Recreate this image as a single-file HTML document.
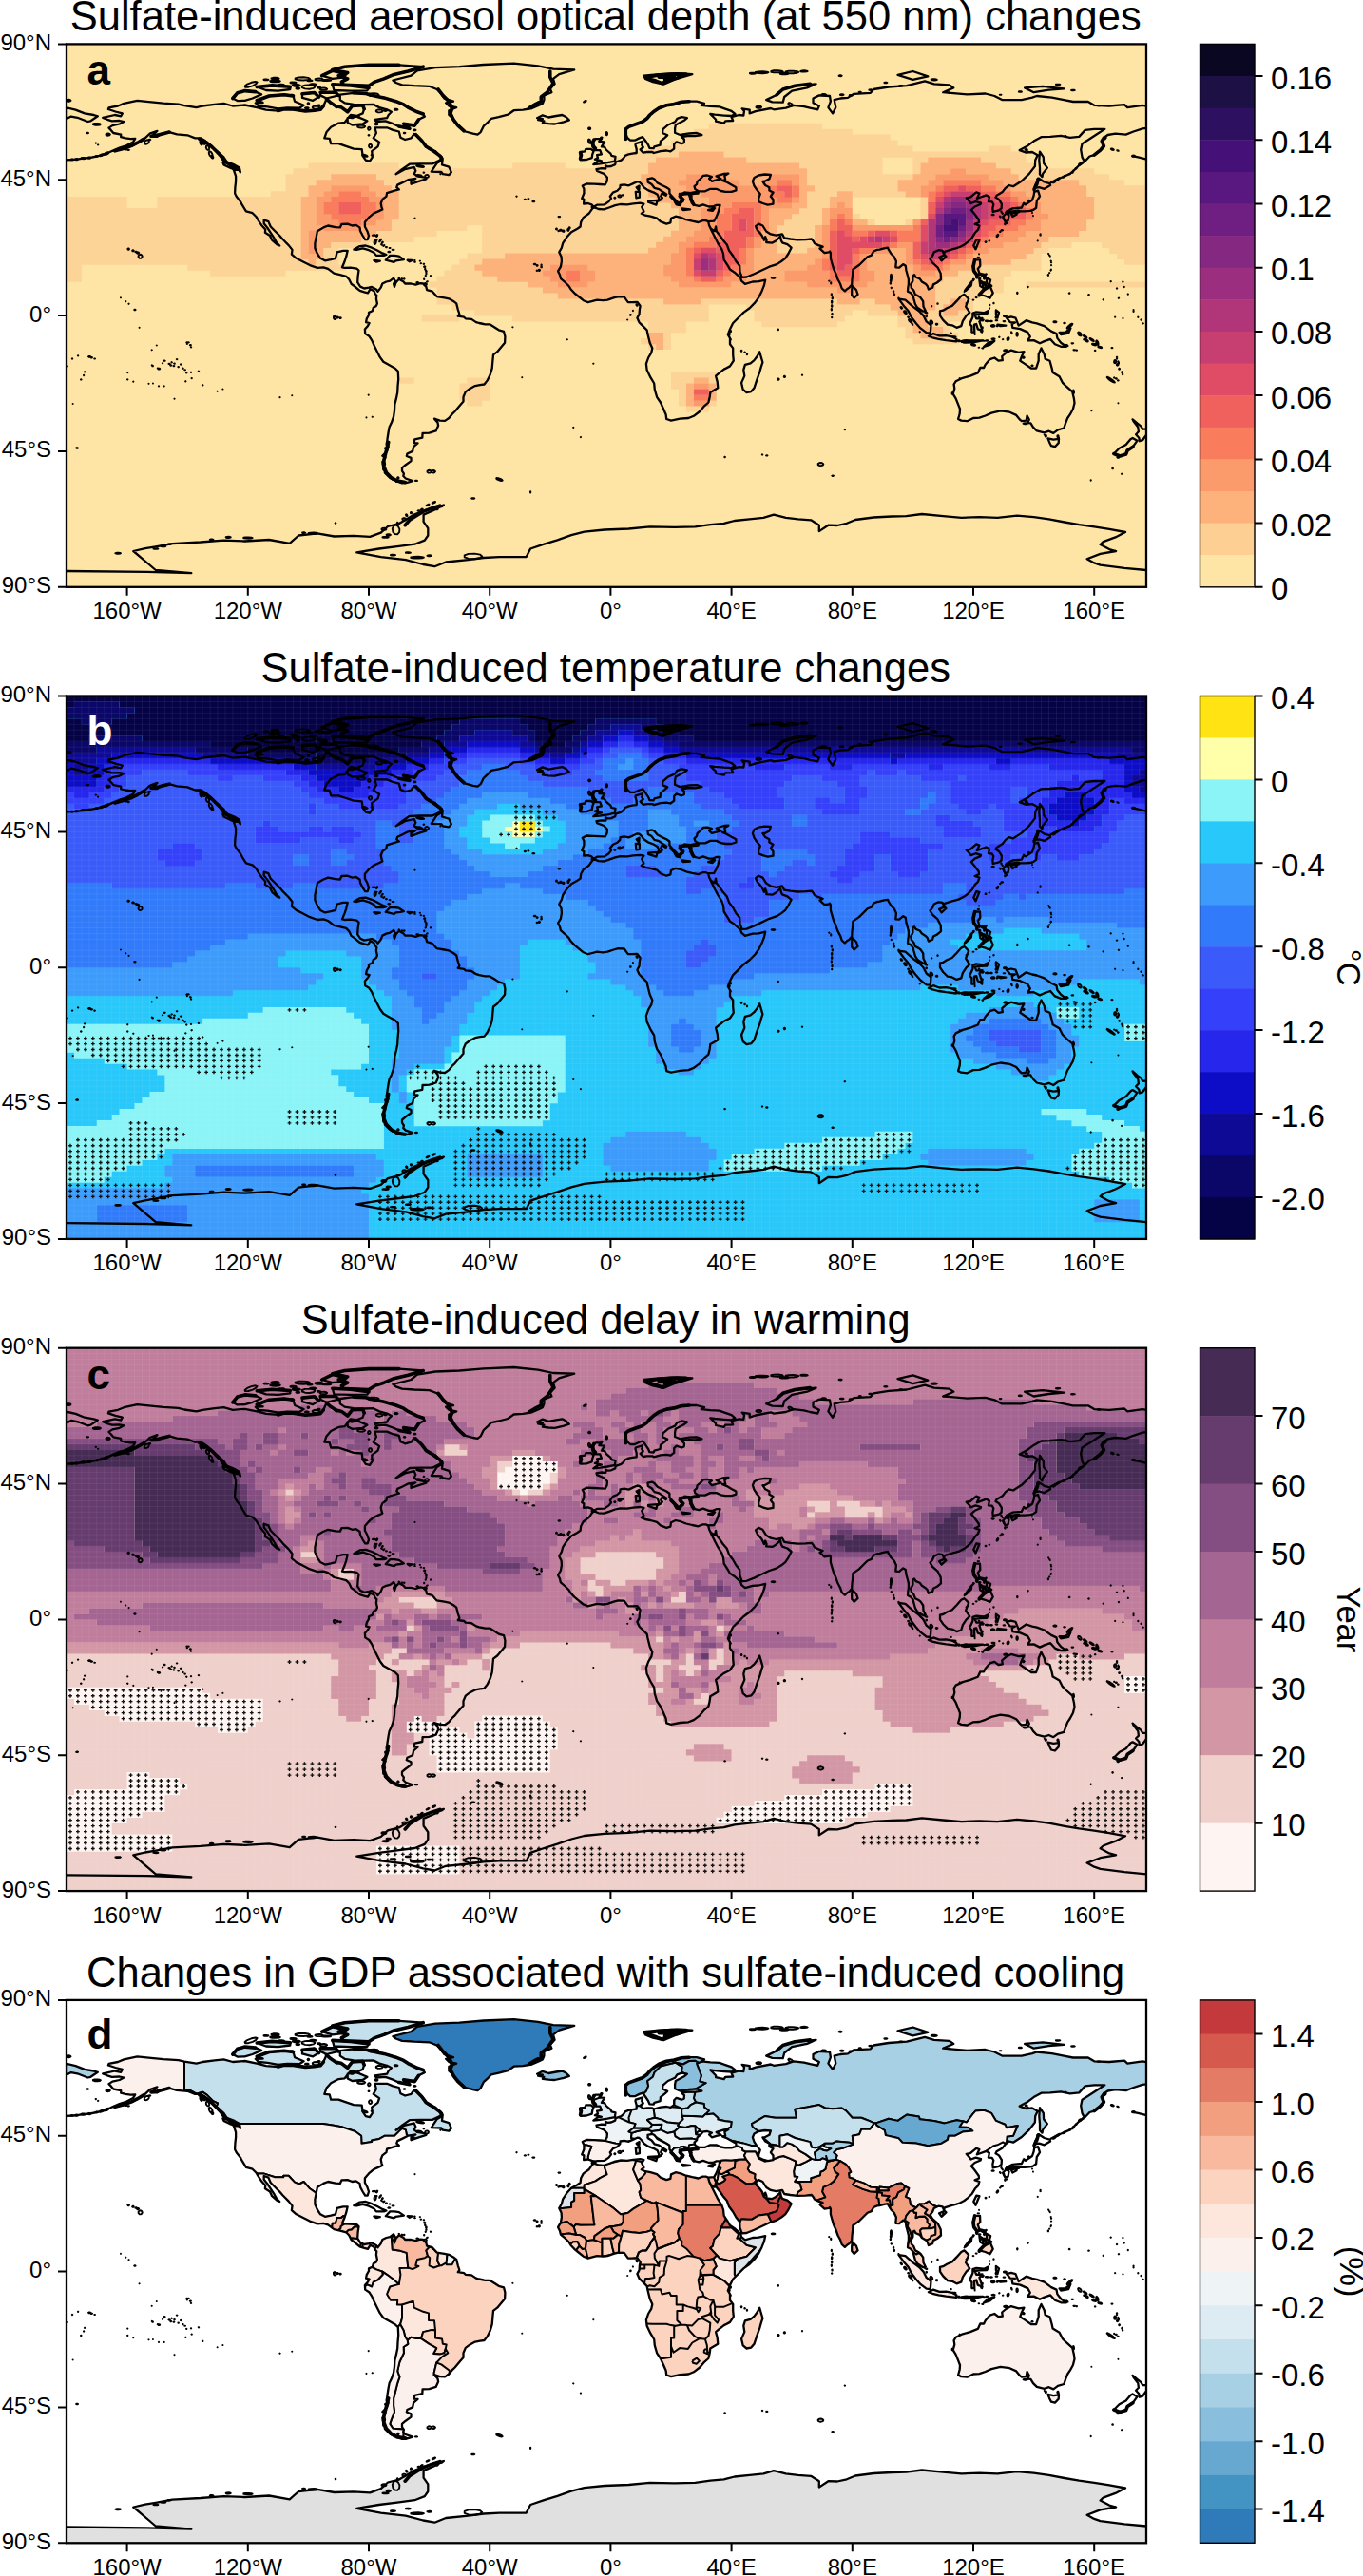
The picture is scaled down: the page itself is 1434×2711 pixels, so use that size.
<!DOCTYPE html><html><head><meta charset="utf-8"><title>Sulfate-induced changes</title>
<style>html,body{margin:0;padding:0;background:#fff}svg{display:block}text{font-family:"Liberation Sans",Arial,Helvetica,sans-serif;fill:#000}.t{font-size:43.5px;text-anchor:middle}.k{font-size:24px}.c{font-size:33px}.l{font-size:44px;font-weight:bold}</style></head><body>
<svg width="1434" height="2711" viewBox="0 0 1434 2711">
<rect width="1434" height="2711" fill="#fff"/>
<g id="panel-a">
<text class="t" x="637.2" y="32.0">Sulfate-induced aerosol optical depth (at 550 nm) changes</text>
<svg x="70.0" y="46.4" width="1136.0" height="571.4" viewBox="0 0 1136.0 571.4" overflow="hidden">
<rect width="1136.0" height="571.4" fill="#FEE5A5"/><path fill="#FDD498" d="M675.8 83.3H795V89.6H675.8ZM659.9 89.3H826.8V95.5H659.9ZM651.9 95.2H866.6V101.5H651.9ZM636 101.2H874.5V107.4H636ZM612.1 107.1H890.4V113.4H612.1ZM969.9 107.1H993.8V113.4H969.9ZM588.3 113.1H644V119.3H588.3ZM691.6 113.1H1009.6V119.3H691.6ZM572.4 119H620.1V125.3H572.4ZM715.5 119H858.6V125.3H715.5ZM890.4 119H906.3V125.3H890.4ZM962 119H1009.6V125.3H962ZM254.4 125H349.8V131.2H254.4ZM469.1 125H524.7V131.2H469.1ZM556.5 125H612.1V131.2H556.5ZM771.1 125H858.6V131.2H771.1ZM890.4 125H898.4V131.2H890.4ZM977.9 125H1017.6V131.2H977.9ZM238.5 130.9H612.1V137.2H238.5ZM779.1 130.9H858.6V137.2H779.1ZM890.4 130.9H898.4V137.2H890.4ZM993.8 130.9H1081.2V137.2H993.8ZM230.6 136.9H278.2V143.1H230.6ZM325.9 136.9H604.2V143.1H325.9ZM779.1 136.9H890.4V143.1H779.1ZM1001.7 136.9H1097.1V143.1H1001.7ZM230.6 142.8H262.4V149.1H230.6ZM333.9 142.8H604.2V149.1H333.9ZM779.1 142.8H874.5V149.1H779.1ZM1065.3 142.8H1113V149.1H1065.3ZM230.6 148.8H254.4V155.1H230.6ZM341.9 148.8H612.1V155.1H341.9ZM787.1 148.8H874.5V155.1H787.1ZM1073.2 148.8H1136.9V155.1H1073.2ZM214.7 154.8H254.4V161H214.7ZM349.8 154.8H612.1V161H349.8ZM779.1 154.8H810.9V161H779.1ZM826.8 154.8H882.5V161H826.8ZM1073.2 154.8H1136.9V161H1073.2ZM0 160.7H63.6V167H0ZM95.4 160.7H246.5V167H95.4ZM349.8 160.7H620.1V167H349.8ZM779.1 160.7H803V167H779.1ZM898.4 160.7H906.3V167H898.4ZM1081.2 160.7H1136.9V167H1081.2ZM0 166.7H63.6V172.9H0ZM95.4 166.7H246.5V172.9H95.4ZM349.8 166.7H636V172.9H349.8ZM779.1 166.7H803V172.9H779.1ZM898.4 166.7H906.3V172.9H898.4ZM1081.2 166.7H1136.9V172.9H1081.2ZM0 172.6H246.5V178.9H0ZM349.8 172.6H644V178.9H349.8ZM771.1 172.6H795V178.9H771.1ZM898.4 172.6H906.3V178.9H898.4ZM1081.2 172.6H1136.9V178.9H1081.2ZM0 178.6H246.5V184.8H0ZM349.8 178.6H644V184.8H349.8ZM763.2 178.6H795V184.8H763.2ZM826.8 178.6H834.8V184.8H826.8ZM898.4 178.6H906.3V184.8H898.4ZM1081.2 178.6H1136.9V184.8H1081.2ZM0 184.5H246.5V190.8H0ZM341.9 184.5H644V190.8H341.9ZM755.2 184.5H795V190.8H755.2ZM842.7 184.5H850.6V190.8H842.7ZM882.5 184.5H890.4V190.8H882.5ZM1073.2 184.5H1136.9V190.8H1073.2ZM0 190.5H246.5V196.7H0ZM341.9 190.5H421.4V196.7H341.9ZM437.2 190.5H644V196.7H437.2ZM747.3 190.5H787.1V196.7H747.3ZM1073.2 190.5H1136.9V196.7H1073.2ZM0 196.4H246.5V202.7H0ZM325.9 196.4H389.6V202.7H325.9ZM437.2 196.4H636V202.7H437.2ZM747.3 196.4H787.1V202.7H747.3ZM1065.3 196.4H1136.9V202.7H1065.3ZM0 202.4H246.5V208.6H0ZM310.1 202.4H365.7V208.6H310.1ZM437.2 202.4H628.1V208.6H437.2ZM747.3 202.4H787.1V208.6H747.3ZM1033.5 202.4H1136.9V208.6H1033.5ZM0 208.3H246.5V214.6H0ZM278.2 208.3H318V214.6H278.2ZM437.2 208.3H620.1V214.6H437.2ZM747.3 208.3H787.1V214.6H747.3ZM1025.5 208.3H1057.4V214.6H1025.5ZM1089.2 208.3H1136.9V214.6H1089.2ZM0 214.3H246.5V220.5H0ZM270.3 214.3H286.2V220.5H270.3ZM437.2 214.3H612.1V220.5H437.2ZM747.3 214.3H779.1V220.5H747.3ZM1017.6 214.3H1033.5V220.5H1017.6ZM1097.1 214.3H1136.9V220.5H1097.1ZM0 220.2H246.5V226.5H0ZM270.3 220.2H286.2V226.5H270.3ZM421.4 220.2H461.1V226.5H421.4ZM1009.6 220.2H1025.5V226.5H1009.6ZM1105 220.2H1136.9V226.5H1105ZM0 226.2H254.4V232.4H0ZM262.4 226.2H286.2V232.4H262.4ZM413.4 226.2H437.2V232.4H413.4ZM993.8 226.2H1025.5V232.4H993.8ZM1113 226.2H1136.9V232.4H1113ZM0 232.1H15.9V238.4H0ZM127.2 232.1H294.2V238.4H127.2ZM405.4 232.1H429.3V238.4H405.4ZM962 232.1H1025.5V238.4H962ZM0 238.1H15.9V244.3H0ZM151.1 238.1H230.6V244.3H151.1ZM397.5 238.1H437.2V244.3H397.5ZM938.1 238.1H993.8V244.3H938.1ZM0 244H15.9V250.3H0ZM389.6 244H453.2V250.3H389.6ZM922.2 244H985.8V250.3H922.2ZM381.6 250H484.9V256.2H381.6ZM914.2 250H985.8V256.2H914.2ZM1009.6 250H1136.9V256.2H1009.6ZM389.6 255.9H500.9V262.2H389.6ZM914.2 255.9H985.8V262.2H914.2ZM389.6 261.9H516.8V268.1H389.6ZM914.2 261.9H962V268.1H914.2ZM389.6 267.8H628.1V274.1H389.6ZM667.8 267.8H810.9V274.1H667.8ZM834.8 267.8H850.6V274.1H834.8ZM914.2 267.8H930.1V274.1H914.2ZM946.1 267.8H954V274.1H946.1ZM405.4 273.8H675.8V280H405.4ZM715.5 273.8H866.6V280H715.5ZM914.2 273.8H922.2V280H914.2ZM946.1 273.8H954V280H946.1ZM429.3 279.7H675.8V286H429.3ZM723.5 279.7H826.8V286H723.5ZM842.7 279.7H874.5V286H842.7ZM906.3 279.7H922.2V286H906.3ZM938.1 279.7H954V286H938.1ZM373.7 285.7H413.4V292H373.7ZM469.1 285.7H675.8V292H469.1ZM723.5 285.7H818.9V292H723.5ZM874.5 285.7H890.4V292H874.5ZM906.3 285.7H946.1V292H906.3ZM612.1 291.7H651.9V297.9H612.1ZM731.4 291.7H810.9V297.9H731.4ZM874.5 291.7H890.4V297.9H874.5ZM906.3 291.7H930.1V297.9H906.3ZM612.1 297.6H651.9V303.9H612.1ZM882.5 297.6H890.4V303.9H882.5ZM922.2 297.6H930.1V303.9H922.2ZM628.1 303.6H636V309.8H628.1ZM882.5 303.6H898.4V309.8H882.5ZM922.2 303.6H938.1V309.8H922.2ZM604.2 309.5H612.1V315.8H604.2ZM628.1 309.5H636V315.8H628.1ZM890.4 309.5H938.1V315.8H890.4ZM612.1 315.5H620.1V321.7H612.1ZM628.1 315.5H636V321.7H628.1ZM636 345.2H683.7V351.5H636ZM349.8 351.2H365.7V357.4H349.8ZM421.4 351.2H445.2V357.4H421.4ZM636 351.2H659.9V357.4H636ZM675.8 351.2H683.7V357.4H675.8ZM413.4 357.1H445.2V363.4H413.4ZM636 357.1H651.9V363.4H636ZM413.4 363.1H445.2V369.3H413.4ZM644 363.1H651.9V369.3H644ZM413.4 369H445.2V375.3H413.4ZM644 369H651.9V375.3H644ZM421.4 375H437.2V381.2H421.4ZM644 375H651.9V381.2H644ZM675.8 375H683.7V381.2H675.8ZM651.9 380.9H675.8V387.2H651.9Z"/><path fill="#FDB17B" d="M644 113.1H691.6V119.3H644ZM620.1 119H715.5V125.3H620.1ZM906.3 119H962V125.3H906.3ZM612.1 125H771.1V131.2H612.1ZM898.4 125H977.9V131.2H898.4ZM612.1 130.9H779.1V137.2H612.1ZM898.4 130.9H930.1V137.2H898.4ZM946.1 130.9H993.8V137.2H946.1ZM278.2 136.9H325.9V143.1H278.2ZM604.2 136.9H651.9V143.1H604.2ZM691.6 136.9H739.4V143.1H691.6ZM771.1 136.9H779.1V143.1H771.1ZM890.4 136.9H914.2V143.1H890.4ZM969.9 136.9H1001.7V143.1H969.9ZM262.4 142.8H333.9V149.1H262.4ZM604.2 142.8H644V149.1H604.2ZM707.6 142.8H731.4V149.1H707.6ZM771.1 142.8H779.1V149.1H771.1ZM874.5 142.8H906.3V149.1H874.5ZM985.8 142.8H1065.3V149.1H985.8ZM254.4 148.8H278.2V155.1H254.4ZM318 148.8H341.9V155.1H318ZM612.1 148.8H651.9V155.1H612.1ZM771.1 148.8H787.1V155.1H771.1ZM874.5 148.8H898.4V155.1H874.5ZM993.8 148.8H1073.2V155.1H993.8ZM254.4 154.8H270.3V161H254.4ZM325.9 154.8H349.8V161H325.9ZM612.1 154.8H667.8V161H612.1ZM771.1 154.8H779.1V161H771.1ZM810.9 154.8H826.8V161H810.9ZM882.5 154.8H898.4V161H882.5ZM1009.6 154.8H1073.2V161H1009.6ZM246.5 160.7H262.4V167H246.5ZM333.9 160.7H349.8V167H333.9ZM620.1 160.7H675.8V167H620.1ZM771.1 160.7H779.1V167H771.1ZM803 160.7H826.8V167H803ZM1017.6 160.7H1081.2V167H1017.6ZM246.5 166.7H262.4V172.9H246.5ZM333.9 166.7H349.8V172.9H333.9ZM636 166.7H675.8V172.9H636ZM763.2 166.7H779.1V172.9H763.2ZM803 166.7H810.9V172.9H803ZM818.9 166.7H826.8V172.9H818.9ZM1025.5 166.7H1081.2V172.9H1025.5ZM246.5 172.6H262.4V178.9H246.5ZM333.9 172.6H349.8V178.9H333.9ZM644 172.6H667.8V178.9H644ZM739.4 172.6H771.1V178.9H739.4ZM795 172.6H803V178.9H795ZM1025.5 172.6H1081.2V178.9H1025.5ZM246.5 178.6H262.4V184.8H246.5ZM333.9 178.6H349.8V184.8H333.9ZM644 178.6H667.8V184.8H644ZM739.4 178.6H763.2V184.8H739.4ZM795 178.6H803V184.8H795ZM1033.5 178.6H1081.2V184.8H1033.5ZM246.5 184.5H262.4V190.8H246.5ZM325.9 184.5H341.9V190.8H325.9ZM644 184.5H667.8V190.8H644ZM739.4 184.5H755.2V190.8H739.4ZM795 184.5H803V190.8H795ZM826.8 184.5H842.7V190.8H826.8ZM1025.5 184.5H1073.2V190.8H1025.5ZM246.5 190.5H270.3V196.7H246.5ZM310.1 190.5H341.9V196.7H310.1ZM644 190.5H667.8V196.7H644ZM739.4 190.5H747.3V196.7H739.4ZM787.1 190.5H795V196.7H787.1ZM1025.5 190.5H1073.2V196.7H1025.5ZM246.5 196.4H254.4V202.7H246.5ZM262.4 196.4H325.9V202.7H262.4ZM636 196.4H659.9V202.7H636ZM731.4 196.4H747.3V202.7H731.4ZM787.1 196.4H795V202.7H787.1ZM1009.6 196.4H1065.3V202.7H1009.6ZM246.5 202.4H254.4V208.6H246.5ZM262.4 202.4H310.1V208.6H262.4ZM628.1 202.4H651.9V208.6H628.1ZM731.4 202.4H747.3V208.6H731.4ZM787.1 202.4H795V208.6H787.1ZM1001.7 202.4H1033.5V208.6H1001.7ZM246.5 208.3H254.4V214.6H246.5ZM262.4 208.3H278.2V214.6H262.4ZM620.1 208.3H644V214.6H620.1ZM731.4 208.3H747.3V214.6H731.4ZM787.1 208.3H795V214.6H787.1ZM985.8 208.3H1025.5V214.6H985.8ZM246.5 214.3H254.4V220.5H246.5ZM262.4 214.3H270.3V220.5H262.4ZM612.1 214.3H644V220.5H612.1ZM723.5 214.3H747.3V220.5H723.5ZM779.1 214.3H795V220.5H779.1ZM866.6 214.3H882.5V220.5H866.6ZM969.9 214.3H1017.6V220.5H969.9ZM246.5 220.2H270.3V226.5H246.5ZM461.1 220.2H636V226.5H461.1ZM723.5 220.2H795V226.5H723.5ZM842.7 220.2H882.5V226.5H842.7ZM954 220.2H1009.6V226.5H954ZM254.4 226.2H262.4V232.4H254.4ZM437.2 226.2H636V232.4H437.2ZM723.5 226.2H787.1V232.4H723.5ZM842.7 226.2H882.5V232.4H842.7ZM946.1 226.2H993.8V232.4H946.1ZM429.3 232.1H508.8V238.4H429.3ZM548.6 232.1H628.1V238.4H548.6ZM723.5 232.1H779.1V238.4H723.5ZM842.7 232.1H890.4V238.4H842.7ZM930.1 232.1H962V238.4H930.1ZM437.2 238.1H500.9V244.3H437.2ZM556.5 238.1H628.1V244.3H556.5ZM723.5 238.1H755.2V244.3H723.5ZM850.6 238.1H890.4V244.3H850.6ZM914.2 238.1H938.1V244.3H914.2ZM453.2 244H508.8V250.3H453.2ZM556.5 244H636V250.3H556.5ZM715.5 244H755.2V250.3H715.5ZM850.6 244H922.2V250.3H850.6ZM484.9 250H516.8V256.2H484.9ZM548.6 250H644V256.2H548.6ZM699.6 250H779.1V256.2H699.6ZM842.7 250H914.2V256.2H842.7ZM500.9 255.9H810.9V262.2H500.9ZM826.8 255.9H914.2V262.2H826.8ZM516.8 261.9H914.2V268.1H516.8ZM628.1 267.8H667.8V274.1H628.1ZM810.9 267.8H834.8V274.1H810.9ZM850.6 267.8H914.2V274.1H850.6ZM930.1 267.8H946.1V274.1H930.1ZM866.6 273.8H914.2V280H866.6ZM922.2 273.8H946.1V280H922.2ZM874.5 279.7H906.3V286H874.5ZM922.2 279.7H938.1V286H922.2ZM890.4 285.7H906.3V292H890.4ZM890.4 291.7H906.3V297.9H890.4ZM890.4 297.6H922.2V303.9H890.4ZM612.1 303.6H628.1V309.8H612.1ZM898.4 303.6H922.2V309.8H898.4ZM612.1 309.5H628.1V315.8H612.1ZM620.1 315.5H628.1V321.7H620.1ZM659.9 351.2H675.8V357.4H659.9ZM651.9 357.1H659.9V363.4H651.9ZM675.8 357.1H683.7V363.4H675.8ZM651.9 363.1H659.9V369.3H651.9ZM675.8 363.1H683.7V369.3H675.8ZM651.9 369H659.9V375.3H651.9ZM675.8 369H683.7V375.3H675.8ZM651.9 375H659.9V381.2H651.9Z"/><path fill="#FB9A6B" d="M930.1 130.9H946.1V137.2H930.1ZM651.9 136.9H691.6V143.1H651.9ZM739.4 136.9H771.1V143.1H739.4ZM914.2 136.9H969.9V143.1H914.2ZM644 142.8H707.6V149.1H644ZM731.4 142.8H747.3V149.1H731.4ZM763.2 142.8H771.1V149.1H763.2ZM906.3 142.8H922.2V149.1H906.3ZM962 142.8H985.8V149.1H962ZM278.2 148.8H318V155.1H278.2ZM651.9 148.8H739.4V155.1H651.9ZM898.4 148.8H914.2V155.1H898.4ZM977.9 148.8H993.8V155.1H977.9ZM270.3 154.8H286.2V161H270.3ZM310.1 154.8H325.9V161H310.1ZM667.8 154.8H739.4V161H667.8ZM898.4 154.8H906.3V161H898.4ZM993.8 154.8H1009.6V161H993.8ZM262.4 160.7H278.2V167H262.4ZM318 160.7H333.9V167H318ZM675.8 160.7H747.3V167H675.8ZM763.2 160.7H771.1V167H763.2ZM1001.7 160.7H1017.6V167H1001.7ZM262.4 166.7H270.3V172.9H262.4ZM325.9 166.7H333.9V172.9H325.9ZM675.8 166.7H699.6V172.9H675.8ZM731.4 166.7H763.2V172.9H731.4ZM810.9 166.7H818.9V172.9H810.9ZM1009.6 166.7H1025.5V172.9H1009.6ZM262.4 172.6H270.3V178.9H262.4ZM325.9 172.6H333.9V178.9H325.9ZM667.8 172.6H691.6V178.9H667.8ZM731.4 172.6H739.4V178.9H731.4ZM803 172.6H826.8V178.9H803ZM1017.6 172.6H1025.5V178.9H1017.6ZM262.4 178.6H278.2V184.8H262.4ZM318 178.6H333.9V184.8H318ZM667.8 178.6H683.7V184.8H667.8ZM731.4 178.6H739.4V184.8H731.4ZM803 178.6H810.9V184.8H803ZM818.9 178.6H826.8V184.8H818.9ZM1017.6 178.6H1033.5V184.8H1017.6ZM262.4 184.5H286.2V190.8H262.4ZM310.1 184.5H325.9V190.8H310.1ZM667.8 184.5H683.7V190.8H667.8ZM731.4 184.5H739.4V190.8H731.4ZM890.4 184.5H898.4V190.8H890.4ZM1009.6 184.5H1025.5V190.8H1009.6ZM270.3 190.5H310.1V196.7H270.3ZM667.8 190.5H683.7V196.7H667.8ZM731.4 190.5H739.4V196.7H731.4ZM795 190.5H803V196.7H795ZM826.8 190.5H890.4V196.7H826.8ZM1001.7 190.5H1025.5V196.7H1001.7ZM254.4 196.4H262.4V202.7H254.4ZM659.9 196.4H683.7V202.7H659.9ZM795 196.4H803V202.7H795ZM985.8 196.4H1009.6V202.7H985.8ZM254.4 202.4H262.4V208.6H254.4ZM651.9 202.4H675.8V208.6H651.9ZM723.5 202.4H731.4V208.6H723.5ZM795 202.4H803V208.6H795ZM969.9 202.4H1001.7V208.6H969.9ZM254.4 208.3H262.4V214.6H254.4ZM644 208.3H659.9V214.6H644ZM723.5 208.3H731.4V214.6H723.5ZM795 208.3H803V214.6H795ZM874.5 208.3H890.4V214.6H874.5ZM962 208.3H985.8V214.6H962ZM254.4 214.3H262.4V220.5H254.4ZM644 214.3H651.9V220.5H644ZM715.5 214.3H723.5V220.5H715.5ZM795 214.3H803V220.5H795ZM850.6 214.3H866.6V220.5H850.6ZM882.5 214.3H890.4V220.5H882.5ZM954 214.3H969.9V220.5H954ZM636 220.2H651.9V226.5H636ZM715.5 220.2H723.5V226.5H715.5ZM795 220.2H803V226.5H795ZM834.8 220.2H842.7V226.5H834.8ZM882.5 220.2H890.4V226.5H882.5ZM946.1 220.2H954V226.5H946.1ZM636 226.2H651.9V232.4H636ZM715.5 226.2H723.5V232.4H715.5ZM787.1 226.2H795V232.4H787.1ZM834.8 226.2H842.7V232.4H834.8ZM882.5 226.2H890.4V232.4H882.5ZM930.1 226.2H946.1V232.4H930.1ZM508.8 232.1H548.6V238.4H508.8ZM628.1 232.1H651.9V238.4H628.1ZM707.6 232.1H723.5V238.4H707.6ZM779.1 232.1H795V238.4H779.1ZM834.8 232.1H842.7V238.4H834.8ZM890.4 232.1H898.4V238.4H890.4ZM922.2 232.1H930.1V238.4H922.2ZM500.9 238.1H524.7V244.3H500.9ZM540.6 238.1H556.5V244.3H540.6ZM628.1 238.1H651.9V244.3H628.1ZM699.6 238.1H723.5V244.3H699.6ZM755.2 238.1H803V244.3H755.2ZM834.8 238.1H850.6V244.3H834.8ZM890.4 238.1H914.2V244.3H890.4ZM508.8 244H524.7V250.3H508.8ZM540.6 244H556.5V250.3H540.6ZM636 244H659.9V250.3H636ZM691.6 244H715.5V250.3H691.6ZM755.2 244H803V250.3H755.2ZM834.8 244H850.6V250.3H834.8ZM516.8 250H548.6V256.2H516.8ZM644 250H699.6V256.2H644ZM779.1 250H842.7V256.2H779.1ZM810.9 255.9H826.8V262.2H810.9ZM659.9 357.1H675.8V363.4H659.9ZM659.9 375H675.8V381.2H659.9Z"/><path fill="#F97C5D" d="M747.3 142.8H763.2V149.1H747.3ZM922.2 142.8H962V149.1H922.2ZM739.4 148.8H747.3V155.1H739.4ZM763.2 148.8H771.1V155.1H763.2ZM914.2 148.8H922.2V155.1H914.2ZM962 148.8H977.9V155.1H962ZM286.2 154.8H310.1V161H286.2ZM739.4 154.8H755.2V161H739.4ZM763.2 154.8H771.1V161H763.2ZM906.3 154.8H914.2V161H906.3ZM977.9 154.8H993.8V161H977.9ZM278.2 160.7H318V167H278.2ZM747.3 160.7H763.2V167H747.3ZM906.3 160.7H914.2V167H906.3ZM993.8 160.7H1001.7V167H993.8ZM270.3 166.7H286.2V172.9H270.3ZM310.1 166.7H325.9V172.9H310.1ZM699.6 166.7H731.4V172.9H699.6ZM1001.7 166.7H1009.6V172.9H1001.7ZM270.3 172.6H286.2V178.9H270.3ZM310.1 172.6H325.9V178.9H310.1ZM691.6 172.6H707.6V178.9H691.6ZM723.5 172.6H731.4V178.9H723.5ZM1009.6 172.6H1017.6V178.9H1009.6ZM278.2 178.6H318V184.8H278.2ZM683.7 178.6H699.6V184.8H683.7ZM723.5 178.6H731.4V184.8H723.5ZM810.9 178.6H818.9V184.8H810.9ZM1009.6 178.6H1017.6V184.8H1009.6ZM286.2 184.5H310.1V190.8H286.2ZM683.7 184.5H699.6V190.8H683.7ZM723.5 184.5H731.4V190.8H723.5ZM803 184.5H810.9V190.8H803ZM818.9 184.5H826.8V190.8H818.9ZM993.8 184.5H1009.6V190.8H993.8ZM683.7 190.5H699.6V196.7H683.7ZM723.5 190.5H731.4V196.7H723.5ZM803 190.5H810.9V196.7H803ZM890.4 190.5H898.4V196.7H890.4ZM977.9 190.5H1001.7V196.7H977.9ZM683.7 196.4H691.6V202.7H683.7ZM723.5 196.4H731.4V202.7H723.5ZM826.8 196.4H842.7V202.7H826.8ZM874.5 196.4H898.4V202.7H874.5ZM969.9 196.4H985.8V202.7H969.9ZM675.8 202.4H691.6V208.6H675.8ZM715.5 202.4H723.5V208.6H715.5ZM874.5 202.4H898.4V208.6H874.5ZM962 202.4H969.9V208.6H962ZM659.9 208.3H683.7V214.6H659.9ZM715.5 208.3H723.5V214.6H715.5ZM866.6 208.3H874.5V214.6H866.6ZM954 208.3H962V214.6H954ZM651.9 214.3H659.9V220.5H651.9ZM707.6 214.3H715.5V220.5H707.6ZM834.8 214.3H850.6V220.5H834.8ZM946.1 214.3H954V220.5H946.1ZM651.9 220.2H659.9V226.5H651.9ZM707.6 220.2H715.5V226.5H707.6ZM826.8 220.2H834.8V226.5H826.8ZM938.1 220.2H946.1V226.5H938.1ZM651.9 226.2H659.9V232.4H651.9ZM707.6 226.2H715.5V232.4H707.6ZM795 226.2H803V232.4H795ZM826.8 226.2H834.8V232.4H826.8ZM890.4 226.2H898.4V232.4H890.4ZM922.2 226.2H930.1V232.4H922.2ZM651.9 232.1H659.9V238.4H651.9ZM699.6 232.1H707.6V238.4H699.6ZM795 232.1H803V238.4H795ZM826.8 232.1H834.8V238.4H826.8ZM898.4 232.1H922.2V238.4H898.4ZM524.7 238.1H540.6V244.3H524.7ZM651.9 238.1H659.9V244.3H651.9ZM691.6 238.1H699.6V244.3H691.6ZM803 238.1H810.9V244.3H803ZM826.8 238.1H834.8V244.3H826.8ZM524.7 244H540.6V250.3H524.7ZM659.9 244H667.8V250.3H659.9ZM683.7 244H691.6V250.3H683.7ZM803 244H834.8V250.3H803ZM659.9 369H675.8V375.3H659.9Z"/><path fill="#F0605D" d="M747.3 148.8H763.2V155.1H747.3ZM922.2 148.8H938.1V155.1H922.2ZM946.1 148.8H962V155.1H946.1ZM755.2 154.8H763.2V161H755.2ZM914.2 154.8H922.2V161H914.2ZM962 154.8H977.9V161H962ZM977.9 160.7H993.8V167H977.9ZM286.2 166.7H310.1V172.9H286.2ZM906.3 166.7H914.2V172.9H906.3ZM993.8 166.7H1001.7V172.9H993.8ZM286.2 172.6H310.1V178.9H286.2ZM707.6 172.6H723.5V178.9H707.6ZM906.3 172.6H914.2V178.9H906.3ZM993.8 172.6H1009.6V178.9H993.8ZM699.6 178.6H723.5V184.8H699.6ZM985.8 178.6H1009.6V184.8H985.8ZM699.6 184.5H707.6V190.8H699.6ZM715.5 184.5H723.5V190.8H715.5ZM810.9 184.5H818.9V190.8H810.9ZM898.4 184.5H906.3V190.8H898.4ZM969.9 184.5H993.8V190.8H969.9ZM699.6 190.5H707.6V196.7H699.6ZM715.5 190.5H723.5V196.7H715.5ZM810.9 190.5H826.8V196.7H810.9ZM962 190.5H977.9V196.7H962ZM691.6 196.4H723.5V202.7H691.6ZM803 196.4H810.9V202.7H803ZM818.9 196.4H826.8V202.7H818.9ZM842.7 196.4H850.6V202.7H842.7ZM866.6 196.4H874.5V202.7H866.6ZM962 196.4H969.9V202.7H962ZM691.6 202.4H715.5V208.6H691.6ZM803 202.4H810.9V208.6H803ZM826.8 202.4H834.8V208.6H826.8ZM954 202.4H962V208.6H954ZM683.7 208.3H715.5V214.6H683.7ZM803 208.3H810.9V214.6H803ZM858.6 208.3H866.6V214.6H858.6ZM890.4 208.3H898.4V214.6H890.4ZM946.1 208.3H954V214.6H946.1ZM659.9 214.3H667.8V220.5H659.9ZM683.7 214.3H707.6V220.5H683.7ZM803 214.3H810.9V220.5H803ZM826.8 214.3H834.8V220.5H826.8ZM890.4 214.3H898.4V220.5H890.4ZM938.1 214.3H946.1V220.5H938.1ZM691.6 220.2H707.6V226.5H691.6ZM803 220.2H810.9V226.5H803ZM890.4 220.2H898.4V226.5H890.4ZM930.1 220.2H938.1V226.5H930.1ZM691.6 226.2H707.6V232.4H691.6ZM803 226.2H810.9V232.4H803ZM898.4 226.2H906.3V232.4H898.4ZM914.2 226.2H922.2V232.4H914.2ZM691.6 232.1H699.6V238.4H691.6ZM803 232.1H810.9V238.4H803ZM818.9 232.1H826.8V238.4H818.9ZM683.7 238.1H691.6V244.3H683.7ZM810.9 238.1H826.8V244.3H810.9ZM667.8 244H683.7V250.3H667.8ZM659.9 363.1H675.8V369.3H659.9Z"/><path fill="#E04B65" d="M938.1 148.8H946.1V155.1H938.1ZM922.2 154.8H930.1V161H922.2ZM954 154.8H962V161H954ZM914.2 160.7H922.2V167H914.2ZM962 160.7H977.9V167H962ZM969.9 166.7H993.8V172.9H969.9ZM969.9 172.6H993.8V178.9H969.9ZM906.3 178.6H914.2V184.8H906.3ZM969.9 178.6H985.8V184.8H969.9ZM707.6 184.5H715.5V190.8H707.6ZM962 184.5H969.9V190.8H962ZM707.6 190.5H715.5V196.7H707.6ZM898.4 190.5H906.3V196.7H898.4ZM810.9 196.4H818.9V202.7H810.9ZM850.6 196.4H866.6V202.7H850.6ZM898.4 196.4H906.3V202.7H898.4ZM954 196.4H962V202.7H954ZM810.9 202.4H826.8V208.6H810.9ZM834.8 202.4H842.7V208.6H834.8ZM866.6 202.4H874.5V208.6H866.6ZM898.4 202.4H906.3V208.6H898.4ZM810.9 208.3H858.6V214.6H810.9ZM667.8 214.3H683.7V220.5H667.8ZM810.9 214.3H826.8V220.5H810.9ZM930.1 214.3H938.1V220.5H930.1ZM659.9 220.2H667.8V226.5H659.9ZM683.7 220.2H691.6V226.5H683.7ZM810.9 220.2H826.8V226.5H810.9ZM898.4 220.2H906.3V226.5H898.4ZM922.2 220.2H930.1V226.5H922.2ZM683.7 226.2H691.6V232.4H683.7ZM810.9 226.2H826.8V232.4H810.9ZM906.3 226.2H914.2V232.4H906.3ZM683.7 232.1H691.6V238.4H683.7ZM810.9 232.1H818.9V238.4H810.9ZM659.9 238.1H667.8V244.3H659.9Z"/><path fill="#C73E70" d="M930.1 154.8H954V161H930.1ZM954 160.7H962V167H954ZM914.2 166.7H922.2V172.9H914.2ZM962 166.7H969.9V172.9H962ZM962 172.6H969.9V178.9H962ZM962 178.6H969.9V184.8H962ZM954 184.5H962V190.8H954ZM954 190.5H962V196.7H954ZM842.7 202.4H850.6V208.6H842.7ZM858.6 202.4H866.6V208.6H858.6ZM946.1 202.4H954V208.6H946.1ZM898.4 208.3H906.3V214.6H898.4ZM938.1 208.3H946.1V214.6H938.1ZM898.4 214.3H906.3V220.5H898.4ZM922.2 214.3H930.1V220.5H922.2ZM675.8 220.2H683.7V226.5H675.8ZM906.3 220.2H922.2V226.5H906.3ZM659.9 226.2H667.8V232.4H659.9ZM659.9 232.1H667.8V238.4H659.9ZM667.8 238.1H683.7V244.3H667.8Z"/><path fill="#B03579" d="M922.2 160.7H930.1V167H922.2ZM946.1 160.7H954V167H946.1ZM954 166.7H962V172.9H954ZM914.2 172.6H922.2V178.9H914.2ZM954 172.6H962V178.9H954ZM954 178.6H962V184.8H954ZM906.3 184.5H914.2V190.8H906.3ZM906.3 190.5H914.2V196.7H906.3ZM906.3 196.4H914.2V202.7H906.3ZM946.1 196.4H954V202.7H946.1ZM850.6 202.4H858.6V208.6H850.6ZM906.3 202.4H914.2V208.6H906.3ZM906.3 208.3H914.2V214.6H906.3ZM930.1 208.3H938.1V214.6H930.1ZM906.3 214.3H922.2V220.5H906.3ZM667.8 220.2H675.8V226.5H667.8ZM675.8 226.2H683.7V232.4H675.8ZM675.8 232.1H683.7V238.4H675.8Z"/><path fill="#9C2E7F" d="M930.1 160.7H946.1V167H930.1ZM922.2 166.7H930.1V172.9H922.2ZM946.1 166.7H954V172.9H946.1ZM946.1 184.5H954V190.8H946.1ZM946.1 190.5H954V196.7H946.1ZM938.1 202.4H946.1V208.6H938.1ZM914.2 208.3H930.1V214.6H914.2ZM667.8 226.2H675.8V232.4H667.8ZM667.8 232.1H675.8V238.4H667.8Z"/><path fill="#852882" d="M930.1 166.7H946.1V172.9H930.1ZM922.2 172.6H930.1V178.9H922.2ZM946.1 172.6H954V178.9H946.1ZM914.2 178.6H922.2V184.8H914.2ZM946.1 178.6H954V184.8H946.1ZM914.2 184.5H922.2V190.8H914.2ZM938.1 196.4H946.1V202.7H938.1ZM914.2 202.4H922.2V208.6H914.2ZM930.1 202.4H938.1V208.6H930.1Z"/><path fill="#6E1F81" d="M930.1 172.6H946.1V178.9H930.1ZM914.2 190.5H922.2V196.7H914.2ZM938.1 190.5H946.1V196.7H938.1ZM914.2 196.4H922.2V202.7H914.2ZM922.2 202.4H930.1V208.6H922.2Z"/><path fill="#591780" d="M922.2 178.6H946.1V184.8H922.2ZM922.2 184.5H930.1V190.8H922.2ZM938.1 184.5H946.1V190.8H938.1ZM922.2 196.4H938.1V202.7H922.2Z"/><path fill="#451077" d="M930.1 184.5H938.1V190.8H930.1ZM922.2 190.5H938.1V196.7H922.2Z"/>
<path id="coast" d="M38.2 77.5L50.9 74.6L57.2 75.9L58.8 73.0L51.5 71.1L43.9 68.6L44.5 67.0L54.1 65.1L60.4 62.5L74.4 59.4L89.0 60.9L101.8 62.2L117.7 63.2L124.0 64.8L136.7 66.7L143.1 65.1L155.8 63.5L165.4 62.5L174.9 65.1L187.6 64.1L200.3 66.7L209.9 69.2L222.6 70.2L229.0 68.3L238.5 68.6L251.2 70.5L260.8 69.8L267.1 68.9L270.3 65.1L273.5 57.8L278.2 61.9L283.0 65.1L289.4 66.7L295.7 71.4L300.5 65.1L311.6 64.4L313.2 68.3L311.6 73.0L305.3 75.6L298.9 74.6L295.7 78.4L292.6 82.5L286.2 83.2L278.2 87.3L273.5 92.7L271.3 99.0L276.7 99.4L278.2 104.8L286.2 104.8L292.6 107.0L302.1 110.2L310.7 110.8L311.6 117.5L314.8 122.2L319.0 123.2L321.8 119.0L321.2 112.7L327.5 107.9L329.1 103.2L322.8 99.0L325.9 93.6L324.4 87.9L337.1 87.9L343.4 90.5L349.8 92.1L351.4 98.4L356.2 100.6L362.5 99.0L365.7 94.6L368.9 96.8L375.2 103.2L378.4 107.9L381.6 110.5L388.0 112.7L391.1 115.9L395.0 119.0L392.7 122.2L384.8 126.0L372.1 126.0L360.9 126.3L353.0 131.7L346.6 136.8L356.2 131.7L365.7 129.5L367.3 133.3L365.7 136.5L368.9 139.0L376.8 140.3L378.4 141.9L370.5 144.4L362.5 147.3L362.5 144.4L367.3 141.6L359.3 142.8L353.0 146.0L348.2 148.2L347.3 150.8L349.8 153.0L345.0 154.3L337.1 156.8L336.4 160.3L332.3 163.5L330.7 167.6L331.4 171.4L332.3 174.0L327.5 176.2L322.8 178.4L318.0 182.5L313.9 187.3L313.9 192.1L316.4 196.8L318.0 201.6L316.7 205.7L314.2 205.7L311.6 201.6L309.1 196.8L308.5 193.0L304.6 190.5L300.5 191.1L295.7 189.2L289.4 189.5L287.8 193.0L283.0 192.7L275.1 191.1L270.3 193.0L263.9 196.8L262.7 203.2L261.4 209.5L261.4 214.9L263.9 220.6L267.1 225.4L271.9 227.9L278.2 226.7L283.0 225.4L284.6 219.0L291.0 217.4L295.7 217.4L294.2 223.8L292.6 228.6L290.0 234.9L292.6 235.5L298.9 235.2L305.3 236.2L307.5 238.1L306.6 244.4L306.2 250.8L309.1 255.2L313.2 257.1L318.0 256.2L321.2 255.5L325.9 258.1L327.5 260.3L330.7 256.2L332.3 252.1L336.4 250.1L340.3 249.2L344.1 246.3L345.7 249.2L344.1 252.4L345.0 255.5L346.6 250.8L349.8 247.3L354.6 250.1L356.2 252.1L362.5 252.1L367.3 253.3L372.1 251.7L375.2 252.1L378.4 255.5L379.1 258.7L384.8 260.3L389.6 265.7L397.5 267.0L402.3 267.9L407.0 270.5L410.2 273.0L411.8 279.4L413.4 284.1L411.8 286.3L418.2 287.3L419.8 288.9L426.1 289.5L430.9 292.7L434.1 293.6L440.4 294.9L445.2 294.9L450.0 297.8L454.7 300.9L460.1 302.5L461.4 307.9L461.1 314.3L456.3 320.0L453.2 323.8L449.0 327.0L448.4 333.3L447.7 341.3L445.8 347.6L442.7 354.0L439.5 358.1L435.0 358.7L429.9 359.7L424.5 362.5L419.8 366.0L417.5 371.4L417.5 376.2L413.4 380.9L408.6 386.6L406.1 388.9L402.3 393.6L398.1 396.5L392.7 396.2L387.0 394.3L390.5 398.4L391.1 401.6L388.6 407.0L381.6 409.2L374.6 409.5L374.3 414.3L366.3 415.9L365.7 419.7L369.5 420.0L365.1 423.8L364.1 428.5L358.4 431.1L357.8 433.6L362.5 435.5L362.5 438.7L356.8 442.8L353.0 446.0L353.0 449.2L354.9 452.0L354.3 454.6L356.8 457.1L364.1 459.7L359.3 461.2L353.0 461.9L346.6 459.7L340.3 456.5L335.5 451.7L333.3 446.0L332.3 439.7L335.5 434.9L332.3 433.3L337.1 428.5L338.7 423.8L337.1 419.0L337.7 414.3L338.7 407.9L339.6 403.2L341.9 398.4L344.1 392.0L345.0 385.7L345.3 379.3L346.9 373.0L348.2 366.6L348.5 360.3L349.2 352.4L348.8 344.4L345.7 341.3L338.7 337.4L333.3 334.3L329.8 329.5L326.9 323.8L323.7 317.4L321.2 311.7L318.3 307.3L314.2 304.7L313.9 300.0L317.0 296.5L318.6 293.6L315.1 292.7L315.8 288.9L318.0 285.1L318.0 282.5L321.8 280.9L322.8 277.4L325.9 275.5L326.9 273.0L325.9 268.2L326.3 264.4L324.7 262.8L323.4 259.7L319.6 257.8L317.0 261.9L313.2 260.9L308.5 259.4L302.7 254.6L299.6 252.4L297.3 247.6L294.2 244.4L287.8 242.8L281.4 241.3L275.1 236.5L270.3 234.9L263.9 235.5L256.0 232.7L248.0 228.6L241.7 225.4L236.9 221.3L237.5 216.5L233.7 211.7L227.4 205.4L224.2 201.6L219.4 196.8L214.7 192.1L212.4 186.7L207.7 185.1L207.7 188.9L211.5 193.6L214.7 198.4L218.8 204.8L221.0 208.9L224.2 212.1L221.6 211.1L216.2 206.3L214.0 201.6L208.9 198.4L209.2 195.2L205.1 190.5L201.9 185.7L199.7 181.9L195.6 177.8L188.9 175.9L185.1 169.8L182.9 165.7L178.7 160.3L177.1 157.1L177.4 150.8L178.1 144.4L178.1 139.0L175.9 132.4L181.3 132.4L182.9 134.9L181.9 130.2L176.5 127.0L168.5 123.8L165.4 119.0L159.0 113.3L154.2 109.5L147.9 103.2L141.5 99.0L135.2 99.0L127.2 95.9L116.1 94.9L108.1 92.7L100.2 94.3L95.4 97.5L89.7 97.5L95.4 91.4L87.5 94.3L82.7 99.0L74.7 104.1L68.4 107.3L60.4 110.2L52.5 111.7L48.3 112.4L55.7 109.2L62.0 107.3L70.0 103.2L72.2 99.4L67.4 99.7L62.0 99.0L57.2 97.8L57.2 95.2L49.3 93.6L46.7 90.5L44.5 88.2L48.3 85.7L55.7 84.1L60.4 81.6L55.7 80.6L47.7 80.9L42.9 79.4L38.2 77.5ZM343.4 38.1L362.5 33.3L368.9 27.9L388.0 24.8L413.4 23.8L438.8 21.6L470.6 20.3L496.1 22.9L512.0 26.3L534.2 27.0L518.3 31.7L512.0 36.5L513.6 41.9L508.8 47.0L510.4 50.8L502.4 54.0L502.4 58.7L500.9 62.5L496.1 64.8L489.7 67.6L480.2 69.2L470.6 69.8L464.3 74.3L454.7 76.8L446.8 78.4L443.6 81.9L438.8 86.3L435.7 92.7L432.5 95.2L427.7 94.3L419.8 92.1L415.0 87.9L410.2 83.2L407.0 78.7L402.3 74.6L402.3 69.8L410.2 66.7L402.3 65.1L399.1 61.9L407.0 60.3L397.5 57.1L394.3 52.4L389.6 47.6L381.6 44.4L365.7 43.8L353.0 42.9L346.6 40.6L343.4 38.1ZM495.1 77.8L500.9 74.9L507.2 77.1L515.2 75.6L521.5 74.6L525.7 76.8L528.8 80.0L523.1 81.9L513.6 84.1L507.2 83.8L500.9 82.9L502.4 80.9L496.1 79.7L500.9 78.7L495.1 77.8ZM302.1 51.4L314.8 52.1L324.4 54.6L333.9 56.5L346.6 60.3L354.6 63.5L359.3 66.7L368.9 71.4L375.2 73.6L376.8 76.2L370.5 79.4L366.3 85.7L354.6 83.8L360.9 88.9L349.8 86.7L343.4 83.8L335.5 80.9L325.9 81.6L324.4 79.4L337.1 77.8L338.7 74.6L341.9 71.4L337.1 68.9L329.1 66.7L322.8 63.5L313.2 63.8L302.1 63.5L292.6 61.9L287.8 58.7L287.8 53.3L302.1 51.4ZM200.3 59.4L213.1 54.6L229.0 53.3L238.5 54.6L240.1 60.3L249.6 64.4L244.9 67.3L232.1 67.0L222.6 67.9L211.5 66.0L201.9 65.1L198.8 61.9L206.7 61.6L200.3 59.4ZM174.9 57.1L179.7 51.4L187.6 49.2L198.8 50.2L205.1 53.0L195.6 57.1L187.6 59.4L179.7 59.7L174.9 57.1ZM292.6 42.9L318.0 43.8L324.4 39.7L333.9 36.5L343.4 32.4L359.3 28.6L375.2 23.8L349.8 21.9L318.0 21.9L292.6 23.8L279.8 27.0L295.7 30.2L286.2 33.3L295.7 36.5L289.4 39.7L292.6 42.9ZM279.8 42.5L298.9 43.5L318.0 46.0L316.4 48.9L298.9 49.2L281.4 48.6L279.8 42.5ZM268.7 33.3L279.8 27.9L294.2 31.1L292.6 34.9L279.8 36.5L268.7 33.3ZM200.3 45.1L216.2 43.5L235.3 44.8L235.3 47.6L222.6 49.2L209.9 48.6L200.3 45.1ZM248.0 52.4L260.8 51.1L265.5 55.6L259.2 59.4L248.0 56.5L248.0 52.4ZM267.1 50.8L283.0 50.8L286.2 54.0L273.5 57.1L267.1 54.0L267.1 50.8ZM295.7 77.8L305.3 76.2L316.4 80.9L311.6 84.1L300.5 85.1L295.7 82.5L295.7 77.8ZM383.8 134.3L389.6 125.4L395.6 121.9L395.0 127.0L402.3 129.2L404.8 134.9L402.3 137.8L395.9 136.8L394.3 134.6L383.8 134.3ZM164.4 124.4L173.3 126.3L179.7 130.8L179.7 132.4L173.3 130.8L165.4 127.0L164.4 124.4ZM302.4 216.2L308.5 212.7L314.8 212.1L321.2 214.3L327.5 217.4L332.3 220.0L336.4 221.6L333.9 222.5L325.9 222.5L323.7 219.7L318.0 216.8L311.6 214.9L305.3 216.5L302.4 216.2ZM335.8 227.3L340.3 222.5L345.0 222.5L349.8 223.2L354.9 226.7L351.4 227.3L346.6 227.9L344.4 229.5L338.7 227.9L335.8 227.3ZM323.4 227.6L329.8 228.2L325.9 229.2L323.4 227.6ZM358.7 227.3L363.5 227.6L360.9 228.9L358.7 227.3ZM675.1 186.7L681.2 186.3L683.4 182.5L685.6 177.1L686.6 173.0L687.5 169.5L683.7 169.5L679.9 171.1L675.8 171.1L669.7 168.9L665.3 170.5L659.9 169.2L658.9 165.7L656.0 163.8L657.6 160.3L655.7 158.7L659.9 157.5L664.6 157.1L664.9 155.2L663.0 155.5L659.9 155.9L655.7 156.8L650.3 155.9L648.1 158.1L644.9 157.5L644.9 160.3L646.5 162.5L648.7 165.1L646.2 165.4L645.9 169.8L641.7 168.9L639.8 165.7L640.1 163.8L637.0 160.3L634.4 157.1L634.4 153.0L631.2 150.8L626.5 148.6L621.7 146.0L618.5 142.2L616.0 140.9L611.5 141.9L611.8 145.4L615.6 147.6L618.5 151.4L623.3 152.7L631.2 158.1L630.6 159.4L626.5 157.1L625.2 160.0L626.8 161.9L624.9 164.1L622.3 165.2L623.3 162.5L621.7 158.4L617.9 156.2L612.1 154.0L607.4 150.8L605.2 147.6L602.6 145.1L600.4 144.8L596.2 146.7L591.5 148.9L586.7 147.9L582.6 148.6L582.3 151.4L579.4 154.3L574.9 156.2L571.8 160.3L573.0 162.5L570.5 165.7L566.0 168.9L558.1 169.2L554.6 171.4L552.4 168.9L548.6 167.6L544.1 168.2L544.4 163.5L542.2 162.5L544.4 157.1L544.4 152.4L542.8 149.2L547.0 147.0L554.9 147.3L561.3 147.6L566.7 147.9L568.6 144.4L568.9 140.3L565.4 136.5L558.1 133.6L557.5 131.7L562.9 130.8L567.3 131.1L567.0 127.9L569.2 128.9L573.0 128.6L577.2 126.7L577.8 124.1L583.5 122.2L586.1 120.0L587.7 117.5L591.5 115.9L595.3 115.2L599.7 114.6L599.7 110.5L598.5 106.3L598.8 104.8L606.1 102.5L605.2 106.3L606.7 108.6L603.6 111.1L606.7 114.3L610.6 113.6L616.3 113.6L617.9 114.6L624.9 112.7L631.2 112.1L635.4 113.0L639.2 110.2L639.2 105.4L641.7 102.9L647.1 104.8L649.7 103.8L650.0 100.3L647.1 97.8L655.1 96.5L661.4 96.8L668.4 95.6L663.0 93.6L655.1 94.0L645.5 95.6L640.1 93.3L640.1 88.9L640.8 85.1L650.3 80.0L652.9 77.8L647.1 76.8L642.4 78.4L640.1 81.9L632.8 85.1L627.4 89.8L627.1 93.6L632.2 95.9L629.6 98.4L624.9 102.2L624.6 106.3L618.5 107.9L617.6 109.8L613.4 109.5L612.1 106.3L609.0 101.6L606.1 97.8L602.6 99.0L597.8 101.3L593.1 101.3L589.9 98.4L588.3 93.6L588.3 89.5L591.5 87.0L599.4 84.1L605.8 81.9L610.6 78.4L613.7 74.6L618.5 70.5L623.3 67.3L631.2 64.4L639.2 63.2L647.1 60.9L655.1 60.3L663.0 60.3L671.0 62.5L667.8 64.4L677.3 65.4L686.9 66.0L699.6 70.5L703.4 73.6L699.6 75.6L691.7 75.2L682.1 74.3L677.3 73.6L683.1 79.4L683.1 81.3L691.7 83.2L693.2 80.9L701.2 80.6L699.6 76.8L707.6 74.6L712.3 75.2L713.0 70.5L710.7 67.9L718.7 69.2L718.7 73.0L725.0 70.8L740.9 67.6L744.1 68.9L756.8 67.3L764.8 64.4L775.9 65.7L782.3 67.3L790.2 68.9L791.8 65.1L785.5 61.9L785.5 57.1L791.8 54.0L803.0 54.6L803.9 60.3L801.4 66.7L806.1 73.0L809.3 66.7L807.7 58.7L814.1 57.1L822.0 56.5L828.4 52.4L845.9 51.4L849.1 47.6L865.0 45.1L884.0 43.8L903.1 39.0L912.7 41.9L928.6 42.9L933.3 46.0L922.2 50.8L930.2 51.4L947.6 53.0L966.7 52.1L976.3 54.6L984.2 58.7L992.2 58.7L1004.9 58.7L1016.0 56.2L1020.8 54.6L1036.7 56.2L1049.4 58.7L1058.9 60.6L1074.8 60.6L1081.2 64.4L1097.1 65.1L1113.0 63.8L1116.2 66.7L1132.1 64.4L1144.8 67.0L1154.3 69.2L1163.9 73.0L1173.4 74.6L1177.6 75.9L1170.2 80.9L1167.1 81.6L1157.5 77.8L1149.6 76.2L1144.8 78.7L1140.0 80.9L1136.9 80.3L1142.6 85.7L1143.2 87.6L1132.1 88.9L1122.5 92.1L1114.6 95.2L1103.5 94.3L1095.5 95.6L1091.7 98.4L1089.2 102.2L1091.4 107.3L1087.6 111.7L1081.2 116.8L1076.4 118.1L1071.0 123.8L1068.5 119.0L1067.2 111.1L1068.5 104.8L1074.8 100.9L1084.4 94.6L1092.3 89.5L1081.2 89.5L1071.7 90.5L1065.3 97.5L1055.8 98.4L1046.2 96.5L1035.1 97.5L1025.5 97.8L1017.6 102.2L1011.2 107.0L1002.7 111.7L1009.7 114.3L1016.0 113.6L1021.7 116.8L1019.2 122.2L1018.9 128.6L1012.8 136.5L1004.9 144.1L996.0 149.8L991.5 148.6L988.0 151.4L984.8 155.5L978.5 159.4L977.5 161.3L981.0 163.5L983.9 168.2L983.6 173.0L981.0 174.9L974.7 176.5L974.4 172.7L975.3 168.6L973.7 166.0L969.9 165.7L970.9 160.9L967.7 159.0L960.4 161.6L957.8 162.5L960.4 157.1L957.2 155.9L950.8 161.3L946.7 161.9L950.2 165.7L951.5 167.6L956.5 165.7L962.0 167.3L961.6 168.6L955.6 171.1L951.8 174.6L955.0 178.4L959.7 184.8L960.0 187.6L955.6 189.5L960.4 191.1L959.1 195.2L955.9 198.4L952.7 203.8L948.6 207.9L944.5 211.1L939.7 213.6L935.6 214.9L931.7 215.9L927.0 217.4L923.8 218.4L923.2 221.3L921.6 217.4L917.4 216.8L912.7 219.0L911.1 222.8L908.5 226.0L911.1 230.1L916.5 234.9L919.7 241.3L920.0 247.6L915.8 251.1L912.0 253.0L911.1 256.2L906.9 258.1L905.7 254.6L904.1 252.7L899.9 250.1L897.7 247.0L893.6 245.4L892.0 242.8L890.4 243.8L890.4 249.2L888.2 253.0L888.8 256.5L891.4 259.4L892.9 263.5L896.1 265.1L898.4 266.7L901.2 270.8L901.5 276.2L903.8 280.9L901.2 281.3L895.2 277.4L892.9 273.6L891.4 268.2L890.7 265.1L888.2 261.9L885.0 260.3L885.3 256.5L885.9 252.4L885.9 247.6L884.7 242.8L883.4 238.1L882.8 233.3L880.2 231.7L876.1 235.2L872.3 234.9L872.9 228.6L870.7 223.8L867.5 220.6L865.0 216.5L864.0 214.3L860.2 214.9L855.4 216.2L852.9 216.5L849.1 218.1L846.8 222.2L842.7 223.8L837.9 228.6L834.1 232.4L830.6 234.9L827.4 237.1L827.1 242.8L826.5 247.6L826.2 253.0L823.6 256.2L821.1 257.8L818.9 260.0L815.7 257.1L814.1 252.4L811.5 247.6L809.3 241.3L807.1 236.5L805.2 230.1L803.9 225.4L803.9 219.7L803.0 218.1L802.0 219.0L797.5 219.7L792.5 215.2L795.6 213.3L791.2 211.7L787.1 209.8L785.5 207.0L783.9 205.1L777.5 205.7L768.9 206.0L761.6 205.1L755.2 204.1L753.0 200.0L746.7 201.3L740.9 200.0L736.2 197.1L732.4 191.1L728.2 189.2L726.6 190.5L725.0 191.7L726.9 195.9L729.8 199.0L731.7 201.6L733.9 206.3L735.2 202.8L736.5 206.3L736.2 208.6L742.5 209.2L746.3 207.0L751.1 202.5L751.8 206.3L753.0 208.9L758.4 210.8L762.6 214.3L759.4 220.6L756.2 225.4L752.1 228.6L747.3 231.7L739.4 234.3L731.4 238.1L723.5 241.9L715.5 245.1L710.7 245.4L708.5 239.7L708.2 233.3L704.4 228.6L701.2 222.8L697.1 217.4L694.8 211.1L690.7 206.3L687.5 201.6L683.7 196.8L683.1 192.1L681.8 196.8L678.0 194.3L676.1 190.8L675.1 186.7ZM-469.7 186.7L-463.6 186.3L-461.4 182.5L-459.2 177.1L-458.2 173.0L-457.3 169.5L-461.1 169.5L-464.9 171.1L-469.1 171.1L-475.1 168.9L-479.5 170.5L-485.0 169.2L-485.9 165.7L-488.8 163.8L-487.2 160.3L-489.1 158.7L-485.0 157.5L-480.2 157.1L-479.9 155.2L-481.8 155.5L-485.0 155.9L-489.1 156.8L-494.5 155.9L-496.7 158.1L-499.9 157.5L-499.9 160.3L-498.3 162.5L-496.1 165.1L-498.6 165.4L-498.9 169.8L-503.1 168.9L-505.0 165.7L-504.7 163.8L-507.8 160.3L-510.4 157.1L-510.4 153.0L-513.6 150.8L-518.3 148.6L-523.1 146.0L-526.3 142.2L-528.8 140.9L-533.3 141.9L-533.0 145.4L-529.2 147.6L-526.3 151.4L-521.5 152.7L-513.6 158.1L-514.2 159.4L-518.3 157.1L-519.6 160.0L-518.0 161.9L-519.9 164.1L-522.5 165.2L-521.5 162.5L-523.1 158.4L-526.9 156.2L-532.6 154.0L-537.4 150.8L-539.6 147.6L-542.2 145.1L-544.4 144.8L-548.6 146.7L-553.3 148.9L-558.1 147.9L-562.2 148.6L-562.5 151.4L-565.4 154.3L-569.9 156.2L-573.0 160.3L-571.8 162.5L-574.3 165.7L-578.8 168.9L-586.7 169.2L-590.2 171.4L-592.4 168.9L-596.2 167.6L-600.7 168.2L-600.4 163.5L-602.6 162.5L-600.4 157.1L-600.4 152.4L-602.0 149.2L-597.8 147.0L-589.9 147.3L-583.5 147.6L-578.1 147.9L-576.2 144.4L-575.9 140.3L-579.4 136.5L-586.7 133.6L-587.3 131.7L-581.9 130.8L-577.5 131.1L-577.8 127.9L-575.6 128.9L-571.8 128.6L-567.6 126.7L-567.0 124.1L-561.3 122.2L-558.7 120.0L-557.1 117.5L-553.3 115.9L-549.5 115.2L-545.1 114.6L-545.1 110.5L-546.3 106.3L-546.0 104.8L-538.7 102.5L-539.6 106.3L-538.1 108.6L-541.2 111.1L-538.1 114.3L-534.2 113.6L-528.5 113.6L-526.9 114.6L-519.9 112.7L-513.6 112.1L-509.4 113.0L-505.6 110.2L-505.6 105.4L-503.1 102.9L-497.7 104.8L-495.1 103.8L-494.8 100.3L-497.7 97.8L-489.7 96.5L-483.4 96.8L-476.4 95.6L-481.8 93.6L-489.7 94.0L-499.3 95.6L-504.7 93.3L-504.7 88.9L-504.0 85.1L-494.5 80.0L-491.9 77.8L-497.7 76.8L-502.4 78.4L-504.7 81.9L-512.0 85.1L-517.4 89.8L-517.7 93.6L-512.6 95.9L-515.2 98.4L-519.9 102.2L-520.2 106.3L-526.3 107.9L-527.2 109.8L-531.4 109.5L-532.6 106.3L-535.8 101.6L-538.7 97.8L-542.2 99.0L-547.0 101.3L-551.7 101.3L-554.9 98.4L-556.5 93.6L-556.5 89.5L-553.3 87.0L-545.4 84.1L-539.0 81.9L-534.2 78.4L-531.1 74.6L-526.3 70.5L-521.5 67.3L-513.6 64.4L-505.6 63.2L-497.7 60.9L-489.7 60.3L-481.8 60.3L-473.8 62.5L-477.0 64.4L-467.5 65.4L-457.9 66.0L-445.2 70.5L-441.4 73.6L-445.2 75.6L-453.2 75.2L-462.7 74.3L-467.5 73.6L-461.7 79.4L-461.7 81.3L-453.2 83.2L-451.6 80.9L-443.6 80.6L-445.2 76.8L-437.2 74.6L-432.5 75.2L-431.8 70.5L-434.1 67.9L-426.1 69.2L-426.1 73.0L-419.8 70.8L-403.9 67.6L-400.7 68.9L-388.0 67.3L-380.0 64.4L-368.9 65.7L-362.5 67.3L-354.6 68.9L-353.0 65.1L-359.3 61.9L-359.3 57.1L-353.0 54.0L-341.9 54.6L-340.9 60.3L-343.4 66.7L-338.7 73.0L-335.5 66.7L-337.1 58.7L-330.7 57.1L-322.8 56.5L-316.4 52.4L-298.9 51.4L-295.7 47.6L-279.8 45.1L-260.8 43.8L-241.7 39.0L-232.1 41.9L-216.2 42.9L-211.5 46.0L-222.6 50.8L-214.7 51.4L-197.2 53.0L-178.1 52.1L-168.5 54.6L-160.6 58.7L-152.6 58.7L-139.9 58.7L-128.8 56.2L-124.0 54.6L-108.1 56.2L-95.4 58.7L-85.9 60.6L-70.0 60.6L-63.6 64.4L-47.7 65.1L-31.8 63.8L-28.6 66.7L-12.7 64.4L0.0 67.0L9.5 69.2L19.1 73.0L28.6 74.6L32.8 75.9L25.4 80.9L22.3 81.6L12.7 77.8L4.8 76.2L0.0 78.7L-4.8 80.9L-8.0 80.3L-2.2 85.7L-1.6 87.6L-12.7 88.9L-22.3 92.1L-30.2 95.2L-41.3 94.3L-49.3 95.6L-53.1 98.4L-55.7 102.2L-53.4 107.3L-57.2 111.7L-63.6 116.8L-68.4 118.1L-73.8 123.8L-76.3 119.0L-77.6 111.1L-76.3 104.8L-70.0 100.9L-60.4 94.6L-52.5 89.5L-63.6 89.5L-73.1 90.5L-79.5 97.5L-89.0 98.4L-98.6 96.5L-109.7 97.5L-119.2 97.8L-127.2 102.2L-133.6 107.0L-142.1 111.7L-135.2 114.3L-128.8 113.6L-123.1 116.8L-125.6 122.2L-125.9 128.6L-132.0 136.5L-139.9 144.1L-148.8 149.8L-153.3 148.6L-156.8 151.4L-160.0 155.5L-166.3 159.4L-167.3 161.3L-163.8 163.5L-160.9 168.2L-161.2 173.0L-163.8 174.9L-170.1 176.5L-170.4 172.7L-169.5 168.6L-171.1 166.0L-174.9 165.7L-173.9 160.9L-177.1 159.0L-184.4 161.6L-187.0 162.5L-184.4 157.1L-187.6 155.9L-194.0 161.3L-198.1 161.9L-194.6 165.7L-193.3 167.6L-188.3 165.7L-182.9 167.3L-183.2 168.6L-189.2 171.1L-193.0 174.6L-189.8 178.4L-185.1 184.8L-184.8 187.6L-189.2 189.5L-184.4 191.1L-185.7 195.2L-188.9 198.4L-192.1 203.8L-196.2 207.9L-200.3 211.1L-205.1 213.6L-209.2 214.9L-213.1 215.9L-217.8 217.4L-221.0 218.4L-221.6 221.3L-223.2 217.4L-227.4 216.8L-232.1 219.0L-233.7 222.8L-236.3 226.0L-233.7 230.1L-228.3 234.9L-225.1 241.3L-224.8 247.6L-229.0 251.1L-232.8 253.0L-233.7 256.2L-237.9 258.1L-239.1 254.6L-240.7 252.7L-244.9 250.1L-247.1 247.0L-251.2 245.4L-252.8 242.8L-254.4 243.8L-254.4 249.2L-256.6 253.0L-256.0 256.5L-253.4 259.4L-251.9 263.5L-248.7 265.1L-246.5 266.7L-243.6 270.8L-243.3 276.2L-241.0 280.9L-243.6 281.3L-249.6 277.4L-251.9 273.6L-253.4 268.2L-254.1 265.1L-256.6 261.9L-259.8 260.3L-259.5 256.5L-258.9 252.4L-258.9 247.6L-260.1 242.8L-261.4 238.1L-262.0 233.3L-264.6 231.7L-268.7 235.2L-272.5 234.9L-271.9 228.6L-274.1 223.8L-277.3 220.6L-279.8 216.5L-280.8 214.3L-284.6 214.9L-289.4 216.2L-291.9 216.5L-295.7 218.1L-298.0 222.2L-302.1 223.8L-306.9 228.6L-310.7 232.4L-314.2 234.9L-317.4 237.1L-317.7 242.8L-318.3 247.6L-318.6 253.0L-321.2 256.2L-323.7 257.8L-325.9 260.0L-329.1 257.1L-330.7 252.4L-333.3 247.6L-335.5 241.3L-337.7 236.5L-339.6 230.1L-340.9 225.4L-340.9 219.7L-341.9 218.1L-342.8 219.0L-347.3 219.7L-352.3 215.2L-349.2 213.3L-353.6 211.7L-357.8 209.8L-359.3 207.0L-360.9 205.1L-367.3 205.7L-375.9 206.0L-383.2 205.1L-389.6 204.1L-391.8 200.0L-398.1 201.3L-403.9 200.0L-408.6 197.1L-412.4 191.1L-416.6 189.2L-418.2 190.5L-419.8 191.7L-417.9 195.9L-415.0 199.0L-413.1 201.6L-410.9 206.3L-409.6 202.8L-408.3 206.3L-408.6 208.6L-402.3 209.2L-398.5 207.0L-393.7 202.5L-393.0 206.3L-391.8 208.9L-386.4 210.8L-382.2 214.3L-385.4 220.6L-388.6 225.4L-392.7 228.6L-397.5 231.7L-405.5 234.3L-413.4 238.1L-421.4 241.9L-429.3 245.1L-434.1 245.4L-436.3 239.7L-436.6 233.3L-440.4 228.6L-443.6 222.8L-447.7 217.4L-450.0 211.1L-454.1 206.3L-457.3 201.6L-461.1 196.8L-461.7 192.1L-463.0 196.8L-466.8 194.3L-468.7 190.8L-469.7 186.7ZM0.0 67.0L9.5 69.2L19.1 73.0L28.6 74.6L32.8 75.9L25.4 80.9L22.3 81.6L12.7 77.8L4.8 76.2L0.0 78.7ZM676.1 190.8L678.9 196.8L682.1 203.2L685.3 209.5L689.4 215.9L691.0 220.6L691.7 227.0L695.8 233.3L698.0 237.1L702.8 240.3L709.1 246.0L710.1 249.2L713.9 252.4L721.9 250.1L728.2 249.8L735.2 248.2L733.9 254.0L731.4 260.3L728.2 266.7L724.4 272.0L718.7 277.8L712.3 282.5L706.0 288.9L701.2 293.6L698.0 300.0L695.8 305.7L698.0 309.5L698.0 315.9L701.2 320.0L701.2 327.0L701.8 333.3L698.0 339.0L691.7 342.2L686.9 346.0L683.1 349.2L684.7 355.5L685.3 361.9L677.3 366.6L676.7 371.4L675.4 377.1L671.0 380.9L666.2 386.6L659.9 391.4L654.4 393.6L645.5 394.3L636.0 396.2L631.2 394.6L630.6 389.8L628.1 384.1L624.9 377.1L621.1 371.4L618.8 363.5L618.2 357.1L614.4 350.8L610.6 342.8L609.9 336.5L612.1 330.1L615.3 324.7L616.3 320.0L613.7 314.3L611.5 305.4L610.6 300.9L607.4 297.8L602.6 293.0L600.4 288.2L602.6 284.1L602.9 279.4L603.6 275.5L600.4 271.4L594.7 271.7L590.8 271.7L586.7 266.0L580.4 265.7L575.6 267.0L569.2 269.2L564.5 269.8L558.1 269.2L553.3 270.5L548.6 271.7L543.8 269.8L538.1 265.1L534.2 261.9L530.4 257.8L528.5 254.6L524.7 250.8L519.9 246.7L519.0 242.8L517.1 239.0L519.9 234.3L520.9 228.6L520.6 223.8L518.3 219.0L520.9 214.3L522.2 209.5L526.3 203.2L531.1 197.8L537.4 194.3L540.6 192.1L541.2 187.3L543.8 182.5L549.5 178.4L553.3 173.0L554.9 171.7L559.7 173.6L565.4 174.0L570.8 172.1L577.2 169.8L582.6 168.6L589.9 168.9L596.2 167.9L603.6 167.3L607.4 168.2L605.2 171.4L607.4 176.2L604.8 178.4L609.0 180.3L614.4 181.3L621.1 183.2L624.9 186.7L631.2 189.2L635.4 187.9L636.0 183.5L640.8 181.3L646.2 182.5L651.9 184.8L658.3 186.3L664.6 187.6L669.4 185.7L672.6 185.7L675.1 186.7L676.1 190.8ZM729.2 323.8L732.4 334.9L730.8 339.7L729.5 344.4L726.6 352.4L723.5 361.9L720.3 365.7L715.5 366.6L711.7 363.5L710.1 356.5L713.3 349.2L712.3 342.8L713.9 337.4L719.6 335.9L723.5 332.7L726.6 328.6L729.2 323.8ZM554.3 126.7L561.3 126.0L569.2 124.8L576.9 123.2L577.5 118.4L573.4 117.5L572.4 115.2L567.6 111.1L566.0 108.2L562.9 107.9L566.0 102.9L560.3 102.5L562.9 99.7L556.5 99.7L554.0 103.2L554.9 107.0L557.1 109.5L556.5 111.7L561.3 111.7L562.9 115.9L558.1 116.8L559.0 119.7L555.9 121.3L561.3 122.5L562.9 122.9L558.7 123.5L554.3 126.7ZM540.6 121.9L547.0 121.6L552.7 119.7L553.3 115.9L554.6 112.7L551.7 110.5L546.3 110.5L545.4 113.0L540.6 113.6L542.2 116.8L540.6 120.0L540.6 121.9ZM612.1 165.1L621.7 164.4L620.4 169.2L612.1 166.3L612.1 165.1ZM598.8 155.5L602.9 155.5L602.9 161.3L599.4 161.9L598.8 155.5ZM599.7 150.8L602.6 149.2L602.3 154.0L599.7 150.8ZM647.4 173.0L656.0 174.0L648.7 174.6L647.4 173.0ZM675.1 174.6L682.1 172.7L679.6 175.5L675.1 174.6ZM664.9 154.9L661.4 152.7L660.5 149.8L663.0 147.6L663.7 144.4L666.8 141.9L670.0 138.4L674.2 138.1L678.9 139.7L676.1 141.6L678.9 144.4L684.7 142.8L688.5 141.9L683.7 139.0L691.7 136.5L696.4 136.2L692.3 138.7L693.2 142.8L690.1 143.5L694.8 145.4L699.6 148.2L704.4 150.8L704.4 154.0L699.6 155.5L693.2 155.5L688.5 154.6L683.7 152.4L677.3 152.4L671.9 154.9L664.9 154.9ZM728.2 138.1L734.6 137.1L740.9 137.5L739.4 141.9L734.6 144.4L732.4 144.4L735.2 148.6L739.4 150.8L739.4 154.0L743.5 156.2L740.9 160.3L743.5 163.5L743.5 168.2L737.8 169.2L732.4 167.6L728.2 165.7L728.2 162.5L729.8 157.8L726.0 153.0L723.5 149.2L721.9 144.4L723.5 140.6L728.2 138.1ZM988.7 177.8L993.8 176.8L1001.7 175.9L1008.1 175.9L1013.8 175.5L1017.0 174.6L1020.1 172.4L1020.8 165.1L1024.0 160.3L1022.1 154.3L1018.2 155.5L1017.6 159.4L1016.0 164.1L1009.0 168.9L1007.1 167.3L1004.9 172.1L995.3 173.0L989.0 176.2L988.7 177.8ZM988.7 178.1L991.5 180.3L990.6 185.7L987.4 186.7L985.2 181.6L988.7 178.1ZM993.8 178.4L1000.1 177.1L999.5 179.4L995.3 181.6L993.8 178.4ZM1017.6 154.0L1019.2 148.2L1023.3 141.6L1028.7 145.1L1034.5 146.7L1035.1 148.6L1028.7 152.4L1023.3 150.8L1018.6 151.4L1017.6 154.0ZM1024.0 113.3L1027.8 119.0L1028.1 125.4L1031.9 130.2L1027.1 136.5L1026.5 139.7L1024.0 137.1L1024.0 130.2L1023.3 122.2L1024.0 113.3ZM957.2 205.7L960.4 206.3L956.5 215.9L954.3 212.1L957.2 205.7ZM918.1 224.4L923.8 221.9L925.4 223.5L920.6 227.9L918.1 224.4ZM826.8 254.6L830.9 258.7L832.5 263.5L828.7 267.0L826.2 264.1L826.2 258.7L826.8 254.6ZM955.6 227.0L961.0 227.0L961.3 233.3L958.8 236.5L960.4 241.3L966.7 242.8L966.7 245.7L962.0 242.8L957.2 242.2L954.6 238.7L953.7 234.0L955.6 227.0ZM960.4 263.5L965.1 258.7L971.5 254.6L974.7 261.9L971.5 267.3L966.7 265.1L960.4 263.5ZM967.7 246.0L972.1 248.2L970.5 254.0L968.3 251.4L967.7 246.0ZM960.4 248.2L964.2 250.8L964.2 256.5L961.3 254.6L960.4 248.2ZM945.1 259.4L952.4 249.8L951.8 254.0L946.1 259.4L945.1 259.4ZM919.0 280.9L922.2 280.3L926.3 277.8L931.7 275.5L936.5 270.5L941.3 265.1L944.5 263.5L949.2 268.2L947.6 272.0L946.1 276.2L950.2 282.5L946.7 285.7L942.9 291.4L941.3 296.8L936.5 298.4L931.7 295.9L927.0 295.2L922.2 290.5L919.0 285.7L919.0 280.9ZM875.5 268.2L882.5 269.2L890.4 276.2L896.8 280.9L901.5 285.7L904.7 292.0L909.5 295.9L908.8 304.1L904.7 303.8L898.4 299.0L893.6 293.6L888.8 287.3L885.6 280.9L880.9 275.5L875.5 268.2ZM906.9 307.3L912.0 304.7L918.4 307.0L925.4 306.7L931.7 307.9L936.5 310.5L935.9 313.0L925.4 311.7L917.4 310.5L911.1 308.9L906.9 307.3ZM953.4 283.2L957.2 281.9L965.1 282.8L969.9 280.6L968.3 284.1L960.4 284.4L955.6 285.1L957.2 288.9L963.5 288.6L960.4 292.0L962.0 296.8L963.5 301.6L958.8 300.0L957.2 294.6L955.0 295.2L955.3 303.2L952.4 303.2L952.4 296.8L950.2 294.3L953.4 287.3L953.4 283.2ZM989.0 288.2L993.8 287.0L998.5 288.2L1001.7 296.2L1009.7 290.8L1016.0 293.0L1020.8 294.0L1028.7 296.8L1036.0 302.2L1041.5 304.7L1042.4 309.5L1046.2 314.3L1051.9 318.4L1046.2 318.4L1039.9 315.9L1035.1 310.5L1028.7 312.7L1024.0 314.9L1017.6 311.7L1011.2 312.0L1013.8 307.9L1011.2 303.2L1003.3 299.7L995.3 298.4L994.7 294.6L997.9 293.0L992.8 292.7L989.0 288.2ZM965.1 318.4L969.9 314.3L976.3 312.4L971.5 316.5L965.1 318.4ZM941.3 312.7L950.8 312.0L963.5 312.0L954.0 314.0L944.5 314.3L941.3 312.7ZM977.9 280.0L981.0 282.5L979.4 288.2L977.9 284.1L977.9 280.0ZM979.4 295.2L988.3 296.2L982.6 296.8L979.4 295.2ZM1044.6 303.5L1051.0 303.2L1056.4 299.0L1054.2 304.1L1046.2 305.7L1044.6 303.5ZM935.6 354.9L942.9 351.4L950.8 349.2L958.8 346.0L961.3 340.6L965.1 340.6L966.7 337.4L971.5 331.7L976.3 330.1L980.4 333.3L984.8 332.7L984.2 328.6L988.3 325.1L993.8 322.2L1001.7 324.4L1007.4 323.8L1004.9 328.6L1003.3 333.3L1008.1 336.5L1015.1 341.3L1020.1 341.3L1022.7 333.3L1022.7 326.3L1025.5 320.0L1028.7 326.3L1029.7 331.4L1034.5 333.3L1036.7 341.3L1037.6 345.7L1044.6 349.8L1047.8 356.2L1051.9 360.3L1058.3 366.0L1059.9 373.0L1060.5 377.8L1058.9 384.1L1055.8 389.8L1053.2 393.6L1051.0 399.3L1049.4 404.1L1043.0 406.0L1038.3 409.5L1033.5 407.3L1028.7 408.9L1020.8 407.0L1017.0 403.2L1014.4 399.0L1011.2 398.7L1012.8 395.2L1010.6 391.1L1009.7 396.2L1004.9 396.8L1003.3 395.5L999.2 390.5L992.2 387.3L982.6 386.0L973.1 388.2L966.7 391.1L960.4 393.3L954.0 393.6L947.6 396.8L941.3 396.2L938.1 394.6L939.7 388.9L940.0 384.1L938.1 379.3L935.6 373.0L932.7 368.2L934.3 362.5L933.6 358.1L935.6 354.9ZM1032.5 414.9L1038.3 416.2L1044.0 415.5L1043.7 419.7L1039.9 423.8L1036.0 422.8L1034.1 419.0L1032.5 414.9ZM1121.6 394.9L1126.7 399.3L1130.5 402.2L1132.1 405.1L1139.7 405.4L1136.9 410.5L1135.3 412.4L1132.1 416.8L1128.9 417.8L1128.3 414.3L1125.1 410.8L1127.9 407.9L1127.3 403.2L1122.5 396.8L1121.6 394.9ZM1121.6 414.6L1126.4 417.4L1121.9 423.8L1116.2 427.6L1114.6 431.7L1108.2 433.6L1101.9 431.1L1107.6 425.4L1114.6 421.6L1119.4 415.9L1121.6 414.6ZM736.2 58.7L747.3 53.3L753.7 47.6L766.4 43.8L788.6 41.9L779.1 46.0L763.2 49.2L755.2 55.6L753.7 61.3L742.5 60.9L736.2 58.7ZM607.4 33.3L623.3 31.7L642.4 30.8L658.3 31.7L645.5 35.6L639.2 37.5L628.1 42.2L616.9 39.7L609.0 36.5L607.4 33.3ZM874.5 32.4L890.4 28.6L906.3 34.0L890.4 37.5L874.5 32.4ZM1008.1 46.0L1027.1 44.4L1049.4 47.0L1033.5 48.3L1017.6 50.8L1008.1 46.0ZM0.0 554.6L84.6 555.5L131.3 556.8L93.8 553.6L86.8 547.6L70.3 533.6L82.7 530.8L93.8 528.9L111.3 525.7L140.9 524.1L165.4 522.2L187.6 523.1L213.1 521.6L234.7 525.4L244.2 517.1L263.9 514.9L281.7 518.1L302.1 517.4L319.3 518.4L330.7 514.3L338.0 507.6L349.8 504.7L356.8 500.6L365.7 495.2L375.6 491.1L388.0 487.3L396.9 485.1L386.4 490.5L375.6 495.2L375.6 502.8L380.3 509.5L380.3 517.1L376.8 522.2L366.3 526.3L349.8 528.5L328.8 531.1L305.3 534.9L330.7 539.7L356.8 542.8L375.2 547.6L387.3 549.8L399.1 545.1L422.6 542.8L438.8 540.6L455.4 539.7L483.7 539.7L488.1 531.1L502.4 526.3L516.4 521.9L531.1 516.8L544.7 513.3L566.0 511.1L591.5 510.1L613.7 507.9L639.8 508.5L661.4 507.9L677.3 505.7L691.7 504.4L702.8 501.6L718.7 500.0L733.3 498.4L744.1 495.2L756.8 498.4L769.6 500.0L783.2 500.9L791.8 506.3L791.8 512.7L801.4 506.3L810.9 506.6L820.8 504.4L830.0 500.6L849.1 498.1L868.1 497.1L883.4 496.8L899.9 494.6L922.2 496.8L941.6 498.4L960.4 497.8L979.4 498.4L1000.1 496.2L1017.6 497.8L1033.5 500.0L1050.0 503.1L1065.3 505.7L1081.2 507.9L1097.1 510.5L1114.0 513.6L1103.5 519.0L1090.7 523.8L1087.6 526.6L1097.1 531.7L1104.1 533.6L1087.6 536.5L1073.6 541.9L1081.2 546.0L1087.6 548.2L1113.0 551.4L1135.9 553.6L1144.8 554.3M0.0 121.9L6.4 121.6L11.1 121.3L17.5 120.3L23.9 119.7L31.8 118.1L37.2 116.8L42.9 114.9L48.3 112.4M1121.0 117.8L1127.3 119.0L1135.3 120.9L1141.6 122.5L1144.8 122.2M1035.1 146.0L1039.9 143.5L1044.6 141.3L1049.4 139.4L1055.8 136.5L1060.5 132.4L1065.3 127.6L1070.1 124.4" fill="none" stroke="#000" stroke-width="2.3" stroke-linejoin="round"/><g id="isl"><path d="M588.3 100.0L588.3 93.6L588.3 89.5L591.5 87.0L599.4 84.1L605.8 81.9L610.6 78.4L613.7 74.6L618.5 70.5L623.3 67.3L631.2 64.4L639.2 63.2L647.1 60.9L655.1 60.3M176.5 131.7L171.7 127.0L165.4 122.2L162.2 117.5L157.4 112.7L152.6 107.9L146.3 103.2L139.9 100.0M338.7 419.0L337.1 425.4L335.5 431.7L333.9 438.1L333.9 444.4L336.4 450.8L341.9 456.5L348.2 459.7L356.2 461.2M508.8 28.6L508.8 34.9L512.0 41.3L508.8 46.0L505.6 50.8L499.3 55.6L499.3 60.3L492.9 63.5L486.5 67.3M391.1 47.6L395.9 54.0L400.7 58.7L403.9 63.5L405.5 68.3L403.9 73.0L407.0 79.4L411.8 85.7L418.2 91.4M554.9 100.6L553.3 104.1L554.0 107.9L555.9 110.5M540.6 114.3L541.2 117.5L540.6 120.6M392.7 485.7L384.8 488.2L375.2 492.0L367.3 496.8L360.9 500.9L356.2 506.3M50.9 112.4L60.4 109.8L68.4 107.0L74.7 103.8L81.1 100.0M89.0 96.8L95.4 95.9L101.8 94.3L108.1 92.7M636.0 160.3L640.8 165.1L644.0 168.2L647.1 165.7L648.7 163.5L645.5 160.3L647.1 157.8L655.1 157.1L656.7 161.9L658.3 166.7L659.9 168.9M367.3 95.2L373.7 101.6L378.4 107.9L384.8 111.7L392.7 117.5L395.0 120.6M610.6 34.9L620.1 33.0L636.0 31.7L651.9 31.7L642.4 35.6L632.8 38.1L626.5 41.3L620.1 38.7L612.1 36.5L610.6 34.9M623.3 34.9L639.2 34.3L629.6 37.5M292.6 42.9L318.0 43.8L324.4 39.7L333.9 36.5L343.4 32.4L359.3 28.6L375.2 23.8M349.8 21.9L318.0 21.9L292.6 23.8L279.8 27.0L295.7 30.2L286.2 33.3L295.7 36.5L289.4 39.7M302.1 51.4L314.8 52.1L324.4 54.6L333.9 56.5L346.6 60.3L354.6 63.5L359.3 66.7L368.9 71.4L375.2 73.6M370.5 79.4L366.3 85.7L354.6 83.8L360.9 88.9L349.8 86.7M200.3 59.4L213.1 54.6L229.0 53.3L238.5 54.6M174.9 57.1L179.7 51.4L187.6 49.2L198.8 50.2M200.3 45.1L216.2 43.5L235.3 44.8M279.8 42.5L298.9 43.5L318.0 46.0M267.1 50.8L283.0 50.8L286.2 54.0M248.0 52.4L260.8 51.1L265.5 55.6M268.7 33.3L279.8 27.9L294.2 31.1M273.5 57.8L278.2 61.9L283.0 65.1L289.4 66.7L295.7 71.4L300.5 65.1L311.6 64.4L313.2 68.3M222.6 70.2L229.0 68.3L238.5 68.6L251.2 70.5L260.8 69.8L267.1 68.9L270.3 65.1M955.6 227.0L954.0 234.0L954.6 238.7L957.2 242.2M960.4 263.5L965.1 258.7L971.5 254.6M988.7 177.8L993.8 176.8L1001.7 175.9M553.3 171.7L555.5 171.4M747.3 53.3L753.7 47.6L766.4 43.8L782.3 41.9M1091.7 98.4L1089.2 102.2L1091.4 107.3L1087.6 111.7L1081.2 116.8M1022.4 141.9L1020.8 147.6L1018.2 152.4M1121.9 423.8L1116.2 427.6L1114.6 431.7L1108.2 433.6L1101.9 431.1" fill="none" stroke="#000" stroke-width="3.6" stroke-linejoin="round" stroke-linecap="round"/><path d="M33.1 118.1L32.4 117.5L31.2 117.5L30.5 118.1L31.2 118.6L32.4 118.6ZM7.0 121.6L6.4 121.0L5.1 121.0L4.5 121.6L5.1 122.1L6.4 122.1ZM1137.5 120.6L1137.0 120.1L1136.1 120.1L1135.6 120.6L1136.1 121.2L1137.0 121.2ZM76.3 219.7L75.7 219.0L74.4 219.0L73.8 219.7L74.4 220.4L75.7 220.4ZM74.1 218.7L73.6 218.3L72.7 218.3L72.2 218.7L72.7 219.1L73.6 219.1ZM70.9 217.4L70.4 216.8L69.5 216.8L69.0 217.4L69.5 218.1L70.4 218.1ZM66.1 215.7L65.7 215.0L64.7 215.0L64.2 215.7L64.7 216.4L65.7 216.4ZM286.0 287.6L285.6 286.9L284.8 286.9L284.5 287.6L284.8 288.3L285.6 288.3ZM288.9 288.2L288.5 287.7L287.7 287.7L287.3 288.2L287.7 288.8L288.5 288.8ZM282.1 287.0L281.7 286.4L281.1 286.4L280.8 287.0L281.1 287.5L281.7 287.5ZM521.0 195.9L520.5 195.2L519.4 195.2L518.8 195.9L519.4 196.6L520.5 196.6ZM523.7 196.8L523.3 196.0L522.3 196.0L521.8 196.8L522.3 197.6L523.3 197.6ZM528.7 195.5L528.3 194.4L527.5 194.4L527.1 195.5L527.5 196.6L528.3 196.6ZM529.9 193.5L529.5 192.8L528.8 192.8L528.4 193.5L528.8 194.2L529.5 194.2ZM516.1 194.6L515.8 193.9L515.2 193.9L514.8 194.6L515.2 195.3L515.8 195.3ZM518.2 196.5L517.9 196.1L517.5 196.1L517.2 196.5L517.5 196.9L517.9 196.9ZM498.1 237.9L497.7 237.1L497.0 237.1L496.6 237.9L497.0 238.7L497.7 238.7ZM495.4 238.4L495.2 238.0L494.7 238.0L494.5 238.4L494.7 238.8L495.2 238.8ZM495.8 233.0L495.4 232.5L494.8 232.5L494.5 233.0L494.8 233.6L495.4 233.6ZM493.5 231.6L493.1 231.2L492.1 231.2L491.6 231.6L492.1 232.0L493.1 232.0ZM500.1 234.6L499.8 234.0L499.3 234.0L499.1 234.6L499.3 235.1L499.8 235.1ZM499.9 232.5L499.7 232.0L499.4 232.0L499.3 232.5L499.4 233.1L499.7 233.1ZM492.4 165.7L491.9 165.4L490.8 165.4L490.2 165.7L490.8 166.0L491.9 166.0ZM483.2 163.5L482.8 163.2L482.0 163.2L481.6 163.5L482.0 163.8L482.8 163.8ZM486.5 162.8L486.2 162.6L485.6 162.6L485.3 162.8L485.6 163.1L486.2 163.1ZM473.8 160.3L473.5 160.0L473.2 160.3L473.5 160.6ZM519.3 181.7L518.8 181.4L517.9 181.4L517.4 181.7L517.9 182.1L518.8 182.1ZM586.2 158.9L585.8 158.6L585.0 158.6L584.6 158.9L585.0 159.2L585.8 159.2ZM577.6 161.9L577.2 161.3L576.5 161.3L576.1 161.9L576.5 162.4L577.2 162.4ZM551.4 88.9L550.8 87.9L549.5 87.9L548.9 88.9L549.5 89.8L550.8 89.8ZM563.8 98.4L563.3 97.9L562.4 97.9L561.9 98.4L562.4 99.0L563.3 99.0ZM554.0 103.8L553.3 103.0L552.0 103.0L551.4 103.8L552.0 104.6L553.3 104.6ZM805.2 263.5L805.0 262.7L804.7 262.7L804.5 263.5L804.7 264.3L805.0 264.3ZM806.2 267.3L806.0 266.5L805.6 266.5L805.4 267.3L805.6 268.1L806.0 268.1ZM805.7 271.4L805.4 270.3L804.9 270.3L804.7 271.4L804.9 272.5L805.4 272.5ZM805.7 275.5L805.4 274.6L804.9 274.6L804.7 275.5L804.9 276.5L805.4 276.5ZM805.2 279.4L805.0 278.5L804.7 278.5L804.5 279.4L804.7 280.2L805.0 280.2ZM805.9 284.1L805.7 283.4L805.3 283.4L805.1 284.1L805.3 284.8L805.7 284.8ZM805.6 287.6L805.2 287.2L804.8 287.6L805.2 288.0ZM804.5 251.4L804.4 250.6L804.1 250.6L803.9 251.4L804.1 252.2L804.4 252.2ZM802.6 249.2L802.3 248.9L802.0 249.2L802.3 249.5ZM867.8 248.9L867.5 247.9L866.9 247.9L866.6 248.9L866.9 249.8L867.5 249.8ZM867.3 251.7L867.1 251.2L866.6 251.2L866.4 251.7L866.6 252.3L867.1 252.3ZM868.2 256.5L867.8 256.1L867.4 256.5L867.8 256.9ZM870.5 260.3L870.3 259.8L869.8 259.8L869.6 260.3L869.8 260.9L870.3 260.9ZM871.3 263.5L871.0 262.7L870.4 262.7L870.0 263.5L870.4 264.3L871.0 264.3ZM710.6 322.8L710.3 322.2L709.9 322.2L709.6 322.8L709.9 323.5L710.3 323.5ZM714.1 324.4L713.8 324.0L713.4 324.0L713.1 324.4L713.4 324.8L713.8 324.8ZM716.3 326.3L716.1 325.8L715.8 325.8L715.7 326.3L715.8 326.9L716.1 326.9ZM756.2 350.0L755.8 349.2L755.0 349.2L754.6 350.0L755.0 350.8L755.8 350.8ZM749.8 352.7L749.4 352.0L748.4 352.0L747.9 352.7L748.4 353.4L749.4 353.4ZM749.2 300.5L749.0 300.0L748.7 300.0L748.6 300.5L748.7 300.9L749.0 300.9ZM774.3 348.2L774.0 347.9L773.7 348.2L774.0 348.6ZM807.1 454.3L806.6 453.9L805.7 453.9L805.2 454.3L805.7 454.7L806.6 454.7ZM737.6 433.0L737.2 432.7L736.4 432.7L736.0 433.0L736.4 433.3L737.2 433.3ZM693.1 434.6L692.8 434.3L692.4 434.3L692.1 434.6L692.4 434.9L692.8 434.9ZM819.2 405.7L818.9 405.4L818.5 405.7L818.9 406.0ZM732.4 432.0L732.0 431.7L731.7 432.0L732.0 432.4ZM985.2 195.9L984.7 195.5L983.7 195.5L983.3 195.9L983.7 196.3L984.7 196.3ZM967.7 208.2L967.4 207.8L966.7 207.8L966.4 208.2L966.7 208.7L967.4 208.7ZM971.3 207.0L971.1 206.7L970.6 206.7L970.4 207.0L970.6 207.2L971.1 207.2ZM987.9 189.2L987.6 188.5L987.2 188.5L986.9 189.2L987.2 189.9L987.6 189.9ZM989.5 188.6L989.2 188.3L988.7 188.3L988.5 188.6L988.7 188.8L989.2 188.8ZM982.7 197.5L982.3 197.1L981.9 197.5L982.3 197.8ZM1055.8 136.8L1055.4 136.5L1054.8 136.5L1054.5 136.8L1054.8 137.1L1055.4 137.1ZM1058.9 135.2L1058.6 135.0L1058.0 135.0L1057.7 135.2L1058.0 135.5L1058.6 135.5ZM1062.8 130.8L1062.4 130.4L1061.8 130.4L1061.5 130.8L1061.8 131.2L1062.4 131.2ZM1069.6 124.4L1069.4 124.0L1068.9 124.0L1068.6 124.4L1068.9 124.9L1069.4 124.9ZM1059.9 133.0L1059.6 132.7L1059.3 133.0L1059.6 133.3ZM1024.9 200.0L1024.6 199.7L1024.3 200.0L1024.6 200.3ZM1024.9 201.3L1024.6 201.0L1024.3 201.3L1024.6 201.5ZM1022.0 207.0L1021.7 206.7L1021.5 207.0L1021.7 207.2ZM1036.1 237.4L1036.0 237.0L1035.8 237.0L1035.6 237.4L1035.8 237.9L1036.0 237.9ZM1035.8 238.1L1035.6 237.8L1035.3 238.1L1035.6 238.4ZM1033.2 243.0L1033.1 242.5L1032.7 242.5L1032.5 243.0L1032.7 243.6L1033.1 243.6ZM1034.4 240.8L1034.1 240.5L1033.9 240.8L1034.1 241.0ZM1036.3 232.7L1036.0 232.4L1035.8 232.7L1036.0 232.9ZM1036.3 229.8L1036.0 229.6L1035.8 229.8L1036.0 230.1ZM1036.0 228.2L1035.7 228.0L1035.5 228.2L1035.7 228.5ZM1035.0 223.2L1034.8 222.9L1034.5 223.2L1034.8 223.4ZM1034.4 222.2L1034.1 222.0L1033.9 222.2L1034.1 222.5ZM1033.4 220.6L1033.2 220.4L1032.9 220.6L1033.2 220.9ZM1000.7 261.9L1000.5 261.1L1000.1 261.1L999.9 261.9L1000.1 262.7L1000.5 262.7ZM1011.9 255.5L1011.6 255.2L1011.2 255.5L1011.6 255.9ZM1055.6 262.2L1055.4 261.8L1054.9 261.8L1054.6 262.2L1054.9 262.6L1055.4 262.6ZM1076.0 263.8L1075.7 263.5L1075.2 263.5L1075.0 263.8L1075.2 264.1L1075.7 264.1ZM1091.1 268.9L1090.7 268.6L1090.4 268.9L1090.7 269.2ZM1117.1 263.2L1116.8 262.8L1116.5 263.2L1116.8 263.5ZM1105.4 257.1L1105.0 256.8L1104.7 257.1L1105.0 257.4ZM1111.7 250.1L1111.4 249.8L1111.1 250.1L1111.4 250.5ZM1099.0 249.8L1098.7 249.5L1098.4 249.8L1098.7 250.1ZM1107.3 267.3L1107.0 267.0L1106.6 267.3L1107.0 267.6ZM1113.0 255.5L1112.7 255.2L1112.4 255.5L1112.7 255.9ZM1122.8 281.3L1122.7 280.8L1122.4 280.8L1122.3 281.3L1122.4 281.7L1122.7 281.7ZM1122.8 279.7L1122.5 279.4L1122.3 279.7L1122.5 279.9ZM1127.6 287.3L1127.4 286.9L1127.2 286.9L1127.1 287.3L1127.2 287.7L1127.4 287.7ZM1130.7 290.1L1130.5 289.8L1130.2 290.1L1130.5 290.5ZM1133.0 294.0L1132.7 293.7L1132.5 294.0L1132.7 294.2ZM1103.4 287.3L1103.1 287.0L1102.9 287.3L1103.1 287.5ZM1111.7 288.6L1111.4 288.3L1111.2 288.6L1111.4 288.8ZM1071.3 310.8L1071.0 310.2L1070.4 310.2L1070.1 310.8L1070.4 311.3L1071.0 311.3ZM1082.6 322.5L1082.4 322.2L1081.9 322.2L1081.7 322.5L1081.9 322.8L1082.4 322.8ZM1100.6 319.7L1100.3 319.4L1099.6 319.4L1099.3 319.7L1099.6 319.9L1100.3 319.9ZM1051.0 293.6L1050.5 293.3L1049.6 293.3L1049.1 293.6L1049.6 294.0L1050.5 294.0ZM1059.3 314.9L1058.8 314.6L1057.8 314.6L1057.4 314.9L1057.8 315.2L1058.8 315.2ZM1053.7 317.8L1053.4 317.0L1052.3 316.3L1051.5 316.5L1051.8 317.3L1052.9 317.9ZM1061.2 321.9L1060.7 321.6L1059.7 321.6L1059.3 321.9L1059.7 322.2L1060.7 322.2ZM1063.2 322.2L1063.0 322.0L1062.5 322.0L1062.3 322.2L1062.5 322.4L1063.0 322.4ZM1106.5 337.9L1106.6 336.8L1105.8 336.4L1104.9 337.0L1104.8 338.0L1105.6 338.5ZM1108.2 341.9L1107.9 341.3L1107.3 341.3L1107.0 341.9L1107.3 342.4L1107.9 342.4ZM1110.9 345.4L1110.7 344.8L1110.2 344.8L1110.0 345.4L1110.2 345.9L1110.7 345.9ZM1111.5 347.6L1111.1 347.2L1110.7 347.6L1111.1 348.0ZM1107.2 335.5L1107.1 334.7L1106.8 334.7L1106.7 335.5L1106.8 336.4L1107.1 336.4ZM1106.6 334.3L1106.5 333.7L1106.2 333.7L1106.0 334.3L1106.2 334.8L1106.5 334.8ZM1105.4 331.1L1105.0 330.7L1104.7 331.1L1105.0 331.5ZM1105.4 329.5L1105.0 329.1L1104.7 329.5L1105.0 329.9ZM1105.0 352.0L1104.7 351.6L1104.1 351.6L1103.8 352.0L1104.1 352.5L1104.7 352.5ZM1106.8 354.0L1106.6 353.6L1106.1 353.6L1105.8 354.0L1106.1 354.3L1106.6 354.3ZM1102.5 351.1L1102.2 350.8L1101.9 351.1L1102.2 351.4ZM1.0 339.0L0.6 338.6L0.0 338.6L-0.3 339.0L0.0 339.4L0.6 339.4ZM1140.2 346.0L1139.8 345.7L1139.0 345.7L1138.6 346.0L1139.0 346.3L1139.8 346.3ZM1136.5 340.3L1136.3 339.9L1136.1 339.9L1136.0 340.3L1136.1 340.7L1136.3 340.7ZM25.4 328.9L24.8 328.4L23.5 328.4L22.9 328.9L23.5 329.4L24.8 329.4ZM27.2 329.8L26.7 329.5L25.8 329.5L25.3 329.8L25.8 330.2L26.7 330.2ZM30.1 331.1L29.8 330.9L29.3 330.9L29.1 331.1L29.3 331.3L29.8 331.3ZM15.7 353.0L15.5 352.7L15.0 352.7L14.8 353.0L15.0 353.3L15.5 353.3ZM19.4 344.9L19.1 344.6L18.8 344.9L19.1 345.2ZM18.4 348.6L18.1 348.2L17.8 348.6L18.1 348.9ZM12.4 327.9L12.1 327.6L11.8 327.9L12.1 328.2ZM6.4 331.1L6.0 330.8L5.7 331.1L6.0 331.4ZM98.3 341.7L97.8 341.1L96.8 341.1L96.4 341.7L96.8 342.3L97.8 342.3ZM96.2 341.3L95.9 340.9L95.6 341.3L95.9 341.6ZM91.1 338.7L90.9 338.3L90.4 338.3L90.2 338.7L90.4 339.1L90.9 339.1ZM90.1 338.1L89.8 337.8L89.6 338.1L89.8 338.3ZM103.8 333.3L103.4 333.0L102.6 333.0L102.2 333.3L102.6 333.6L103.4 333.6ZM108.9 336.5L108.5 336.2L107.7 336.2L107.3 336.5L107.7 336.8L108.5 336.8ZM110.3 338.1L110.0 337.8L109.4 337.8L109.1 338.1L109.4 338.4L110.0 338.4ZM113.5 338.7L113.2 338.4L112.6 338.4L112.3 338.7L112.6 339.0L113.2 339.0ZM118.1 339.7L117.9 339.4L117.4 339.4L117.2 339.7L117.4 339.9L117.9 339.9ZM122.9 341.3L122.7 341.0L122.2 341.0L122.0 341.3L122.2 341.5L122.7 341.5ZM125.1 342.8L124.9 342.6L124.4 342.6L124.2 342.8L124.4 343.1L124.9 343.1ZM114.0 336.2L113.8 335.9L113.3 335.9L113.0 336.2L113.3 336.4L113.8 336.4ZM120.6 337.1L120.2 336.8L119.8 337.1L120.2 337.4ZM126.6 346.0L126.2 345.7L125.9 346.0L126.2 346.3ZM131.3 345.4L131.0 345.1L130.7 345.4L131.0 345.7ZM139.3 344.4L139.0 344.1L138.6 344.4L139.0 344.7ZM132.0 351.7L131.7 351.4L131.3 351.7L131.7 352.0ZM143.5 359.0L143.1 358.7L142.7 359.0L143.1 359.3ZM125.6 354.9L125.3 354.6L125.0 354.9L125.3 355.2ZM116.5 331.7L116.1 331.5L115.7 331.7L116.1 332.0ZM111.0 334.9L110.7 334.6L110.3 334.9L110.7 335.2ZM101.4 335.9L101.1 335.6L100.8 335.9L101.1 336.1ZM127.5 314.0L127.2 313.6L126.6 313.6L126.2 314.0L126.6 314.3L127.2 314.3ZM131.0 316.8L130.7 316.5L130.1 316.5L129.7 316.8L130.1 317.1L130.7 317.1ZM131.3 319.0L131.0 318.7L130.7 319.0L131.0 319.3ZM127.1 315.5L126.9 315.3L126.6 315.5L126.9 315.8ZM128.9 314.0L128.6 313.7L128.4 314.0L128.6 314.2ZM64.6 353.0L64.2 352.7L63.9 353.0L64.2 353.3ZM70.5 355.2L70.3 355.0L70.0 355.2L70.3 355.5ZM64.5 345.7L64.2 345.4L64.0 345.7L64.2 346.0ZM72.7 279.7L72.3 279.3L71.5 279.3L71.1 279.7L71.5 280.1L72.3 280.1ZM65.8 273.3L65.5 273.1L65.3 273.3L65.5 273.6ZM62.5 270.8L62.3 270.6L62.1 270.8L62.3 271.0ZM76.8 298.4L76.6 298.2L76.4 298.4L76.6 298.6ZM89.9 321.9L89.7 321.7L89.5 321.9L89.7 322.1ZM95.0 317.1L94.8 316.9L94.6 317.1L94.8 317.3ZM57.1 267.0L56.9 266.8L56.8 267.0L56.9 267.1ZM224.8 371.7L224.5 371.5L224.2 371.7L224.5 372.0ZM322.1 392.4L321.8 392.1L321.5 392.4L321.8 392.6ZM315.6 393.0L315.5 392.8L315.3 393.0L315.5 393.2ZM317.9 369.2L317.7 369.0L317.5 369.2L317.7 369.4ZM237.4 369.8L237.2 369.7L237.1 369.8L237.2 369.9ZM158.8 365.4L158.7 365.2L158.5 365.4L158.7 365.5ZM164.6 363.2L164.4 363.0L164.2 363.2L164.4 363.3ZM143.6 359.0L143.4 358.8L143.2 359.0L143.4 359.2ZM113.7 373.3L113.5 373.1L113.3 373.3L113.5 373.5ZM102.9 360.0L102.7 359.8L102.5 360.0L102.7 360.2ZM97.2 360.0L97.0 359.8L96.8 360.0L97.0 360.2ZM91.1 357.1L90.9 356.9L90.8 357.1L90.9 357.3ZM86.7 357.4L86.5 357.3L86.3 357.4L86.5 357.6ZM379.9 249.7L379.5 249.6L379.0 250.0L378.8 250.3L379.2 250.3L379.8 250.0ZM376.5 247.3L376.4 246.9L376.0 246.9L375.9 247.3L376.0 247.7L376.4 247.7ZM378.1 243.8L377.9 243.4L377.6 243.4L377.5 243.8L377.6 244.2L377.9 244.2ZM378.7 241.6L378.6 241.0L378.3 241.0L378.1 241.6L378.3 242.1L378.6 242.1ZM383.3 243.8L383.0 243.4L382.7 243.8L383.0 244.2ZM378.9 239.2L378.7 238.5L378.2 238.5L377.9 239.2L378.2 239.9L378.7 239.9ZM377.7 236.8L377.5 236.3L377.1 236.3L376.9 236.8L377.1 237.4L377.5 237.4ZM377.5 234.3L377.1 233.7L376.3 233.7L375.9 234.3L376.3 234.8L377.1 234.8ZM376.3 231.4L375.9 231.1L375.5 231.4L375.9 231.7ZM373.2 230.8L372.9 230.5L372.5 230.8L372.9 231.0ZM372.2 228.2L371.9 228.1L371.6 228.2L371.9 228.4ZM366.8 227.6L366.6 227.4L366.1 227.4L365.9 227.6L366.1 227.8L366.6 227.8ZM367.0 229.4L366.7 229.2L366.3 229.2L366.0 229.4L366.3 229.5L366.7 229.5ZM355.7 247.0L355.4 246.6L355.0 246.6L354.7 247.0L355.0 247.4L355.4 247.4ZM353.5 247.3L353.4 246.9L352.8 246.6L352.4 246.7L352.6 247.1L353.1 247.4ZM350.2 246.0L349.8 245.7L349.4 246.0L349.8 246.3ZM370.2 250.8L369.7 250.5L368.7 250.5L368.2 250.8L368.7 251.1L369.7 251.1ZM327.1 201.9L327.4 200.8L326.9 200.5L326.0 201.3L325.8 202.4L326.3 202.7ZM332.6 209.1L333.0 208.4L332.7 208.1L332.0 208.6L331.6 209.4L331.9 209.6ZM332.1 211.6L332.0 211.2L331.4 210.7L330.9 210.6L331.1 211.0L331.7 211.5ZM334.1 212.3L334.6 211.6L334.4 211.4L333.7 211.8L333.2 212.5L333.4 212.7ZM337.1 213.6L336.8 213.4L336.1 213.4L335.8 213.6L336.1 213.9L336.8 213.9ZM340.7 214.6L340.4 214.4L339.8 214.4L339.5 214.6L339.8 214.8L340.4 214.8ZM340.4 218.7L339.9 218.3L338.7 218.3L338.2 218.7L338.7 219.1L339.9 219.1ZM343.8 216.5L343.4 216.3L342.8 216.3L342.5 216.5L342.8 216.7L343.4 216.7ZM344.6 216.5L344.4 216.3L344.1 216.5L344.4 216.7ZM326.7 206.2L326.5 206.0L326.0 206.0L325.8 206.2L326.0 206.3L326.5 206.3ZM366.7 183.2L366.5 183.0L366.2 183.2L366.5 183.4ZM697.9 305.2L697.6 304.1L697.1 304.1L696.9 305.2L697.1 306.3L697.6 306.3ZM699.2 302.2L699.0 301.4L698.6 301.4L698.4 302.2L698.6 303.0L699.0 303.0ZM699.0 310.8L698.8 310.2L698.5 310.2L698.3 310.8L698.5 311.3L698.8 311.3ZM600.6 274.3L599.9 273.6L599.3 273.9L599.5 274.9L600.3 275.6L600.8 275.3ZM593.9 284.9L593.6 284.4L593.1 284.4L592.9 284.9L593.1 285.5L593.6 285.5ZM596.2 280.6L595.9 280.3L595.7 280.6L595.9 280.9ZM590.4 290.1L590.2 290.0L590.0 290.1L590.2 290.3ZM554.5 336.3L554.3 336.1L554.1 336.3L554.3 336.5ZM527.0 310.9L526.8 310.7L526.6 310.9L526.8 311.1ZM533.5 403.5L533.3 403.2L533.0 403.5L533.3 403.7ZM541.2 413.6L540.9 413.4L540.7 413.6L540.9 413.9ZM479.4 350.8L479.2 350.6L479.1 350.8L479.2 350.9ZM469.6 297.9L469.4 297.8L469.2 297.9L469.4 298.1ZM88.4 100.6L87.9 100.2L87.0 100.2L86.5 100.6L87.0 101.0L87.9 101.0ZM152.0 107.0L151.5 105.9L150.6 105.9L150.1 107.0L150.6 108.1L151.5 108.1ZM63.4 110.8L63.0 110.4L62.2 110.4L61.9 110.8L62.2 111.2L63.0 111.2ZM66.0 111.4L65.6 111.1L64.8 111.1L64.4 111.4L64.8 111.8L65.6 111.8ZM23.2 93.6L22.7 93.3L21.8 93.3L21.3 93.6L21.8 94.0L22.7 94.0ZM31.2 104.1L30.8 103.9L30.5 104.1L30.8 104.4ZM33.4 106.0L33.1 105.8L32.8 106.0L33.1 106.3ZM376.4 135.2L376.1 134.9L375.6 134.9L375.4 135.2L375.6 135.6L376.1 135.6ZM393.6 136.8L393.4 136.5L393.1 136.8L393.4 137.1ZM308.1 76.5L307.5 76.1L306.2 76.1L305.6 76.5L306.2 76.9L307.5 76.9ZM367.6 90.5L367.0 89.9L365.7 89.9L365.1 90.5L365.7 91.0L367.0 91.0ZM356.5 93.6L356.0 93.2L355.0 93.2L354.6 93.6L355.0 94.1L356.0 94.1ZM318.6 95.9L318.3 95.5L317.7 95.5L317.4 95.9L317.7 96.3L318.3 96.3ZM321.8 116.8L321.5 116.5L320.9 116.5L320.5 116.8L320.9 117.1L321.5 117.1ZM266.8 64.4L266.2 63.9L264.9 63.9L264.3 64.4L264.9 65.0L266.2 65.0ZM255.4 62.5L254.9 61.7L253.9 61.7L253.4 62.5L253.9 63.4L254.9 63.4ZM836.0 50.5L835.4 50.2L834.1 50.2L833.5 50.5L834.1 50.7L835.4 50.7ZM929.5 51.1L929.0 50.8L928.1 50.8L927.6 51.1L928.1 51.4L929.0 51.4ZM983.6 53.3L983.1 53.1L982.1 53.1L981.7 53.3L982.1 53.6L983.1 53.6ZM1106.9 112.4L1106.5 112.0L1105.6 111.6L1105.1 111.7L1105.5 112.2L1106.4 112.5ZM1010.9 111.1L1010.3 110.4L1009.0 110.4L1008.4 111.1L1009.0 111.8L1010.3 111.8ZM1012.2 113.3L1011.7 112.9L1010.8 112.9L1010.3 113.3L1010.8 113.7L1011.7 113.7ZM1051.6 96.8L1051.3 96.5L1050.7 96.5L1050.4 96.8L1050.7 97.1L1051.3 97.1ZM1021.8 142.2L1021.4 141.9L1021.0 142.2L1021.4 142.5ZM336.1 425.4L335.8 424.7L335.2 424.7L334.9 425.4L335.2 426.1L335.8 426.1ZM337.2 428.5L336.8 428.0L336.0 428.0L335.6 428.5L336.0 429.1L336.8 429.1ZM336.4 450.8L336.0 450.1L335.0 450.1L334.5 450.8L335.0 451.5L336.0 451.5ZM369.2 459.5L368.6 459.2L367.3 459.2L366.7 459.5L367.3 459.8L368.6 459.8ZM349.8 456.5L349.3 455.7L348.4 455.7L347.9 456.5L348.4 457.3L349.3 457.3ZM488.4 471.4L488.3 470.6L488.0 470.6L487.8 471.4L488.0 472.2L488.3 472.2ZM374.8 489.2L373.9 489.0L372.8 489.7L372.5 490.5L373.4 490.6L374.5 490.0ZM371.4 491.1L370.9 490.8L370.0 490.8L369.5 491.1L370.0 491.4L370.9 491.4ZM395.6 486.6L395.0 486.4L393.7 486.4L393.0 486.6L393.7 486.9L395.0 486.9ZM390.8 489.5L390.2 489.1L388.9 489.1L388.3 489.5L388.9 489.9L390.2 489.9ZM358.4 495.5L357.5 494.7L356.9 495.1L357.1 496.2L358.0 497.0L358.6 496.6ZM363.3 493.3L362.9 492.5L362.1 492.5L361.7 493.3L362.1 494.1L362.9 494.1ZM348.8 504.1L348.5 503.3L347.9 503.3L347.6 504.1L347.9 504.9L348.5 504.9ZM283.5 504.1L283.3 503.8L282.8 503.8L282.5 504.1L282.8 504.4L283.3 504.4ZM975.9 179.7L975.3 179.3L974.0 179.3L973.4 179.7L974.0 180.1L975.3 180.1ZM983.9 176.4L983.5 175.7L983.1 175.8L983.2 176.6L983.7 177.3L984.0 177.2ZM1013.1 164.8L1012.4 164.2L1011.8 164.5L1012.0 165.4L1012.6 165.9L1013.2 165.6ZM1002.3 176.8L1002.0 176.4L1001.4 176.4L1001.1 176.8L1001.4 177.2L1002.0 177.2ZM986.4 182.8L986.1 182.5L985.5 182.5L985.2 182.8L985.5 183.2L986.1 183.2ZM983.0 181.9L982.6 181.5L982.2 181.9L982.6 182.3ZM982.3 181.3L982.0 180.9L981.7 181.3L982.0 181.6ZM986.8 184.4L986.4 184.1L986.1 184.4L986.4 184.8ZM985.2 178.4L984.8 178.1L984.5 178.4L984.8 178.7ZM1015.9 175.4L1015.7 175.1L1015.5 175.4L1015.7 175.6ZM1016.2 177.6L1016.0 177.4L1015.9 177.6L1016.0 177.8ZM1017.1 180.6L1017.0 180.4L1016.8 180.6L1017.0 180.9ZM1107.4 434.9L1106.9 434.2L1105.8 434.2L1105.2 434.9L1105.8 435.6L1106.9 435.6ZM12.2 425.1L11.7 424.6L10.6 424.6L10.0 425.1L10.6 425.5L11.7 425.5ZM1101.1 446.6L1100.8 446.2L1100.4 446.2L1100.1 446.6L1100.4 447.1L1100.8 447.1ZM1110.5 452.4L1110.1 452.1L1109.8 452.4L1110.1 452.6ZM1077.9 459.0L1077.8 458.6L1077.6 458.6L1077.5 459.0L1077.6 459.4L1077.8 459.4ZM1141.2 443.5L1141.0 443.3L1140.8 443.5L1141.0 443.7ZM1106.6 377.9L1106.5 377.8L1106.3 377.9L1106.5 378.1ZM1078.5 385.9L1078.3 385.7L1078.2 385.9L1078.3 386.0ZM6.8 378.6L6.7 378.4L6.5 378.6L6.7 378.7ZM1031.1 412.4L1030.7 411.4L1029.9 411.4L1029.5 412.4L1029.9 413.3L1030.7 413.3ZM1043.8 412.7L1043.4 411.6L1042.6 411.6L1042.2 412.7L1042.6 413.8L1043.4 413.8ZM1044.2 414.3L1043.9 413.9L1043.4 413.9L1043.2 414.3L1043.4 414.6L1043.9 414.6ZM1007.9 329.8L1007.3 329.0L1006.2 329.0L1005.7 329.8L1006.2 330.6L1007.3 330.6ZM1016.8 338.4L1016.4 338.0L1015.6 338.0L1015.2 338.4L1015.6 338.8L1016.4 338.8ZM932.0 367.6L931.9 366.8L931.6 366.8L931.5 367.6L931.6 368.4L931.9 368.4ZM940.0 351.7L939.7 351.5L939.4 351.7L939.7 352.0ZM1028.9 411.1L1028.7 410.9L1028.6 411.1L1028.7 411.2ZM961.6 246.7L961.2 246.2L960.2 246.2L959.7 246.7L960.2 247.1L961.2 247.1ZM965.9 246.2L965.2 245.9L964.8 246.3L965.0 247.1L965.6 247.4L966.1 247.0ZM968.3 254.4L967.8 253.9L966.9 253.9L966.4 254.4L966.9 255.0L967.8 255.0ZM962.6 251.7L962.3 251.4L961.9 251.7L962.3 252.1ZM955.0 247.6L954.6 247.1L954.0 247.1L953.7 247.6L954.0 248.2L954.6 248.2ZM954.2 248.9L953.9 248.7L953.4 248.7L953.2 248.9L953.4 249.1L953.9 249.1ZM961.0 264.9L960.6 264.6L959.8 264.6L959.4 264.9L959.8 265.2L960.6 265.2ZM957.8 266.7L957.5 266.4L956.9 266.4L956.5 266.7L956.9 266.9L957.5 266.9ZM954.5 269.2L954.2 269.0L953.8 269.0L953.5 269.2L953.8 269.4L954.2 269.4ZM973.5 254.4L973.4 254.0L973.1 254.0L973.0 254.4L973.1 254.8L973.4 254.8ZM972.2 253.6L972.1 253.1L971.8 253.1L971.7 253.6L971.8 254.2L972.1 254.2ZM969.4 256.5L969.1 256.2L968.8 256.5L969.1 256.8ZM965.6 256.5L965.3 256.2L965.0 256.5L965.3 256.8ZM960.4 243.2L960.0 242.8L959.7 243.2L960.0 243.5ZM968.0 242.1L967.8 241.7L967.3 241.7L967.0 242.1L967.3 242.4L967.8 242.4ZM960.2 220.9L960.0 220.7L959.9 220.9L960.0 221.2ZM960.1 224.4L959.9 224.2L959.6 224.4L959.9 224.6ZM958.9 224.4L958.8 224.3L958.6 224.4L958.8 224.6ZM979.6 296.8L979.4 296.5L978.9 296.5L978.6 296.8L978.9 297.1L979.4 297.1ZM974.0 291.6L973.4 291.2L972.1 291.2L971.5 291.6L972.1 292.0L973.4 292.0ZM964.5 290.8L964.0 290.2L963.1 290.2L962.6 290.8L963.1 291.3L964.0 291.3ZM979.4 290.8L979.0 290.4L978.0 290.4L977.5 290.8L978.0 291.1L979.0 291.1ZM978.3 287.6L978.1 286.8L977.6 286.8L977.4 287.6L977.6 288.4L978.1 288.4ZM987.4 291.7L986.9 291.5L986.0 291.5L985.5 291.7L986.0 292.0L986.9 292.0ZM994.7 303.7L994.2 302.7L993.8 302.8L994.0 303.9L994.6 304.9L994.9 304.8ZM985.5 310.8L985.2 310.5L984.8 310.8L985.2 311.0ZM981.7 308.4L981.3 308.1L981.0 308.4L981.3 308.7ZM969.6 312.0L968.9 311.6L967.7 311.6L967.0 312.0L967.7 312.5L968.9 312.5ZM966.1 312.4L965.8 312.1L965.1 312.1L964.8 312.4L965.1 312.6L965.8 312.6ZM964.7 312.0L964.4 311.8L963.9 311.8L963.7 312.0L963.9 312.3L964.4 312.3ZM960.3 319.3L959.9 319.1L959.5 319.3L959.9 319.6ZM964.5 320.0L964.2 319.7L963.5 319.7L963.2 320.0L963.5 320.3L964.2 320.3ZM943.2 313.0L942.7 312.2L941.8 312.2L941.3 313.0L941.8 313.8L942.7 313.8ZM940.0 312.4L939.4 311.7L938.1 311.7L937.5 312.4L938.1 313.1L939.4 313.1ZM931.0 304.1L930.8 303.9L930.5 304.1L930.8 304.4ZM916.5 294.7L916.0 294.1L915.0 294.1L914.6 294.7L915.0 295.4L916.0 295.4ZM905.2 286.3L904.9 285.8L904.5 285.8L904.2 286.3L904.5 286.9L904.9 286.9ZM905.5 282.8L905.3 282.4L904.8 282.4L904.6 282.8L904.8 283.3L905.3 283.3ZM903.8 282.5L903.4 282.2L903.1 282.5L903.4 282.8ZM916.9 273.2L916.7 272.7L916.3 272.7L916.1 273.2L916.3 273.6L916.7 273.6ZM910.5 275.9L910.3 275.6L910.0 275.9L910.3 276.1ZM890.0 294.4L889.4 293.6L889.1 293.7L889.5 294.7L890.2 295.6L890.5 295.5ZM886.3 287.3L885.9 286.9L885.3 286.9L885.0 287.3L885.3 287.7L885.9 287.7ZM878.8 277.0L877.9 276.4L877.4 276.8L877.8 277.9L878.8 278.5L879.3 278.1ZM875.7 267.1L875.5 266.9L875.2 267.1L875.5 267.3ZM898.0 302.8L897.7 302.6L897.5 302.8L897.7 303.1ZM964.0 298.4L963.8 297.7L963.6 297.7L963.4 298.4L963.6 299.1L963.8 299.1ZM962.6 302.2L962.4 301.4L962.1 301.4L962.0 302.2L962.1 303.0L962.4 303.0ZM963.5 302.7L963.3 301.9L963.1 301.9L963.0 302.7L963.1 303.5L963.3 303.5ZM955.7 305.1L955.7 304.4L955.5 304.4L955.4 305.1L955.5 305.8L955.7 305.8ZM960.5 287.0L960.3 286.7L959.8 286.7L959.6 287.0L959.8 287.2L960.3 287.2ZM965.0 290.1L964.7 289.9L964.3 289.9L964.0 290.1L964.3 290.4L964.7 290.4ZM971.3 278.1L971.2 277.8L971.0 278.1L971.2 278.4ZM971.6 274.6L971.5 274.3L971.3 274.6L971.5 274.9ZM975.8 272.7L975.6 272.3L975.3 272.3L975.1 272.7L975.3 273.1L975.6 273.1ZM947.0 272.7L946.7 272.4L946.4 272.7L946.7 273.0ZM949.9 254.1L949.5 253.8L949.2 254.1L949.5 254.4ZM944.9 260.5L944.6 260.2L944.4 260.5L944.6 260.7Z" fill="#000" stroke="#000" stroke-width="1.7" stroke-linejoin="round"/><path d="M44.3 114.2L43.5 113.9L42.0 114.2L40.5 115.0L39.7 115.9L39.9 116.5L41.2 116.5L42.8 115.9L44.0 115.0ZM39.0 116.1L38.3 115.8L37.0 116.0L35.6 116.6L34.8 117.3L35.0 117.8L36.1 117.8L37.5 117.4L38.7 116.7ZM25.4 119.7L25.1 119.3L24.1 119.1L23.1 119.1L22.4 119.5L22.4 119.9L23.1 120.2L24.1 120.3L25.1 120.1ZM19.7 120.2L19.2 119.7L17.9 119.5L16.4 119.6L15.4 119.9L15.4 120.4L16.4 120.7L17.9 120.8L19.2 120.6ZM12.1 121.3L11.7 120.9L10.8 120.6L9.7 120.7L9.0 121.0L9.0 121.5L9.7 121.8L10.8 121.9L11.7 121.7ZM1143.2 122.5L1142.8 122.1L1141.9 121.9L1140.8 122.0L1140.1 122.3L1140.1 122.8L1140.8 123.1L1141.9 123.2L1142.8 122.9ZM1124.1 117.8L1123.8 117.4L1122.8 117.1L1121.7 117.2L1121.0 117.6L1121.0 118.0L1121.7 118.3L1122.8 118.4L1123.8 118.2ZM79.7 223.5L79.2 222.2L78.0 221.4L76.6 221.7L75.6 222.8L75.6 224.2L76.6 225.3L78.0 225.5L79.2 224.8ZM283.8 287.9L283.5 286.8L282.6 286.2L281.7 286.4L281.0 287.3L281.0 288.5L281.7 289.4L282.6 289.6L283.5 289.0ZM383.8 449.8L383.3 448.9L382.0 448.4L380.5 448.6L379.5 449.3L379.5 450.3L380.5 451.1L382.0 451.2L383.3 450.7ZM388.0 449.8L387.4 449.0L386.1 448.6L384.6 448.7L383.6 449.4L383.6 450.3L384.6 450.9L386.1 451.1L387.4 450.6ZM458.7 459.3L458.1 458.4L456.3 457.4L454.0 456.7L452.4 456.6L452.2 457.3L453.4 458.3L455.6 459.2L457.7 459.6ZM583.7 160.0L583.3 159.3L582.2 158.9L581.1 159.0L580.3 159.6L580.3 160.4L581.1 161.0L582.2 161.1L583.3 160.7ZM569.1 94.3L568.9 93.2L568.4 92.6L567.9 92.8L567.5 93.7L567.5 94.9L567.9 95.8L568.4 96.0L568.9 95.4ZM551.2 101.9L550.6 100.6L549.8 100.1L549.1 100.5L548.9 101.8L549.3 103.2L550.1 104.2L550.9 104.3L551.3 103.4ZM546.7 59.5L546.3 59.4L545.4 59.8L544.5 60.4L544.0 60.9L544.2 61.2L544.9 61.1L545.8 60.6L546.6 60.0ZM738.4 29.8L736.8 29.2L732.6 28.9L727.9 29.0L724.8 29.5L724.8 30.2L727.9 30.7L732.6 30.8L736.8 30.5ZM753.7 28.9L752.2 28.2L748.4 27.8L744.1 27.9L741.3 28.5L741.3 29.3L744.1 29.8L748.4 30.0L752.2 29.6ZM770.2 29.5L768.6 28.7L764.4 28.3L759.7 28.4L756.6 29.1L756.6 30.0L759.7 30.6L764.4 30.8L768.6 30.3ZM760.0 31.1L758.9 30.6L756.1 30.3L752.9 30.4L750.8 30.8L750.8 31.4L752.9 31.8L756.1 31.9L758.9 31.6ZM779.7 28.6L778.8 28.2L776.6 27.9L774.0 28.0L772.3 28.4L772.3 28.8L774.0 29.1L776.6 29.2L778.8 29.0ZM725.0 30.8L724.3 30.4L722.4 30.2L720.3 30.2L718.9 30.6L718.9 31.0L720.3 31.3L722.4 31.4L724.3 31.2ZM868.1 245.1L868.0 243.2L867.6 242.3L867.2 242.6L866.9 244.1L866.9 246.0L867.2 247.5L867.6 247.9L868.0 246.9ZM745.4 246.0L744.9 245.7L743.8 245.6L742.5 245.6L741.7 245.9L741.7 246.2L742.5 246.4L743.8 246.5L744.9 246.3ZM796.3 442.2L795.6 441.2L793.9 440.6L792.0 440.8L790.7 441.7L790.7 442.7L792.0 443.6L793.9 443.8L795.6 443.2ZM980.0 201.9L980.3 201.0L980.2 200.4L979.8 200.3L979.2 200.9L978.7 201.7L978.5 202.5L978.8 202.9L979.4 202.6ZM1040.8 143.7L1040.2 143.6L1039.1 144.1L1038.1 144.9L1037.6 145.6L1037.9 146.0L1038.8 145.8L1039.9 145.1L1040.7 144.3ZM1044.9 140.9L1044.2 140.9L1043.0 141.5L1041.8 142.4L1041.2 143.2L1041.5 143.6L1042.4 143.3L1043.7 142.5L1044.7 141.6ZM1050.7 138.4L1050.2 138.4L1049.4 138.8L1048.5 139.5L1048.1 140.1L1048.3 140.3L1049.0 140.2L1049.9 139.6L1050.6 138.9ZM1067.5 125.3L1066.9 125.2L1066.0 125.6L1065.2 126.3L1064.9 127.1L1065.3 127.5L1066.1 127.4L1067.0 126.8L1067.5 126.0ZM1067.5 306.9L1067.7 305.9L1067.2 304.6L1066.0 303.4L1064.8 303.1L1064.2 303.6L1064.3 304.9L1065.2 306.2L1066.5 307.0ZM1073.5 309.2L1073.3 308.6L1072.3 307.6L1071.1 306.8L1070.1 306.5L1069.8 306.9L1070.4 307.7L1071.6 308.7L1072.8 309.2ZM1074.8 312.9L1074.7 312.3L1073.9 311.5L1072.8 311.0L1072.0 311.0L1071.7 311.5L1072.1 312.2L1073.1 312.9L1074.2 313.2ZM1080.9 312.6L1080.6 311.9L1079.4 310.9L1077.9 309.9L1076.7 309.5L1076.5 309.8L1077.2 310.8L1078.7 311.9L1080.1 312.6ZM1083.5 316.8L1083.1 316.2L1081.8 315.5L1080.2 315.2L1079.1 315.3L1079.0 315.9L1079.9 316.5L1081.4 317.0L1082.8 317.1ZM1085.3 313.9L1084.5 312.5L1083.7 311.9L1083.2 312.4L1083.2 313.8L1083.8 315.4L1084.7 316.5L1085.4 316.6L1085.6 315.6ZM1089.2 319.6L1088.9 319.0L1087.8 318.5L1086.4 318.2L1085.4 318.3L1085.3 318.7L1086.1 319.3L1087.4 319.7L1088.7 319.8ZM1056.1 297.5L1057.8 295.8L1058.4 294.5L1057.7 294.3L1055.9 295.3L1053.9 297.0L1052.6 298.6L1052.7 299.3L1054.0 298.9ZM1041.5 292.4L1041.1 292.0L1040.1 291.7L1039.1 291.8L1038.4 292.1L1038.4 292.6L1039.1 292.9L1040.1 293.0L1041.1 292.8ZM1104.3 334.3L1104.0 333.1L1103.3 332.5L1102.6 332.8L1102.1 333.7L1102.1 334.9L1102.6 335.8L1103.3 336.0L1104.0 335.4ZM1102.9 356.2L1102.2 355.1L1099.9 353.1L1097.0 351.2L1094.9 350.3L1094.6 350.8L1096.2 352.5L1098.9 354.5L1101.6 356.0ZM1140.5 342.2L1140.0 341.2L1138.8 340.6L1137.4 340.8L1136.5 341.7L1136.5 342.7L1137.4 343.6L1138.8 343.8L1140.0 343.2ZM1144.7 337.4L1144.1 337.3L1142.7 337.7L1141.3 338.4L1140.5 339.1L1140.6 339.5L1141.7 339.4L1143.2 338.8L1144.4 338.0ZM378.9 252.7L378.6 252.0L377.7 251.6L376.8 251.7L376.1 252.3L376.1 253.1L376.8 253.6L377.7 253.8L378.6 253.4ZM325.8 208.4L325.8 206.9L325.3 206.0L324.5 206.1L323.8 207.3L323.5 208.9L323.8 210.2L324.5 210.6L325.3 209.9ZM325.0 201.3L324.6 201.1L323.7 200.9L322.6 201.0L321.9 201.2L321.9 201.4L322.6 201.5L323.7 201.6L324.6 201.5ZM330.3 206.8L330.9 206.0L331.0 205.4L330.7 205.4L330.2 206.0L329.5 206.9L329.2 207.7L329.2 208.0L329.7 207.6ZM86.6 101.5L85.4 100.9L83.6 101.3L82.2 102.6L81.7 104.2L82.4 105.2L84.0 105.3L85.8 104.4L86.8 102.9ZM153.1 115.2L151.9 113.5L150.6 112.9L149.8 113.7L149.9 115.5L150.8 117.5L152.1 118.7L153.3 118.6L153.7 117.2ZM154.1 118.3L153.5 117.5L152.8 117.2L152.3 117.7L152.2 118.6L152.7 119.6L153.4 120.2L154.1 120.1L154.4 119.3ZM150.0 108.7L149.1 107.3L147.9 106.8L147.0 107.4L146.8 108.9L147.4 110.5L148.5 111.5L149.6 111.5L150.2 110.3ZM146.2 102.6L145.3 101.2L144.1 100.7L143.2 101.4L143.0 102.9L143.6 104.5L144.7 105.5L145.8 105.4L146.4 104.3ZM142.4 103.8L141.7 102.5L140.9 102.0L140.4 102.5L140.4 103.7L140.9 105.1L141.7 106.1L142.4 106.1L142.7 105.2ZM35.9 84.4L35.0 83.8L32.5 83.5L29.7 83.6L27.9 84.1L27.9 84.8L29.7 85.3L32.5 85.4L35.0 85.1ZM45.8 95.2L45.3 94.5L44.0 94.1L42.5 94.3L41.5 94.9L41.5 95.6L42.5 96.2L44.0 96.3L45.3 95.9ZM1148.0 59.7L1146.9 59.1L1144.0 58.7L1140.8 58.9L1138.7 59.4L1138.7 60.0L1140.8 60.5L1144.0 60.6L1146.9 60.3ZM4.5 59.4L3.9 58.7L2.6 58.4L1.1 58.5L0.1 59.0L0.1 59.7L1.1 60.2L2.6 60.3L3.9 60.0ZM373.9 138.9L373.3 138.3L371.7 137.8L369.8 137.6L368.5 137.7L368.4 138.2L369.6 138.8L371.5 139.2L373.2 139.2ZM376.1 129.3L375.3 128.6L372.9 127.9L370.1 127.5L368.3 127.6L368.2 128.2L369.9 128.9L372.6 129.5L375.1 129.6ZM381.0 139.0L380.5 138.0L379.4 137.5L378.1 137.7L377.3 138.5L377.3 139.6L378.1 140.4L379.4 140.6L380.5 140.1ZM200.6 40.1L198.6 39.6L194.5 40.4L190.1 42.2L187.6 44.2L188.0 45.4L191.3 45.3L195.8 43.9L199.4 41.9ZM261.4 45.1L259.8 43.6L255.6 42.9L250.9 43.2L247.8 44.3L247.8 45.8L250.9 47.0L255.6 47.3L259.8 46.5ZM274.1 47.3L273.2 46.5L271.0 46.0L268.4 46.2L266.7 46.9L266.7 47.7L268.4 48.4L271.0 48.5L273.2 48.1ZM266.2 66.7L265.3 65.6L263.0 65.1L260.4 65.3L258.8 66.1L258.8 67.2L260.4 68.0L263.0 68.2L265.3 67.7ZM332.6 70.5L331.8 69.5L329.7 68.9L327.4 69.1L325.8 69.9L325.8 71.0L327.4 71.8L329.7 72.0L331.8 71.5ZM314.2 86.7L313.2 85.7L310.8 85.3L308.0 85.4L306.2 86.2L306.2 87.2L308.0 87.9L310.8 88.1L313.2 87.6ZM319.6 88.9L319.3 87.9L318.5 87.3L317.7 87.5L317.1 88.3L317.1 89.4L317.7 90.3L318.5 90.4L319.3 89.9ZM316.6 118.2L316.1 117.5L314.5 116.8L312.7 116.4L311.3 116.5L311.2 117.0L312.3 117.7L314.1 118.3L315.9 118.5ZM321.2 107.3L320.8 106.1L319.9 105.4L318.8 105.6L318.1 106.6L318.1 107.9L318.8 108.9L319.9 109.2L320.8 108.5ZM328.5 53.3L327.2 52.4L323.8 51.9L319.9 52.1L317.4 52.8L317.4 53.8L319.9 54.6L323.8 54.7L327.2 54.2ZM256.0 36.5L254.1 35.5L249.4 34.9L244.1 35.1L240.6 36.0L240.6 37.0L244.1 37.9L249.4 38.1L254.1 37.5ZM269.7 37.1L268.7 36.4L266.2 36.0L263.5 36.2L261.6 36.8L261.6 37.5L263.5 38.1L266.2 38.2L268.7 37.9ZM224.8 39.0L223.6 38.4L220.4 38.1L216.7 38.2L214.3 38.7L214.3 39.4L216.7 39.9L220.4 40.0L223.6 39.7ZM223.6 36.2L222.6 35.6L220.1 35.3L217.4 35.4L215.5 35.9L215.5 36.5L217.4 37.0L220.1 37.1L222.6 36.8ZM245.8 43.5L244.8 42.9L242.4 42.6L239.6 42.7L237.8 43.2L237.8 43.8L239.6 44.3L242.4 44.4L244.8 44.1ZM262.4 42.5L261.6 42.0L259.7 41.8L257.6 41.9L256.2 42.3L256.2 42.8L257.6 43.2L259.7 43.3L261.6 43.0ZM278.2 38.1L277.1 37.7L274.3 37.5L271.1 37.5L269.0 37.9L269.0 38.3L271.1 38.6L274.3 38.7L277.1 38.5ZM258.5 38.4L257.9 38.1L256.4 37.9L254.7 38.0L253.6 38.2L253.6 38.6L254.7 38.8L256.4 38.9L257.9 38.7ZM241.7 40.6L240.9 40.2L239.1 40.0L236.9 40.1L235.5 40.4L235.5 40.9L236.9 41.2L239.1 41.3L240.9 41.0ZM212.4 37.5L211.8 37.2L210.3 37.0L208.6 37.0L207.5 37.3L207.5 37.6L208.6 37.9L210.3 37.9L211.8 37.8ZM229.0 42.9L228.2 42.5L226.3 42.4L224.2 42.4L222.8 42.7L222.8 43.0L224.2 43.3L226.3 43.3L228.2 43.2ZM245.2 46.7L244.7 46.3L243.6 46.0L242.3 46.1L241.5 46.4L241.5 46.9L242.3 47.2L243.6 47.3L244.7 47.1ZM267.1 45.7L266.7 45.4L265.8 45.2L264.7 45.3L264.0 45.5L264.0 45.9L264.7 46.1L265.8 46.2L266.7 46.0ZM254.7 67.3L254.3 66.9L253.1 66.7L251.9 66.7L251.0 67.1L251.0 67.5L251.9 67.8L253.1 67.9L254.3 67.7ZM302.1 77.1L301.7 76.6L300.8 76.4L299.7 76.5L299.0 76.9L299.0 77.4L299.7 77.8L300.8 77.9L301.7 77.6ZM348.5 68.9L348.1 68.5L347.0 68.3L345.7 68.3L344.8 68.7L344.8 69.1L345.7 69.4L347.0 69.5L348.1 69.3ZM337.1 69.8L336.7 69.3L335.8 69.1L334.7 69.2L334.0 69.6L334.0 70.1L334.7 70.5L335.8 70.6L336.7 70.3ZM327.5 84.1L327.2 83.6L326.2 83.3L325.2 83.4L324.5 83.9L324.5 84.4L325.2 84.8L326.2 84.9L327.2 84.6ZM286.2 66.0L285.8 65.5L284.9 65.2L283.8 65.3L283.1 65.8L283.1 66.3L283.8 66.7L284.9 66.8L285.8 66.5ZM238.8 54.0L238.4 53.6L237.2 53.3L236.0 53.4L235.1 53.7L235.1 54.2L236.0 54.5L237.2 54.6L238.4 54.4ZM731.1 66.3L730.4 65.6L728.7 65.3L726.8 65.4L725.5 66.0L725.5 66.7L726.8 67.3L728.7 67.4L730.4 67.1ZM763.8 64.8L763.7 63.8L762.6 62.6L761.1 61.9L759.8 61.9L759.3 62.7L760.0 63.8L761.4 64.8L762.9 65.2ZM799.1 53.3L798.5 52.8L797.0 52.5L795.3 52.6L794.2 53.1L794.2 53.6L795.3 54.0L797.0 54.1L798.5 53.8ZM817.6 53.3L817.1 53.0L816.0 52.9L814.7 52.9L813.9 53.2L813.9 53.5L814.7 53.7L816.0 53.8L817.1 53.6ZM826.8 54.0L826.4 53.7L825.5 53.6L824.4 53.6L823.7 53.8L823.7 54.1L824.4 54.3L825.5 54.3L826.4 54.2ZM847.5 48.3L847.1 48.0L846.2 47.9L845.1 48.0L844.4 48.1L844.4 48.4L845.1 48.5L846.2 48.6L847.1 48.5ZM815.7 33.3L815.3 33.0L814.4 32.9L813.3 32.9L812.6 33.2L812.6 33.5L813.3 33.7L814.4 33.8L815.3 33.6ZM863.4 40.6L863.0 40.4L862.1 40.3L861.0 40.4L860.3 40.5L860.3 40.7L861.0 40.9L862.1 40.9L863.0 40.8ZM879.3 43.8L878.9 43.6L878.0 43.5L876.9 43.5L876.2 43.7L876.2 43.9L876.9 44.1L878.0 44.1L878.9 44.0ZM915.8 37.5L915.1 37.1L913.2 36.8L911.1 36.9L909.7 37.2L909.7 37.7L911.1 38.0L913.2 38.1L915.1 37.9ZM1004.9 50.2L1004.5 49.9L1003.6 49.8L1002.5 49.8L1001.8 50.0L1001.8 50.3L1002.5 50.5L1003.6 50.5L1004.5 50.4ZM1045.3 42.5L1044.7 42.3L1043.4 42.2L1041.9 42.3L1040.9 42.4L1040.9 42.6L1041.9 42.8L1043.4 42.9L1044.7 42.7ZM1060.8 48.6L1060.4 48.4L1059.3 48.3L1058.0 48.3L1057.1 48.5L1057.1 48.7L1058.0 48.8L1059.3 48.8L1060.4 48.7ZM1087.6 64.8L1087.2 64.6L1086.2 64.5L1085.2 64.5L1084.5 64.7L1084.5 64.8L1085.2 65.0L1086.2 65.0L1087.2 64.9ZM1093.6 98.4L1093.1 98.3L1092.2 98.7L1091.4 99.4L1091.0 100.0L1091.2 100.4L1092.0 100.3L1092.9 99.7L1093.6 99.0ZM1101.8 111.3L1101.6 110.8L1100.8 110.3L1099.7 110.0L1099.0 110.1L1098.8 110.5L1099.3 111.0L1100.3 111.5L1101.3 111.6ZM338.4 420.9L338.1 419.5L337.6 418.7L336.9 419.0L336.5 420.2L336.5 421.7L336.9 422.9L337.6 423.1L338.1 422.4ZM335.2 441.9L334.9 440.9L334.1 440.3L333.3 440.5L332.7 441.3L332.7 442.4L333.3 443.3L334.1 443.4L334.9 442.9ZM334.9 447.0L334.6 445.9L334.1 445.4L333.4 445.6L333.0 446.4L333.0 447.5L333.4 448.3L334.1 448.5L334.6 448.0ZM358.1 461.6L357.6 461.3L356.5 461.1L355.2 461.2L354.4 461.4L354.4 461.7L355.2 462.0L356.5 462.0L357.6 461.9ZM349.8 460.3L349.4 460.0L348.5 459.9L347.4 460.0L346.7 460.2L346.7 460.4L347.4 460.6L348.5 460.7L349.4 460.5ZM344.9 458.6L344.7 458.2L343.9 457.7L342.8 457.4L342.1 457.4L342.0 457.7L342.6 458.2L343.5 458.6L344.5 458.8ZM429.3 478.1L428.9 477.8L428.0 477.7L426.9 477.7L426.2 477.9L426.2 478.2L426.9 478.4L428.0 478.4L428.9 478.3ZM388.1 481.7L387.6 481.6L386.5 482.0L385.3 482.5L384.7 483.1L384.8 483.4L385.7 483.3L386.9 482.8L387.8 482.2ZM381.5 484.4L381.0 484.3L380.1 484.6L379.1 485.1L378.6 485.6L378.7 485.8L379.4 485.7L380.4 485.3L381.2 484.8ZM357.1 500.0L356.7 499.2L355.5 498.7L354.3 498.9L353.4 499.5L353.4 500.4L354.3 501.1L355.5 501.2L356.7 500.8ZM350.4 510.4L348.9 507.4L346.4 506.0L344.0 507.1L342.8 510.0L343.4 513.4L345.5 515.7L348.1 515.9L350.1 513.8ZM336.4 510.5L335.8 509.7L334.3 509.4L332.6 509.5L331.5 510.1L331.5 510.8L332.6 511.4L334.3 511.5L335.8 511.2ZM340.9 516.5L340.4 516.1L339.1 515.9L337.6 515.9L336.6 516.3L336.6 516.7L337.6 517.0L339.1 517.1L340.4 516.9ZM263.9 514.9L262.8 514.4L260.0 514.1L256.8 514.2L254.7 514.6L254.7 515.2L256.8 515.6L260.0 515.7L262.8 515.4ZM195.6 519.7L194.5 519.2L191.6 519.0L188.4 519.1L186.3 519.4L186.3 519.9L188.4 520.2L191.6 520.3L194.5 520.1ZM172.7 519.0L172.1 518.6L170.6 518.4L168.9 518.5L167.7 518.8L167.7 519.2L168.9 519.6L170.6 519.6L172.1 519.4ZM154.5 521.6L154.1 521.3L153.0 521.1L151.7 521.1L150.8 521.4L150.8 521.7L151.7 522.0L153.0 522.0L154.1 521.9ZM104.3 528.5L103.7 528.3L102.2 528.2L100.5 528.2L99.4 528.4L99.4 528.7L100.5 528.9L102.2 528.9L103.7 528.8ZM96.4 531.1L95.8 530.8L94.3 530.7L92.5 530.8L91.4 531.0L91.4 531.2L92.5 531.4L94.3 531.5L95.8 531.3ZM56.9 535.8L56.3 535.5L54.6 535.4L52.6 535.4L51.4 535.7L51.4 536.0L52.6 536.3L54.6 536.3L56.3 536.2ZM109.7 526.3L109.3 526.1L108.4 526.0L107.3 526.0L106.6 526.2L106.6 526.4L107.3 526.6L108.4 526.6L109.3 526.5ZM251.2 514.3L250.8 514.0L249.9 513.9L248.8 513.9L248.1 514.1L248.1 514.4L248.8 514.6L249.9 514.6L250.8 514.5ZM338.7 519.0L337.9 518.7L336.0 518.6L333.9 518.6L332.5 518.9L332.5 519.2L333.9 519.4L336.0 519.5L337.9 519.3ZM437.2 539.0L435.0 537.2L429.4 536.2L422.9 536.5L418.7 538.0L418.7 540.0L422.9 541.5L429.4 541.8L435.0 540.9ZM375.9 540.3L374.2 539.7L370.1 539.4L365.4 539.5L362.3 540.0L362.3 540.6L365.4 541.1L370.1 541.2L374.2 540.9ZM383.8 538.4L383.3 538.1L382.0 537.9L380.5 538.0L379.5 538.2L379.5 538.5L380.5 538.8L382.0 538.9L383.3 538.7ZM361.9 535.2L361.3 535.0L359.8 534.8L358.1 534.9L356.9 535.1L356.9 535.3L358.1 535.5L359.8 535.6L361.3 535.5ZM346.0 537.8L345.4 537.5L343.9 537.4L342.2 537.4L341.0 537.6L341.0 537.9L342.2 538.1L343.9 538.1L345.4 538.0ZM1010.9 399.3L1010.4 399.0L1009.1 398.9L1007.6 398.9L1006.6 399.2L1006.6 399.5L1007.6 399.8L1009.1 399.8L1010.4 399.7ZM989.9 322.5L989.5 322.1L988.4 321.8L987.1 321.9L986.2 322.3L986.2 322.8L987.1 323.1L988.4 323.2L989.5 323.0ZM1060.0 365.6L1059.7 364.5L1059.3 364.0L1059.1 364.2L1059.1 365.2L1059.3 366.3L1059.7 367.2L1059.9 367.4L1060.1 366.8ZM958.8 244.7L958.5 243.7L958.0 243.2L957.3 243.4L956.9 244.2L956.9 245.3L957.3 246.1L958.0 246.3L958.5 245.8ZM967.0 252.5L966.5 251.2L965.9 250.5L965.6 250.9L965.6 252.1L966.0 253.6L966.6 254.6L967.1 254.8L967.2 253.9ZM976.6 296.5L976.1 295.9L975.0 295.6L973.7 295.7L972.9 296.2L972.9 296.8L973.7 297.3L975.0 297.4L976.1 297.1ZM969.9 291.4L969.5 291.2L968.6 291.0L967.5 291.1L966.8 291.3L966.8 291.5L967.5 291.7L968.6 291.8L969.5 291.7ZM989.0 286.2L988.6 285.8L987.7 285.6L986.6 285.6L985.9 286.0L985.9 286.4L986.6 286.7L987.7 286.8L988.6 286.6ZM1000.9 305.4L1000.7 304.2L1000.2 303.5L999.7 303.7L999.4 304.7L999.4 306.0L999.7 307.0L1000.2 307.3L1000.7 306.6ZM991.5 310.5L991.6 309.4L991.3 308.7L990.6 308.7L989.9 309.3L989.5 310.3L989.7 311.3L990.2 311.7L990.9 311.4ZM976.6 310.3L976.2 310.1L975.3 309.9L974.2 310.0L973.5 310.2L973.5 310.4L974.2 310.6L975.3 310.7L976.2 310.5ZM956.2 317.1L955.8 316.4L954.6 315.8L953.1 315.5L952.0 315.7L951.9 316.2L952.7 316.9L954.2 317.3L955.5 317.4ZM948.9 312.4L948.2 311.9L946.5 311.6L944.6 311.7L943.4 312.1L943.4 312.6L944.6 313.1L946.5 313.1L948.2 312.9ZM935.6 308.1L935.1 307.8L934.0 307.7L932.7 307.7L931.9 307.9L931.9 308.2L932.7 308.4L934.0 308.5L935.1 308.3ZM910.9 292.0L910.0 291.1L909.0 290.9L908.4 291.6L908.4 292.7L909.1 293.8L910.1 294.4L910.9 294.2L911.3 293.3ZM888.5 290.4L887.4 289.5L886.4 289.3L886.0 290.0L886.4 291.2L887.4 292.3L888.5 292.9L889.3 292.6L889.3 291.6ZM883.2 281.6L882.2 280.8L881.4 280.7L881.0 281.3L881.3 282.3L882.2 283.3L883.1 283.8L883.8 283.5L883.8 282.7Z" fill="none" stroke="#000" stroke-width="1.9" stroke-linejoin="round"/></g>
</svg>
<rect x="70.0" y="46.4" width="1136.0" height="571.4" fill="none" stroke="#000" stroke-width="2.3"/>
<path d="M61.0 46.4H70.0M61.0 189.2H70.0M61.0 332.1H70.0M61.0 474.9H70.0M61.0 617.8H70.0M133.6 617.8v9M260.8 617.8v9M388.0 617.8v9M515.2 617.8v9M642.4 617.8v9M769.6 617.8v9M896.8 617.8v9M1024.0 617.8v9M1151.2 617.8v9" stroke="#000" stroke-width="2" fill="none"/>
<text class="k" text-anchor="end" x="54" y="52.9">90°N</text>
<text class="k" text-anchor="end" x="54" y="195.8">45°N</text>
<text class="k" text-anchor="end" x="54" y="338.6">0°</text>
<text class="k" text-anchor="end" x="54" y="481.4">45°S</text>
<text class="k" text-anchor="end" x="54" y="624.3">90°S</text>
<text class="k" text-anchor="middle" x="133.6" y="651.3">160°W</text>
<text class="k" text-anchor="middle" x="260.8" y="651.3">120°W</text>
<text class="k" text-anchor="middle" x="388.0" y="651.3">80°W</text>
<text class="k" text-anchor="middle" x="515.2" y="651.3">40°W</text>
<text class="k" text-anchor="middle" x="642.4" y="651.3">0°</text>
<text class="k" text-anchor="middle" x="769.6" y="651.3">40°E</text>
<text class="k" text-anchor="middle" x="896.8" y="651.3">80°E</text>
<text class="k" text-anchor="middle" x="1024.0" y="651.3">120°E</text>
<text class="k" text-anchor="middle" x="1151.2" y="651.3">160°E</text>
<text class="l" x="91.5" y="88.7" fill="#000" style="fill:#000">a</text>
<rect x="1262.5" y="46.40" width="57.5" height="34.11" fill="#0A0722"/>
<rect x="1262.5" y="80.01" width="57.5" height="34.11" fill="#1D1044"/>
<rect x="1262.5" y="113.62" width="57.5" height="34.11" fill="#2D1160"/>
<rect x="1262.5" y="147.24" width="57.5" height="34.11" fill="#451077"/>
<rect x="1262.5" y="180.85" width="57.5" height="34.11" fill="#591780"/>
<rect x="1262.5" y="214.46" width="57.5" height="34.11" fill="#6E1F81"/>
<rect x="1262.5" y="248.07" width="57.5" height="34.11" fill="#852882"/>
<rect x="1262.5" y="281.68" width="57.5" height="34.11" fill="#9C2E7F"/>
<rect x="1262.5" y="315.29" width="57.5" height="34.11" fill="#B03579"/>
<rect x="1262.5" y="348.91" width="57.5" height="34.11" fill="#C73E70"/>
<rect x="1262.5" y="382.52" width="57.5" height="34.11" fill="#E04B65"/>
<rect x="1262.5" y="416.13" width="57.5" height="34.11" fill="#F0605D"/>
<rect x="1262.5" y="449.74" width="57.5" height="34.11" fill="#F97C5D"/>
<rect x="1262.5" y="483.35" width="57.5" height="34.11" fill="#FB9A6B"/>
<rect x="1262.5" y="516.96" width="57.5" height="34.11" fill="#FDB17B"/>
<rect x="1262.5" y="550.58" width="57.5" height="34.11" fill="#FECF92"/>
<rect x="1262.5" y="584.19" width="57.5" height="34.11" fill="#FEE5A5"/>
<rect x="1262.5" y="46.4" width="57.5" height="571.4" fill="none" stroke="#000" stroke-width="1.4"/>
<text class="c" x="1337" y="93.5">0.16</text>
<text class="c" x="1337" y="160.7">0.14</text>
<text class="c" x="1337" y="228.0">0.12</text>
<text class="c" x="1337" y="295.2">0.1</text>
<text class="c" x="1337" y="362.4">0.08</text>
<text class="c" x="1337" y="429.6">0.06</text>
<text class="c" x="1337" y="496.9">0.04</text>
<text class="c" x="1337" y="564.1">0.02</text>
<text class="c" x="1337" y="631.3">0</text>
<path d="M1320.0 80.0h8.5M1320.0 147.2h8.5M1320.0 214.5h8.5M1320.0 281.7h8.5M1320.0 348.9h8.5M1320.0 416.1h8.5M1320.0 483.4h8.5M1320.0 550.6h8.5M1320.0 617.8h8.5" stroke="#000" stroke-width="2" fill="none"/>
</g>
<g id="panel-b">
<text class="t" x="637.2" y="718.1">Sulfate-induced temperature changes</text>
<svg x="70.0" y="732.5" width="1136.0" height="571.4" viewBox="0 0 1136.0 571.4" overflow="hidden">
<rect width="1136.0" height="571.4" fill="#28C8FA"/><path fill="#FFE313" d="M477 130.9H492.9V137.2H477ZM477 136.9H492.9V143.1H477Z"/><path fill="#FFFFAA" d="M469.1 130.9H477V137.2H469.1ZM461.1 136.9H477V143.1H461.1ZM492.9 136.9H500.9V143.1H492.9ZM469.1 142.8H492.9V149.1H469.1Z"/><path fill="#8BF4F7" d="M445.2 125H492.9V131.2H445.2ZM437.2 130.9H469.1V137.2H437.2ZM492.9 130.9H500.9V137.2H492.9ZM437.2 136.9H461.1V143.1H437.2ZM500.9 136.9H508.8V143.1H500.9ZM437.2 142.8H469.1V149.1H437.2ZM492.9 142.8H500.9V149.1H492.9ZM445.2 148.8H492.9V155.1H445.2ZM461.1 154.8H477V161H461.1ZM206.7 327.4H294.2V333.6H206.7ZM1041.5 327.4H1065.3V333.6H1041.5ZM190.8 333.3H302.1V339.6H190.8ZM1041.5 333.3H1065.3V339.6H1041.5ZM143.1 339.3H310.1V345.5H143.1ZM0 345.2H318V351.5H0ZM1113 345.2H1136.9V351.5H1113ZM0 351.2H318V357.4H0ZM1113 351.2H1136.9V357.4H1113ZM0 357.1H318V363.4H0ZM413.4 357.1H524.7V363.4H413.4ZM1113 357.1H1136.9V363.4H1113ZM0 363.1H318V369.3H0ZM413.4 363.1H524.7V369.3H413.4ZM0 369H318V375.3H0ZM413.4 369H524.7V375.3H413.4ZM8 375H318V381.2H8ZM405.4 375H524.7V381.2H405.4ZM39.8 380.9H318V387.2H39.8ZM405.4 380.9H524.7V387.2H405.4ZM63.6 386.9H310.1V393.1H63.6ZM397.5 386.9H524.7V393.1H397.5ZM95.4 392.8H278.2V399.1H95.4ZM365.7 392.8H524.7V399.1H365.7ZM103.4 398.8H286.2V405H103.4ZM357.8 398.8H524.7V405H357.8ZM103.4 404.7H286.2V411H103.4ZM357.8 404.7H524.7V411H357.8ZM103.4 410.7H294.2V416.9H103.4ZM357.8 410.7H524.7V416.9H357.8ZM87.5 416.6H302.1V422.9H87.5ZM365.7 416.6H516.8V422.9H365.7ZM79.5 422.6H318V428.8H79.5ZM365.7 422.6H516.8V428.8H365.7ZM71.5 428.5H333.9V434.8H71.5ZM365.7 428.5H508.8V434.8H365.7ZM55.6 434.5H333.9V440.8H55.6ZM365.7 434.5H508.8V440.8H365.7ZM1025.5 434.5H1073.2V440.8H1025.5ZM47.7 440.5H333.9V446.7H47.7ZM365.7 440.5H508.8V446.7H365.7ZM1041.5 440.5H1089.2V446.7H1041.5ZM31.8 446.4H333.9V452.7H31.8ZM365.7 446.4H500.9V452.7H365.7ZM1057.4 446.4H1113V452.7H1057.4ZM0 452.4H333.9V458.6H0ZM1073.2 452.4H1128.9V458.6H1073.2ZM0 458.3H333.9V464.6H0ZM850.6 458.3H890.4V464.6H850.6ZM1089.2 458.3H1136.9V464.6H1089.2ZM0 464.3H333.9V470.5H0ZM795 464.3H890.4V470.5H795ZM1089.2 464.3H1136.9V470.5H1089.2ZM0 470.2H333.9V476.5H0ZM755.2 470.2H882.5V476.5H755.2ZM1081.2 470.2H1136.9V476.5H1081.2ZM0 476.2H103.4V482.4H0ZM723.5 476.2H874.5V482.4H723.5ZM1065.3 476.2H1136.9V482.4H1065.3ZM0 482.1H95.4V488.4H0ZM699.6 482.1H858.6V488.4H699.6ZM1057.4 482.1H1136.9V488.4H1057.4ZM0 488.1H79.5V494.3H0ZM691.6 488.1H834.8V494.3H691.6ZM1057.4 488.1H1136.9V494.3H1057.4ZM0 494H63.6V500.3H0ZM691.6 494H795V500.3H691.6ZM1057.4 494H1136.9V500.3H1057.4ZM0 500H47.7V506.2H0ZM1065.3 500H1136.9V506.2H1065.3ZM0 505.9H39.8V512.2H0ZM1097.1 505.9H1136.9V512.2H1097.1ZM1121 511.9H1136.9V518.1H1121Z"/><path fill="#3C9BFB" d="M588.3 65.5H596.2V71.7H588.3ZM580.4 71.4H596.2V77.7H580.4ZM437.2 101.2H484.9V107.4H437.2ZM421.4 107.1H508.8V113.4H421.4ZM413.4 113.1H453.2V119.3H413.4ZM477 113.1H524.7V119.3H477ZM405.4 119H429.3V125.3H405.4ZM500.9 119H540.6V125.3H500.9ZM612.1 119H636V125.3H612.1ZM397.5 125H421.4V131.2H397.5ZM516.8 125H564.5V131.2H516.8ZM612.1 125H644V131.2H612.1ZM389.6 130.9H421.4V137.2H389.6ZM524.7 130.9H580.4V137.2H524.7ZM612.1 130.9H644V137.2H612.1ZM659.9 130.9H675.8V137.2H659.9ZM397.5 136.9H413.4V143.1H397.5ZM524.7 136.9H580.4V143.1H524.7ZM612.1 136.9H651.9V143.1H612.1ZM397.5 142.8H413.4V149.1H397.5ZM524.7 142.8H580.4V149.1H524.7ZM596.2 142.8H651.9V149.1H596.2ZM397.5 148.8H421.4V155.1H397.5ZM524.7 148.8H572.4V155.1H524.7ZM588.3 148.8H651.9V155.1H588.3ZM397.5 154.8H421.4V161H397.5ZM516.8 154.8H564.5V161H516.8ZM588.3 154.8H620.1V161H588.3ZM405.4 160.7H437.2V167H405.4ZM500.9 160.7H548.6V167H500.9ZM413.4 166.7H532.6V172.9H413.4ZM421.4 172.6H516.8V178.9H421.4ZM429.3 178.6H500.9V184.8H429.3ZM445.2 184.5H484.9V190.8H445.2ZM461.1 196.4H477V202.7H461.1ZM437.2 202.4H500.9V208.6H437.2ZM421.4 208.3H524.7V214.6H421.4ZM405.4 214.3H548.6V220.5H405.4ZM397.5 220.2H556.5V226.5H397.5ZM389.6 226.2H564.5V232.4H389.6ZM389.6 232.1H572.4V238.4H389.6ZM962 232.1H977.9V238.4H962ZM985.8 232.1H1033.5V238.4H985.8ZM389.6 238.1H588.3V244.3H389.6ZM906.3 238.1H1105V244.3H906.3ZM389.6 244H596.2V250.3H389.6ZM882.5 244H985.8V250.3H882.5ZM1025.5 244H1136.9V250.3H1025.5ZM190.8 250H325.9V256.2H190.8ZM397.5 250H596.2V256.2H397.5ZM874.5 250H946.1V256.2H874.5ZM1065.3 250H1144.8V256.2H1065.3ZM167 255.9H341.9V262.2H167ZM405.4 255.9H484.9V262.2H405.4ZM524.7 255.9H604.2V262.2H524.7ZM866.6 255.9H930.1V262.2H866.6ZM1073.2 255.9H1144.8V262.2H1073.2ZM151.1 261.9H349.8V268.1H151.1ZM405.4 261.9H477V268.1H405.4ZM532.6 261.9H604.2V268.1H532.6ZM858.6 261.9H938.1V268.1H858.6ZM1073.2 261.9H1144.8V268.1H1073.2ZM135.2 267.8H230.6V274.1H135.2ZM294.2 267.8H349.8V274.1H294.2ZM413.4 267.8H477V274.1H413.4ZM548.6 267.8H604.2V274.1H548.6ZM858.6 267.8H1144.8V274.1H858.6ZM127.2 273.8H222.6V280H127.2ZM310.1 273.8H349.8V280H310.1ZM421.4 273.8H477V280H421.4ZM548.6 273.8H604.2V280H548.6ZM858.6 273.8H1144.8V280H858.6ZM111.3 279.7H222.6V286H111.3ZM310.1 279.7H349.8V286H310.1ZM421.4 279.7H477V286H421.4ZM556.5 279.7H604.2V286H556.5ZM842.7 279.7H1144.8V286H842.7ZM0 285.7H246.5V292H0ZM310.1 285.7H341.9V292H310.1ZM429.3 285.7H477V292H429.3ZM556.5 285.7H604.2V292H556.5ZM803 285.7H1144.8V292H803ZM0 291.7H270.3V297.9H0ZM310.1 291.7H341.9V297.9H310.1ZM429.3 291.7H477V297.9H429.3ZM548.6 291.7H604.2V297.9H548.6ZM723.5 291.7H1144.8V297.9H723.5ZM0 297.6H262.4V303.9H0ZM318 297.6H349.8V303.9H318ZM421.4 297.6H461.1V303.9H421.4ZM572.4 297.6H612.1V303.9H572.4ZM699.6 297.6H1065.3V303.9H699.6ZM1128.9 297.6H1144.8V303.9H1128.9ZM0 303.6H254.4V309.8H0ZM325.9 303.6H349.8V309.8H325.9ZM421.4 303.6H453.2V309.8H421.4ZM588.3 303.6H620.1V309.8H588.3ZM675.8 303.6H898.4V309.8H675.8ZM938.1 303.6H1041.5V309.8H938.1ZM0 309.5H174.9V315.8H0ZM333.9 309.5H357.8V315.8H333.9ZM413.4 309.5H445.2V315.8H413.4ZM596.2 309.5H628.1V315.8H596.2ZM659.9 309.5H731.4V315.8H659.9ZM977.9 309.5H1017.6V315.8H977.9ZM341.9 315.5H365.7V321.7H341.9ZM405.4 315.5H437.2V321.7H405.4ZM604.2 315.5H699.6V321.7H604.2ZM341.9 321.4H365.7V327.7H341.9ZM397.5 321.4H429.3V327.7H397.5ZM604.2 321.4H691.6V327.7H604.2ZM1001.7 321.4H1017.6V327.7H1001.7ZM341.9 327.4H373.7V333.6H341.9ZM397.5 327.4H429.3V333.6H397.5ZM612.1 327.4H683.7V333.6H612.1ZM969.9 327.4H1033.5V333.6H969.9ZM341.9 333.3H373.7V339.6H341.9ZM389.6 333.3H421.4V339.6H389.6ZM612.1 333.3H683.7V339.6H612.1ZM946.1 333.3H1041.5V339.6H946.1ZM341.9 339.3H373.7V345.5H341.9ZM381.6 339.3H421.4V345.5H381.6ZM612.1 339.3H644V345.5H612.1ZM651.9 339.3H683.7V345.5H651.9ZM938.1 339.3H969.9V345.5H938.1ZM1025.5 339.3H1049.4V345.5H1025.5ZM341.9 345.2H413.4V351.5H341.9ZM612.1 345.2H636V351.5H612.1ZM659.9 345.2H683.7V351.5H659.9ZM930.1 345.2H954V351.5H930.1ZM1033.5 345.2H1057.4V351.5H1033.5ZM349.8 351.2H413.4V357.4H349.8ZM612.1 351.2H636V357.4H612.1ZM667.8 351.2H683.7V357.4H667.8ZM930.1 351.2H954V357.4H930.1ZM1041.5 351.2H1057.4V357.4H1041.5ZM349.8 357.1H405.4V363.4H349.8ZM612.1 357.1H636V363.4H612.1ZM667.8 357.1H683.7V363.4H667.8ZM930.1 357.1H946.1V363.4H930.1ZM1041.5 357.1H1065.3V363.4H1041.5ZM349.8 363.1H405.4V369.3H349.8ZM612.1 363.1H636V369.3H612.1ZM667.8 363.1H683.7V369.3H667.8ZM930.1 363.1H954V369.3H930.1ZM1041.5 363.1H1065.3V369.3H1041.5ZM349.8 369H397.5V375.3H349.8ZM620.1 369H644V375.3H620.1ZM659.9 369H683.7V375.3H659.9ZM930.1 369H962V375.3H930.1ZM1041.5 369H1057.4V375.3H1041.5ZM349.8 375H397.5V381.2H349.8ZM620.1 375H683.7V381.2H620.1ZM938.1 375H977.9V381.2H938.1ZM1041.5 375H1057.4V381.2H1041.5ZM341.9 380.9H397.5V387.2H341.9ZM620.1 380.9H675.8V387.2H620.1ZM954 380.9H1009.6V387.2H954ZM1033.5 380.9H1057.4V387.2H1033.5ZM341.9 386.9H365.7V393.1H341.9ZM628.1 386.9H667.8V393.1H628.1ZM977.9 386.9H1049.4V393.1H977.9ZM341.9 392.8H357.8V399.1H341.9ZM644 392.8H659.9V399.1H644ZM993.8 392.8H1041.5V399.1H993.8ZM341.9 398.8H349.8V405H341.9ZM1017.6 398.8H1033.5V405H1017.6ZM341.9 404.7H349.8V411H341.9ZM341.9 410.7H349.8V416.9H341.9ZM349.8 416.6H357.8V422.9H349.8ZM349.8 422.6H357.8V428.8H349.8ZM588.3 458.3H651.9V464.6H588.3ZM572.4 464.3H667.8V470.5H572.4ZM564.5 470.2H675.8V476.5H564.5ZM564.5 476.2H683.7V482.4H564.5ZM906.3 476.2H1009.6V482.4H906.3ZM111.3 482.1H325.9V488.4H111.3ZM421.4 482.1H500.9V488.4H421.4ZM564.5 482.1H683.7V488.4H564.5ZM898.4 482.1H1017.6V488.4H898.4ZM111.3 488.1H333.9V494.3H111.3ZM421.4 488.1H500.9V494.3H421.4ZM564.5 488.1H675.8V494.3H564.5ZM906.3 488.1H1009.6V494.3H906.3ZM103.4 494H135.2V500.3H103.4ZM302.1 494H333.9V500.3H302.1ZM421.4 494H500.9V500.3H421.4ZM572.4 494H675.8V500.3H572.4ZM103.4 500H135.2V506.2H103.4ZM302.1 500H333.9V506.2H302.1ZM421.4 500H500.9V506.2H421.4ZM111.3 505.9H325.9V512.2H111.3ZM103.4 511.9H318V518.1H103.4ZM0 517.8H310.1V524.1H0ZM0 523.8H318V530H0ZM0 529.7H318V536H0ZM1081.2 529.7H1128.9V536H1081.2ZM0 535.7H31.8V541.9H0ZM127.2 535.7H318V541.9H127.2ZM1081.2 535.7H1128.9V541.9H1081.2ZM0 541.6H31.8V547.9H0ZM127.2 541.6H318V547.9H127.2ZM1081.2 541.6H1128.9V547.9H1081.2ZM0 547.6H31.8V553.8H0ZM127.2 547.6H318V553.8H127.2ZM1081.2 547.6H1128.9V553.8H1081.2ZM0 553.5H318V559.8H0ZM0 559.5H318V565.7H0ZM0 565.4H318V571.7H0Z"/><path fill="#317BFB" d="M580.4 59.5H604.2V65.8H580.4ZM564.5 65.5H588.3V71.7H564.5ZM596.2 65.5H612.1V71.7H596.2ZM437.2 71.4H461.1V77.7H437.2ZM564.5 71.4H580.4V77.7H564.5ZM596.2 71.4H612.1V77.7H596.2ZM421.4 77.4H477V83.6H421.4ZM556.5 77.4H612.1V83.6H556.5ZM413.4 83.3H484.9V89.6H413.4ZM564.5 83.3H612.1V89.6H564.5ZM413.4 89.3H500.9V95.5H413.4ZM405.4 95.2H548.6V101.5H405.4ZM612.1 95.2H628.1V101.5H612.1ZM397.5 101.2H437.2V107.4H397.5ZM484.9 101.2H564.5V107.4H484.9ZM604.2 101.2H659.9V107.4H604.2ZM906.3 101.2H914.2V107.4H906.3ZM389.6 107.1H421.4V113.4H389.6ZM508.8 107.1H572.4V113.4H508.8ZM596.2 107.1H659.9V113.4H596.2ZM898.4 107.1H914.2V113.4H898.4ZM373.7 113.1H413.4V119.3H373.7ZM524.7 113.1H667.8V119.3H524.7ZM898.4 113.1H906.3V119.3H898.4ZM365.7 119H405.4V125.3H365.7ZM540.6 119H612.1V125.3H540.6ZM636 119H691.6V125.3H636ZM882.5 119H898.4V125.3H882.5ZM357.8 125H397.5V131.2H357.8ZM564.5 125H612.1V131.2H564.5ZM644 125H699.6V131.2H644ZM763.2 125H779.1V131.2H763.2ZM325.9 130.9H341.9V137.2H325.9ZM365.7 130.9H389.6V137.2H365.7ZM580.4 130.9H612.1V137.2H580.4ZM644 130.9H659.9V137.2H644ZM675.8 130.9H707.6V137.2H675.8ZM763.2 130.9H779.1V137.2H763.2ZM325.9 136.9H349.8V143.1H325.9ZM373.7 136.9H397.5V143.1H373.7ZM580.4 136.9H612.1V143.1H580.4ZM651.9 136.9H699.6V143.1H651.9ZM325.9 142.8H349.8V149.1H325.9ZM365.7 142.8H397.5V149.1H365.7ZM580.4 142.8H596.2V149.1H580.4ZM651.9 142.8H683.7V149.1H651.9ZM325.9 148.8H349.8V155.1H325.9ZM365.7 148.8H397.5V155.1H365.7ZM572.4 148.8H588.3V155.1H572.4ZM651.9 148.8H683.7V155.1H651.9ZM325.9 154.8H397.5V161H325.9ZM564.5 154.8H588.3V161H564.5ZM620.1 154.8H691.6V161H620.1ZM278.2 160.7H294.2V167H278.2ZM333.9 160.7H405.4V167H333.9ZM548.6 160.7H699.6V167H548.6ZM739.4 160.7H779.1V167H739.4ZM238.5 166.7H254.4V172.9H238.5ZM278.2 166.7H302.1V172.9H278.2ZM333.9 166.7H413.4V172.9H333.9ZM532.6 166.7H691.6V172.9H532.6ZM731.4 166.7H787.1V172.9H731.4ZM238.5 172.6H254.4V178.9H238.5ZM278.2 172.6H294.2V178.9H278.2ZM333.9 172.6H421.4V178.9H333.9ZM516.8 172.6H683.7V178.9H516.8ZM731.4 172.6H763.2V178.9H731.4ZM779.1 172.6H787.1V178.9H779.1ZM341.9 178.6H429.3V184.8H341.9ZM500.9 178.6H588.3V184.8H500.9ZM620.1 178.6H667.8V184.8H620.1ZM731.4 178.6H755.2V184.8H731.4ZM349.8 184.5H445.2V190.8H349.8ZM484.9 184.5H588.3V190.8H484.9ZM628.1 184.5H659.9V190.8H628.1ZM739.4 184.5H747.3V190.8H739.4ZM349.8 190.5H651.9V196.7H349.8ZM0 196.4H47.7V202.7H0ZM167 196.4H198.8V202.7H167ZM238.5 196.4H262.4V202.7H238.5ZM333.9 196.4H461.1V202.7H333.9ZM477 196.4H651.9V202.7H477ZM922.2 196.4H946.1V202.7H922.2ZM0 202.4H437.2V208.6H0ZM500.9 202.4H651.9V208.6H500.9ZM667.8 202.4H683.7V208.6H667.8ZM922.2 202.4H946.1V208.6H922.2ZM1113 202.4H1144.8V208.6H1113ZM0 208.3H421.4V214.6H0ZM524.7 208.3H691.6V214.6H524.7ZM771.1 208.3H787.1V214.6H771.1ZM795 208.3H938.1V214.6H795ZM985.8 208.3H1001.7V214.6H985.8ZM1009.6 208.3H1144.8V214.6H1009.6ZM0 214.3H405.4V220.5H0ZM548.6 214.3H691.6V220.5H548.6ZM739.4 214.3H946.1V220.5H739.4ZM977.9 214.3H1144.8V220.5H977.9ZM0 220.2H397.5V226.5H0ZM556.5 220.2H691.6V226.5H556.5ZM739.4 220.2H1144.8V226.5H739.4ZM0 226.2H389.6V232.4H0ZM564.5 226.2H691.6V232.4H564.5ZM739.4 226.2H1144.8V232.4H739.4ZM0 232.1H389.6V238.4H0ZM572.4 232.1H691.6V238.4H572.4ZM723.5 232.1H962V238.4H723.5ZM977.9 232.1H985.8V238.4H977.9ZM1033.5 232.1H1144.8V238.4H1033.5ZM0 238.1H389.6V244.3H0ZM588.3 238.1H906.3V244.3H588.3ZM1105 238.1H1144.8V244.3H1105ZM0 244H389.6V250.3H0ZM596.2 244H882.5V250.3H596.2ZM1136.9 244H1144.8V250.3H1136.9ZM0 250H190.8V256.2H0ZM325.9 250H397.5V256.2H325.9ZM596.2 250H874.5V256.2H596.2ZM0 255.9H167V262.2H0ZM341.9 255.9H405.4V262.2H341.9ZM604.2 255.9H667.8V262.2H604.2ZM675.8 255.9H866.6V262.2H675.8ZM0 261.9H151.1V268.1H0ZM349.8 261.9H405.4V268.1H349.8ZM604.2 261.9H659.9V268.1H604.2ZM683.7 261.9H858.6V268.1H683.7ZM0 267.8H135.2V274.1H0ZM349.8 267.8H413.4V274.1H349.8ZM604.2 267.8H651.9V274.1H604.2ZM683.7 267.8H858.6V274.1H683.7ZM0 273.8H127.2V280H0ZM349.8 273.8H421.4V280H349.8ZM604.2 273.8H651.9V280H604.2ZM675.8 273.8H858.6V280H675.8ZM0 279.7H111.3V286H0ZM349.8 279.7H421.4V286H349.8ZM604.2 279.7H651.9V286H604.2ZM667.8 279.7H842.7V286H667.8ZM341.9 285.7H429.3V292H341.9ZM604.2 285.7H803V292H604.2ZM341.9 291.7H373.7V297.9H341.9ZM389.6 291.7H429.3V297.9H389.6ZM604.2 291.7H723.5V297.9H604.2ZM349.8 297.6H421.4V303.9H349.8ZM612.1 297.6H699.6V303.9H612.1ZM349.8 303.6H421.4V309.8H349.8ZM620.1 303.6H675.8V309.8H620.1ZM357.8 309.5H413.4V315.8H357.8ZM628.1 309.5H659.9V315.8H628.1ZM365.7 315.5H405.4V321.7H365.7ZM365.7 321.4H397.5V327.7H365.7ZM373.7 327.4H397.5V333.6H373.7ZM373.7 333.3H389.6V339.6H373.7ZM373.7 339.3H381.6V345.5H373.7ZM644 339.3H651.9V345.5H644ZM969.9 339.3H1025.5V345.5H969.9ZM636 345.2H659.9V351.5H636ZM954 345.2H1033.5V351.5H954ZM636 351.2H667.8V357.4H636ZM954 351.2H969.9V357.4H954ZM1025.5 351.2H1041.5V357.4H1025.5ZM636 357.1H667.8V363.4H636ZM946.1 357.1H969.9V363.4H946.1ZM1025.5 357.1H1041.5V363.4H1025.5ZM636 363.1H667.8V369.3H636ZM954 363.1H977.9V369.3H954ZM1025.5 363.1H1041.5V369.3H1025.5ZM644 369H659.9V375.3H644ZM962 369H1001.7V375.3H962ZM1025.5 369H1041.5V375.3H1025.5ZM977.9 375H1041.5V381.2H977.9ZM1009.6 380.9H1033.5V387.2H1009.6ZM135.2 494H302.1V500.3H135.2ZM135.2 500H302.1V506.2H135.2ZM31.8 535.7H127.2V541.9H31.8ZM31.8 541.6H127.2V547.9H31.8ZM31.8 547.6H127.2V553.8H31.8Z"/><path fill="#3A5BFA" d="M572.4 53.6H604.2V59.8H572.4ZM564.5 59.5H580.4V65.8H564.5ZM604.2 59.5H612.1V65.8H604.2ZM421.4 65.5H477V71.7H421.4ZM556.5 65.5H564.5V71.7H556.5ZM612.1 65.5H628.1V71.7H612.1ZM405.4 71.4H437.2V77.7H405.4ZM461.1 71.4H492.9V77.7H461.1ZM540.6 71.4H564.5V77.7H540.6ZM612.1 71.4H644V77.7H612.1ZM79.5 77.4H127.2V83.6H79.5ZM397.5 77.4H421.4V83.6H397.5ZM477 77.4H508.8V83.6H477ZM532.6 77.4H556.5V83.6H532.6ZM612.1 77.4H651.9V83.6H612.1ZM842.7 77.4H850.6V83.6H842.7ZM874.5 77.4H882.5V83.6H874.5ZM63.6 83.3H159V89.6H63.6ZM174.9 83.3H206.7V89.6H174.9ZM389.6 83.3H413.4V89.6H389.6ZM484.9 83.3H564.5V89.6H484.9ZM612.1 83.3H651.9V89.6H612.1ZM763.2 83.3H795V89.6H763.2ZM834.8 83.3H898.4V89.6H834.8ZM938.1 83.3H946.1V89.6H938.1ZM63.6 89.3H238.5V95.5H63.6ZM357.8 89.3H413.4V95.5H357.8ZM500.9 89.3H667.8V95.5H500.9ZM755.2 89.3H810.9V95.5H755.2ZM834.8 89.3H930.1V95.5H834.8ZM55.6 95.2H246.5V101.5H55.6ZM357.8 95.2H405.4V101.5H357.8ZM548.6 95.2H612.1V101.5H548.6ZM628.1 95.2H675.8V101.5H628.1ZM747.3 95.2H818.9V101.5H747.3ZM842.7 95.2H930.1V101.5H842.7ZM993.8 95.2H1009.6V101.5H993.8ZM47.7 101.2H254.4V107.4H47.7ZM357.8 101.2H397.5V107.4H357.8ZM564.5 101.2H604.2V107.4H564.5ZM659.9 101.2H691.6V107.4H659.9ZM747.3 101.2H818.9V107.4H747.3ZM842.7 101.2H906.3V107.4H842.7ZM914.2 101.2H930.1V107.4H914.2ZM993.8 101.2H1009.6V107.4H993.8ZM39.8 107.1H270.3V113.4H39.8ZM357.8 107.1H389.6V113.4H357.8ZM572.4 107.1H596.2V113.4H572.4ZM659.9 107.1H699.6V113.4H659.9ZM755.2 107.1H787.1V113.4H755.2ZM803 107.1H818.9V113.4H803ZM834.8 107.1H898.4V113.4H834.8ZM914.2 107.1H930.1V113.4H914.2ZM993.8 107.1H1001.7V113.4H993.8ZM0 113.1H8V119.3H0ZM23.9 113.1H254.4V119.3H23.9ZM262.4 113.1H286.2V119.3H262.4ZM349.8 113.1H373.7V119.3H349.8ZM667.8 113.1H707.6V119.3H667.8ZM755.2 113.1H787.1V119.3H755.2ZM834.8 113.1H898.4V119.3H834.8ZM906.3 113.1H938.1V119.3H906.3ZM969.9 113.1H977.9V119.3H969.9ZM0 119H254.4V125.3H0ZM262.4 119H365.7V125.3H262.4ZM691.6 119H795V125.3H691.6ZM834.8 119H882.5V125.3H834.8ZM898.4 119H946.1V125.3H898.4ZM962 119H985.8V125.3H962ZM0 125H357.8V131.2H0ZM699.6 125H763.2V131.2H699.6ZM779.1 125H914.2V131.2H779.1ZM930.1 125H985.8V131.2H930.1ZM1113 125H1144.8V131.2H1113ZM0 130.9H206.7V137.2H0ZM214.7 130.9H325.9V137.2H214.7ZM341.9 130.9H365.7V137.2H341.9ZM707.6 130.9H763.2V137.2H707.6ZM779.1 130.9H914.2V137.2H779.1ZM954 130.9H985.8V137.2H954ZM1105 130.9H1144.8V137.2H1105ZM0 136.9H198.8V143.1H0ZM222.6 136.9H254.4V143.1H222.6ZM270.3 136.9H278.2V143.1H270.3ZM302.1 136.9H325.9V143.1H302.1ZM349.8 136.9H373.7V143.1H349.8ZM699.6 136.9H922.2V143.1H699.6ZM962 136.9H985.8V143.1H962ZM1105 136.9H1144.8V143.1H1105ZM0 142.8H198.8V149.1H0ZM310.1 142.8H325.9V149.1H310.1ZM349.8 142.8H365.7V149.1H349.8ZM683.7 142.8H834.8V149.1H683.7ZM866.6 142.8H922.2V149.1H866.6ZM962 142.8H1009.6V149.1H962ZM1097.1 142.8H1144.8V149.1H1097.1ZM0 148.8H198.8V155.1H0ZM246.5 148.8H286.2V155.1H246.5ZM302.1 148.8H325.9V155.1H302.1ZM349.8 148.8H365.7V155.1H349.8ZM683.7 148.8H834.8V155.1H683.7ZM898.4 148.8H993.8V155.1H898.4ZM1097.1 148.8H1144.8V155.1H1097.1ZM0 154.8H111.3V161H0ZM135.2 154.8H325.9V161H135.2ZM691.6 154.8H826.8V161H691.6ZM922.2 154.8H969.9V161H922.2ZM1089.2 154.8H1144.8V161H1089.2ZM0 160.7H95.4V167H0ZM143.1 160.7H278.2V167H143.1ZM294.2 160.7H333.9V167H294.2ZM699.6 160.7H739.4V167H699.6ZM779.1 160.7H818.9V167H779.1ZM906.3 160.7H969.9V167H906.3ZM1081.2 160.7H1144.8V167H1081.2ZM0 166.7H95.4V172.9H0ZM143.1 166.7H238.5V172.9H143.1ZM254.4 166.7H278.2V172.9H254.4ZM302.1 166.7H333.9V172.9H302.1ZM691.6 166.7H731.4V172.9H691.6ZM787.1 166.7H818.9V172.9H787.1ZM850.6 166.7H866.6V172.9H850.6ZM906.3 166.7H969.9V172.9H906.3ZM993.8 166.7H1017.6V172.9H993.8ZM1025.5 166.7H1041.5V172.9H1025.5ZM1065.3 166.7H1144.8V172.9H1065.3ZM0 172.6H103.4V178.9H0ZM135.2 172.6H238.5V178.9H135.2ZM254.4 172.6H278.2V178.9H254.4ZM294.2 172.6H333.9V178.9H294.2ZM683.7 172.6H731.4V178.9H683.7ZM763.2 172.6H779.1V178.9H763.2ZM787.1 172.6H818.9V178.9H787.1ZM850.6 172.6H866.6V178.9H850.6ZM906.3 172.6H1144.8V178.9H906.3ZM0 178.6H341.9V184.8H0ZM588.3 178.6H620.1V184.8H588.3ZM667.8 178.6H731.4V184.8H667.8ZM755.2 178.6H810.9V184.8H755.2ZM850.6 178.6H866.6V184.8H850.6ZM906.3 178.6H1144.8V184.8H906.3ZM0 184.5H349.8V190.8H0ZM588.3 184.5H628.1V190.8H588.3ZM659.9 184.5H739.4V190.8H659.9ZM747.3 184.5H803V190.8H747.3ZM834.8 184.5H874.5V190.8H834.8ZM898.4 184.5H1144.8V190.8H898.4ZM0 190.5H349.8V196.7H0ZM651.9 190.5H715.5V196.7H651.9ZM723.5 190.5H810.9V196.7H723.5ZM826.8 190.5H1144.8V196.7H826.8ZM47.7 196.4H167V202.7H47.7ZM198.8 196.4H238.5V202.7H198.8ZM262.4 196.4H333.9V202.7H262.4ZM651.9 196.4H707.6V202.7H651.9ZM723.5 196.4H922.2V202.7H723.5ZM946.1 196.4H1144.8V202.7H946.1ZM651.9 202.4H667.8V208.6H651.9ZM683.7 202.4H922.2V208.6H683.7ZM946.1 202.4H1113V208.6H946.1ZM691.6 208.3H771.1V214.6H691.6ZM787.1 208.3H795V214.6H787.1ZM938.1 208.3H985.8V214.6H938.1ZM1001.7 208.3H1009.6V214.6H1001.7ZM691.6 214.3H739.4V220.5H691.6ZM946.1 214.3H977.9V220.5H946.1ZM691.6 220.2H739.4V226.5H691.6ZM691.6 226.2H739.4V232.4H691.6ZM691.6 232.1H723.5V238.4H691.6ZM667.8 255.9H675.8V262.2H667.8ZM659.9 261.9H683.7V268.1H659.9ZM651.9 267.8H683.7V274.1H651.9ZM651.9 273.8H675.8V280H651.9ZM651.9 279.7H667.8V286H651.9ZM373.7 291.7H389.6V297.9H373.7ZM969.9 351.2H1025.5V357.4H969.9ZM969.9 357.1H1025.5V363.4H969.9ZM977.9 363.1H1025.5V369.3H977.9ZM1001.7 369H1025.5V375.3H1001.7Z"/><path fill="#3540FA" d="M580.4 47.6H596.2V53.9H580.4ZM564.5 53.6H572.4V59.8H564.5ZM604.2 53.6H612.1V59.8H604.2ZM421.4 59.5H477V65.8H421.4ZM548.6 59.5H564.5V65.8H548.6ZM612.1 59.5H628.1V65.8H612.1ZM397.5 65.5H421.4V71.7H397.5ZM477 65.5H492.9V71.7H477ZM540.6 65.5H556.5V71.7H540.6ZM628.1 65.5H651.9V71.7H628.1ZM55.6 71.4H159V77.7H55.6ZM381.6 71.4H405.4V77.7H381.6ZM492.9 71.4H540.6V77.7H492.9ZM644 71.4H723.5V77.7H644ZM755.2 71.4H803V77.7H755.2ZM826.8 71.4H906.3V77.7H826.8ZM922.2 71.4H969.9V77.7H922.2ZM993.8 71.4H1033.5V77.7H993.8ZM47.7 77.4H79.5V83.6H47.7ZM127.2 77.4H230.6V83.6H127.2ZM365.7 77.4H397.5V83.6H365.7ZM508.8 77.4H532.6V83.6H508.8ZM651.9 77.4H842.7V83.6H651.9ZM850.6 77.4H874.5V83.6H850.6ZM882.5 77.4H1089.2V83.6H882.5ZM47.7 83.3H63.6V89.6H47.7ZM159 83.3H174.9V89.6H159ZM206.7 83.3H246.5V89.6H206.7ZM341.9 83.3H389.6V89.6H341.9ZM651.9 83.3H763.2V89.6H651.9ZM795 83.3H834.8V89.6H795ZM898.4 83.3H938.1V89.6H898.4ZM946.1 83.3H1057.4V89.6H946.1ZM1065.3 83.3H1089.2V89.6H1065.3ZM47.7 89.3H63.6V95.5H47.7ZM238.5 89.3H254.4V95.5H238.5ZM333.9 89.3H357.8V95.5H333.9ZM667.8 89.3H755.2V95.5H667.8ZM810.9 89.3H834.8V95.5H810.9ZM930.1 89.3H1041.5V95.5H930.1ZM39.8 95.2H55.6V101.5H39.8ZM246.5 95.2H262.4V101.5H246.5ZM325.9 95.2H357.8V101.5H325.9ZM675.8 95.2H747.3V101.5H675.8ZM818.9 95.2H842.7V101.5H818.9ZM930.1 95.2H993.8V101.5H930.1ZM1009.6 95.2H1033.5V101.5H1009.6ZM0 101.2H8V107.4H0ZM23.9 101.2H47.7V107.4H23.9ZM254.4 101.2H278.2V107.4H254.4ZM318 101.2H357.8V107.4H318ZM691.6 101.2H747.3V107.4H691.6ZM818.9 101.2H842.7V107.4H818.9ZM930.1 101.2H993.8V107.4H930.1ZM1009.6 101.2H1033.5V107.4H1009.6ZM0 107.1H39.8V113.4H0ZM270.3 107.1H357.8V113.4H270.3ZM699.6 107.1H755.2V113.4H699.6ZM787.1 107.1H803V113.4H787.1ZM818.9 107.1H834.8V113.4H818.9ZM930.1 107.1H993.8V113.4H930.1ZM1001.7 107.1H1025.5V113.4H1001.7ZM1097.1 107.1H1113V113.4H1097.1ZM8 113.1H23.9V119.3H8ZM254.4 113.1H262.4V119.3H254.4ZM286.2 113.1H349.8V119.3H286.2ZM707.6 113.1H755.2V119.3H707.6ZM787.1 113.1H834.8V119.3H787.1ZM938.1 113.1H969.9V119.3H938.1ZM977.9 113.1H1025.5V119.3H977.9ZM1097.1 113.1H1144.8V119.3H1097.1ZM254.4 119H262.4V125.3H254.4ZM795 119H834.8V125.3H795ZM946.1 119H962V125.3H946.1ZM985.8 119H1025.5V125.3H985.8ZM1097.1 119H1144.8V125.3H1097.1ZM914.2 125H930.1V131.2H914.2ZM985.8 125H1025.5V131.2H985.8ZM1089.2 125H1113V131.2H1089.2ZM206.7 130.9H214.7V137.2H206.7ZM914.2 130.9H954V137.2H914.2ZM985.8 130.9H1025.5V137.2H985.8ZM1089.2 130.9H1105V137.2H1089.2ZM198.8 136.9H222.6V143.1H198.8ZM254.4 136.9H270.3V143.1H254.4ZM278.2 136.9H302.1V143.1H278.2ZM922.2 136.9H962V143.1H922.2ZM985.8 136.9H1041.5V143.1H985.8ZM1081.2 136.9H1105V143.1H1081.2ZM198.8 142.8H310.1V149.1H198.8ZM834.8 142.8H866.6V149.1H834.8ZM922.2 142.8H962V149.1H922.2ZM1009.6 142.8H1097.1V149.1H1009.6ZM198.8 148.8H246.5V155.1H198.8ZM286.2 148.8H302.1V155.1H286.2ZM834.8 148.8H898.4V155.1H834.8ZM993.8 148.8H1097.1V155.1H993.8ZM111.3 154.8H135.2V161H111.3ZM826.8 154.8H922.2V161H826.8ZM969.9 154.8H1089.2V161H969.9ZM95.4 160.7H143.1V167H95.4ZM818.9 160.7H906.3V167H818.9ZM969.9 160.7H1081.2V167H969.9ZM95.4 166.7H143.1V172.9H95.4ZM818.9 166.7H850.6V172.9H818.9ZM866.6 166.7H906.3V172.9H866.6ZM969.9 166.7H993.8V172.9H969.9ZM1017.6 166.7H1025.5V172.9H1017.6ZM1041.5 166.7H1065.3V172.9H1041.5ZM103.4 172.6H135.2V178.9H103.4ZM818.9 172.6H850.6V178.9H818.9ZM866.6 172.6H906.3V178.9H866.6ZM810.9 178.6H850.6V184.8H810.9ZM866.6 178.6H906.3V184.8H866.6ZM803 184.5H834.8V190.8H803ZM874.5 184.5H898.4V190.8H874.5ZM715.5 190.5H723.5V196.7H715.5ZM810.9 190.5H826.8V196.7H810.9ZM707.6 196.4H723.5V202.7H707.6Z"/><path fill="#2626EC" d="M580.4 41.7H596.2V47.9H580.4ZM564.5 47.6H580.4V53.9H564.5ZM596.2 47.6H612.1V53.9H596.2ZM421.4 53.6H477V59.8H421.4ZM548.6 53.6H564.5V59.8H548.6ZM612.1 53.6H628.1V59.8H612.1ZM397.5 59.5H421.4V65.8H397.5ZM477 59.5H492.9V65.8H477ZM540.6 59.5H548.6V65.8H540.6ZM628.1 59.5H651.9V65.8H628.1ZM47.7 65.5H151.1V71.7H47.7ZM381.6 65.5H397.5V71.7H381.6ZM492.9 65.5H508.8V71.7H492.9ZM524.7 65.5H540.6V71.7H524.7ZM651.9 65.5H866.6V71.7H651.9ZM874.5 65.5H977.9V71.7H874.5ZM993.8 65.5H1097.1V71.7H993.8ZM39.8 71.4H55.6V77.7H39.8ZM159 71.4H238.5V77.7H159ZM357.8 71.4H381.6V77.7H357.8ZM723.5 71.4H755.2V77.7H723.5ZM803 71.4H826.8V77.7H803ZM906.3 71.4H922.2V77.7H906.3ZM969.9 71.4H993.8V77.7H969.9ZM1033.5 71.4H1113V77.7H1033.5ZM39.8 77.4H47.7V83.6H39.8ZM230.6 77.4H254.4V83.6H230.6ZM341.9 77.4H365.7V83.6H341.9ZM1089.2 77.4H1113V83.6H1089.2ZM31.8 83.3H47.7V89.6H31.8ZM246.5 83.3H262.4V89.6H246.5ZM318 83.3H341.9V89.6H318ZM1057.4 83.3H1065.3V89.6H1057.4ZM1089.2 83.3H1113V89.6H1089.2ZM31.8 89.3H47.7V95.5H31.8ZM254.4 89.3H270.3V95.5H254.4ZM310.1 89.3H333.9V95.5H310.1ZM1041.5 89.3H1113V95.5H1041.5ZM0 95.2H39.8V101.5H0ZM262.4 95.2H286.2V101.5H262.4ZM302.1 95.2H325.9V101.5H302.1ZM1033.5 95.2H1113V101.5H1033.5ZM8 101.2H23.9V107.4H8ZM278.2 101.2H318V107.4H278.2ZM1033.5 101.2H1049.4V107.4H1033.5ZM1073.2 101.2H1121V107.4H1073.2ZM1025.5 107.1H1041.5V113.4H1025.5ZM1081.2 107.1H1097.1V113.4H1081.2ZM1113 107.1H1144.8V113.4H1113ZM1025.5 113.1H1033.5V119.3H1025.5ZM1081.2 113.1H1097.1V119.3H1081.2ZM1025.5 119H1033.5V125.3H1025.5ZM1081.2 119H1097.1V125.3H1081.2ZM1025.5 125H1041.5V131.2H1025.5ZM1073.2 125H1089.2V131.2H1073.2ZM1025.5 130.9H1057.4V137.2H1025.5ZM1065.3 130.9H1089.2V137.2H1065.3ZM1041.5 136.9H1081.2V143.1H1041.5Z"/><path fill="#0D0DC8" d="M580.4 35.7H596.2V42H580.4ZM564.5 41.7H580.4V47.9H564.5ZM596.2 41.7H612.1V47.9H596.2ZM421.4 47.6H477V53.9H421.4ZM548.6 47.6H564.5V53.9H548.6ZM612.1 47.6H628.1V53.9H612.1ZM397.5 53.6H421.4V59.8H397.5ZM477 53.6H492.9V59.8H477ZM540.6 53.6H548.6V59.8H540.6ZM628.1 53.6H644V59.8H628.1ZM47.7 59.5H143.1V65.8H47.7ZM381.6 59.5H397.5V65.8H381.6ZM492.9 59.5H508.8V65.8H492.9ZM524.7 59.5H540.6V65.8H524.7ZM651.9 59.5H866.6V65.8H651.9ZM882.5 59.5H1105V65.8H882.5ZM31.8 65.5H47.7V71.7H31.8ZM151.1 65.5H222.6V71.7H151.1ZM357.8 65.5H381.6V71.7H357.8ZM508.8 65.5H524.7V71.7H508.8ZM866.6 65.5H874.5V71.7H866.6ZM977.9 65.5H993.8V71.7H977.9ZM1097.1 65.5H1144.8V71.7H1097.1ZM0 71.4H8V77.7H0ZM23.9 71.4H39.8V77.7H23.9ZM238.5 71.4H262.4V77.7H238.5ZM325.9 71.4H357.8V77.7H325.9ZM1113 71.4H1144.8V77.7H1113ZM0 77.4H8V83.6H0ZM23.9 77.4H39.8V83.6H23.9ZM254.4 77.4H341.9V83.6H254.4ZM1113 77.4H1128.9V83.6H1113ZM0 83.3H31.8V89.6H0ZM262.4 83.3H318V89.6H262.4ZM1113 83.3H1121V89.6H1113ZM0 89.3H31.8V95.5H0ZM270.3 89.3H310.1V95.5H270.3ZM1113 89.3H1121V95.5H1113ZM286.2 95.2H302.1V101.5H286.2ZM1113 95.2H1128.9V101.5H1113ZM1049.4 101.2H1073.2V107.4H1049.4ZM1121 101.2H1144.8V107.4H1121ZM1041.5 107.1H1081.2V113.4H1041.5ZM1033.5 113.1H1081.2V119.3H1033.5ZM1033.5 119H1081.2V125.3H1033.5ZM1041.5 125H1073.2V131.2H1041.5ZM1057.4 130.9H1065.3V137.2H1057.4Z"/><path fill="#0F0A96" d="M572.4 29.8H604.2V36H572.4ZM429.3 35.7H469.1V42H429.3ZM556.5 35.7H580.4V42H556.5ZM596.2 35.7H620.1V42H596.2ZM413.4 41.7H484.9V47.9H413.4ZM548.6 41.7H564.5V47.9H548.6ZM612.1 41.7H628.1V47.9H612.1ZM397.5 47.6H421.4V53.9H397.5ZM477 47.6H492.9V53.9H477ZM540.6 47.6H548.6V53.9H540.6ZM628.1 47.6H644V53.9H628.1ZM31.8 53.6H135.2V59.8H31.8ZM381.6 53.6H397.5V59.8H381.6ZM492.9 53.6H500.9V59.8H492.9ZM532.6 53.6H540.6V59.8H532.6ZM644 53.6H1121V59.8H644ZM0 59.5H47.7V65.8H0ZM143.1 59.5H190.8V65.8H143.1ZM357.8 59.5H381.6V65.8H357.8ZM508.8 59.5H524.7V65.8H508.8ZM866.6 59.5H882.5V65.8H866.6ZM1105 59.5H1144.8V65.8H1105ZM0 65.5H31.8V71.7H0ZM222.6 65.5H262.4V71.7H222.6ZM318 65.5H357.8V71.7H318ZM8 71.4H23.9V77.7H8ZM262.4 71.4H325.9V77.7H262.4ZM8 77.4H23.9V83.6H8ZM1128.9 77.4H1144.8V83.6H1128.9ZM1121 83.3H1144.8V89.6H1121ZM1121 89.3H1144.8V95.5H1121ZM1128.9 95.2H1144.8V101.5H1128.9Z"/><path fill="#0B0768" d="M8 6H55.6V12.2H8ZM0 11.9H71.5V18.2H0ZM0 17.9H63.6V24.1H0ZM15.9 23.8H47.7V30.1H15.9ZM413.4 23.8H477V30.1H413.4ZM556.5 23.8H620.1V30.1H556.5ZM405.4 29.8H484.9V36H405.4ZM548.6 29.8H572.4V36H548.6ZM604.2 29.8H628.1V36H604.2ZM397.5 35.7H429.3V42H397.5ZM469.1 35.7H492.9V42H469.1ZM540.6 35.7H556.5V42H540.6ZM620.1 35.7H644V42H620.1ZM23.9 41.7H79.5V47.9H23.9ZM389.6 41.7H413.4V47.9H389.6ZM484.9 41.7H492.9V47.9H484.9ZM532.6 41.7H548.6V47.9H532.6ZM628.1 41.7H659.9V47.9H628.1ZM0 47.6H151.1V53.9H0ZM373.7 47.6H397.5V53.9H373.7ZM492.9 47.6H500.9V53.9H492.9ZM524.7 47.6H540.6V53.9H524.7ZM644 47.6H1144.8V53.9H644ZM0 53.6H31.8V59.8H0ZM135.2 53.6H190.8V59.8H135.2ZM349.8 53.6H381.6V59.8H349.8ZM500.9 53.6H532.6V59.8H500.9ZM1121 53.6H1144.8V59.8H1121ZM190.8 59.5H262.4V65.8H190.8ZM318 59.5H357.8V65.8H318ZM262.4 65.5H318V71.7H262.4Z"/><path fill="#050346" d="M0 0H1144.8V6.3H0ZM0 6H8V12.2H0ZM55.6 6H1144.8V12.2H55.6ZM71.5 11.9H1144.8V18.2H71.5ZM63.6 17.9H1144.8V24.1H63.6ZM0 23.8H15.9V30.1H0ZM47.7 23.8H413.4V30.1H47.7ZM477 23.8H556.5V30.1H477ZM620.1 23.8H1144.8V30.1H620.1ZM0 29.8H405.4V36H0ZM484.9 29.8H548.6V36H484.9ZM628.1 29.8H1144.8V36H628.1ZM0 35.7H397.5V42H0ZM492.9 35.7H540.6V42H492.9ZM644 35.7H1144.8V42H644ZM0 41.7H23.9V47.9H0ZM79.5 41.7H389.6V47.9H79.5ZM492.9 41.7H532.6V47.9H492.9ZM659.9 41.7H1144.8V47.9H659.9ZM151.1 47.6H373.7V53.9H151.1ZM500.9 47.6H524.7V53.9H500.9ZM190.8 53.6H349.8V59.8H190.8ZM262.4 59.5H318V65.8H262.4Z"/><path d="M8.0 0V571.4M15.9 0V571.4M23.9 0V571.4M31.8 0V571.4M39.8 0V571.4M47.7 0V571.4M55.6 0V571.4M63.6 0V571.4M71.5 0V571.4M79.5 0V571.4M87.5 0V571.4M95.4 0V571.4M103.4 0V571.4M111.3 0V571.4M119.2 0V571.4M127.2 0V571.4M135.2 0V571.4M143.1 0V571.4M151.1 0V571.4M159.0 0V571.4M167.0 0V571.4M174.9 0V571.4M182.8 0V571.4M190.8 0V571.4M198.8 0V571.4M206.7 0V571.4M214.7 0V571.4M222.6 0V571.4M230.6 0V571.4M238.5 0V571.4M246.5 0V571.4M254.4 0V571.4M262.4 0V571.4M270.3 0V571.4M278.2 0V571.4M286.2 0V571.4M294.2 0V571.4M302.1 0V571.4M310.1 0V571.4M318.0 0V571.4M325.9 0V571.4M333.9 0V571.4M341.9 0V571.4M349.8 0V571.4M357.8 0V571.4M365.7 0V571.4M373.7 0V571.4M381.6 0V571.4M389.6 0V571.4M397.5 0V571.4M405.4 0V571.4M413.4 0V571.4M421.4 0V571.4M429.3 0V571.4M437.2 0V571.4M445.2 0V571.4M453.2 0V571.4M461.1 0V571.4M469.1 0V571.4M477.0 0V571.4M484.9 0V571.4M492.9 0V571.4M500.9 0V571.4M508.8 0V571.4M516.8 0V571.4M524.7 0V571.4M532.6 0V571.4M540.6 0V571.4M548.6 0V571.4M556.5 0V571.4M564.5 0V571.4M572.4 0V571.4M580.4 0V571.4M588.3 0V571.4M596.2 0V571.4M604.2 0V571.4M612.1 0V571.4M620.1 0V571.4M628.1 0V571.4M636.0 0V571.4M644.0 0V571.4M651.9 0V571.4M659.9 0V571.4M667.8 0V571.4M675.8 0V571.4M683.7 0V571.4M691.6 0V571.4M699.6 0V571.4M707.6 0V571.4M715.5 0V571.4M723.5 0V571.4M731.4 0V571.4M739.4 0V571.4M747.3 0V571.4M755.2 0V571.4M763.2 0V571.4M771.1 0V571.4M779.1 0V571.4M787.1 0V571.4M795.0 0V571.4M803.0 0V571.4M810.9 0V571.4M818.9 0V571.4M826.8 0V571.4M834.8 0V571.4M842.7 0V571.4M850.6 0V571.4M858.6 0V571.4M866.6 0V571.4M874.5 0V571.4M882.5 0V571.4M890.4 0V571.4M898.4 0V571.4M906.3 0V571.4M914.2 0V571.4M922.2 0V571.4M930.1 0V571.4M938.1 0V571.4M946.1 0V571.4M954.0 0V571.4M962.0 0V571.4M969.9 0V571.4M977.9 0V571.4M985.8 0V571.4M993.8 0V571.4M1001.7 0V571.4M1009.6 0V571.4M1017.6 0V571.4M1025.5 0V571.4M1033.5 0V571.4M1041.5 0V571.4M1049.4 0V571.4M1057.4 0V571.4M1065.3 0V571.4M1073.2 0V571.4M1081.2 0V571.4M1089.2 0V571.4M1097.1 0V571.4M1105.0 0V571.4M1113.0 0V571.4M1121.0 0V571.4M1128.9 0V571.4M1136.9 0V571.4M0 6.0H1136.0M0 11.9H1136.0M0 17.9H1136.0M0 23.8H1136.0M0 29.8H1136.0M0 35.7H1136.0M0 41.7H1136.0M0 47.6H1136.0M0 53.6H1136.0M0 59.5H1136.0M0 65.5H1136.0M0 71.4H1136.0M0 77.4H1136.0M0 83.3H1136.0M0 89.3H1136.0M0 95.2H1136.0M0 101.2H1136.0M0 107.1H1136.0M0 113.1H1136.0M0 119.0H1136.0M0 125.0H1136.0M0 130.9H1136.0M0 136.9H1136.0M0 142.8H1136.0M0 148.8H1136.0M0 154.8H1136.0M0 160.7H1136.0M0 166.7H1136.0M0 172.6H1136.0M0 178.6H1136.0M0 184.5H1136.0M0 190.5H1136.0M0 196.4H1136.0M0 202.4H1136.0M0 208.3H1136.0M0 214.3H1136.0M0 220.2H1136.0M0 226.2H1136.0M0 232.1H1136.0M0 238.1H1136.0M0 244.0H1136.0M0 250.0H1136.0M0 255.9H1136.0M0 261.9H1136.0M0 267.8H1136.0M0 273.8H1136.0M0 279.7H1136.0M0 285.7H1136.0M0 291.7H1136.0M0 297.6H1136.0M0 303.6H1136.0M0 309.5H1136.0M0 315.5H1136.0M0 321.4H1136.0M0 327.4H1136.0M0 333.3H1136.0M0 339.3H1136.0M0 345.2H1136.0M0 351.2H1136.0M0 357.1H1136.0M0 363.1H1136.0M0 369.0H1136.0M0 375.0H1136.0M0 380.9H1136.0M0 386.9H1136.0M0 392.8H1136.0M0 398.8H1136.0M0 404.7H1136.0M0 410.7H1136.0M0 416.6H1136.0M0 422.6H1136.0M0 428.5H1136.0M0 434.5H1136.0M0 440.5H1136.0M0 446.4H1136.0M0 452.4H1136.0M0 458.3H1136.0M0 464.3H1136.0M0 470.2H1136.0M0 476.2H1136.0M0 482.1H1136.0M0 488.1H1136.0M0 494.0H1136.0M0 500.0H1136.0M0 505.9H1136.0M0 511.9H1136.0M0 517.8H1136.0M0 523.8H1136.0M0 529.7H1136.0M0 535.7H1136.0M0 541.6H1136.0M0 547.6H1136.0M0 553.5H1136.0M0 559.5H1136.0M0 565.4H1136.0" stroke="rgba(255,255,255,0.13)" stroke-width="0.5" fill="none"/><path d="M2.1 526.8h3.8M4.0 524.9v3.8M2.1 520.8h3.8M4.0 518.9v3.8M2.1 514.9h3.8M4.0 513.0v3.8M2.1 508.9h3.8M4.0 507.0v3.8M2.1 503.0h3.8M4.0 501.1v3.8M2.1 497.0h3.8M4.0 495.1v3.8M2.1 491.0h3.8M4.0 489.1v3.8M2.1 485.1h3.8M4.0 483.2v3.8M2.1 479.1h3.8M4.0 477.2v3.8M2.1 473.2h3.8M4.0 471.3v3.8M2.1 366.1h3.8M4.0 364.2v3.8M2.1 360.1h3.8M4.0 358.2v3.8M10.0 526.8h3.8M11.9 524.9v3.8M10.0 520.8h3.8M11.9 518.9v3.8M10.0 514.9h3.8M11.9 513.0v3.8M10.0 508.9h3.8M11.9 507.0v3.8M10.0 503.0h3.8M11.9 501.1v3.8M10.0 497.0h3.8M11.9 495.1v3.8M10.0 491.0h3.8M11.9 489.1v3.8M10.0 485.1h3.8M11.9 483.2v3.8M10.0 479.1h3.8M11.9 477.2v3.8M10.0 473.2h3.8M11.9 471.3v3.8M10.0 467.2h3.8M11.9 465.3v3.8M10.0 372.0h3.8M11.9 370.1v3.8M10.0 366.1h3.8M11.9 364.2v3.8M10.0 360.1h3.8M11.9 358.2v3.8M18.0 526.8h3.8M19.9 524.9v3.8M18.0 520.8h3.8M19.9 518.9v3.8M18.0 514.9h3.8M19.9 513.0v3.8M18.0 508.9h3.8M19.9 507.0v3.8M18.0 503.0h3.8M19.9 501.1v3.8M18.0 497.0h3.8M19.9 495.1v3.8M18.0 491.0h3.8M19.9 489.1v3.8M18.0 485.1h3.8M19.9 483.2v3.8M18.0 479.1h3.8M19.9 477.2v3.8M18.0 473.2h3.8M19.9 471.3v3.8M18.0 467.2h3.8M19.9 465.3v3.8M18.0 372.0h3.8M19.9 370.1v3.8M18.0 366.1h3.8M19.9 364.2v3.8M18.0 360.1h3.8M19.9 358.2v3.8M25.9 526.8h3.8M27.8 524.9v3.8M25.9 520.8h3.8M27.8 518.9v3.8M25.9 514.9h3.8M27.8 513.0v3.8M25.9 508.9h3.8M27.8 507.0v3.8M25.9 503.0h3.8M27.8 501.1v3.8M25.9 497.0h3.8M27.8 495.1v3.8M25.9 491.0h3.8M27.8 489.1v3.8M25.9 485.1h3.8M27.8 483.2v3.8M25.9 479.1h3.8M27.8 477.2v3.8M25.9 473.2h3.8M27.8 471.3v3.8M25.9 467.2h3.8M27.8 465.3v3.8M25.9 378.0h3.8M27.8 376.1v3.8M25.9 372.0h3.8M27.8 370.1v3.8M25.9 366.1h3.8M27.8 364.2v3.8M25.9 360.1h3.8M27.8 358.2v3.8M33.9 526.8h3.8M35.8 524.9v3.8M33.9 520.8h3.8M35.8 518.9v3.8M33.9 514.9h3.8M35.8 513.0v3.8M33.9 508.9h3.8M35.8 507.0v3.8M33.9 503.0h3.8M35.8 501.1v3.8M33.9 497.0h3.8M35.8 495.1v3.8M33.9 491.0h3.8M35.8 489.1v3.8M33.9 485.1h3.8M35.8 483.2v3.8M33.9 479.1h3.8M35.8 477.2v3.8M33.9 473.2h3.8M35.8 471.3v3.8M33.9 467.2h3.8M35.8 465.3v3.8M33.9 378.0h3.8M35.8 376.1v3.8M33.9 372.0h3.8M35.8 370.1v3.8M33.9 366.1h3.8M35.8 364.2v3.8M33.9 360.1h3.8M35.8 358.2v3.8M41.8 526.8h3.8M43.7 524.9v3.8M41.8 520.8h3.8M43.7 518.9v3.8M41.8 514.9h3.8M43.7 513.0v3.8M41.8 508.9h3.8M43.7 507.0v3.8M41.8 503.0h3.8M43.7 501.1v3.8M41.8 497.0h3.8M43.7 495.1v3.8M41.8 491.0h3.8M43.7 489.1v3.8M41.8 485.1h3.8M43.7 483.2v3.8M41.8 479.1h3.8M43.7 477.2v3.8M41.8 473.2h3.8M43.7 471.3v3.8M41.8 467.2h3.8M43.7 465.3v3.8M41.8 383.9h3.8M43.7 382.0v3.8M41.8 378.0h3.8M43.7 376.1v3.8M41.8 372.0h3.8M43.7 370.1v3.8M41.8 366.1h3.8M43.7 364.2v3.8M41.8 360.1h3.8M43.7 358.2v3.8M49.8 526.8h3.8M51.7 524.9v3.8M49.8 520.8h3.8M51.7 518.9v3.8M49.8 514.9h3.8M51.7 513.0v3.8M49.8 497.0h3.8M51.7 495.1v3.8M49.8 491.0h3.8M51.7 489.1v3.8M49.8 485.1h3.8M51.7 483.2v3.8M49.8 479.1h3.8M51.7 477.2v3.8M49.8 473.2h3.8M51.7 471.3v3.8M49.8 467.2h3.8M51.7 465.3v3.8M49.8 383.9h3.8M51.7 382.0v3.8M49.8 378.0h3.8M51.7 376.1v3.8M49.8 372.0h3.8M51.7 370.1v3.8M49.8 366.1h3.8M51.7 364.2v3.8M49.8 360.1h3.8M51.7 358.2v3.8M57.7 526.8h3.8M59.6 524.9v3.8M57.7 520.8h3.8M59.6 518.9v3.8M57.7 514.9h3.8M59.6 513.0v3.8M57.7 497.0h3.8M59.6 495.1v3.8M57.7 491.0h3.8M59.6 489.1v3.8M57.7 485.1h3.8M59.6 483.2v3.8M57.7 479.1h3.8M59.6 477.2v3.8M57.7 473.2h3.8M59.6 471.3v3.8M57.7 467.2h3.8M59.6 465.3v3.8M57.7 389.9h3.8M59.6 388.0v3.8M57.7 383.9h3.8M59.6 382.0v3.8M57.7 378.0h3.8M59.6 376.1v3.8M57.7 372.0h3.8M59.6 370.1v3.8M57.7 366.1h3.8M59.6 364.2v3.8M57.7 360.1h3.8M59.6 358.2v3.8M65.7 526.8h3.8M67.6 524.9v3.8M65.7 520.8h3.8M67.6 518.9v3.8M65.7 514.9h3.8M67.6 513.0v3.8M65.7 491.0h3.8M67.6 489.1v3.8M65.7 485.1h3.8M67.6 483.2v3.8M65.7 479.1h3.8M67.6 477.2v3.8M65.7 473.2h3.8M67.6 471.3v3.8M65.7 467.2h3.8M67.6 465.3v3.8M65.7 461.3h3.8M67.6 459.4v3.8M65.7 455.3h3.8M67.6 453.4v3.8M65.7 449.4h3.8M67.6 447.5v3.8M65.7 389.9h3.8M67.6 388.0v3.8M65.7 383.9h3.8M67.6 382.0v3.8M65.7 378.0h3.8M67.6 376.1v3.8M65.7 372.0h3.8M67.6 370.1v3.8M65.7 366.1h3.8M67.6 364.2v3.8M65.7 360.1h3.8M67.6 358.2v3.8M73.6 526.8h3.8M75.5 524.9v3.8M73.6 520.8h3.8M75.5 518.9v3.8M73.6 514.9h3.8M75.5 513.0v3.8M73.6 491.0h3.8M75.5 489.1v3.8M73.6 485.1h3.8M75.5 483.2v3.8M73.6 479.1h3.8M75.5 477.2v3.8M73.6 473.2h3.8M75.5 471.3v3.8M73.6 467.2h3.8M75.5 465.3v3.8M73.6 461.3h3.8M75.5 459.4v3.8M73.6 455.3h3.8M75.5 453.4v3.8M73.6 449.4h3.8M75.5 447.5v3.8M73.6 389.9h3.8M75.5 388.0v3.8M73.6 383.9h3.8M75.5 382.0v3.8M73.6 378.0h3.8M75.5 376.1v3.8M73.6 372.0h3.8M75.5 370.1v3.8M73.6 366.1h3.8M75.5 364.2v3.8M73.6 360.1h3.8M75.5 358.2v3.8M81.6 526.8h3.8M83.5 524.9v3.8M81.6 520.8h3.8M83.5 518.9v3.8M81.6 514.9h3.8M83.5 513.0v3.8M81.6 485.1h3.8M83.5 483.2v3.8M81.6 479.1h3.8M83.5 477.2v3.8M81.6 473.2h3.8M83.5 471.3v3.8M81.6 467.2h3.8M83.5 465.3v3.8M81.6 461.3h3.8M83.5 459.4v3.8M81.6 455.3h3.8M83.5 453.4v3.8M81.6 449.4h3.8M83.5 447.5v3.8M81.6 389.9h3.8M83.5 388.0v3.8M81.6 383.9h3.8M83.5 382.0v3.8M81.6 378.0h3.8M83.5 376.1v3.8M81.6 372.0h3.8M83.5 370.1v3.8M81.6 366.1h3.8M83.5 364.2v3.8M81.6 360.1h3.8M83.5 358.2v3.8M89.5 526.8h3.8M91.4 524.9v3.8M89.5 520.8h3.8M91.4 518.9v3.8M89.5 514.9h3.8M91.4 513.0v3.8M89.5 485.1h3.8M91.4 483.2v3.8M89.5 479.1h3.8M91.4 477.2v3.8M89.5 473.2h3.8M91.4 471.3v3.8M89.5 467.2h3.8M91.4 465.3v3.8M89.5 461.3h3.8M91.4 459.4v3.8M89.5 455.3h3.8M91.4 453.4v3.8M89.5 389.9h3.8M91.4 388.0v3.8M89.5 383.9h3.8M91.4 382.0v3.8M89.5 378.0h3.8M91.4 376.1v3.8M89.5 372.0h3.8M91.4 370.1v3.8M89.5 366.1h3.8M91.4 364.2v3.8M89.5 360.1h3.8M91.4 358.2v3.8M97.5 526.8h3.8M99.4 524.9v3.8M97.5 520.8h3.8M99.4 518.9v3.8M97.5 514.9h3.8M99.4 513.0v3.8M97.5 485.1h3.8M99.4 483.2v3.8M97.5 479.1h3.8M99.4 477.2v3.8M97.5 473.2h3.8M99.4 471.3v3.8M97.5 467.2h3.8M99.4 465.3v3.8M97.5 461.3h3.8M99.4 459.4v3.8M97.5 455.3h3.8M99.4 453.4v3.8M97.5 389.9h3.8M99.4 388.0v3.8M97.5 383.9h3.8M99.4 382.0v3.8M97.5 378.0h3.8M99.4 376.1v3.8M97.5 372.0h3.8M99.4 370.1v3.8M97.5 366.1h3.8M99.4 364.2v3.8M97.5 360.1h3.8M99.4 358.2v3.8M105.4 526.8h3.8M107.3 524.9v3.8M105.4 520.8h3.8M107.3 518.9v3.8M105.4 514.9h3.8M107.3 513.0v3.8M105.4 467.2h3.8M107.3 465.3v3.8M105.4 461.3h3.8M107.3 459.4v3.8M105.4 455.3h3.8M107.3 453.4v3.8M105.4 389.9h3.8M107.3 388.0v3.8M105.4 383.9h3.8M107.3 382.0v3.8M105.4 378.0h3.8M107.3 376.1v3.8M105.4 372.0h3.8M107.3 370.1v3.8M105.4 366.1h3.8M107.3 364.2v3.8M105.4 360.1h3.8M107.3 358.2v3.8M113.4 467.2h3.8M115.3 465.3v3.8M113.4 461.3h3.8M115.3 459.4v3.8M113.4 455.3h3.8M115.3 453.4v3.8M113.4 389.9h3.8M115.3 388.0v3.8M113.4 383.9h3.8M115.3 382.0v3.8M113.4 378.0h3.8M115.3 376.1v3.8M113.4 372.0h3.8M115.3 370.1v3.8M113.4 366.1h3.8M115.3 364.2v3.8M113.4 360.1h3.8M115.3 358.2v3.8M121.3 461.3h3.8M123.2 459.4v3.8M121.3 389.9h3.8M123.2 388.0v3.8M121.3 383.9h3.8M123.2 382.0v3.8M121.3 378.0h3.8M123.2 376.1v3.8M121.3 372.0h3.8M123.2 370.1v3.8M121.3 366.1h3.8M123.2 364.2v3.8M121.3 360.1h3.8M123.2 358.2v3.8M129.3 389.9h3.8M131.2 388.0v3.8M129.3 383.9h3.8M131.2 382.0v3.8M129.3 378.0h3.8M131.2 376.1v3.8M129.3 372.0h3.8M131.2 370.1v3.8M129.3 366.1h3.8M131.2 364.2v3.8M129.3 360.1h3.8M131.2 358.2v3.8M137.2 395.8h3.8M139.1 393.9v3.8M137.2 389.9h3.8M139.1 388.0v3.8M137.2 383.9h3.8M139.1 382.0v3.8M137.2 378.0h3.8M139.1 376.1v3.8M137.2 372.0h3.8M139.1 370.1v3.8M137.2 366.1h3.8M139.1 364.2v3.8M137.2 360.1h3.8M139.1 358.2v3.8M145.2 395.8h3.8M147.1 393.9v3.8M145.2 389.9h3.8M147.1 388.0v3.8M145.2 383.9h3.8M147.1 382.0v3.8M145.2 378.0h3.8M147.1 376.1v3.8M145.2 372.0h3.8M147.1 370.1v3.8M145.2 366.1h3.8M147.1 364.2v3.8M153.1 395.8h3.8M155.0 393.9v3.8M153.1 389.9h3.8M155.0 388.0v3.8M153.1 383.9h3.8M155.0 382.0v3.8M153.1 378.0h3.8M155.0 376.1v3.8M153.1 372.0h3.8M155.0 370.1v3.8M161.1 401.8h3.8M163.0 399.9v3.8M161.1 395.8h3.8M163.0 393.9v3.8M161.1 389.9h3.8M163.0 388.0v3.8M161.1 383.9h3.8M163.0 382.0v3.8M161.1 378.0h3.8M163.0 376.1v3.8M161.1 372.0h3.8M163.0 370.1v3.8M169.0 401.8h3.8M170.9 399.9v3.8M169.0 395.8h3.8M170.9 393.9v3.8M169.0 389.9h3.8M170.9 388.0v3.8M169.0 383.9h3.8M170.9 382.0v3.8M169.0 378.0h3.8M170.9 376.1v3.8M169.0 372.0h3.8M170.9 370.1v3.8M177.0 401.8h3.8M178.9 399.9v3.8M177.0 395.8h3.8M178.9 393.9v3.8M177.0 389.9h3.8M178.9 388.0v3.8M177.0 383.9h3.8M178.9 382.0v3.8M177.0 378.0h3.8M178.9 376.1v3.8M177.0 372.0h3.8M178.9 370.1v3.8M184.9 401.8h3.8M186.8 399.9v3.8M184.9 395.8h3.8M186.8 393.9v3.8M184.9 389.9h3.8M186.8 388.0v3.8M184.9 383.9h3.8M186.8 382.0v3.8M184.9 378.0h3.8M186.8 376.1v3.8M184.9 372.0h3.8M186.8 370.1v3.8M192.9 395.8h3.8M194.8 393.9v3.8M192.9 389.9h3.8M194.8 388.0v3.8M192.9 383.9h3.8M194.8 382.0v3.8M192.9 378.0h3.8M194.8 376.1v3.8M192.9 372.0h3.8M194.8 370.1v3.8M200.8 389.9h3.8M202.7 388.0v3.8M200.8 383.9h3.8M202.7 382.0v3.8M200.8 378.0h3.8M202.7 376.1v3.8M200.8 372.0h3.8M202.7 370.1v3.8M232.6 449.4h3.8M234.5 447.5v3.8M232.6 443.4h3.8M234.5 441.5v3.8M232.6 437.5h3.8M234.5 435.6v3.8M232.6 330.3h3.8M234.5 328.4v3.8M240.6 449.4h3.8M242.5 447.5v3.8M240.6 443.4h3.8M242.5 441.5v3.8M240.6 437.5h3.8M242.5 435.6v3.8M240.6 330.3h3.8M242.5 328.4v3.8M248.5 449.4h3.8M250.4 447.5v3.8M248.5 443.4h3.8M250.4 441.5v3.8M248.5 437.5h3.8M250.4 435.6v3.8M248.5 330.3h3.8M250.4 328.4v3.8M256.5 449.4h3.8M258.4 447.5v3.8M256.5 443.4h3.8M258.4 441.5v3.8M256.5 437.5h3.8M258.4 435.6v3.8M264.4 449.4h3.8M266.3 447.5v3.8M264.4 443.4h3.8M266.3 441.5v3.8M264.4 437.5h3.8M266.3 435.6v3.8M272.4 449.4h3.8M274.3 447.5v3.8M272.4 443.4h3.8M274.3 441.5v3.8M272.4 437.5h3.8M274.3 435.6v3.8M280.3 449.4h3.8M282.2 447.5v3.8M280.3 443.4h3.8M282.2 441.5v3.8M280.3 437.5h3.8M282.2 435.6v3.8M328.0 550.6h3.8M329.9 548.7v3.8M328.0 544.6h3.8M329.9 542.7v3.8M328.0 538.7h3.8M329.9 536.8v3.8M328.0 532.7h3.8M329.9 530.8v3.8M328.0 526.8h3.8M329.9 524.9v3.8M336.0 550.6h3.8M337.9 548.7v3.8M336.0 544.6h3.8M337.9 542.7v3.8M336.0 538.7h3.8M337.9 536.8v3.8M336.0 532.7h3.8M337.9 530.8v3.8M336.0 526.8h3.8M337.9 524.9v3.8M343.9 550.6h3.8M345.8 548.7v3.8M343.9 544.6h3.8M345.8 542.7v3.8M343.9 538.7h3.8M345.8 536.8v3.8M343.9 532.7h3.8M345.8 530.8v3.8M343.9 526.8h3.8M345.8 524.9v3.8M351.9 550.6h3.8M353.8 548.7v3.8M351.9 544.6h3.8M353.8 542.7v3.8M351.9 538.7h3.8M353.8 536.8v3.8M351.9 532.7h3.8M353.8 530.8v3.8M351.9 526.8h3.8M353.8 524.9v3.8M359.8 550.6h3.8M361.7 548.7v3.8M359.8 544.6h3.8M361.7 542.7v3.8M359.8 538.7h3.8M361.7 536.8v3.8M359.8 532.7h3.8M361.7 530.8v3.8M359.8 526.8h3.8M361.7 524.9v3.8M359.8 401.8h3.8M361.7 399.9v3.8M359.8 395.8h3.8M361.7 393.9v3.8M367.8 550.6h3.8M369.7 548.7v3.8M367.8 544.6h3.8M369.7 542.7v3.8M367.8 538.7h3.8M369.7 536.8v3.8M367.8 532.7h3.8M369.7 530.8v3.8M367.8 526.8h3.8M369.7 524.9v3.8M367.8 401.8h3.8M369.7 399.9v3.8M367.8 395.8h3.8M369.7 393.9v3.8M367.8 389.9h3.8M369.7 388.0v3.8M375.7 550.6h3.8M377.6 548.7v3.8M375.7 544.6h3.8M377.6 542.7v3.8M375.7 538.7h3.8M377.6 536.8v3.8M375.7 532.7h3.8M377.6 530.8v3.8M375.7 526.8h3.8M377.6 524.9v3.8M375.7 401.8h3.8M377.6 399.9v3.8M375.7 395.8h3.8M377.6 393.9v3.8M383.7 550.6h3.8M385.6 548.7v3.8M383.7 544.6h3.8M385.6 542.7v3.8M383.7 538.7h3.8M385.6 536.8v3.8M383.7 532.7h3.8M385.6 530.8v3.8M383.7 526.8h3.8M385.6 524.9v3.8M383.7 425.6h3.8M385.6 423.7v3.8M383.7 419.6h3.8M385.6 417.7v3.8M383.7 413.7h3.8M385.6 411.8v3.8M383.7 407.7h3.8M385.6 405.8v3.8M383.7 401.8h3.8M385.6 399.9v3.8M383.7 395.8h3.8M385.6 393.9v3.8M391.6 550.6h3.8M393.5 548.7v3.8M391.6 544.6h3.8M393.5 542.7v3.8M391.6 538.7h3.8M393.5 536.8v3.8M391.6 532.7h3.8M393.5 530.8v3.8M391.6 526.8h3.8M393.5 524.9v3.8M391.6 443.4h3.8M393.5 441.5v3.8M391.6 437.5h3.8M393.5 435.6v3.8M391.6 431.5h3.8M393.5 429.6v3.8M391.6 425.6h3.8M393.5 423.7v3.8M391.6 419.6h3.8M393.5 417.7v3.8M391.6 413.7h3.8M393.5 411.8v3.8M391.6 407.7h3.8M393.5 405.8v3.8M391.6 401.8h3.8M393.5 399.9v3.8M391.6 395.8h3.8M393.5 393.9v3.8M399.6 550.6h3.8M401.5 548.7v3.8M399.6 544.6h3.8M401.5 542.7v3.8M399.6 538.7h3.8M401.5 536.8v3.8M399.6 532.7h3.8M401.5 530.8v3.8M399.6 526.8h3.8M401.5 524.9v3.8M399.6 443.4h3.8M401.5 441.5v3.8M399.6 437.5h3.8M401.5 435.6v3.8M399.6 431.5h3.8M401.5 429.6v3.8M399.6 425.6h3.8M401.5 423.7v3.8M399.6 419.6h3.8M401.5 417.7v3.8M399.6 413.7h3.8M401.5 411.8v3.8M399.6 407.7h3.8M401.5 405.8v3.8M399.6 401.8h3.8M401.5 399.9v3.8M407.5 550.6h3.8M409.4 548.7v3.8M407.5 544.6h3.8M409.4 542.7v3.8M407.5 538.7h3.8M409.4 536.8v3.8M407.5 532.7h3.8M409.4 530.8v3.8M407.5 526.8h3.8M409.4 524.9v3.8M407.5 514.9h3.8M409.4 513.0v3.8M407.5 508.9h3.8M409.4 507.0v3.8M407.5 503.0h3.8M409.4 501.1v3.8M407.5 497.0h3.8M409.4 495.1v3.8M407.5 491.0h3.8M409.4 489.1v3.8M407.5 485.1h3.8M409.4 483.2v3.8M407.5 479.1h3.8M409.4 477.2v3.8M407.5 443.4h3.8M409.4 441.5v3.8M407.5 437.5h3.8M409.4 435.6v3.8M407.5 431.5h3.8M409.4 429.6v3.8M407.5 425.6h3.8M409.4 423.7v3.8M407.5 419.6h3.8M409.4 417.7v3.8M407.5 413.7h3.8M409.4 411.8v3.8M407.5 407.7h3.8M409.4 405.8v3.8M407.5 401.8h3.8M409.4 399.9v3.8M415.5 550.6h3.8M417.4 548.7v3.8M415.5 544.6h3.8M417.4 542.7v3.8M415.5 538.7h3.8M417.4 536.8v3.8M415.5 532.7h3.8M417.4 530.8v3.8M415.5 526.8h3.8M417.4 524.9v3.8M415.5 514.9h3.8M417.4 513.0v3.8M415.5 508.9h3.8M417.4 507.0v3.8M415.5 503.0h3.8M417.4 501.1v3.8M415.5 497.0h3.8M417.4 495.1v3.8M415.5 491.0h3.8M417.4 489.1v3.8M415.5 485.1h3.8M417.4 483.2v3.8M415.5 479.1h3.8M417.4 477.2v3.8M415.5 473.2h3.8M417.4 471.3v3.8M415.5 443.4h3.8M417.4 441.5v3.8M415.5 437.5h3.8M417.4 435.6v3.8M415.5 431.5h3.8M417.4 429.6v3.8M415.5 425.6h3.8M417.4 423.7v3.8M415.5 419.6h3.8M417.4 417.7v3.8M415.5 413.7h3.8M417.4 411.8v3.8M415.5 407.7h3.8M417.4 405.8v3.8M423.4 550.6h3.8M425.3 548.7v3.8M423.4 544.6h3.8M425.3 542.7v3.8M423.4 538.7h3.8M425.3 536.8v3.8M423.4 532.7h3.8M425.3 530.8v3.8M423.4 526.8h3.8M425.3 524.9v3.8M423.4 514.9h3.8M425.3 513.0v3.8M423.4 508.9h3.8M425.3 507.0v3.8M423.4 503.0h3.8M425.3 501.1v3.8M423.4 497.0h3.8M425.3 495.1v3.8M423.4 491.0h3.8M425.3 489.1v3.8M423.4 485.1h3.8M425.3 483.2v3.8M423.4 479.1h3.8M425.3 477.2v3.8M423.4 473.2h3.8M425.3 471.3v3.8M423.4 467.2h3.8M425.3 465.3v3.8M423.4 443.4h3.8M425.3 441.5v3.8M423.4 437.5h3.8M425.3 435.6v3.8M423.4 431.5h3.8M425.3 429.6v3.8M423.4 425.6h3.8M425.3 423.7v3.8M423.4 419.6h3.8M425.3 417.7v3.8M423.4 413.7h3.8M425.3 411.8v3.8M431.4 550.6h3.8M433.3 548.7v3.8M431.4 544.6h3.8M433.3 542.7v3.8M431.4 538.7h3.8M433.3 536.8v3.8M431.4 532.7h3.8M433.3 530.8v3.8M431.4 526.8h3.8M433.3 524.9v3.8M431.4 514.9h3.8M433.3 513.0v3.8M431.4 508.9h3.8M433.3 507.0v3.8M431.4 503.0h3.8M433.3 501.1v3.8M431.4 497.0h3.8M433.3 495.1v3.8M431.4 491.0h3.8M433.3 489.1v3.8M431.4 485.1h3.8M433.3 483.2v3.8M431.4 479.1h3.8M433.3 477.2v3.8M431.4 473.2h3.8M433.3 471.3v3.8M431.4 467.2h3.8M433.3 465.3v3.8M431.4 461.3h3.8M433.3 459.4v3.8M431.4 455.3h3.8M433.3 453.4v3.8M431.4 443.4h3.8M433.3 441.5v3.8M431.4 437.5h3.8M433.3 435.6v3.8M431.4 431.5h3.8M433.3 429.6v3.8M431.4 425.6h3.8M433.3 423.7v3.8M431.4 419.6h3.8M433.3 417.7v3.8M431.4 413.7h3.8M433.3 411.8v3.8M431.4 407.7h3.8M433.3 405.8v3.8M431.4 401.8h3.8M433.3 399.9v3.8M431.4 395.8h3.8M433.3 393.9v3.8M439.3 550.6h3.8M441.2 548.7v3.8M439.3 544.6h3.8M441.2 542.7v3.8M439.3 538.7h3.8M441.2 536.8v3.8M439.3 532.7h3.8M441.2 530.8v3.8M439.3 526.8h3.8M441.2 524.9v3.8M439.3 514.9h3.8M441.2 513.0v3.8M439.3 508.9h3.8M441.2 507.0v3.8M439.3 503.0h3.8M441.2 501.1v3.8M439.3 497.0h3.8M441.2 495.1v3.8M439.3 491.0h3.8M441.2 489.1v3.8M439.3 485.1h3.8M441.2 483.2v3.8M439.3 479.1h3.8M441.2 477.2v3.8M439.3 473.2h3.8M441.2 471.3v3.8M439.3 467.2h3.8M441.2 465.3v3.8M439.3 461.3h3.8M441.2 459.4v3.8M439.3 443.4h3.8M441.2 441.5v3.8M439.3 437.5h3.8M441.2 435.6v3.8M439.3 431.5h3.8M441.2 429.6v3.8M439.3 425.6h3.8M441.2 423.7v3.8M439.3 419.6h3.8M441.2 417.7v3.8M439.3 413.7h3.8M441.2 411.8v3.8M439.3 407.7h3.8M441.2 405.8v3.8M439.3 401.8h3.8M441.2 399.9v3.8M439.3 395.8h3.8M441.2 393.9v3.8M439.3 389.9h3.8M441.2 388.0v3.8M447.3 550.6h3.8M449.2 548.7v3.8M447.3 544.6h3.8M449.2 542.7v3.8M447.3 538.7h3.8M449.2 536.8v3.8M447.3 532.7h3.8M449.2 530.8v3.8M447.3 526.8h3.8M449.2 524.9v3.8M447.3 514.9h3.8M449.2 513.0v3.8M447.3 508.9h3.8M449.2 507.0v3.8M447.3 503.0h3.8M449.2 501.1v3.8M447.3 497.0h3.8M449.2 495.1v3.8M447.3 491.0h3.8M449.2 489.1v3.8M447.3 485.1h3.8M449.2 483.2v3.8M447.3 479.1h3.8M449.2 477.2v3.8M447.3 473.2h3.8M449.2 471.3v3.8M447.3 467.2h3.8M449.2 465.3v3.8M447.3 461.3h3.8M449.2 459.4v3.8M447.3 443.4h3.8M449.2 441.5v3.8M447.3 437.5h3.8M449.2 435.6v3.8M447.3 431.5h3.8M449.2 429.6v3.8M447.3 425.6h3.8M449.2 423.7v3.8M447.3 419.6h3.8M449.2 417.7v3.8M447.3 413.7h3.8M449.2 411.8v3.8M447.3 407.7h3.8M449.2 405.8v3.8M447.3 401.8h3.8M449.2 399.9v3.8M447.3 395.8h3.8M449.2 393.9v3.8M447.3 389.9h3.8M449.2 388.0v3.8M455.2 550.6h3.8M457.1 548.7v3.8M455.2 544.6h3.8M457.1 542.7v3.8M455.2 538.7h3.8M457.1 536.8v3.8M455.2 532.7h3.8M457.1 530.8v3.8M455.2 526.8h3.8M457.1 524.9v3.8M455.2 514.9h3.8M457.1 513.0v3.8M455.2 508.9h3.8M457.1 507.0v3.8M455.2 503.0h3.8M457.1 501.1v3.8M455.2 497.0h3.8M457.1 495.1v3.8M455.2 491.0h3.8M457.1 489.1v3.8M455.2 485.1h3.8M457.1 483.2v3.8M455.2 479.1h3.8M457.1 477.2v3.8M455.2 473.2h3.8M457.1 471.3v3.8M455.2 467.2h3.8M457.1 465.3v3.8M455.2 461.3h3.8M457.1 459.4v3.8M455.2 443.4h3.8M457.1 441.5v3.8M455.2 437.5h3.8M457.1 435.6v3.8M455.2 431.5h3.8M457.1 429.6v3.8M455.2 425.6h3.8M457.1 423.7v3.8M455.2 419.6h3.8M457.1 417.7v3.8M455.2 413.7h3.8M457.1 411.8v3.8M455.2 407.7h3.8M457.1 405.8v3.8M455.2 401.8h3.8M457.1 399.9v3.8M455.2 395.8h3.8M457.1 393.9v3.8M455.2 389.9h3.8M457.1 388.0v3.8M455.2 145.8h3.8M457.1 143.9v3.8M463.2 550.6h3.8M465.1 548.7v3.8M463.2 544.6h3.8M465.1 542.7v3.8M463.2 538.7h3.8M465.1 536.8v3.8M463.2 532.7h3.8M465.1 530.8v3.8M463.2 526.8h3.8M465.1 524.9v3.8M463.2 514.9h3.8M465.1 513.0v3.8M463.2 508.9h3.8M465.1 507.0v3.8M463.2 503.0h3.8M465.1 501.1v3.8M463.2 497.0h3.8M465.1 495.1v3.8M463.2 491.0h3.8M465.1 489.1v3.8M463.2 485.1h3.8M465.1 483.2v3.8M463.2 479.1h3.8M465.1 477.2v3.8M463.2 473.2h3.8M465.1 471.3v3.8M463.2 467.2h3.8M465.1 465.3v3.8M463.2 461.3h3.8M465.1 459.4v3.8M463.2 443.4h3.8M465.1 441.5v3.8M463.2 437.5h3.8M465.1 435.6v3.8M463.2 431.5h3.8M465.1 429.6v3.8M463.2 425.6h3.8M465.1 423.7v3.8M463.2 419.6h3.8M465.1 417.7v3.8M463.2 413.7h3.8M465.1 411.8v3.8M463.2 407.7h3.8M465.1 405.8v3.8M463.2 401.8h3.8M465.1 399.9v3.8M463.2 395.8h3.8M465.1 393.9v3.8M463.2 389.9h3.8M465.1 388.0v3.8M463.2 145.8h3.8M465.1 143.9v3.8M471.1 550.6h3.8M473.0 548.7v3.8M471.1 544.6h3.8M473.0 542.7v3.8M471.1 538.7h3.8M473.0 536.8v3.8M471.1 532.7h3.8M473.0 530.8v3.8M471.1 526.8h3.8M473.0 524.9v3.8M471.1 514.9h3.8M473.0 513.0v3.8M471.1 508.9h3.8M473.0 507.0v3.8M471.1 503.0h3.8M473.0 501.1v3.8M471.1 497.0h3.8M473.0 495.1v3.8M471.1 491.0h3.8M473.0 489.1v3.8M471.1 485.1h3.8M473.0 483.2v3.8M471.1 479.1h3.8M473.0 477.2v3.8M471.1 473.2h3.8M473.0 471.3v3.8M471.1 467.2h3.8M473.0 465.3v3.8M471.1 461.3h3.8M473.0 459.4v3.8M471.1 443.4h3.8M473.0 441.5v3.8M471.1 437.5h3.8M473.0 435.6v3.8M471.1 431.5h3.8M473.0 429.6v3.8M471.1 425.6h3.8M473.0 423.7v3.8M471.1 419.6h3.8M473.0 417.7v3.8M471.1 413.7h3.8M473.0 411.8v3.8M471.1 407.7h3.8M473.0 405.8v3.8M471.1 401.8h3.8M473.0 399.9v3.8M471.1 395.8h3.8M473.0 393.9v3.8M471.1 389.9h3.8M473.0 388.0v3.8M471.1 145.8h3.8M473.0 143.9v3.8M471.1 139.9h3.8M473.0 138.0v3.8M471.1 133.9h3.8M473.0 132.0v3.8M471.1 128.0h3.8M473.0 126.1v3.8M471.1 122.0h3.8M473.0 120.1v3.8M471.1 116.1h3.8M473.0 114.2v3.8M479.1 550.6h3.8M481.0 548.7v3.8M479.1 544.6h3.8M481.0 542.7v3.8M479.1 538.7h3.8M481.0 536.8v3.8M479.1 532.7h3.8M481.0 530.8v3.8M479.1 526.8h3.8M481.0 524.9v3.8M479.1 514.9h3.8M481.0 513.0v3.8M479.1 508.9h3.8M481.0 507.0v3.8M479.1 503.0h3.8M481.0 501.1v3.8M479.1 497.0h3.8M481.0 495.1v3.8M479.1 491.0h3.8M481.0 489.1v3.8M479.1 485.1h3.8M481.0 483.2v3.8M479.1 479.1h3.8M481.0 477.2v3.8M479.1 473.2h3.8M481.0 471.3v3.8M479.1 467.2h3.8M481.0 465.3v3.8M479.1 461.3h3.8M481.0 459.4v3.8M479.1 443.4h3.8M481.0 441.5v3.8M479.1 437.5h3.8M481.0 435.6v3.8M479.1 431.5h3.8M481.0 429.6v3.8M479.1 425.6h3.8M481.0 423.7v3.8M479.1 419.6h3.8M481.0 417.7v3.8M479.1 413.7h3.8M481.0 411.8v3.8M479.1 407.7h3.8M481.0 405.8v3.8M479.1 401.8h3.8M481.0 399.9v3.8M479.1 395.8h3.8M481.0 393.9v3.8M479.1 389.9h3.8M481.0 388.0v3.8M479.1 145.8h3.8M481.0 143.9v3.8M479.1 139.9h3.8M481.0 138.0v3.8M479.1 133.9h3.8M481.0 132.0v3.8M479.1 128.0h3.8M481.0 126.1v3.8M479.1 122.0h3.8M481.0 120.1v3.8M479.1 116.1h3.8M481.0 114.2v3.8M487.0 550.6h3.8M488.9 548.7v3.8M487.0 544.6h3.8M488.9 542.7v3.8M487.0 538.7h3.8M488.9 536.8v3.8M487.0 532.7h3.8M488.9 530.8v3.8M487.0 526.8h3.8M488.9 524.9v3.8M487.0 514.9h3.8M488.9 513.0v3.8M487.0 508.9h3.8M488.9 507.0v3.8M487.0 503.0h3.8M488.9 501.1v3.8M487.0 497.0h3.8M488.9 495.1v3.8M487.0 491.0h3.8M488.9 489.1v3.8M487.0 485.1h3.8M488.9 483.2v3.8M487.0 479.1h3.8M488.9 477.2v3.8M487.0 473.2h3.8M488.9 471.3v3.8M487.0 467.2h3.8M488.9 465.3v3.8M487.0 461.3h3.8M488.9 459.4v3.8M487.0 443.4h3.8M488.9 441.5v3.8M487.0 437.5h3.8M488.9 435.6v3.8M487.0 431.5h3.8M488.9 429.6v3.8M487.0 425.6h3.8M488.9 423.7v3.8M487.0 419.6h3.8M488.9 417.7v3.8M487.0 413.7h3.8M488.9 411.8v3.8M487.0 407.7h3.8M488.9 405.8v3.8M487.0 401.8h3.8M488.9 399.9v3.8M487.0 395.8h3.8M488.9 393.9v3.8M487.0 389.9h3.8M488.9 388.0v3.8M487.0 145.8h3.8M488.9 143.9v3.8M487.0 139.9h3.8M488.9 138.0v3.8M487.0 133.9h3.8M488.9 132.0v3.8M487.0 128.0h3.8M488.9 126.1v3.8M487.0 122.0h3.8M488.9 120.1v3.8M487.0 116.1h3.8M488.9 114.2v3.8M495.0 550.6h3.8M496.9 548.7v3.8M495.0 544.6h3.8M496.9 542.7v3.8M495.0 538.7h3.8M496.9 536.8v3.8M495.0 532.7h3.8M496.9 530.8v3.8M495.0 526.8h3.8M496.9 524.9v3.8M495.0 514.9h3.8M496.9 513.0v3.8M495.0 508.9h3.8M496.9 507.0v3.8M495.0 503.0h3.8M496.9 501.1v3.8M495.0 497.0h3.8M496.9 495.1v3.8M495.0 491.0h3.8M496.9 489.1v3.8M495.0 485.1h3.8M496.9 483.2v3.8M495.0 479.1h3.8M496.9 477.2v3.8M495.0 473.2h3.8M496.9 471.3v3.8M495.0 467.2h3.8M496.9 465.3v3.8M495.0 461.3h3.8M496.9 459.4v3.8M495.0 443.4h3.8M496.9 441.5v3.8M495.0 437.5h3.8M496.9 435.6v3.8M495.0 431.5h3.8M496.9 429.6v3.8M495.0 425.6h3.8M496.9 423.7v3.8M495.0 419.6h3.8M496.9 417.7v3.8M495.0 413.7h3.8M496.9 411.8v3.8M495.0 407.7h3.8M496.9 405.8v3.8M495.0 401.8h3.8M496.9 399.9v3.8M495.0 395.8h3.8M496.9 393.9v3.8M495.0 389.9h3.8M496.9 388.0v3.8M495.0 145.8h3.8M496.9 143.9v3.8M495.0 139.9h3.8M496.9 138.0v3.8M495.0 133.9h3.8M496.9 132.0v3.8M495.0 128.0h3.8M496.9 126.1v3.8M495.0 122.0h3.8M496.9 120.1v3.8M495.0 116.1h3.8M496.9 114.2v3.8M502.9 550.6h3.8M504.8 548.7v3.8M502.9 544.6h3.8M504.8 542.7v3.8M502.9 538.7h3.8M504.8 536.8v3.8M502.9 532.7h3.8M504.8 530.8v3.8M502.9 526.8h3.8M504.8 524.9v3.8M502.9 508.9h3.8M504.8 507.0v3.8M502.9 503.0h3.8M504.8 501.1v3.8M502.9 497.0h3.8M504.8 495.1v3.8M502.9 491.0h3.8M504.8 489.1v3.8M502.9 485.1h3.8M504.8 483.2v3.8M502.9 479.1h3.8M504.8 477.2v3.8M502.9 473.2h3.8M504.8 471.3v3.8M502.9 467.2h3.8M504.8 465.3v3.8M502.9 461.3h3.8M504.8 459.4v3.8M502.9 443.4h3.8M504.8 441.5v3.8M502.9 437.5h3.8M504.8 435.6v3.8M502.9 431.5h3.8M504.8 429.6v3.8M502.9 425.6h3.8M504.8 423.7v3.8M502.9 419.6h3.8M504.8 417.7v3.8M502.9 413.7h3.8M504.8 411.8v3.8M502.9 407.7h3.8M504.8 405.8v3.8M502.9 401.8h3.8M504.8 399.9v3.8M502.9 395.8h3.8M504.8 393.9v3.8M502.9 128.0h3.8M504.8 126.1v3.8M502.9 122.0h3.8M504.8 120.1v3.8M510.9 550.6h3.8M512.8 548.7v3.8M510.9 544.6h3.8M512.8 542.7v3.8M510.9 538.7h3.8M512.8 536.8v3.8M510.9 532.7h3.8M512.8 530.8v3.8M510.9 526.8h3.8M512.8 524.9v3.8M510.9 503.0h3.8M512.8 501.1v3.8M510.9 497.0h3.8M512.8 495.1v3.8M510.9 491.0h3.8M512.8 489.1v3.8M510.9 485.1h3.8M512.8 483.2v3.8M510.9 479.1h3.8M512.8 477.2v3.8M510.9 473.2h3.8M512.8 471.3v3.8M510.9 467.2h3.8M512.8 465.3v3.8M510.9 461.3h3.8M512.8 459.4v3.8M510.9 419.6h3.8M512.8 417.7v3.8M510.9 413.7h3.8M512.8 411.8v3.8M510.9 407.7h3.8M512.8 405.8v3.8M510.9 401.8h3.8M512.8 399.9v3.8M510.9 128.0h3.8M512.8 126.1v3.8M510.9 122.0h3.8M512.8 120.1v3.8M518.8 550.6h3.8M520.7 548.7v3.8M518.8 544.6h3.8M520.7 542.7v3.8M518.8 538.7h3.8M520.7 536.8v3.8M518.8 532.7h3.8M520.7 530.8v3.8M518.8 526.8h3.8M520.7 524.9v3.8M518.8 497.0h3.8M520.7 495.1v3.8M518.8 491.0h3.8M520.7 489.1v3.8M518.8 485.1h3.8M520.7 483.2v3.8M518.8 479.1h3.8M520.7 477.2v3.8M518.8 473.2h3.8M520.7 471.3v3.8M518.8 467.2h3.8M520.7 465.3v3.8M526.8 550.6h3.8M528.7 548.7v3.8M526.8 544.6h3.8M528.7 542.7v3.8M526.8 538.7h3.8M528.7 536.8v3.8M526.8 532.7h3.8M528.7 530.8v3.8M526.8 526.8h3.8M528.7 524.9v3.8M526.8 497.0h3.8M528.7 495.1v3.8M526.8 491.0h3.8M528.7 489.1v3.8M526.8 485.1h3.8M528.7 483.2v3.8M526.8 479.1h3.8M528.7 477.2v3.8M526.8 473.2h3.8M528.7 471.3v3.8M526.8 467.2h3.8M528.7 465.3v3.8M534.7 550.6h3.8M536.6 548.7v3.8M534.7 544.6h3.8M536.6 542.7v3.8M534.7 538.7h3.8M536.6 536.8v3.8M534.7 532.7h3.8M536.6 530.8v3.8M534.7 526.8h3.8M536.6 524.9v3.8M534.7 491.0h3.8M536.6 489.1v3.8M534.7 485.1h3.8M536.6 483.2v3.8M534.7 479.1h3.8M536.6 477.2v3.8M534.7 473.2h3.8M536.6 471.3v3.8M534.7 467.2h3.8M536.6 465.3v3.8M542.7 550.6h3.8M544.6 548.7v3.8M542.7 544.6h3.8M544.6 542.7v3.8M542.7 538.7h3.8M544.6 536.8v3.8M542.7 532.7h3.8M544.6 530.8v3.8M542.7 526.8h3.8M544.6 524.9v3.8M542.7 485.1h3.8M544.6 483.2v3.8M542.7 479.1h3.8M544.6 477.2v3.8M542.7 473.2h3.8M544.6 471.3v3.8M542.7 467.2h3.8M544.6 465.3v3.8M550.6 550.6h3.8M552.5 548.7v3.8M550.6 544.6h3.8M552.5 542.7v3.8M550.6 538.7h3.8M552.5 536.8v3.8M550.6 532.7h3.8M552.5 530.8v3.8M550.6 526.8h3.8M552.5 524.9v3.8M558.6 550.6h3.8M560.5 548.7v3.8M558.6 544.6h3.8M560.5 542.7v3.8M558.6 538.7h3.8M560.5 536.8v3.8M558.6 532.7h3.8M560.5 530.8v3.8M558.6 526.8h3.8M560.5 524.9v3.8M566.5 550.6h3.8M568.4 548.7v3.8M566.5 544.6h3.8M568.4 542.7v3.8M566.5 538.7h3.8M568.4 536.8v3.8M566.5 532.7h3.8M568.4 530.8v3.8M566.5 508.9h3.8M568.4 507.0v3.8M566.5 503.0h3.8M568.4 501.1v3.8M574.5 550.6h3.8M576.4 548.7v3.8M574.5 544.6h3.8M576.4 542.7v3.8M574.5 538.7h3.8M576.4 536.8v3.8M574.5 532.7h3.8M576.4 530.8v3.8M574.5 508.9h3.8M576.4 507.0v3.8M574.5 503.0h3.8M576.4 501.1v3.8M582.4 550.6h3.8M584.3 548.7v3.8M582.4 544.6h3.8M584.3 542.7v3.8M582.4 538.7h3.8M584.3 536.8v3.8M582.4 532.7h3.8M584.3 530.8v3.8M582.4 508.9h3.8M584.3 507.0v3.8M582.4 503.0h3.8M584.3 501.1v3.8M590.4 550.6h3.8M592.3 548.7v3.8M590.4 544.6h3.8M592.3 542.7v3.8M590.4 538.7h3.8M592.3 536.8v3.8M590.4 532.7h3.8M592.3 530.8v3.8M590.4 508.9h3.8M592.3 507.0v3.8M590.4 503.0h3.8M592.3 501.1v3.8M598.3 550.6h3.8M600.2 548.7v3.8M598.3 544.6h3.8M600.2 542.7v3.8M598.3 538.7h3.8M600.2 536.8v3.8M598.3 532.7h3.8M600.2 530.8v3.8M598.3 508.9h3.8M600.2 507.0v3.8M598.3 503.0h3.8M600.2 501.1v3.8M606.3 550.6h3.8M608.2 548.7v3.8M606.3 544.6h3.8M608.2 542.7v3.8M606.3 538.7h3.8M608.2 536.8v3.8M606.3 532.7h3.8M608.2 530.8v3.8M606.3 508.9h3.8M608.2 507.0v3.8M606.3 503.0h3.8M608.2 501.1v3.8M614.2 550.6h3.8M616.1 548.7v3.8M614.2 544.6h3.8M616.1 542.7v3.8M614.2 538.7h3.8M616.1 536.8v3.8M614.2 532.7h3.8M616.1 530.8v3.8M614.2 508.9h3.8M616.1 507.0v3.8M614.2 503.0h3.8M616.1 501.1v3.8M622.2 550.6h3.8M624.1 548.7v3.8M622.2 544.6h3.8M624.1 542.7v3.8M622.2 538.7h3.8M624.1 536.8v3.8M622.2 532.7h3.8M624.1 530.8v3.8M622.2 508.9h3.8M624.1 507.0v3.8M622.2 503.0h3.8M624.1 501.1v3.8M630.1 550.6h3.8M632.0 548.7v3.8M630.1 544.6h3.8M632.0 542.7v3.8M630.1 538.7h3.8M632.0 536.8v3.8M630.1 532.7h3.8M632.0 530.8v3.8M630.1 508.9h3.8M632.0 507.0v3.8M630.1 503.0h3.8M632.0 501.1v3.8M638.1 550.6h3.8M640.0 548.7v3.8M638.1 544.6h3.8M640.0 542.7v3.8M638.1 538.7h3.8M640.0 536.8v3.8M638.1 532.7h3.8M640.0 530.8v3.8M638.1 508.9h3.8M640.0 507.0v3.8M638.1 503.0h3.8M640.0 501.1v3.8M646.0 550.6h3.8M647.9 548.7v3.8M646.0 544.6h3.8M647.9 542.7v3.8M646.0 538.7h3.8M647.9 536.8v3.8M646.0 532.7h3.8M647.9 530.8v3.8M646.0 508.9h3.8M647.9 507.0v3.8M646.0 503.0h3.8M647.9 501.1v3.8M654.0 550.6h3.8M655.9 548.7v3.8M654.0 544.6h3.8M655.9 542.7v3.8M654.0 538.7h3.8M655.9 536.8v3.8M654.0 532.7h3.8M655.9 530.8v3.8M654.0 508.9h3.8M655.9 507.0v3.8M654.0 503.0h3.8M655.9 501.1v3.8M661.9 550.6h3.8M663.8 548.7v3.8M661.9 544.6h3.8M663.8 542.7v3.8M661.9 538.7h3.8M663.8 536.8v3.8M661.9 532.7h3.8M663.8 530.8v3.8M661.9 508.9h3.8M663.8 507.0v3.8M661.9 503.0h3.8M663.8 501.1v3.8M669.9 550.6h3.8M671.8 548.7v3.8M669.9 544.6h3.8M671.8 542.7v3.8M669.9 538.7h3.8M671.8 536.8v3.8M669.9 532.7h3.8M671.8 530.8v3.8M669.9 508.9h3.8M671.8 507.0v3.8M669.9 503.0h3.8M671.8 501.1v3.8M677.8 550.6h3.8M679.7 548.7v3.8M677.8 544.6h3.8M679.7 542.7v3.8M677.8 538.7h3.8M679.7 536.8v3.8M677.8 532.7h3.8M679.7 530.8v3.8M677.8 508.9h3.8M679.7 507.0v3.8M677.8 503.0h3.8M679.7 501.1v3.8M685.8 550.6h3.8M687.7 548.7v3.8M685.8 544.6h3.8M687.7 542.7v3.8M685.8 538.7h3.8M687.7 536.8v3.8M685.8 532.7h3.8M687.7 530.8v3.8M685.8 497.0h3.8M687.7 495.1v3.8M693.7 550.6h3.8M695.6 548.7v3.8M693.7 544.6h3.8M695.6 542.7v3.8M693.7 538.7h3.8M695.6 536.8v3.8M693.7 532.7h3.8M695.6 530.8v3.8M693.7 497.0h3.8M695.6 495.1v3.8M693.7 491.0h3.8M695.6 489.1v3.8M701.7 550.6h3.8M703.6 548.7v3.8M701.7 544.6h3.8M703.6 542.7v3.8M701.7 538.7h3.8M703.6 536.8v3.8M701.7 532.7h3.8M703.6 530.8v3.8M701.7 497.0h3.8M703.6 495.1v3.8M701.7 491.0h3.8M703.6 489.1v3.8M701.7 485.1h3.8M703.6 483.2v3.8M709.6 550.6h3.8M711.5 548.7v3.8M709.6 544.6h3.8M711.5 542.7v3.8M709.6 538.7h3.8M711.5 536.8v3.8M709.6 532.7h3.8M711.5 530.8v3.8M709.6 497.0h3.8M711.5 495.1v3.8M709.6 491.0h3.8M711.5 489.1v3.8M709.6 485.1h3.8M711.5 483.2v3.8M717.6 497.0h3.8M719.5 495.1v3.8M717.6 491.0h3.8M719.5 489.1v3.8M717.6 485.1h3.8M719.5 483.2v3.8M725.5 497.0h3.8M727.4 495.1v3.8M725.5 491.0h3.8M727.4 489.1v3.8M725.5 485.1h3.8M727.4 483.2v3.8M725.5 479.1h3.8M727.4 477.2v3.8M733.5 497.0h3.8M735.4 495.1v3.8M733.5 491.0h3.8M735.4 489.1v3.8M733.5 485.1h3.8M735.4 483.2v3.8M733.5 479.1h3.8M735.4 477.2v3.8M741.4 497.0h3.8M743.3 495.1v3.8M741.4 491.0h3.8M743.3 489.1v3.8M741.4 485.1h3.8M743.3 483.2v3.8M741.4 479.1h3.8M743.3 477.2v3.8M749.4 497.0h3.8M751.3 495.1v3.8M749.4 491.0h3.8M751.3 489.1v3.8M749.4 485.1h3.8M751.3 483.2v3.8M749.4 479.1h3.8M751.3 477.2v3.8M757.3 497.0h3.8M759.2 495.1v3.8M757.3 491.0h3.8M759.2 489.1v3.8M757.3 485.1h3.8M759.2 483.2v3.8M757.3 479.1h3.8M759.2 477.2v3.8M757.3 473.2h3.8M759.2 471.3v3.8M765.3 497.0h3.8M767.2 495.1v3.8M765.3 491.0h3.8M767.2 489.1v3.8M765.3 485.1h3.8M767.2 483.2v3.8M765.3 479.1h3.8M767.2 477.2v3.8M765.3 473.2h3.8M767.2 471.3v3.8M773.2 497.0h3.8M775.1 495.1v3.8M773.2 491.0h3.8M775.1 489.1v3.8M773.2 485.1h3.8M775.1 483.2v3.8M773.2 479.1h3.8M775.1 477.2v3.8M773.2 473.2h3.8M775.1 471.3v3.8M781.2 497.0h3.8M783.1 495.1v3.8M781.2 491.0h3.8M783.1 489.1v3.8M781.2 485.1h3.8M783.1 483.2v3.8M781.2 479.1h3.8M783.1 477.2v3.8M781.2 473.2h3.8M783.1 471.3v3.8M789.1 497.0h3.8M791.0 495.1v3.8M789.1 491.0h3.8M791.0 489.1v3.8M789.1 485.1h3.8M791.0 483.2v3.8M789.1 479.1h3.8M791.0 477.2v3.8M789.1 473.2h3.8M791.0 471.3v3.8M797.1 497.0h3.8M799.0 495.1v3.8M797.1 491.0h3.8M799.0 489.1v3.8M797.1 485.1h3.8M799.0 483.2v3.8M797.1 479.1h3.8M799.0 477.2v3.8M797.1 473.2h3.8M799.0 471.3v3.8M797.1 467.2h3.8M799.0 465.3v3.8M805.0 497.0h3.8M806.9 495.1v3.8M805.0 491.0h3.8M806.9 489.1v3.8M805.0 485.1h3.8M806.9 483.2v3.8M805.0 479.1h3.8M806.9 477.2v3.8M805.0 473.2h3.8M806.9 471.3v3.8M805.0 467.2h3.8M806.9 465.3v3.8M813.0 497.0h3.8M814.9 495.1v3.8M813.0 491.0h3.8M814.9 489.1v3.8M813.0 485.1h3.8M814.9 483.2v3.8M813.0 479.1h3.8M814.9 477.2v3.8M813.0 473.2h3.8M814.9 471.3v3.8M813.0 467.2h3.8M814.9 465.3v3.8M820.9 491.0h3.8M822.8 489.1v3.8M820.9 485.1h3.8M822.8 483.2v3.8M820.9 479.1h3.8M822.8 477.2v3.8M820.9 473.2h3.8M822.8 471.3v3.8M820.9 467.2h3.8M822.8 465.3v3.8M828.9 491.0h3.8M830.8 489.1v3.8M828.9 485.1h3.8M830.8 483.2v3.8M828.9 479.1h3.8M830.8 477.2v3.8M828.9 473.2h3.8M830.8 471.3v3.8M828.9 467.2h3.8M830.8 465.3v3.8M836.8 520.8h3.8M838.7 518.9v3.8M836.8 514.9h3.8M838.7 513.0v3.8M836.8 491.0h3.8M838.7 489.1v3.8M836.8 485.1h3.8M838.7 483.2v3.8M836.8 479.1h3.8M838.7 477.2v3.8M836.8 473.2h3.8M838.7 471.3v3.8M836.8 467.2h3.8M838.7 465.3v3.8M844.8 520.8h3.8M846.7 518.9v3.8M844.8 514.9h3.8M846.7 513.0v3.8M844.8 485.1h3.8M846.7 483.2v3.8M844.8 479.1h3.8M846.7 477.2v3.8M844.8 473.2h3.8M846.7 471.3v3.8M844.8 467.2h3.8M846.7 465.3v3.8M852.7 520.8h3.8M854.6 518.9v3.8M852.7 514.9h3.8M854.6 513.0v3.8M852.7 485.1h3.8M854.6 483.2v3.8M852.7 479.1h3.8M854.6 477.2v3.8M852.7 473.2h3.8M854.6 471.3v3.8M852.7 467.2h3.8M854.6 465.3v3.8M852.7 461.3h3.8M854.6 459.4v3.8M860.7 520.8h3.8M862.6 518.9v3.8M860.7 514.9h3.8M862.6 513.0v3.8M860.7 485.1h3.8M862.6 483.2v3.8M860.7 479.1h3.8M862.6 477.2v3.8M860.7 473.2h3.8M862.6 471.3v3.8M860.7 467.2h3.8M862.6 465.3v3.8M860.7 461.3h3.8M862.6 459.4v3.8M868.6 520.8h3.8M870.5 518.9v3.8M868.6 514.9h3.8M870.5 513.0v3.8M868.6 479.1h3.8M870.5 477.2v3.8M868.6 473.2h3.8M870.5 471.3v3.8M868.6 467.2h3.8M870.5 465.3v3.8M868.6 461.3h3.8M870.5 459.4v3.8M876.6 520.8h3.8M878.5 518.9v3.8M876.6 514.9h3.8M878.5 513.0v3.8M876.6 479.1h3.8M878.5 477.2v3.8M876.6 473.2h3.8M878.5 471.3v3.8M876.6 467.2h3.8M878.5 465.3v3.8M876.6 461.3h3.8M878.5 459.4v3.8M884.5 520.8h3.8M886.4 518.9v3.8M884.5 514.9h3.8M886.4 513.0v3.8M884.5 479.1h3.8M886.4 477.2v3.8M884.5 473.2h3.8M886.4 471.3v3.8M884.5 467.2h3.8M886.4 465.3v3.8M884.5 461.3h3.8M886.4 459.4v3.8M892.5 520.8h3.8M894.4 518.9v3.8M892.5 514.9h3.8M894.4 513.0v3.8M900.4 520.8h3.8M902.3 518.9v3.8M900.4 514.9h3.8M902.3 513.0v3.8M908.4 520.8h3.8M910.3 518.9v3.8M908.4 514.9h3.8M910.3 513.0v3.8M916.3 520.8h3.8M918.2 518.9v3.8M916.3 514.9h3.8M918.2 513.0v3.8M924.3 520.8h3.8M926.2 518.9v3.8M924.3 514.9h3.8M926.2 513.0v3.8M932.2 520.8h3.8M934.1 518.9v3.8M932.2 514.9h3.8M934.1 513.0v3.8M940.2 520.8h3.8M942.1 518.9v3.8M940.2 514.9h3.8M942.1 513.0v3.8M948.1 520.8h3.8M950.0 518.9v3.8M948.1 514.9h3.8M950.0 513.0v3.8M956.1 520.8h3.8M958.0 518.9v3.8M956.1 514.9h3.8M958.0 513.0v3.8M1043.5 336.3h3.8M1045.4 334.4v3.8M1043.5 330.3h3.8M1045.4 328.4v3.8M1043.5 324.4h3.8M1045.4 322.5v3.8M1051.5 497.0h3.8M1053.4 495.1v3.8M1051.5 342.2h3.8M1053.4 340.3v3.8M1051.5 336.3h3.8M1053.4 334.4v3.8M1051.5 330.3h3.8M1053.4 328.4v3.8M1051.5 324.4h3.8M1053.4 322.5v3.8M1059.4 503.0h3.8M1061.3 501.1v3.8M1059.4 497.0h3.8M1061.3 495.1v3.8M1059.4 491.0h3.8M1061.3 489.1v3.8M1059.4 485.1h3.8M1061.3 483.2v3.8M1059.4 348.2h3.8M1061.3 346.3v3.8M1059.4 342.2h3.8M1061.3 340.3v3.8M1059.4 336.3h3.8M1061.3 334.4v3.8M1059.4 330.3h3.8M1061.3 328.4v3.8M1059.4 324.4h3.8M1061.3 322.5v3.8M1067.4 503.0h3.8M1069.3 501.1v3.8M1067.4 497.0h3.8M1069.3 495.1v3.8M1067.4 491.0h3.8M1069.3 489.1v3.8M1067.4 485.1h3.8M1069.3 483.2v3.8M1067.4 479.1h3.8M1069.3 477.2v3.8M1067.4 348.2h3.8M1069.3 346.3v3.8M1067.4 342.2h3.8M1069.3 340.3v3.8M1067.4 336.3h3.8M1069.3 334.4v3.8M1067.4 330.3h3.8M1069.3 328.4v3.8M1067.4 324.4h3.8M1069.3 322.5v3.8M1075.3 503.0h3.8M1077.2 501.1v3.8M1075.3 497.0h3.8M1077.2 495.1v3.8M1075.3 491.0h3.8M1077.2 489.1v3.8M1075.3 485.1h3.8M1077.2 483.2v3.8M1075.3 479.1h3.8M1077.2 477.2v3.8M1075.3 348.2h3.8M1077.2 346.3v3.8M1075.3 342.2h3.8M1077.2 340.3v3.8M1075.3 336.3h3.8M1077.2 334.4v3.8M1075.3 330.3h3.8M1077.2 328.4v3.8M1075.3 324.4h3.8M1077.2 322.5v3.8M1083.3 503.0h3.8M1085.2 501.1v3.8M1083.3 497.0h3.8M1085.2 495.1v3.8M1083.3 491.0h3.8M1085.2 489.1v3.8M1083.3 485.1h3.8M1085.2 483.2v3.8M1083.3 479.1h3.8M1085.2 477.2v3.8M1083.3 473.2h3.8M1085.2 471.3v3.8M1091.2 508.9h3.8M1093.1 507.0v3.8M1091.2 503.0h3.8M1093.1 501.1v3.8M1091.2 497.0h3.8M1093.1 495.1v3.8M1091.2 491.0h3.8M1093.1 489.1v3.8M1091.2 485.1h3.8M1093.1 483.2v3.8M1091.2 479.1h3.8M1093.1 477.2v3.8M1091.2 473.2h3.8M1093.1 471.3v3.8M1091.2 467.2h3.8M1093.1 465.3v3.8M1099.2 508.9h3.8M1101.1 507.0v3.8M1099.2 503.0h3.8M1101.1 501.1v3.8M1099.2 497.0h3.8M1101.1 495.1v3.8M1099.2 491.0h3.8M1101.1 489.1v3.8M1099.2 485.1h3.8M1101.1 483.2v3.8M1099.2 479.1h3.8M1101.1 477.2v3.8M1099.2 473.2h3.8M1101.1 471.3v3.8M1099.2 467.2h3.8M1101.1 465.3v3.8M1107.1 508.9h3.8M1109.0 507.0v3.8M1107.1 503.0h3.8M1109.0 501.1v3.8M1107.1 497.0h3.8M1109.0 495.1v3.8M1107.1 491.0h3.8M1109.0 489.1v3.8M1107.1 485.1h3.8M1109.0 483.2v3.8M1107.1 479.1h3.8M1109.0 477.2v3.8M1107.1 473.2h3.8M1109.0 471.3v3.8M1107.1 467.2h3.8M1109.0 465.3v3.8M1115.1 508.9h3.8M1117.0 507.0v3.8M1115.1 503.0h3.8M1117.0 501.1v3.8M1115.1 497.0h3.8M1117.0 495.1v3.8M1115.1 491.0h3.8M1117.0 489.1v3.8M1115.1 485.1h3.8M1117.0 483.2v3.8M1115.1 479.1h3.8M1117.0 477.2v3.8M1115.1 473.2h3.8M1117.0 471.3v3.8M1115.1 467.2h3.8M1117.0 465.3v3.8M1115.1 360.1h3.8M1117.0 358.2v3.8M1115.1 354.1h3.8M1117.0 352.2v3.8M1115.1 348.2h3.8M1117.0 346.3v3.8M1123.0 514.9h3.8M1124.9 513.0v3.8M1123.0 508.9h3.8M1124.9 507.0v3.8M1123.0 503.0h3.8M1124.9 501.1v3.8M1123.0 497.0h3.8M1124.9 495.1v3.8M1123.0 491.0h3.8M1124.9 489.1v3.8M1123.0 485.1h3.8M1124.9 483.2v3.8M1123.0 479.1h3.8M1124.9 477.2v3.8M1123.0 473.2h3.8M1124.9 471.3v3.8M1123.0 467.2h3.8M1124.9 465.3v3.8M1123.0 360.1h3.8M1124.9 358.2v3.8M1123.0 354.1h3.8M1124.9 352.2v3.8M1123.0 348.2h3.8M1124.9 346.3v3.8M1131.0 514.9h3.8M1132.9 513.0v3.8M1131.0 508.9h3.8M1132.9 507.0v3.8M1131.0 503.0h3.8M1132.9 501.1v3.8M1131.0 497.0h3.8M1132.9 495.1v3.8M1131.0 491.0h3.8M1132.9 489.1v3.8M1131.0 485.1h3.8M1132.9 483.2v3.8M1131.0 479.1h3.8M1132.9 477.2v3.8M1131.0 473.2h3.8M1132.9 471.3v3.8M1131.0 467.2h3.8M1132.9 465.3v3.8M1131.0 360.1h3.8M1132.9 358.2v3.8M1131.0 354.1h3.8M1132.9 352.2v3.8M1131.0 348.2h3.8M1132.9 346.3v3.8" stroke="#111" stroke-width="1.35" fill="none"/>
<use href="#coast"/><use href="#isl"/>
</svg>
<rect x="70.0" y="732.5" width="1136.0" height="571.4" fill="none" stroke="#000" stroke-width="2.3"/>
<path d="M61.0 732.5H70.0M61.0 875.4H70.0M61.0 1018.2H70.0M61.0 1161.0H70.0M61.0 1303.9H70.0M133.6 1303.9v9M260.8 1303.9v9M388.0 1303.9v9M515.2 1303.9v9M642.4 1303.9v9M769.6 1303.9v9M896.8 1303.9v9M1024.0 1303.9v9M1151.2 1303.9v9" stroke="#000" stroke-width="2" fill="none"/>
<text class="k" text-anchor="end" x="54" y="739.0">90°N</text>
<text class="k" text-anchor="end" x="54" y="881.9">45°N</text>
<text class="k" text-anchor="end" x="54" y="1024.7">0°</text>
<text class="k" text-anchor="end" x="54" y="1167.5">45°S</text>
<text class="k" text-anchor="end" x="54" y="1310.4">90°S</text>
<text class="k" text-anchor="middle" x="133.6" y="1337.4">160°W</text>
<text class="k" text-anchor="middle" x="260.8" y="1337.4">120°W</text>
<text class="k" text-anchor="middle" x="388.0" y="1337.4">80°W</text>
<text class="k" text-anchor="middle" x="515.2" y="1337.4">40°W</text>
<text class="k" text-anchor="middle" x="642.4" y="1337.4">0°</text>
<text class="k" text-anchor="middle" x="769.6" y="1337.4">40°E</text>
<text class="k" text-anchor="middle" x="896.8" y="1337.4">80°E</text>
<text class="k" text-anchor="middle" x="1024.0" y="1337.4">120°E</text>
<text class="k" text-anchor="middle" x="1151.2" y="1337.4">160°E</text>
<text class="l" x="91.5" y="783.5" fill="#fff" style="fill:#fff">b</text>
<rect x="1262.5" y="732.50" width="57.5" height="44.45" fill="#FFE313"/>
<rect x="1262.5" y="776.45" width="57.5" height="44.45" fill="#FFFFAA"/>
<rect x="1262.5" y="820.41" width="57.5" height="44.45" fill="#8BF4F7"/>
<rect x="1262.5" y="864.36" width="57.5" height="44.45" fill="#28C8FA"/>
<rect x="1262.5" y="908.32" width="57.5" height="44.45" fill="#3C9BFB"/>
<rect x="1262.5" y="952.27" width="57.5" height="44.45" fill="#317BFB"/>
<rect x="1262.5" y="996.22" width="57.5" height="44.45" fill="#3A5BFA"/>
<rect x="1262.5" y="1040.18" width="57.5" height="44.45" fill="#3540FA"/>
<rect x="1262.5" y="1084.13" width="57.5" height="44.45" fill="#2626EC"/>
<rect x="1262.5" y="1128.08" width="57.5" height="44.45" fill="#0D0DC8"/>
<rect x="1262.5" y="1172.04" width="57.5" height="44.45" fill="#0F0A96"/>
<rect x="1262.5" y="1215.99" width="57.5" height="44.45" fill="#0B0768"/>
<rect x="1262.5" y="1259.95" width="57.5" height="44.45" fill="#050346"/>
<rect x="1262.5" y="732.5" width="57.5" height="571.4" fill="none" stroke="#000" stroke-width="1.4"/>
<text class="c" x="1337" y="746.0">0.4</text>
<text class="c" x="1337" y="833.9">0</text>
<text class="c" x="1337" y="921.8">-0.4</text>
<text class="c" x="1337" y="1009.7">-0.8</text>
<text class="c" x="1337" y="1097.6">-1.2</text>
<text class="c" x="1337" y="1185.5">-1.6</text>
<text class="c" x="1337" y="1273.4">-2.0</text>
<path d="M1320.0 732.5h8.5M1320.0 820.4h8.5M1320.0 908.3h8.5M1320.0 996.2h8.5M1320.0 1084.1h8.5M1320.0 1172.0h8.5M1320.0 1259.9h8.5" stroke="#000" stroke-width="2" fill="none"/>
<text class="c" style="font-size:34.5px" text-anchor="middle" transform="translate(1406.5 1018.2) rotate(90)">°C</text>
</g>
<g id="panel-c">
<text class="t" x="637.2" y="1404.3">Sulfate-induced delay in warming</text>
<svg x="70.0" y="1418.7" width="1136.0" height="571.4" viewBox="0 0 1136.0 571.4" overflow="hidden">
<rect width="1136.0" height="571.4" fill="#EFD0CB"/><path fill="#FEF4F1" d="M469.1 113.1H500.9V119.3H469.1ZM469.1 119H516.8V125.3H469.1ZM461.1 125H516.8V131.2H461.1ZM453.2 130.9H508.8V137.2H453.2ZM453.2 136.9H508.8V143.1H453.2ZM453.2 142.8H500.9V149.1H453.2ZM477 148.8H484.9V155.1H477ZM1113 345.2H1136.9V351.5H1113ZM1113 351.2H1136.9V357.4H1113ZM0 357.1H143.1V363.4H0ZM1113 357.1H1136.9V363.4H1113ZM0 363.1H151.1V369.3H0ZM8 369H206.7V375.3H8ZM23.9 375H206.7V381.2H23.9ZM39.8 380.9H206.7V387.2H39.8ZM55.6 386.9H206.7V393.1H55.6ZM365.7 386.9H373.7V393.1H365.7ZM437.2 386.9H500.9V393.1H437.2ZM135.2 392.8H198.8V399.1H135.2ZM357.8 392.8H397.5V399.1H357.8ZM429.3 392.8H508.8V399.1H429.3ZM159 398.8H190.8V405H159ZM357.8 398.8H413.4V405H357.8ZM429.3 398.8H516.8V405H429.3ZM381.6 404.7H421.4V411H381.6ZM429.3 404.7H516.8V411H429.3ZM381.6 410.7H516.8V416.9H381.6ZM381.6 416.6H516.8V422.9H381.6ZM381.6 422.6H508.8V428.8H381.6ZM389.6 428.5H508.8V434.8H389.6ZM389.6 434.5H508.8V440.8H389.6ZM389.6 440.5H508.8V446.7H389.6ZM63.6 446.4H87.5V452.7H63.6ZM63.6 452.4H119.2V458.6H63.6ZM63.6 458.3H127.2V464.6H63.6ZM850.6 458.3H890.4V464.6H850.6ZM8 464.3H119.2V470.5H8ZM795 464.3H890.4V470.5H795ZM0 470.2H103.4V476.5H0ZM755.2 470.2H890.4V476.5H755.2ZM0 476.2H103.4V482.4H0ZM723.5 476.2H890.4V482.4H723.5ZM0 482.1H103.4V488.4H0ZM699.6 482.1H866.6V488.4H699.6ZM0 488.1H79.5V494.3H0ZM691.6 488.1H842.7V494.3H691.6ZM0 494H63.6V500.3H0ZM683.7 494H818.9V500.3H683.7ZM0 500H47.7V506.2H0ZM0 505.9H47.7V512.2H0ZM0 511.9H111.3V518.1H0ZM0 517.8H111.3V524.1H0ZM0 523.8H111.3V530H0ZM325.9 523.8H413.4V530H325.9ZM325.9 529.7H413.4V536H325.9ZM325.9 535.7H413.4V541.9H325.9ZM325.9 541.6H413.4V547.9H325.9ZM325.9 547.6H413.4V553.8H325.9Z"/><path fill="#D396A5" d="M413.4 101.2H421.4V107.4H413.4ZM389.6 107.1H397.5V113.4H389.6ZM469.1 107.1H492.9V113.4H469.1ZM445.2 113.1H469.1V119.3H445.2ZM500.9 113.1H508.8V119.3H500.9ZM445.2 119H453.2V125.3H445.2ZM437.2 125H453.2V131.2H437.2ZM516.8 125H524.7V131.2H516.8ZM437.2 130.9H453.2V137.2H437.2ZM516.8 130.9H524.7V137.2H516.8ZM445.2 136.9H453.2V143.1H445.2ZM230.6 142.8H238.5V149.1H230.6ZM445.2 142.8H453.2V149.1H445.2ZM508.8 142.8H516.8V149.1H508.8ZM596.2 142.8H612.1V149.1H596.2ZM731.4 142.8H739.4V149.1H731.4ZM771.1 142.8H803V149.1H771.1ZM222.6 148.8H230.6V155.1H222.6ZM238.5 148.8H246.5V155.1H238.5ZM461.1 148.8H469.1V155.1H461.1ZM500.9 148.8H508.8V155.1H500.9ZM588.3 148.8H604.2V155.1H588.3ZM715.5 148.8H723.5V155.1H715.5ZM755.2 148.8H810.9V155.1H755.2ZM230.6 154.8H238.5V161H230.6ZM477 154.8H484.9V161H477ZM588.3 154.8H596.2V161H588.3ZM620.1 154.8H628.1V161H620.1ZM715.5 154.8H826.8V161H715.5ZM588.3 160.7H596.2V167H588.3ZM604.2 160.7H612.1V167H604.2ZM620.1 160.7H628.1V167H620.1ZM723.5 160.7H779.1V167H723.5ZM803 160.7H810.9V167H803ZM834.8 160.7H850.6V167H834.8ZM858.6 160.7H866.6V167H858.6ZM230.6 166.7H238.5V172.9H230.6ZM723.5 166.7H771.1V172.9H723.5ZM779.1 166.7H787.1V172.9H779.1ZM803 166.7H818.9V172.9H803ZM858.6 166.7H882.5V172.9H858.6ZM230.6 172.6H246.5V178.9H230.6ZM723.5 172.6H771.1V178.9H723.5ZM787.1 172.6H818.9V178.9H787.1ZM842.7 172.6H850.6V178.9H842.7ZM858.6 172.6H866.6V178.9H858.6ZM882.5 172.6H890.4V178.9H882.5ZM230.6 178.6H238.5V184.8H230.6ZM739.4 178.6H787.1V184.8H739.4ZM850.6 178.6H858.6V184.8H850.6ZM739.4 184.5H747.3V190.8H739.4ZM763.2 184.5H779.1V190.8H763.2ZM596.2 190.5H604.2V196.7H596.2ZM572.4 196.4H580.4V202.7H572.4ZM588.3 196.4H604.2V202.7H588.3ZM254.4 202.4H262.4V208.6H254.4ZM556.5 202.4H636V208.6H556.5ZM246.5 208.3H262.4V214.6H246.5ZM540.6 208.3H644V214.6H540.6ZM532.6 214.3H556.5V220.5H532.6ZM620.1 214.3H644V220.5H620.1ZM246.5 220.2H262.4V226.5H246.5ZM524.7 220.2H540.6V226.5H524.7ZM628.1 220.2H644V226.5H628.1ZM524.7 226.2H540.6V232.4H524.7ZM628.1 226.2H644V232.4H628.1ZM278.2 232.1H286.2V238.4H278.2ZM524.7 232.1H540.6V238.4H524.7ZM620.1 232.1H644V238.4H620.1ZM278.2 238.1H286.2V244.3H278.2ZM524.7 238.1H556.5V244.3H524.7ZM620.1 238.1H636V244.3H620.1ZM532.6 244H540.6V250.3H532.6ZM556.5 244H572.4V250.3H556.5ZM588.3 244H612.1V250.3H588.3ZM620.1 244H628.1V250.3H620.1ZM532.6 250H548.6V256.2H532.6ZM564.5 250H596.2V256.2H564.5ZM628.1 250H636V256.2H628.1ZM341.9 255.9H397.5V262.2H341.9ZM532.6 255.9H540.6V262.2H532.6ZM548.6 255.9H556.5V262.2H548.6ZM564.5 255.9H572.4V262.2H564.5ZM604.2 255.9H612.1V262.2H604.2ZM636 255.9H644V262.2H636ZM333.9 261.9H349.8V268.1H333.9ZM389.6 261.9H405.4V268.1H389.6ZM532.6 261.9H540.6V268.1H532.6ZM580.4 261.9H588.3V268.1H580.4ZM683.7 261.9H699.6V268.1H683.7ZM325.9 267.8H365.7V274.1H325.9ZM389.6 267.8H405.4V274.1H389.6ZM548.6 267.8H556.5V274.1H548.6ZM588.3 267.8H596.2V274.1H588.3ZM612.1 267.8H620.1V274.1H612.1ZM628.1 267.8H659.9V274.1H628.1ZM683.7 267.8H707.6V274.1H683.7ZM341.9 273.8H349.8V280H341.9ZM373.7 273.8H389.6V280H373.7ZM588.3 273.8H604.2V280H588.3ZM1001.7 273.8H1089.2V280H1001.7ZM325.9 279.7H333.9V286H325.9ZM985.8 279.7H1113V286H985.8ZM357.8 285.7H365.7V292H357.8ZM667.8 285.7H683.7V292H667.8ZM969.9 285.7H1121V292H969.9ZM365.7 291.7H373.7V297.9H365.7ZM421.4 291.7H429.3V297.9H421.4ZM691.6 291.7H699.6V297.9H691.6ZM962 291.7H1121V297.9H962ZM349.8 297.6H357.8V303.9H349.8ZM477 297.6H580.4V303.9H477ZM620.1 297.6H628.1V303.9H620.1ZM659.9 297.6H667.8V303.9H659.9ZM683.7 297.6H691.6V303.9H683.7ZM954 297.6H1136.9V303.9H954ZM453.2 303.6H620.1V309.8H453.2ZM636 303.6H644V309.8H636ZM659.9 303.6H667.8V309.8H659.9ZM930.1 303.6H1144.8V309.8H930.1ZM0 309.5H286.2V315.8H0ZM318 309.5H341.9V315.8H318ZM445.2 309.5H477V315.8H445.2ZM572.4 309.5H628.1V315.8H572.4ZM691.6 309.5H699.6V315.8H691.6ZM914.2 309.5H1144.8V315.8H914.2ZM0 315.5H341.9V321.7H0ZM437.2 315.5H445.2V321.7H437.2ZM596.2 315.5H628.1V321.7H596.2ZM651.9 315.5H659.9V321.7H651.9ZM675.8 315.5H683.7V321.7H675.8ZM691.6 315.5H699.6V321.7H691.6ZM906.3 315.5H962V321.7H906.3ZM1001.7 315.5H1144.8V321.7H1001.7ZM278.2 321.4H333.9V327.7H278.2ZM365.7 321.4H373.7V327.7H365.7ZM405.4 321.4H437.2V327.7H405.4ZM612.1 321.4H628.1V327.7H612.1ZM644 321.4H651.9V327.7H644ZM675.8 321.4H683.7V327.7H675.8ZM691.6 321.4H699.6V327.7H691.6ZM866.6 321.4H946.1V327.7H866.6ZM1025.5 321.4H1041.5V327.7H1025.5ZM1065.3 321.4H1113V327.7H1065.3ZM286.2 327.4H325.9V333.6H286.2ZM341.9 327.4H349.8V333.6H341.9ZM389.6 327.4H405.4V333.6H389.6ZM413.4 327.4H421.4V333.6H413.4ZM437.2 327.4H445.2V333.6H437.2ZM636 327.4H651.9V333.6H636ZM691.6 327.4H699.6V333.6H691.6ZM707.6 327.4H715.5V333.6H707.6ZM739.4 327.4H954V333.6H739.4ZM1017.6 327.4H1033.5V333.6H1017.6ZM286.2 333.3H318V339.6H286.2ZM373.7 333.3H381.6V339.6H373.7ZM437.2 333.3H445.2V339.6H437.2ZM604.2 333.3H620.1V339.6H604.2ZM628.1 333.3H644V339.6H628.1ZM699.6 333.3H1009.6V339.6H699.6ZM286.2 339.3H325.9V345.5H286.2ZM341.9 339.3H357.8V345.5H341.9ZM365.7 339.3H373.7V345.5H365.7ZM381.6 339.3H389.6V345.5H381.6ZM612.1 339.3H620.1V345.5H612.1ZM628.1 339.3H636V345.5H628.1ZM644 339.3H651.9V345.5H644ZM659.9 339.3H667.8V345.5H659.9ZM691.6 339.3H755.2V345.5H691.6ZM826.8 339.3H962V345.5H826.8ZM278.2 345.2H325.9V351.5H278.2ZM341.9 345.2H357.8V351.5H341.9ZM381.6 345.2H397.5V351.5H381.6ZM612.1 345.2H620.1V351.5H612.1ZM628.1 345.2H636V351.5H628.1ZM699.6 345.2H747.3V351.5H699.6ZM858.6 345.2H969.9V351.5H858.6ZM278.2 351.2H325.9V357.4H278.2ZM349.8 351.2H357.8V357.4H349.8ZM389.6 351.2H397.5V357.4H389.6ZM405.4 351.2H413.4V357.4H405.4ZM612.1 351.2H636V357.4H612.1ZM675.8 351.2H715.5V357.4H675.8ZM723.5 351.2H747.3V357.4H723.5ZM858.6 351.2H977.9V357.4H858.6ZM278.2 357.1H325.9V363.4H278.2ZM349.8 357.1H365.7V363.4H349.8ZM381.6 357.1H405.4V363.4H381.6ZM628.1 357.1H644V363.4H628.1ZM651.9 357.1H667.8V363.4H651.9ZM675.8 357.1H707.6V363.4H675.8ZM723.5 357.1H747.3V363.4H723.5ZM850.6 357.1H985.8V363.4H850.6ZM278.2 363.1H325.9V369.3H278.2ZM349.8 363.1H373.7V369.3H349.8ZM381.6 363.1H397.5V369.3H381.6ZM612.1 363.1H644V369.3H612.1ZM659.9 363.1H667.8V369.3H659.9ZM675.8 363.1H707.6V369.3H675.8ZM731.4 363.1H747.3V369.3H731.4ZM850.6 363.1H1001.7V369.3H850.6ZM286.2 369H318V375.3H286.2ZM349.8 369H397.5V375.3H349.8ZM612.1 369H636V375.3H612.1ZM651.9 369H659.9V375.3H651.9ZM675.8 369H707.6V375.3H675.8ZM723.5 369H747.3V375.3H723.5ZM850.6 369H1009.6V375.3H850.6ZM286.2 375H318V381.2H286.2ZM341.9 375H397.5V381.2H341.9ZM620.1 375H747.3V381.2H620.1ZM850.6 375H1025.5V381.2H850.6ZM286.2 380.9H318V387.2H286.2ZM341.9 380.9H397.5V387.2H341.9ZM620.1 380.9H747.3V387.2H620.1ZM858.6 380.9H1033.5V387.2H858.6ZM294.2 386.9H310.1V393.1H294.2ZM341.9 386.9H365.7V393.1H341.9ZM373.7 386.9H389.6V393.1H373.7ZM628.1 386.9H747.3V393.1H628.1ZM858.6 386.9H1017.6V393.1H858.6ZM341.9 392.8H357.8V399.1H341.9ZM636 392.8H739.4V399.1H636ZM866.6 392.8H985.8V399.1H866.6ZM341.9 398.8H357.8V405H341.9ZM890.4 398.8H930.1V405H890.4ZM341.9 404.7H365.7V411H341.9ZM341.9 410.7H365.7V416.9H341.9ZM341.9 416.6H357.8V422.9H341.9ZM659.9 416.6H691.6V422.9H659.9ZM341.9 422.6H357.8V428.8H341.9ZM651.9 422.6H699.6V428.8H651.9ZM659.9 428.5H699.6V434.8H659.9ZM779.1 428.5H818.9V434.8H779.1ZM771.1 434.5H826.8V440.8H771.1ZM763.2 440.5H834.8V446.7H763.2ZM763.2 446.4H826.8V452.7H763.2ZM771.1 452.4H826.8V458.6H771.1Z"/><path fill="#C07D9C" d="M0 0H1144.8V6.3H0ZM0 6H1144.8V12.2H0ZM0 11.9H1144.8V18.2H0ZM0 17.9H1144.8V24.1H0ZM0 23.8H1144.8V30.1H0ZM0 29.8H1144.8V36H0ZM0 35.7H612.1V42H0ZM723.5 35.7H1144.8V42H723.5ZM0 41.7H588.3V47.9H0ZM747.3 41.7H1144.8V47.9H747.3ZM0 47.6H572.4V53.9H0ZM771.1 47.6H1144.8V53.9H771.1ZM0 53.6H556.5V59.8H0ZM787.1 53.6H890.4V59.8H787.1ZM1017.6 53.6H1144.8V59.8H1017.6ZM0 59.5H246.5V65.8H0ZM254.4 59.5H262.4V65.8H254.4ZM278.2 59.5H540.6V65.8H278.2ZM548.6 59.5H556.5V65.8H548.6ZM1073.2 59.5H1144.8V65.8H1073.2ZM0 65.5H159V71.7H0ZM325.9 65.5H341.9V71.7H325.9ZM357.8 65.5H556.5V71.7H357.8ZM572.4 65.5H580.4V71.7H572.4ZM604.2 65.5H612.1V71.7H604.2ZM636 65.5H644V71.7H636ZM739.4 65.5H763.2V71.7H739.4ZM0 71.4H111.3V77.7H0ZM325.9 71.4H333.9V77.7H325.9ZM389.6 71.4H588.3V77.7H389.6ZM628.1 71.4H644V77.7H628.1ZM715.5 71.4H723.5V77.7H715.5ZM739.4 71.4H771.1V77.7H739.4ZM0 77.4H31.8V83.6H0ZM325.9 77.4H333.9V83.6H325.9ZM421.4 77.4H532.6V83.6H421.4ZM556.5 77.4H572.4V83.6H556.5ZM588.3 77.4H596.2V83.6H588.3ZM604.2 77.4H620.1V83.6H604.2ZM636 77.4H644V83.6H636ZM667.8 77.4H691.6V83.6H667.8ZM707.6 77.4H723.5V83.6H707.6ZM747.3 77.4H779.1V83.6H747.3ZM222.6 83.3H230.6V89.6H222.6ZM429.3 83.3H540.6V89.6H429.3ZM564.5 83.3H580.4V89.6H564.5ZM604.2 83.3H620.1V89.6H604.2ZM628.1 83.3H659.9V89.6H628.1ZM675.8 83.3H683.7V89.6H675.8ZM707.6 83.3H715.5V89.6H707.6ZM731.4 83.3H763.2V89.6H731.4ZM429.3 89.3H532.6V95.5H429.3ZM564.5 89.3H596.2V95.5H564.5ZM612.1 89.3H620.1V95.5H612.1ZM628.1 89.3H644V95.5H628.1ZM731.4 89.3H755.2V95.5H731.4ZM397.5 95.2H524.7V101.5H397.5ZM540.6 95.2H556.5V101.5H540.6ZM588.3 95.2H596.2V101.5H588.3ZM612.1 95.2H620.1V101.5H612.1ZM628.1 95.2H659.9V101.5H628.1ZM222.6 101.2H230.6V107.4H222.6ZM389.6 101.2H397.5V107.4H389.6ZM421.4 101.2H548.6V107.4H421.4ZM556.5 101.2H564.5V107.4H556.5ZM604.2 101.2H636V107.4H604.2ZM644 101.2H667.8V107.4H644ZM214.7 107.1H222.6V113.4H214.7ZM278.2 107.1H286.2V113.4H278.2ZM294.2 107.1H302.1V113.4H294.2ZM421.4 107.1H469.1V113.4H421.4ZM492.9 107.1H540.6V113.4H492.9ZM556.5 107.1H572.4V113.4H556.5ZM596.2 107.1H628.1V113.4H596.2ZM644 107.1H667.8V113.4H644ZM747.3 107.1H755.2V113.4H747.3ZM389.6 113.1H445.2V119.3H389.6ZM508.8 113.1H572.4V119.3H508.8ZM580.4 113.1H620.1V119.3H580.4ZM659.9 113.1H667.8V119.3H659.9ZM675.8 113.1H691.6V119.3H675.8ZM707.6 113.1H723.5V119.3H707.6ZM310.1 119H318V125.3H310.1ZM405.4 119H445.2V125.3H405.4ZM516.8 119H532.6V125.3H516.8ZM540.6 119H564.5V125.3H540.6ZM580.4 119H612.1V125.3H580.4ZM620.1 119H636V125.3H620.1ZM659.9 119H667.8V125.3H659.9ZM683.7 119H691.6V125.3H683.7ZM771.1 119H842.7V125.3H771.1ZM262.4 125H278.2V131.2H262.4ZM405.4 125H437.2V131.2H405.4ZM524.7 125H556.5V131.2H524.7ZM564.5 125H596.2V131.2H564.5ZM620.1 125H636V131.2H620.1ZM651.9 125H667.8V131.2H651.9ZM675.8 125H691.6V131.2H675.8ZM707.6 125H715.5V131.2H707.6ZM723.5 125H874.5V131.2H723.5ZM254.4 130.9H270.3V137.2H254.4ZM413.4 130.9H437.2V137.2H413.4ZM524.7 130.9H556.5V137.2H524.7ZM564.5 130.9H588.3V137.2H564.5ZM596.2 130.9H604.2V137.2H596.2ZM628.1 130.9H644V137.2H628.1ZM659.9 130.9H667.8V137.2H659.9ZM675.8 130.9H691.6V137.2H675.8ZM707.6 130.9H874.5V137.2H707.6ZM222.6 136.9H270.3V143.1H222.6ZM421.4 136.9H445.2V143.1H421.4ZM516.8 136.9H556.5V143.1H516.8ZM564.5 136.9H588.3V143.1H564.5ZM596.2 136.9H604.2V143.1H596.2ZM620.1 136.9H628.1V143.1H620.1ZM644 136.9H667.8V143.1H644ZM675.8 136.9H739.4V143.1H675.8ZM747.3 136.9H882.5V143.1H747.3ZM222.6 142.8H230.6V149.1H222.6ZM238.5 142.8H254.4V149.1H238.5ZM262.4 142.8H270.3V149.1H262.4ZM429.3 142.8H445.2V149.1H429.3ZM516.8 142.8H548.6V149.1H516.8ZM564.5 142.8H572.4V149.1H564.5ZM580.4 142.8H596.2V149.1H580.4ZM620.1 142.8H636V149.1H620.1ZM683.7 142.8H731.4V149.1H683.7ZM739.4 142.8H771.1V149.1H739.4ZM803 142.8H874.5V149.1H803ZM214.7 148.8H222.6V155.1H214.7ZM246.5 148.8H254.4V155.1H246.5ZM437.2 148.8H461.1V155.1H437.2ZM508.8 148.8H532.6V155.1H508.8ZM540.6 148.8H548.6V155.1H540.6ZM556.5 148.8H572.4V155.1H556.5ZM580.4 148.8H588.3V155.1H580.4ZM604.2 148.8H659.9V155.1H604.2ZM683.7 148.8H715.5V155.1H683.7ZM723.5 148.8H755.2V155.1H723.5ZM810.9 148.8H874.5V155.1H810.9ZM222.6 154.8H230.6V161H222.6ZM238.5 154.8H246.5V161H238.5ZM453.2 154.8H477V161H453.2ZM484.9 154.8H516.8V161H484.9ZM532.6 154.8H540.6V161H532.6ZM580.4 154.8H588.3V161H580.4ZM596.2 154.8H612.1V161H596.2ZM628.1 154.8H699.6V161H628.1ZM707.6 154.8H715.5V161H707.6ZM826.8 154.8H874.5V161H826.8ZM222.6 160.7H238.5V167H222.6ZM484.9 160.7H492.9V167H484.9ZM540.6 160.7H564.5V167H540.6ZM580.4 160.7H588.3V167H580.4ZM612.1 160.7H620.1V167H612.1ZM628.1 160.7H699.6V167H628.1ZM850.6 160.7H858.6V167H850.6ZM866.6 160.7H890.4V167H866.6ZM222.6 166.7H230.6V172.9H222.6ZM238.5 166.7H246.5V172.9H238.5ZM548.6 166.7H612.1V172.9H548.6ZM620.1 166.7H644V172.9H620.1ZM659.9 166.7H707.6V172.9H659.9ZM715.5 166.7H723.5V172.9H715.5ZM771.1 166.7H779.1V172.9H771.1ZM882.5 166.7H890.4V172.9H882.5ZM222.6 172.6H230.6V178.9H222.6ZM548.6 172.6H596.2V178.9H548.6ZM620.1 172.6H636V178.9H620.1ZM659.9 172.6H683.7V178.9H659.9ZM691.6 172.6H723.5V178.9H691.6ZM771.1 172.6H779.1V178.9H771.1ZM866.6 172.6H882.5V178.9H866.6ZM222.6 178.6H230.6V184.8H222.6ZM238.5 178.6H246.5V184.8H238.5ZM548.6 178.6H564.5V184.8H548.6ZM580.4 178.6H628.1V184.8H580.4ZM636 178.6H675.8V184.8H636ZM691.6 178.6H739.4V184.8H691.6ZM787.1 178.6H803V184.8H787.1ZM818.9 178.6H842.7V184.8H818.9ZM858.6 178.6H866.6V184.8H858.6ZM874.5 178.6H890.4V184.8H874.5ZM230.6 184.5H238.5V190.8H230.6ZM532.6 184.5H675.8V190.8H532.6ZM683.7 184.5H739.4V190.8H683.7ZM747.3 184.5H763.2V190.8H747.3ZM779.1 184.5H787.1V190.8H779.1ZM524.7 190.5H596.2V196.7H524.7ZM604.2 190.5H771.1V196.7H604.2ZM795 190.5H803V196.7H795ZM246.5 196.4H262.4V202.7H246.5ZM516.8 196.4H572.4V202.7H516.8ZM580.4 196.4H588.3V202.7H580.4ZM604.2 196.4H771.1V202.7H604.2ZM779.1 196.4H787.1V202.7H779.1ZM246.5 202.4H254.4V208.6H246.5ZM262.4 202.4H270.3V208.6H262.4ZM516.8 202.4H556.5V208.6H516.8ZM636 202.4H723.5V208.6H636ZM763.2 202.4H771.1V208.6H763.2ZM238.5 208.3H246.5V214.6H238.5ZM262.4 208.3H270.3V214.6H262.4ZM508.8 208.3H540.6V214.6H508.8ZM644 208.3H715.5V214.6H644ZM763.2 208.3H771.1V214.6H763.2ZM238.5 214.3H246.5V220.5H238.5ZM262.4 214.3H270.3V220.5H262.4ZM508.8 214.3H532.6V220.5H508.8ZM644 214.3H699.6V220.5H644ZM238.5 220.2H246.5V226.5H238.5ZM262.4 220.2H270.3V226.5H262.4ZM508.8 220.2H524.7V226.5H508.8ZM644 220.2H691.6V226.5H644ZM246.5 226.2H270.3V232.4H246.5ZM278.2 226.2H310.1V232.4H278.2ZM508.8 226.2H524.7V232.4H508.8ZM644 226.2H675.8V232.4H644ZM246.5 232.1H262.4V238.4H246.5ZM270.3 232.1H278.2V238.4H270.3ZM302.1 232.1H310.1V238.4H302.1ZM500.9 232.1H524.7V238.4H500.9ZM644 232.1H667.8V238.4H644ZM270.3 238.1H278.2V244.3H270.3ZM302.1 238.1H310.1V244.3H302.1ZM500.9 238.1H524.7V244.3H500.9ZM636 238.1H651.9V244.3H636ZM675.8 238.1H683.7V244.3H675.8ZM278.2 244H310.1V250.3H278.2ZM500.9 244H532.6V250.3H500.9ZM540.6 244H548.6V250.3H540.6ZM612.1 244H620.1V250.3H612.1ZM628.1 244H644V250.3H628.1ZM651.9 244H659.9V250.3H651.9ZM675.8 244H683.7V250.3H675.8ZM278.2 250H302.1V256.2H278.2ZM325.9 250H397.5V256.2H325.9ZM500.9 250H532.6V256.2H500.9ZM604.2 250H612.1V256.2H604.2ZM620.1 250H628.1V256.2H620.1ZM636 250H651.9V256.2H636ZM723.5 250H731.4V256.2H723.5ZM962 250H1128.9V256.2H962ZM0 255.9H341.9V262.2H0ZM397.5 255.9H532.6V262.2H397.5ZM540.6 255.9H548.6V262.2H540.6ZM572.4 255.9H596.2V262.2H572.4ZM620.1 255.9H636V262.2H620.1ZM659.9 255.9H667.8V262.2H659.9ZM723.5 255.9H731.4V262.2H723.5ZM739.4 255.9H1144.8V262.2H739.4ZM0 261.9H333.9V268.1H0ZM405.4 261.9H524.7V268.1H405.4ZM540.6 261.9H556.5V268.1H540.6ZM572.4 261.9H580.4V268.1H572.4ZM588.3 261.9H596.2V268.1H588.3ZM612.1 261.9H620.1V268.1H612.1ZM628.1 261.9H636V268.1H628.1ZM667.8 261.9H675.8V268.1H667.8ZM723.5 261.9H1144.8V268.1H723.5ZM0 267.8H79.5V274.1H0ZM270.3 267.8H325.9V274.1H270.3ZM405.4 267.8H532.6V274.1H405.4ZM556.5 267.8H564.5V274.1H556.5ZM572.4 267.8H588.3V274.1H572.4ZM604.2 267.8H612.1V274.1H604.2ZM620.1 267.8H628.1V274.1H620.1ZM659.9 267.8H683.7V274.1H659.9ZM707.6 267.8H715.5V274.1H707.6ZM731.4 267.8H1144.8V274.1H731.4ZM0 273.8H23.9V280H0ZM325.9 273.8H341.9V280H325.9ZM349.8 273.8H373.7V280H349.8ZM389.6 273.8H556.5V280H389.6ZM580.4 273.8H588.3V280H580.4ZM675.8 273.8H715.5V280H675.8ZM731.4 273.8H1001.7V280H731.4ZM1089.2 273.8H1144.8V280H1089.2ZM0 279.7H8V286H0ZM341.9 279.7H365.7V286H341.9ZM381.6 279.7H389.6V286H381.6ZM405.4 279.7H413.4V286H405.4ZM437.2 279.7H556.5V286H437.2ZM564.5 279.7H596.2V286H564.5ZM651.9 279.7H659.9V286H651.9ZM675.8 279.7H683.7V286H675.8ZM699.6 279.7H985.8V286H699.6ZM1113 279.7H1144.8V286H1113ZM0 285.7H31.8V292H0ZM318 285.7H333.9V292H318ZM421.4 285.7H596.2V292H421.4ZM604.2 285.7H612.1V292H604.2ZM651.9 285.7H667.8V292H651.9ZM683.7 285.7H691.6V292H683.7ZM715.5 285.7H969.9V292H715.5ZM1121 285.7H1144.8V292H1121ZM0 291.7H87.5V297.9H0ZM270.3 291.7H286.2V297.9H270.3ZM302.1 291.7H325.9V297.9H302.1ZM429.3 291.7H612.1V297.9H429.3ZM620.1 291.7H628.1V297.9H620.1ZM636 291.7H644V297.9H636ZM675.8 291.7H683.7V297.9H675.8ZM699.6 291.7H715.5V297.9H699.6ZM723.5 291.7H962V297.9H723.5ZM1121 291.7H1144.8V297.9H1121ZM0 297.6H349.8V303.9H0ZM357.8 297.6H373.7V303.9H357.8ZM421.4 297.6H477V303.9H421.4ZM580.4 297.6H620.1V303.9H580.4ZM675.8 297.6H683.7V303.9H675.8ZM755.2 297.6H954V303.9H755.2ZM1136.9 297.6H1144.8V303.9H1136.9ZM0 303.6H333.9V309.8H0ZM349.8 303.6H357.8V309.8H349.8ZM365.7 303.6H373.7V309.8H365.7ZM405.4 303.6H413.4V309.8H405.4ZM445.2 303.6H453.2V309.8H445.2ZM628.1 303.6H636V309.8H628.1ZM644 303.6H659.9V309.8H644ZM683.7 303.6H699.6V309.8H683.7ZM787.1 303.6H930.1V309.8H787.1ZM286.2 309.5H318V315.8H286.2ZM349.8 309.5H357.8V315.8H349.8ZM365.7 309.5H373.7V315.8H365.7ZM437.2 309.5H445.2V315.8H437.2ZM628.1 309.5H636V315.8H628.1ZM644 309.5H659.9V315.8H644ZM699.6 309.5H715.5V315.8H699.6ZM810.9 309.5H914.2V315.8H810.9ZM397.5 315.5H429.3V321.7H397.5ZM644 315.5H651.9V321.7H644ZM659.9 315.5H667.8V321.7H659.9ZM707.6 315.5H906.3V321.7H707.6ZM962 315.5H1001.7V321.7H962ZM349.8 321.4H365.7V327.7H349.8ZM373.7 321.4H381.6V327.7H373.7ZM389.6 321.4H397.5V327.7H389.6ZM628.1 321.4H636V327.7H628.1ZM699.6 321.4H866.6V327.7H699.6ZM946.1 321.4H962V327.7H946.1ZM1009.6 321.4H1025.5V327.7H1009.6ZM381.6 327.4H389.6V333.6H381.6ZM405.4 327.4H413.4V333.6H405.4ZM659.9 327.4H675.8V333.6H659.9ZM699.6 327.4H707.6V333.6H699.6ZM715.5 327.4H739.4V333.6H715.5ZM954 327.4H969.9V333.6H954ZM1001.7 327.4H1017.6V333.6H1001.7ZM389.6 333.3H397.5V339.6H389.6ZM667.8 333.3H675.8V339.6H667.8ZM683.7 333.3H699.6V339.6H683.7ZM373.7 339.3H381.6V345.5H373.7ZM389.6 339.3H397.5V345.5H389.6ZM636 339.3H644V345.5H636ZM675.8 339.3H691.6V345.5H675.8ZM357.8 345.2H381.6V351.5H357.8ZM636 345.2H699.6V351.5H636ZM357.8 351.2H389.6V357.4H357.8ZM644 351.2H667.8V357.4H644ZM715.5 351.2H723.5V357.4H715.5ZM365.7 357.1H381.6V363.4H365.7ZM667.8 357.1H675.8V363.4H667.8ZM707.6 357.1H723.5V363.4H707.6ZM373.7 363.1H381.6V369.3H373.7ZM707.6 363.1H731.4V369.3H707.6ZM636 369H651.9V375.3H636ZM707.6 369H723.5V375.3H707.6Z"/><path fill="#A56592" d="M612.1 35.7H723.5V42H612.1ZM588.3 41.7H747.3V47.9H588.3ZM572.4 47.6H771.1V53.9H572.4ZM556.5 53.6H787.1V59.8H556.5ZM890.4 53.6H1017.6V59.8H890.4ZM246.5 59.5H254.4V65.8H246.5ZM262.4 59.5H278.2V65.8H262.4ZM540.6 59.5H548.6V65.8H540.6ZM556.5 59.5H1073.2V65.8H556.5ZM159 65.5H325.9V71.7H159ZM341.9 65.5H357.8V71.7H341.9ZM556.5 65.5H572.4V71.7H556.5ZM580.4 65.5H604.2V71.7H580.4ZM612.1 65.5H620.1V71.7H612.1ZM628.1 65.5H636V71.7H628.1ZM644 65.5H739.4V71.7H644ZM763.2 65.5H1144.8V71.7H763.2ZM111.3 71.4H325.9V77.7H111.3ZM333.9 71.4H389.6V77.7H333.9ZM588.3 71.4H628.1V77.7H588.3ZM644 71.4H715.5V77.7H644ZM723.5 71.4H739.4V77.7H723.5ZM771.1 71.4H1144.8V77.7H771.1ZM31.8 77.4H325.9V83.6H31.8ZM333.9 77.4H421.4V83.6H333.9ZM532.6 77.4H556.5V83.6H532.6ZM572.4 77.4H588.3V83.6H572.4ZM596.2 77.4H604.2V83.6H596.2ZM620.1 77.4H636V83.6H620.1ZM644 77.4H667.8V83.6H644ZM691.6 77.4H707.6V83.6H691.6ZM723.5 77.4H747.3V83.6H723.5ZM779.1 77.4H1017.6V83.6H779.1ZM0 83.3H222.6V89.6H0ZM230.6 83.3H286.2V89.6H230.6ZM302.1 83.3H429.3V89.6H302.1ZM540.6 83.3H564.5V89.6H540.6ZM580.4 83.3H604.2V89.6H580.4ZM620.1 83.3H628.1V89.6H620.1ZM659.9 83.3H675.8V89.6H659.9ZM683.7 83.3H691.6V89.6H683.7ZM699.6 83.3H707.6V89.6H699.6ZM715.5 83.3H731.4V89.6H715.5ZM763.2 83.3H1009.6V89.6H763.2ZM0 89.3H182.8V95.5H0ZM190.8 89.3H206.7V95.5H190.8ZM222.6 89.3H246.5V95.5H222.6ZM254.4 89.3H286.2V95.5H254.4ZM318 89.3H333.9V95.5H318ZM349.8 89.3H429.3V95.5H349.8ZM532.6 89.3H564.5V95.5H532.6ZM596.2 89.3H612.1V95.5H596.2ZM620.1 89.3H628.1V95.5H620.1ZM644 89.3H731.4V95.5H644ZM755.2 89.3H1009.6V95.5H755.2ZM159 95.2H174.9V101.5H159ZM190.8 95.2H206.7V101.5H190.8ZM222.6 95.2H278.2V101.5H222.6ZM286.2 95.2H302.1V101.5H286.2ZM318 95.2H333.9V101.5H318ZM341.9 95.2H397.5V101.5H341.9ZM524.7 95.2H540.6V101.5H524.7ZM556.5 95.2H588.3V101.5H556.5ZM596.2 95.2H612.1V101.5H596.2ZM620.1 95.2H628.1V101.5H620.1ZM659.9 95.2H707.6V101.5H659.9ZM723.5 95.2H1001.7V101.5H723.5ZM167 101.2H174.9V107.4H167ZM190.8 101.2H198.8V107.4H190.8ZM206.7 101.2H222.6V107.4H206.7ZM230.6 101.2H294.2V107.4H230.6ZM318 101.2H333.9V107.4H318ZM341.9 101.2H389.6V107.4H341.9ZM548.6 101.2H556.5V107.4H548.6ZM564.5 101.2H604.2V107.4H564.5ZM636 101.2H644V107.4H636ZM667.8 101.2H683.7V107.4H667.8ZM691.6 101.2H707.6V107.4H691.6ZM723.5 101.2H834.8V107.4H723.5ZM898.4 101.2H1001.7V107.4H898.4ZM182.8 107.1H214.7V113.4H182.8ZM222.6 107.1H238.5V113.4H222.6ZM254.4 107.1H278.2V113.4H254.4ZM286.2 107.1H294.2V113.4H286.2ZM302.1 107.1H310.1V113.4H302.1ZM318 107.1H389.6V113.4H318ZM540.6 107.1H556.5V113.4H540.6ZM572.4 107.1H596.2V113.4H572.4ZM628.1 107.1H644V113.4H628.1ZM667.8 107.1H723.5V113.4H667.8ZM739.4 107.1H747.3V113.4H739.4ZM755.2 107.1H1001.7V113.4H755.2ZM182.8 113.1H389.6V119.3H182.8ZM572.4 113.1H580.4V119.3H572.4ZM620.1 113.1H659.9V119.3H620.1ZM667.8 113.1H675.8V119.3H667.8ZM691.6 113.1H707.6V119.3H691.6ZM723.5 113.1H731.4V119.3H723.5ZM739.4 113.1H1001.7V119.3H739.4ZM182.8 119H190.8V125.3H182.8ZM198.8 119H310.1V125.3H198.8ZM318 119H405.4V125.3H318ZM532.6 119H540.6V125.3H532.6ZM564.5 119H580.4V125.3H564.5ZM612.1 119H620.1V125.3H612.1ZM636 119H659.9V125.3H636ZM667.8 119H683.7V125.3H667.8ZM691.6 119H771.1V125.3H691.6ZM842.7 119H1001.7V125.3H842.7ZM190.8 125H198.8V131.2H190.8ZM206.7 125H238.5V131.2H206.7ZM246.5 125H262.4V131.2H246.5ZM278.2 125H405.4V131.2H278.2ZM556.5 125H564.5V131.2H556.5ZM596.2 125H620.1V131.2H596.2ZM636 125H651.9V131.2H636ZM667.8 125H675.8V131.2H667.8ZM691.6 125H707.6V131.2H691.6ZM715.5 125H723.5V131.2H715.5ZM874.5 125H1001.7V131.2H874.5ZM198.8 130.9H254.4V137.2H198.8ZM270.3 130.9H286.2V137.2H270.3ZM294.2 130.9H413.4V137.2H294.2ZM556.5 130.9H564.5V137.2H556.5ZM588.3 130.9H596.2V137.2H588.3ZM604.2 130.9H628.1V137.2H604.2ZM644 130.9H659.9V137.2H644ZM667.8 130.9H675.8V137.2H667.8ZM691.6 130.9H707.6V137.2H691.6ZM874.5 130.9H1001.7V137.2H874.5ZM198.8 136.9H222.6V143.1H198.8ZM270.3 136.9H278.2V143.1H270.3ZM294.2 136.9H310.1V143.1H294.2ZM325.9 136.9H421.4V143.1H325.9ZM556.5 136.9H564.5V143.1H556.5ZM588.3 136.9H596.2V143.1H588.3ZM604.2 136.9H620.1V143.1H604.2ZM628.1 136.9H644V143.1H628.1ZM667.8 136.9H675.8V143.1H667.8ZM739.4 136.9H747.3V143.1H739.4ZM882.5 136.9H1001.7V143.1H882.5ZM198.8 142.8H222.6V149.1H198.8ZM254.4 142.8H262.4V149.1H254.4ZM270.3 142.8H286.2V149.1H270.3ZM294.2 142.8H310.1V149.1H294.2ZM341.9 142.8H429.3V149.1H341.9ZM548.6 142.8H564.5V149.1H548.6ZM572.4 142.8H580.4V149.1H572.4ZM612.1 142.8H620.1V149.1H612.1ZM636 142.8H667.8V149.1H636ZM874.5 142.8H1001.7V149.1H874.5ZM206.7 148.8H214.7V155.1H206.7ZM254.4 148.8H318V155.1H254.4ZM341.9 148.8H437.2V155.1H341.9ZM532.6 148.8H540.6V155.1H532.6ZM548.6 148.8H556.5V155.1H548.6ZM572.4 148.8H580.4V155.1H572.4ZM659.9 148.8H683.7V155.1H659.9ZM874.5 148.8H1001.7V155.1H874.5ZM206.7 154.8H222.6V161H206.7ZM246.5 154.8H270.3V161H246.5ZM278.2 154.8H286.2V161H278.2ZM294.2 154.8H333.9V161H294.2ZM357.8 154.8H453.2V161H357.8ZM516.8 154.8H532.6V161H516.8ZM540.6 154.8H580.4V161H540.6ZM612.1 154.8H620.1V161H612.1ZM699.6 154.8H707.6V161H699.6ZM874.5 154.8H1001.7V161H874.5ZM206.7 160.7H222.6V167H206.7ZM238.5 160.7H262.4V167H238.5ZM286.2 160.7H302.1V167H286.2ZM310.1 160.7H333.9V167H310.1ZM397.5 160.7H484.9V167H397.5ZM492.9 160.7H540.6V167H492.9ZM564.5 160.7H580.4V167H564.5ZM596.2 160.7H604.2V167H596.2ZM699.6 160.7H723.5V167H699.6ZM890.4 160.7H1009.6V167H890.4ZM206.7 166.7H222.6V172.9H206.7ZM246.5 166.7H310.1V172.9H246.5ZM318 166.7H349.8V172.9H318ZM421.4 166.7H548.6V172.9H421.4ZM612.1 166.7H620.1V172.9H612.1ZM644 166.7H659.9V172.9H644ZM707.6 166.7H715.5V172.9H707.6ZM890.4 166.7H914.2V172.9H890.4ZM954 166.7H1009.6V172.9H954ZM214.7 172.6H222.6V178.9H214.7ZM246.5 172.6H254.4V178.9H246.5ZM262.4 172.6H270.3V178.9H262.4ZM278.2 172.6H341.9V178.9H278.2ZM445.2 172.6H548.6V178.9H445.2ZM596.2 172.6H620.1V178.9H596.2ZM636 172.6H659.9V178.9H636ZM683.7 172.6H691.6V178.9H683.7ZM890.4 172.6H898.4V178.9H890.4ZM954 172.6H1017.6V178.9H954ZM214.7 178.6H222.6V184.8H214.7ZM246.5 178.6H318V184.8H246.5ZM325.9 178.6H341.9V184.8H325.9ZM453.2 178.6H548.6V184.8H453.2ZM564.5 178.6H580.4V184.8H564.5ZM628.1 178.6H636V184.8H628.1ZM675.8 178.6H691.6V184.8H675.8ZM803 178.6H818.9V184.8H803ZM842.7 178.6H850.6V184.8H842.7ZM866.6 178.6H874.5V184.8H866.6ZM890.4 178.6H898.4V184.8H890.4ZM962 178.6H1025.5V184.8H962ZM222.6 184.5H230.6V190.8H222.6ZM238.5 184.5H341.9V190.8H238.5ZM461.1 184.5H532.6V190.8H461.1ZM675.8 184.5H683.7V190.8H675.8ZM787.1 184.5H803V190.8H787.1ZM826.8 184.5H842.7V190.8H826.8ZM850.6 184.5H890.4V190.8H850.6ZM962 184.5H1025.5V190.8H962ZM222.6 190.5H270.3V196.7H222.6ZM278.2 190.5H333.9V196.7H278.2ZM461.1 190.5H524.7V196.7H461.1ZM771.1 190.5H795V196.7H771.1ZM858.6 190.5H874.5V196.7H858.6ZM890.4 190.5H898.4V196.7H890.4ZM962 190.5H1033.5V196.7H962ZM222.6 196.4H246.5V202.7H222.6ZM262.4 196.4H341.9V202.7H262.4ZM461.1 196.4H516.8V202.7H461.1ZM771.1 196.4H779.1V202.7H771.1ZM787.1 196.4H803V202.7H787.1ZM962 196.4H1041.5V202.7H962ZM222.6 202.4H246.5V208.6H222.6ZM270.3 202.4H341.9V208.6H270.3ZM461.1 202.4H516.8V208.6H461.1ZM723.5 202.4H763.2V208.6H723.5ZM771.1 202.4H795V208.6H771.1ZM890.4 202.4H898.4V208.6H890.4ZM962 202.4H1049.4V208.6H962ZM230.6 208.3H238.5V214.6H230.6ZM270.3 208.3H341.9V214.6H270.3ZM453.2 208.3H508.8V214.6H453.2ZM715.5 208.3H763.2V214.6H715.5ZM771.1 208.3H779.1V214.6H771.1ZM787.1 208.3H795V214.6H787.1ZM890.4 208.3H898.4V214.6H890.4ZM962 208.3H1089.2V214.6H962ZM222.6 214.3H238.5V220.5H222.6ZM270.3 214.3H349.8V220.5H270.3ZM461.1 214.3H508.8V220.5H461.1ZM699.6 214.3H795V220.5H699.6ZM890.4 214.3H898.4V220.5H890.4ZM954 214.3H1144.8V220.5H954ZM222.6 220.2H238.5V226.5H222.6ZM270.3 220.2H365.7V226.5H270.3ZM484.9 220.2H508.8V226.5H484.9ZM691.6 220.2H914.2V226.5H691.6ZM946.1 220.2H1144.8V226.5H946.1ZM206.7 226.2H246.5V232.4H206.7ZM270.3 226.2H278.2V232.4H270.3ZM310.1 226.2H389.6V232.4H310.1ZM492.9 226.2H508.8V232.4H492.9ZM675.8 226.2H1144.8V232.4H675.8ZM0 232.1H246.5V238.4H0ZM262.4 232.1H270.3V238.4H262.4ZM310.1 232.1H437.2V238.4H310.1ZM477 232.1H500.9V238.4H477ZM667.8 232.1H1144.8V238.4H667.8ZM0 238.1H270.3V244.3H0ZM310.1 238.1H500.9V244.3H310.1ZM651.9 238.1H675.8V244.3H651.9ZM683.7 238.1H1144.8V244.3H683.7ZM0 244H278.2V250.3H0ZM310.1 244H500.9V250.3H310.1ZM644 244H651.9V250.3H644ZM667.8 244H675.8V250.3H667.8ZM691.6 244H1144.8V250.3H691.6ZM0 250H278.2V256.2H0ZM302.1 250H325.9V256.2H302.1ZM397.5 250H500.9V256.2H397.5ZM596.2 250H604.2V256.2H596.2ZM612.1 250H620.1V256.2H612.1ZM651.9 250H659.9V256.2H651.9ZM699.6 250H723.5V256.2H699.6ZM731.4 250H962V256.2H731.4ZM1128.9 250H1144.8V256.2H1128.9ZM596.2 255.9H604.2V262.2H596.2ZM612.1 255.9H620.1V262.2H612.1ZM651.9 255.9H659.9V262.2H651.9ZM667.8 255.9H675.8V262.2H667.8ZM699.6 255.9H707.6V262.2H699.6ZM715.5 255.9H723.5V262.2H715.5ZM731.4 255.9H739.4V262.2H731.4ZM524.7 261.9H532.6V268.1H524.7ZM596.2 261.9H612.1V268.1H596.2ZM651.9 261.9H667.8V268.1H651.9ZM699.6 261.9H723.5V268.1H699.6ZM79.5 267.8H270.3V274.1H79.5ZM532.6 267.8H548.6V274.1H532.6ZM564.5 267.8H572.4V274.1H564.5ZM596.2 267.8H604.2V274.1H596.2ZM715.5 267.8H731.4V274.1H715.5ZM23.9 273.8H325.9V280H23.9ZM556.5 273.8H580.4V280H556.5ZM604.2 273.8H644V280H604.2ZM651.9 273.8H675.8V280H651.9ZM715.5 273.8H731.4V280H715.5ZM8 279.7H325.9V286H8ZM333.9 279.7H341.9V286H333.9ZM365.7 279.7H381.6V286H365.7ZM389.6 279.7H405.4V286H389.6ZM413.4 279.7H437.2V286H413.4ZM556.5 279.7H564.5V286H556.5ZM596.2 279.7H612.1V286H596.2ZM628.1 279.7H644V286H628.1ZM659.9 279.7H675.8V286H659.9ZM691.6 279.7H699.6V286H691.6ZM31.8 285.7H318V292H31.8ZM333.9 285.7H341.9V292H333.9ZM349.8 285.7H357.8V292H349.8ZM365.7 285.7H373.7V292H365.7ZM405.4 285.7H421.4V292H405.4ZM596.2 285.7H604.2V292H596.2ZM612.1 285.7H651.9V292H612.1ZM691.6 285.7H715.5V292H691.6ZM87.5 291.7H270.3V297.9H87.5ZM286.2 291.7H302.1V297.9H286.2ZM325.9 291.7H357.8V297.9H325.9ZM373.7 291.7H381.6V297.9H373.7ZM413.4 291.7H421.4V297.9H413.4ZM612.1 291.7H620.1V297.9H612.1ZM651.9 291.7H675.8V297.9H651.9ZM715.5 291.7H723.5V297.9H715.5ZM373.7 297.6H413.4V303.9H373.7ZM628.1 297.6H644V303.9H628.1ZM651.9 297.6H659.9V303.9H651.9ZM691.6 297.6H755.2V303.9H691.6ZM333.9 303.6H341.9V309.8H333.9ZM373.7 303.6H389.6V309.8H373.7ZM397.5 303.6H405.4V309.8H397.5ZM421.4 303.6H445.2V309.8H421.4ZM667.8 303.6H683.7V309.8H667.8ZM699.6 303.6H787.1V309.8H699.6ZM341.9 309.5H349.8V315.8H341.9ZM357.8 309.5H365.7V315.8H357.8ZM373.7 309.5H381.6V315.8H373.7ZM389.6 309.5H413.4V315.8H389.6ZM421.4 309.5H437.2V315.8H421.4ZM636 309.5H644V315.8H636ZM659.9 309.5H667.8V315.8H659.9ZM683.7 309.5H691.6V315.8H683.7ZM715.5 309.5H810.9V315.8H715.5ZM357.8 315.5H397.5V321.7H357.8ZM429.3 315.5H437.2V321.7H429.3ZM628.1 315.5H644V321.7H628.1ZM667.8 315.5H675.8V321.7H667.8ZM699.6 315.5H707.6V321.7H699.6ZM381.6 321.4H389.6V327.7H381.6ZM397.5 321.4H405.4V327.7H397.5ZM636 321.4H644V327.7H636ZM659.9 321.4H667.8V327.7H659.9ZM962 321.4H1009.6V327.7H962ZM969.9 327.4H1001.7V333.6H969.9ZM381.6 333.3H389.6V339.6H381.6ZM667.8 339.3H675.8V345.5H667.8ZM636 351.2H644V357.4H636ZM667.8 351.2H675.8V357.4H667.8ZM644 357.1H651.9V363.4H644ZM644 363.1H659.9V369.3H644Z"/><path fill="#854E82" d="M620.1 65.5H628.1V71.7H620.1ZM1017.6 77.4H1144.8V83.6H1017.6ZM286.2 83.3H302.1V89.6H286.2ZM691.6 83.3H699.6V89.6H691.6ZM1009.6 83.3H1049.4V89.6H1009.6ZM182.8 89.3H190.8V95.5H182.8ZM206.7 89.3H222.6V95.5H206.7ZM246.5 89.3H254.4V95.5H246.5ZM286.2 89.3H318V95.5H286.2ZM333.9 89.3H349.8V95.5H333.9ZM1009.6 89.3H1041.5V95.5H1009.6ZM0 95.2H159V101.5H0ZM174.9 95.2H190.8V101.5H174.9ZM206.7 95.2H222.6V101.5H206.7ZM278.2 95.2H286.2V101.5H278.2ZM302.1 95.2H318V101.5H302.1ZM333.9 95.2H341.9V101.5H333.9ZM707.6 95.2H723.5V101.5H707.6ZM1001.7 95.2H1033.5V101.5H1001.7ZM135.2 101.2H167V107.4H135.2ZM174.9 101.2H190.8V107.4H174.9ZM198.8 101.2H206.7V107.4H198.8ZM294.2 101.2H318V107.4H294.2ZM333.9 101.2H341.9V107.4H333.9ZM683.7 101.2H691.6V107.4H683.7ZM707.6 101.2H723.5V107.4H707.6ZM834.8 101.2H898.4V107.4H834.8ZM1001.7 101.2H1025.5V107.4H1001.7ZM151.1 107.1H182.8V113.4H151.1ZM238.5 107.1H254.4V113.4H238.5ZM310.1 107.1H318V113.4H310.1ZM723.5 107.1H739.4V113.4H723.5ZM1001.7 107.1H1017.6V113.4H1001.7ZM159 113.1H182.8V119.3H159ZM731.4 113.1H739.4V119.3H731.4ZM1001.7 113.1H1009.6V119.3H1001.7ZM167 119H182.8V125.3H167ZM190.8 119H198.8V125.3H190.8ZM1001.7 119H1017.6V125.3H1001.7ZM174.9 125H190.8V131.2H174.9ZM198.8 125H206.7V131.2H198.8ZM238.5 125H246.5V131.2H238.5ZM1001.7 125H1017.6V131.2H1001.7ZM182.8 130.9H198.8V137.2H182.8ZM286.2 130.9H294.2V137.2H286.2ZM1001.7 130.9H1017.6V137.2H1001.7ZM182.8 136.9H198.8V143.1H182.8ZM278.2 136.9H294.2V143.1H278.2ZM310.1 136.9H325.9V143.1H310.1ZM1001.7 136.9H1017.6V143.1H1001.7ZM190.8 142.8H198.8V149.1H190.8ZM286.2 142.8H294.2V149.1H286.2ZM310.1 142.8H341.9V149.1H310.1ZM667.8 142.8H683.7V149.1H667.8ZM1001.7 142.8H1017.6V149.1H1001.7ZM190.8 148.8H206.7V155.1H190.8ZM318 148.8H341.9V155.1H318ZM1001.7 148.8H1025.5V155.1H1001.7ZM190.8 154.8H206.7V161H190.8ZM270.3 154.8H278.2V161H270.3ZM286.2 154.8H294.2V161H286.2ZM333.9 154.8H357.8V161H333.9ZM1001.7 154.8H1033.5V161H1001.7ZM198.8 160.7H206.7V167H198.8ZM262.4 160.7H286.2V167H262.4ZM302.1 160.7H310.1V167H302.1ZM333.9 160.7H397.5V167H333.9ZM1009.6 160.7H1041.5V167H1009.6ZM198.8 166.7H206.7V172.9H198.8ZM310.1 166.7H318V172.9H310.1ZM349.8 166.7H421.4V172.9H349.8ZM914.2 166.7H930.1V172.9H914.2ZM946.1 166.7H954V172.9H946.1ZM1009.6 166.7H1041.5V172.9H1009.6ZM198.8 172.6H214.7V178.9H198.8ZM254.4 172.6H262.4V178.9H254.4ZM270.3 172.6H278.2V178.9H270.3ZM341.9 172.6H445.2V178.9H341.9ZM898.4 172.6H906.3V178.9H898.4ZM946.1 172.6H954V178.9H946.1ZM1017.6 172.6H1049.4V178.9H1017.6ZM206.7 178.6H214.7V184.8H206.7ZM318 178.6H325.9V184.8H318ZM341.9 178.6H453.2V184.8H341.9ZM898.4 178.6H906.3V184.8H898.4ZM946.1 178.6H962V184.8H946.1ZM1025.5 178.6H1065.3V184.8H1025.5ZM214.7 184.5H222.6V190.8H214.7ZM341.9 184.5H461.1V190.8H341.9ZM803 184.5H826.8V190.8H803ZM842.7 184.5H850.6V190.8H842.7ZM890.4 184.5H906.3V190.8H890.4ZM954 184.5H962V190.8H954ZM1025.5 184.5H1073.2V190.8H1025.5ZM206.7 190.5H222.6V196.7H206.7ZM270.3 190.5H278.2V196.7H270.3ZM333.9 190.5H461.1V196.7H333.9ZM803 190.5H810.9V196.7H803ZM826.8 190.5H858.6V196.7H826.8ZM874.5 190.5H890.4V196.7H874.5ZM898.4 190.5H906.3V196.7H898.4ZM946.1 190.5H962V196.7H946.1ZM1033.5 190.5H1081.2V196.7H1033.5ZM206.7 196.4H222.6V202.7H206.7ZM341.9 196.4H461.1V202.7H341.9ZM874.5 196.4H898.4V202.7H874.5ZM954 196.4H962V202.7H954ZM1041.5 196.4H1097.1V202.7H1041.5ZM0 202.4H8V208.6H0ZM214.7 202.4H222.6V208.6H214.7ZM341.9 202.4H461.1V208.6H341.9ZM795 202.4H803V208.6H795ZM874.5 202.4H890.4V208.6H874.5ZM898.4 202.4H906.3V208.6H898.4ZM954 202.4H962V208.6H954ZM1049.4 202.4H1144.8V208.6H1049.4ZM0 208.3H39.8V214.6H0ZM206.7 208.3H230.6V214.6H206.7ZM341.9 208.3H453.2V214.6H341.9ZM779.1 208.3H787.1V214.6H779.1ZM795 208.3H803V214.6H795ZM874.5 208.3H890.4V214.6H874.5ZM898.4 208.3H914.2V214.6H898.4ZM946.1 208.3H962V214.6H946.1ZM1089.2 208.3H1144.8V214.6H1089.2ZM0 214.3H79.5V220.5H0ZM198.8 214.3H222.6V220.5H198.8ZM349.8 214.3H461.1V220.5H349.8ZM795 214.3H890.4V220.5H795ZM898.4 214.3H954V220.5H898.4ZM0 220.2H87.5V226.5H0ZM182.8 220.2H222.6V226.5H182.8ZM365.7 220.2H484.9V226.5H365.7ZM914.2 220.2H946.1V226.5H914.2ZM0 226.2H206.7V232.4H0ZM389.6 226.2H445.2V232.4H389.6ZM477 226.2H492.9V232.4H477ZM437.2 232.1H477V238.4H437.2ZM659.9 244H667.8V250.3H659.9ZM683.7 244H691.6V250.3H683.7ZM659.9 250H683.7V256.2H659.9ZM691.6 250H699.6V256.2H691.6ZM675.8 255.9H699.6V262.2H675.8ZM707.6 255.9H715.5V262.2H707.6ZM556.5 261.9H572.4V268.1H556.5ZM620.1 261.9H628.1V268.1H620.1ZM675.8 261.9H683.7V268.1H675.8ZM644 273.8H651.9V280H644ZM612.1 279.7H628.1V286H612.1ZM644 279.7H651.9V286H644ZM683.7 279.7H691.6V286H683.7ZM341.9 285.7H349.8V292H341.9ZM373.7 285.7H405.4V292H373.7ZM381.6 291.7H413.4V297.9H381.6ZM628.1 291.7H636V297.9H628.1ZM644 291.7H651.9V297.9H644ZM413.4 297.6H421.4V303.9H413.4ZM644 297.6H651.9V303.9H644ZM667.8 297.6H675.8V303.9H667.8ZM341.9 303.6H349.8V309.8H341.9ZM357.8 303.6H365.7V309.8H357.8ZM389.6 303.6H397.5V309.8H389.6ZM413.4 303.6H421.4V309.8H413.4ZM381.6 309.5H389.6V315.8H381.6ZM413.4 309.5H421.4V315.8H413.4ZM667.8 309.5H683.7V315.8H667.8Z"/><path fill="#663C6E" d="M1049.4 83.3H1144.8V89.6H1049.4ZM1041.5 89.3H1049.4V95.5H1041.5ZM1105 89.3H1144.8V95.5H1105ZM1033.5 95.2H1041.5V101.5H1033.5ZM1128.9 95.2H1144.8V101.5H1128.9ZM0 101.2H135.2V107.4H0ZM1025.5 101.2H1041.5V107.4H1025.5ZM1136.9 101.2H1144.8V107.4H1136.9ZM71.5 107.1H151.1V113.4H71.5ZM1017.6 107.1H1041.5V113.4H1017.6ZM1136.9 107.1H1144.8V113.4H1136.9ZM151.1 113.1H159V119.3H151.1ZM1009.6 113.1H1041.5V119.3H1009.6ZM1136.9 113.1H1144.8V119.3H1136.9ZM159 119H167V125.3H159ZM1017.6 119H1041.5V125.3H1017.6ZM1136.9 119H1144.8V125.3H1136.9ZM0 125H71.5V131.2H0ZM167 125H174.9V131.2H167ZM1017.6 125H1041.5V131.2H1017.6ZM1136.9 125H1144.8V131.2H1136.9ZM0 130.9H71.5V137.2H0ZM174.9 130.9H182.8V137.2H174.9ZM1017.6 130.9H1049.4V137.2H1017.6ZM1136.9 130.9H1144.8V137.2H1136.9ZM0 136.9H71.5V143.1H0ZM174.9 136.9H182.8V143.1H174.9ZM1017.6 136.9H1057.4V143.1H1017.6ZM1136.9 136.9H1144.8V143.1H1136.9ZM0 142.8H71.5V149.1H0ZM182.8 142.8H190.8V149.1H182.8ZM1017.6 142.8H1065.3V149.1H1017.6ZM1136.9 142.8H1144.8V149.1H1136.9ZM0 148.8H71.5V155.1H0ZM182.8 148.8H190.8V155.1H182.8ZM1025.5 148.8H1144.8V155.1H1025.5ZM0 154.8H71.5V161H0ZM182.8 154.8H190.8V161H182.8ZM1033.5 154.8H1144.8V161H1033.5ZM0 160.7H71.5V167H0ZM190.8 160.7H198.8V167H190.8ZM1041.5 160.7H1144.8V167H1041.5ZM0 166.7H71.5V172.9H0ZM190.8 166.7H198.8V172.9H190.8ZM930.1 166.7H946.1V172.9H930.1ZM1041.5 166.7H1144.8V172.9H1041.5ZM0 172.6H71.5V178.9H0ZM190.8 172.6H198.8V178.9H190.8ZM906.3 172.6H930.1V178.9H906.3ZM1049.4 172.6H1144.8V178.9H1049.4ZM0 178.6H71.5V184.8H0ZM198.8 178.6H206.7V184.8H198.8ZM906.3 178.6H922.2V184.8H906.3ZM938.1 178.6H946.1V184.8H938.1ZM1065.3 178.6H1144.8V184.8H1065.3ZM0 184.5H71.5V190.8H0ZM198.8 184.5H214.7V190.8H198.8ZM906.3 184.5H914.2V190.8H906.3ZM938.1 184.5H954V190.8H938.1ZM1073.2 184.5H1144.8V190.8H1073.2ZM0 190.5H71.5V196.7H0ZM198.8 190.5H206.7V196.7H198.8ZM810.9 190.5H826.8V196.7H810.9ZM906.3 190.5H914.2V196.7H906.3ZM938.1 190.5H946.1V196.7H938.1ZM1081.2 190.5H1144.8V196.7H1081.2ZM0 196.4H71.5V202.7H0ZM198.8 196.4H206.7V202.7H198.8ZM818.9 196.4H826.8V202.7H818.9ZM858.6 196.4H874.5V202.7H858.6ZM898.4 196.4H906.3V202.7H898.4ZM946.1 196.4H954V202.7H946.1ZM1097.1 196.4H1144.8V202.7H1097.1ZM8 202.4H79.5V208.6H8ZM198.8 202.4H214.7V208.6H198.8ZM803 202.4H810.9V208.6H803ZM906.3 202.4H914.2V208.6H906.3ZM946.1 202.4H954V208.6H946.1ZM39.8 208.3H87.5V214.6H39.8ZM198.8 208.3H206.7V214.6H198.8ZM803 208.3H818.9V214.6H803ZM850.6 208.3H874.5V214.6H850.6ZM914.2 208.3H922.2V214.6H914.2ZM930.1 208.3H946.1V214.6H930.1ZM79.5 214.3H95.4V220.5H79.5ZM182.8 214.3H198.8V220.5H182.8ZM87.5 220.2H182.8V226.5H87.5ZM445.2 226.2H477V232.4H445.2ZM683.7 250H691.6V256.2H683.7ZM667.8 321.4H675.8V327.7H667.8Z"/><path fill="#462B54" d="M1049.4 89.3H1105V95.5H1049.4ZM1041.5 95.2H1128.9V101.5H1041.5ZM1041.5 101.2H1136.9V107.4H1041.5ZM0 107.1H71.5V113.4H0ZM1041.5 107.1H1136.9V113.4H1041.5ZM0 113.1H151.1V119.3H0ZM1041.5 113.1H1136.9V119.3H1041.5ZM0 119H159V125.3H0ZM1041.5 119H1136.9V125.3H1041.5ZM71.5 125H167V131.2H71.5ZM1041.5 125H1136.9V131.2H1041.5ZM71.5 130.9H174.9V137.2H71.5ZM1049.4 130.9H1136.9V137.2H1049.4ZM71.5 136.9H174.9V143.1H71.5ZM1057.4 136.9H1136.9V143.1H1057.4ZM71.5 142.8H182.8V149.1H71.5ZM1065.3 142.8H1136.9V149.1H1065.3ZM71.5 148.8H182.8V155.1H71.5ZM71.5 154.8H182.8V161H71.5ZM71.5 160.7H190.8V167H71.5ZM71.5 166.7H190.8V172.9H71.5ZM71.5 172.6H190.8V178.9H71.5ZM930.1 172.6H946.1V178.9H930.1ZM71.5 178.6H198.8V184.8H71.5ZM922.2 178.6H938.1V184.8H922.2ZM71.5 184.5H198.8V190.8H71.5ZM914.2 184.5H938.1V190.8H914.2ZM71.5 190.5H198.8V196.7H71.5ZM914.2 190.5H938.1V196.7H914.2ZM71.5 196.4H198.8V202.7H71.5ZM803 196.4H818.9V202.7H803ZM826.8 196.4H858.6V202.7H826.8ZM906.3 196.4H946.1V202.7H906.3ZM79.5 202.4H198.8V208.6H79.5ZM810.9 202.4H874.5V208.6H810.9ZM914.2 202.4H946.1V208.6H914.2ZM87.5 208.3H198.8V214.6H87.5ZM818.9 208.3H850.6V214.6H818.9ZM922.2 208.3H930.1V214.6H922.2ZM95.4 214.3H182.8V220.5H95.4Z"/><path d="M8.0 0V571.4M15.9 0V571.4M23.9 0V571.4M31.8 0V571.4M39.8 0V571.4M47.7 0V571.4M55.6 0V571.4M63.6 0V571.4M71.5 0V571.4M79.5 0V571.4M87.5 0V571.4M95.4 0V571.4M103.4 0V571.4M111.3 0V571.4M119.2 0V571.4M127.2 0V571.4M135.2 0V571.4M143.1 0V571.4M151.1 0V571.4M159.0 0V571.4M167.0 0V571.4M174.9 0V571.4M182.8 0V571.4M190.8 0V571.4M198.8 0V571.4M206.7 0V571.4M214.7 0V571.4M222.6 0V571.4M230.6 0V571.4M238.5 0V571.4M246.5 0V571.4M254.4 0V571.4M262.4 0V571.4M270.3 0V571.4M278.2 0V571.4M286.2 0V571.4M294.2 0V571.4M302.1 0V571.4M310.1 0V571.4M318.0 0V571.4M325.9 0V571.4M333.9 0V571.4M341.9 0V571.4M349.8 0V571.4M357.8 0V571.4M365.7 0V571.4M373.7 0V571.4M381.6 0V571.4M389.6 0V571.4M397.5 0V571.4M405.4 0V571.4M413.4 0V571.4M421.4 0V571.4M429.3 0V571.4M437.2 0V571.4M445.2 0V571.4M453.2 0V571.4M461.1 0V571.4M469.1 0V571.4M477.0 0V571.4M484.9 0V571.4M492.9 0V571.4M500.9 0V571.4M508.8 0V571.4M516.8 0V571.4M524.7 0V571.4M532.6 0V571.4M540.6 0V571.4M548.6 0V571.4M556.5 0V571.4M564.5 0V571.4M572.4 0V571.4M580.4 0V571.4M588.3 0V571.4M596.2 0V571.4M604.2 0V571.4M612.1 0V571.4M620.1 0V571.4M628.1 0V571.4M636.0 0V571.4M644.0 0V571.4M651.9 0V571.4M659.9 0V571.4M667.8 0V571.4M675.8 0V571.4M683.7 0V571.4M691.6 0V571.4M699.6 0V571.4M707.6 0V571.4M715.5 0V571.4M723.5 0V571.4M731.4 0V571.4M739.4 0V571.4M747.3 0V571.4M755.2 0V571.4M763.2 0V571.4M771.1 0V571.4M779.1 0V571.4M787.1 0V571.4M795.0 0V571.4M803.0 0V571.4M810.9 0V571.4M818.9 0V571.4M826.8 0V571.4M834.8 0V571.4M842.7 0V571.4M850.6 0V571.4M858.6 0V571.4M866.6 0V571.4M874.5 0V571.4M882.5 0V571.4M890.4 0V571.4M898.4 0V571.4M906.3 0V571.4M914.2 0V571.4M922.2 0V571.4M930.1 0V571.4M938.1 0V571.4M946.1 0V571.4M954.0 0V571.4M962.0 0V571.4M969.9 0V571.4M977.9 0V571.4M985.8 0V571.4M993.8 0V571.4M1001.7 0V571.4M1009.6 0V571.4M1017.6 0V571.4M1025.5 0V571.4M1033.5 0V571.4M1041.5 0V571.4M1049.4 0V571.4M1057.4 0V571.4M1065.3 0V571.4M1073.2 0V571.4M1081.2 0V571.4M1089.2 0V571.4M1097.1 0V571.4M1105.0 0V571.4M1113.0 0V571.4M1121.0 0V571.4M1128.9 0V571.4M1136.9 0V571.4M0 6.0H1136.0M0 11.9H1136.0M0 17.9H1136.0M0 23.8H1136.0M0 29.8H1136.0M0 35.7H1136.0M0 41.7H1136.0M0 47.6H1136.0M0 53.6H1136.0M0 59.5H1136.0M0 65.5H1136.0M0 71.4H1136.0M0 77.4H1136.0M0 83.3H1136.0M0 89.3H1136.0M0 95.2H1136.0M0 101.2H1136.0M0 107.1H1136.0M0 113.1H1136.0M0 119.0H1136.0M0 125.0H1136.0M0 130.9H1136.0M0 136.9H1136.0M0 142.8H1136.0M0 148.8H1136.0M0 154.8H1136.0M0 160.7H1136.0M0 166.7H1136.0M0 172.6H1136.0M0 178.6H1136.0M0 184.5H1136.0M0 190.5H1136.0M0 196.4H1136.0M0 202.4H1136.0M0 208.3H1136.0M0 214.3H1136.0M0 220.2H1136.0M0 226.2H1136.0M0 232.1H1136.0M0 238.1H1136.0M0 244.0H1136.0M0 250.0H1136.0M0 255.9H1136.0M0 261.9H1136.0M0 267.8H1136.0M0 273.8H1136.0M0 279.7H1136.0M0 285.7H1136.0M0 291.7H1136.0M0 297.6H1136.0M0 303.6H1136.0M0 309.5H1136.0M0 315.5H1136.0M0 321.4H1136.0M0 327.4H1136.0M0 333.3H1136.0M0 339.3H1136.0M0 345.2H1136.0M0 351.2H1136.0M0 357.1H1136.0M0 363.1H1136.0M0 369.0H1136.0M0 375.0H1136.0M0 380.9H1136.0M0 386.9H1136.0M0 392.8H1136.0M0 398.8H1136.0M0 404.7H1136.0M0 410.7H1136.0M0 416.6H1136.0M0 422.6H1136.0M0 428.5H1136.0M0 434.5H1136.0M0 440.5H1136.0M0 446.4H1136.0M0 452.4H1136.0M0 458.3H1136.0M0 464.3H1136.0M0 470.2H1136.0M0 476.2H1136.0M0 482.1H1136.0M0 488.1H1136.0M0 494.0H1136.0M0 500.0H1136.0M0 505.9H1136.0M0 511.9H1136.0M0 517.8H1136.0M0 523.8H1136.0M0 529.7H1136.0M0 535.7H1136.0M0 541.6H1136.0M0 547.6H1136.0M0 553.5H1136.0M0 559.5H1136.0M0 565.4H1136.0" stroke="rgba(255,255,255,0.13)" stroke-width="0.5" fill="none"/><path d="M2.1 526.8h3.8M4.0 524.9v3.8M2.1 520.8h3.8M4.0 518.9v3.8M2.1 514.9h3.8M4.0 513.0v3.8M2.1 508.9h3.8M4.0 507.0v3.8M2.1 503.0h3.8M4.0 501.1v3.8M2.1 497.0h3.8M4.0 495.1v3.8M2.1 491.0h3.8M4.0 489.1v3.8M2.1 485.1h3.8M4.0 483.2v3.8M2.1 479.1h3.8M4.0 477.2v3.8M2.1 473.2h3.8M4.0 471.3v3.8M2.1 366.1h3.8M4.0 364.2v3.8M2.1 360.1h3.8M4.0 358.2v3.8M10.0 526.8h3.8M11.9 524.9v3.8M10.0 520.8h3.8M11.9 518.9v3.8M10.0 514.9h3.8M11.9 513.0v3.8M10.0 508.9h3.8M11.9 507.0v3.8M10.0 503.0h3.8M11.9 501.1v3.8M10.0 497.0h3.8M11.9 495.1v3.8M10.0 491.0h3.8M11.9 489.1v3.8M10.0 485.1h3.8M11.9 483.2v3.8M10.0 479.1h3.8M11.9 477.2v3.8M10.0 473.2h3.8M11.9 471.3v3.8M10.0 467.2h3.8M11.9 465.3v3.8M10.0 372.0h3.8M11.9 370.1v3.8M10.0 366.1h3.8M11.9 364.2v3.8M10.0 360.1h3.8M11.9 358.2v3.8M18.0 526.8h3.8M19.9 524.9v3.8M18.0 520.8h3.8M19.9 518.9v3.8M18.0 514.9h3.8M19.9 513.0v3.8M18.0 508.9h3.8M19.9 507.0v3.8M18.0 503.0h3.8M19.9 501.1v3.8M18.0 497.0h3.8M19.9 495.1v3.8M18.0 491.0h3.8M19.9 489.1v3.8M18.0 485.1h3.8M19.9 483.2v3.8M18.0 479.1h3.8M19.9 477.2v3.8M18.0 473.2h3.8M19.9 471.3v3.8M18.0 467.2h3.8M19.9 465.3v3.8M18.0 372.0h3.8M19.9 370.1v3.8M18.0 366.1h3.8M19.9 364.2v3.8M18.0 360.1h3.8M19.9 358.2v3.8M25.9 526.8h3.8M27.8 524.9v3.8M25.9 520.8h3.8M27.8 518.9v3.8M25.9 514.9h3.8M27.8 513.0v3.8M25.9 508.9h3.8M27.8 507.0v3.8M25.9 503.0h3.8M27.8 501.1v3.8M25.9 497.0h3.8M27.8 495.1v3.8M25.9 491.0h3.8M27.8 489.1v3.8M25.9 485.1h3.8M27.8 483.2v3.8M25.9 479.1h3.8M27.8 477.2v3.8M25.9 473.2h3.8M27.8 471.3v3.8M25.9 467.2h3.8M27.8 465.3v3.8M25.9 378.0h3.8M27.8 376.1v3.8M25.9 372.0h3.8M27.8 370.1v3.8M25.9 366.1h3.8M27.8 364.2v3.8M25.9 360.1h3.8M27.8 358.2v3.8M33.9 526.8h3.8M35.8 524.9v3.8M33.9 520.8h3.8M35.8 518.9v3.8M33.9 514.9h3.8M35.8 513.0v3.8M33.9 508.9h3.8M35.8 507.0v3.8M33.9 503.0h3.8M35.8 501.1v3.8M33.9 497.0h3.8M35.8 495.1v3.8M33.9 491.0h3.8M35.8 489.1v3.8M33.9 485.1h3.8M35.8 483.2v3.8M33.9 479.1h3.8M35.8 477.2v3.8M33.9 473.2h3.8M35.8 471.3v3.8M33.9 467.2h3.8M35.8 465.3v3.8M33.9 378.0h3.8M35.8 376.1v3.8M33.9 372.0h3.8M35.8 370.1v3.8M33.9 366.1h3.8M35.8 364.2v3.8M33.9 360.1h3.8M35.8 358.2v3.8M41.8 526.8h3.8M43.7 524.9v3.8M41.8 520.8h3.8M43.7 518.9v3.8M41.8 514.9h3.8M43.7 513.0v3.8M41.8 508.9h3.8M43.7 507.0v3.8M41.8 503.0h3.8M43.7 501.1v3.8M41.8 497.0h3.8M43.7 495.1v3.8M41.8 491.0h3.8M43.7 489.1v3.8M41.8 485.1h3.8M43.7 483.2v3.8M41.8 479.1h3.8M43.7 477.2v3.8M41.8 473.2h3.8M43.7 471.3v3.8M41.8 467.2h3.8M43.7 465.3v3.8M41.8 383.9h3.8M43.7 382.0v3.8M41.8 378.0h3.8M43.7 376.1v3.8M41.8 372.0h3.8M43.7 370.1v3.8M41.8 366.1h3.8M43.7 364.2v3.8M41.8 360.1h3.8M43.7 358.2v3.8M49.8 526.8h3.8M51.7 524.9v3.8M49.8 520.8h3.8M51.7 518.9v3.8M49.8 514.9h3.8M51.7 513.0v3.8M49.8 497.0h3.8M51.7 495.1v3.8M49.8 491.0h3.8M51.7 489.1v3.8M49.8 485.1h3.8M51.7 483.2v3.8M49.8 479.1h3.8M51.7 477.2v3.8M49.8 473.2h3.8M51.7 471.3v3.8M49.8 467.2h3.8M51.7 465.3v3.8M49.8 383.9h3.8M51.7 382.0v3.8M49.8 378.0h3.8M51.7 376.1v3.8M49.8 372.0h3.8M51.7 370.1v3.8M49.8 366.1h3.8M51.7 364.2v3.8M49.8 360.1h3.8M51.7 358.2v3.8M57.7 526.8h3.8M59.6 524.9v3.8M57.7 520.8h3.8M59.6 518.9v3.8M57.7 514.9h3.8M59.6 513.0v3.8M57.7 497.0h3.8M59.6 495.1v3.8M57.7 491.0h3.8M59.6 489.1v3.8M57.7 485.1h3.8M59.6 483.2v3.8M57.7 479.1h3.8M59.6 477.2v3.8M57.7 473.2h3.8M59.6 471.3v3.8M57.7 467.2h3.8M59.6 465.3v3.8M57.7 389.9h3.8M59.6 388.0v3.8M57.7 383.9h3.8M59.6 382.0v3.8M57.7 378.0h3.8M59.6 376.1v3.8M57.7 372.0h3.8M59.6 370.1v3.8M57.7 366.1h3.8M59.6 364.2v3.8M57.7 360.1h3.8M59.6 358.2v3.8M65.7 526.8h3.8M67.6 524.9v3.8M65.7 520.8h3.8M67.6 518.9v3.8M65.7 514.9h3.8M67.6 513.0v3.8M65.7 491.0h3.8M67.6 489.1v3.8M65.7 485.1h3.8M67.6 483.2v3.8M65.7 479.1h3.8M67.6 477.2v3.8M65.7 473.2h3.8M67.6 471.3v3.8M65.7 467.2h3.8M67.6 465.3v3.8M65.7 461.3h3.8M67.6 459.4v3.8M65.7 455.3h3.8M67.6 453.4v3.8M65.7 449.4h3.8M67.6 447.5v3.8M65.7 389.9h3.8M67.6 388.0v3.8M65.7 383.9h3.8M67.6 382.0v3.8M65.7 378.0h3.8M67.6 376.1v3.8M65.7 372.0h3.8M67.6 370.1v3.8M65.7 366.1h3.8M67.6 364.2v3.8M65.7 360.1h3.8M67.6 358.2v3.8M73.6 526.8h3.8M75.5 524.9v3.8M73.6 520.8h3.8M75.5 518.9v3.8M73.6 514.9h3.8M75.5 513.0v3.8M73.6 491.0h3.8M75.5 489.1v3.8M73.6 485.1h3.8M75.5 483.2v3.8M73.6 479.1h3.8M75.5 477.2v3.8M73.6 473.2h3.8M75.5 471.3v3.8M73.6 467.2h3.8M75.5 465.3v3.8M73.6 461.3h3.8M75.5 459.4v3.8M73.6 455.3h3.8M75.5 453.4v3.8M73.6 449.4h3.8M75.5 447.5v3.8M73.6 389.9h3.8M75.5 388.0v3.8M73.6 383.9h3.8M75.5 382.0v3.8M73.6 378.0h3.8M75.5 376.1v3.8M73.6 372.0h3.8M75.5 370.1v3.8M73.6 366.1h3.8M75.5 364.2v3.8M73.6 360.1h3.8M75.5 358.2v3.8M81.6 526.8h3.8M83.5 524.9v3.8M81.6 520.8h3.8M83.5 518.9v3.8M81.6 514.9h3.8M83.5 513.0v3.8M81.6 485.1h3.8M83.5 483.2v3.8M81.6 479.1h3.8M83.5 477.2v3.8M81.6 473.2h3.8M83.5 471.3v3.8M81.6 467.2h3.8M83.5 465.3v3.8M81.6 461.3h3.8M83.5 459.4v3.8M81.6 455.3h3.8M83.5 453.4v3.8M81.6 449.4h3.8M83.5 447.5v3.8M81.6 389.9h3.8M83.5 388.0v3.8M81.6 383.9h3.8M83.5 382.0v3.8M81.6 378.0h3.8M83.5 376.1v3.8M81.6 372.0h3.8M83.5 370.1v3.8M81.6 366.1h3.8M83.5 364.2v3.8M81.6 360.1h3.8M83.5 358.2v3.8M89.5 526.8h3.8M91.4 524.9v3.8M89.5 520.8h3.8M91.4 518.9v3.8M89.5 514.9h3.8M91.4 513.0v3.8M89.5 485.1h3.8M91.4 483.2v3.8M89.5 479.1h3.8M91.4 477.2v3.8M89.5 473.2h3.8M91.4 471.3v3.8M89.5 467.2h3.8M91.4 465.3v3.8M89.5 461.3h3.8M91.4 459.4v3.8M89.5 455.3h3.8M91.4 453.4v3.8M89.5 389.9h3.8M91.4 388.0v3.8M89.5 383.9h3.8M91.4 382.0v3.8M89.5 378.0h3.8M91.4 376.1v3.8M89.5 372.0h3.8M91.4 370.1v3.8M89.5 366.1h3.8M91.4 364.2v3.8M89.5 360.1h3.8M91.4 358.2v3.8M97.5 526.8h3.8M99.4 524.9v3.8M97.5 520.8h3.8M99.4 518.9v3.8M97.5 514.9h3.8M99.4 513.0v3.8M97.5 485.1h3.8M99.4 483.2v3.8M97.5 479.1h3.8M99.4 477.2v3.8M97.5 473.2h3.8M99.4 471.3v3.8M97.5 467.2h3.8M99.4 465.3v3.8M97.5 461.3h3.8M99.4 459.4v3.8M97.5 455.3h3.8M99.4 453.4v3.8M97.5 389.9h3.8M99.4 388.0v3.8M97.5 383.9h3.8M99.4 382.0v3.8M97.5 378.0h3.8M99.4 376.1v3.8M97.5 372.0h3.8M99.4 370.1v3.8M97.5 366.1h3.8M99.4 364.2v3.8M97.5 360.1h3.8M99.4 358.2v3.8M105.4 526.8h3.8M107.3 524.9v3.8M105.4 520.8h3.8M107.3 518.9v3.8M105.4 514.9h3.8M107.3 513.0v3.8M105.4 467.2h3.8M107.3 465.3v3.8M105.4 461.3h3.8M107.3 459.4v3.8M105.4 455.3h3.8M107.3 453.4v3.8M105.4 389.9h3.8M107.3 388.0v3.8M105.4 383.9h3.8M107.3 382.0v3.8M105.4 378.0h3.8M107.3 376.1v3.8M105.4 372.0h3.8M107.3 370.1v3.8M105.4 366.1h3.8M107.3 364.2v3.8M105.4 360.1h3.8M107.3 358.2v3.8M113.4 467.2h3.8M115.3 465.3v3.8M113.4 461.3h3.8M115.3 459.4v3.8M113.4 455.3h3.8M115.3 453.4v3.8M113.4 389.9h3.8M115.3 388.0v3.8M113.4 383.9h3.8M115.3 382.0v3.8M113.4 378.0h3.8M115.3 376.1v3.8M113.4 372.0h3.8M115.3 370.1v3.8M113.4 366.1h3.8M115.3 364.2v3.8M113.4 360.1h3.8M115.3 358.2v3.8M121.3 461.3h3.8M123.2 459.4v3.8M121.3 389.9h3.8M123.2 388.0v3.8M121.3 383.9h3.8M123.2 382.0v3.8M121.3 378.0h3.8M123.2 376.1v3.8M121.3 372.0h3.8M123.2 370.1v3.8M121.3 366.1h3.8M123.2 364.2v3.8M121.3 360.1h3.8M123.2 358.2v3.8M129.3 389.9h3.8M131.2 388.0v3.8M129.3 383.9h3.8M131.2 382.0v3.8M129.3 378.0h3.8M131.2 376.1v3.8M129.3 372.0h3.8M131.2 370.1v3.8M129.3 366.1h3.8M131.2 364.2v3.8M129.3 360.1h3.8M131.2 358.2v3.8M137.2 395.8h3.8M139.1 393.9v3.8M137.2 389.9h3.8M139.1 388.0v3.8M137.2 383.9h3.8M139.1 382.0v3.8M137.2 378.0h3.8M139.1 376.1v3.8M137.2 372.0h3.8M139.1 370.1v3.8M137.2 366.1h3.8M139.1 364.2v3.8M137.2 360.1h3.8M139.1 358.2v3.8M145.2 395.8h3.8M147.1 393.9v3.8M145.2 389.9h3.8M147.1 388.0v3.8M145.2 383.9h3.8M147.1 382.0v3.8M145.2 378.0h3.8M147.1 376.1v3.8M145.2 372.0h3.8M147.1 370.1v3.8M145.2 366.1h3.8M147.1 364.2v3.8M153.1 395.8h3.8M155.0 393.9v3.8M153.1 389.9h3.8M155.0 388.0v3.8M153.1 383.9h3.8M155.0 382.0v3.8M153.1 378.0h3.8M155.0 376.1v3.8M153.1 372.0h3.8M155.0 370.1v3.8M161.1 401.8h3.8M163.0 399.9v3.8M161.1 395.8h3.8M163.0 393.9v3.8M161.1 389.9h3.8M163.0 388.0v3.8M161.1 383.9h3.8M163.0 382.0v3.8M161.1 378.0h3.8M163.0 376.1v3.8M161.1 372.0h3.8M163.0 370.1v3.8M169.0 401.8h3.8M170.9 399.9v3.8M169.0 395.8h3.8M170.9 393.9v3.8M169.0 389.9h3.8M170.9 388.0v3.8M169.0 383.9h3.8M170.9 382.0v3.8M169.0 378.0h3.8M170.9 376.1v3.8M169.0 372.0h3.8M170.9 370.1v3.8M177.0 401.8h3.8M178.9 399.9v3.8M177.0 395.8h3.8M178.9 393.9v3.8M177.0 389.9h3.8M178.9 388.0v3.8M177.0 383.9h3.8M178.9 382.0v3.8M177.0 378.0h3.8M178.9 376.1v3.8M177.0 372.0h3.8M178.9 370.1v3.8M184.9 401.8h3.8M186.8 399.9v3.8M184.9 395.8h3.8M186.8 393.9v3.8M184.9 389.9h3.8M186.8 388.0v3.8M184.9 383.9h3.8M186.8 382.0v3.8M184.9 378.0h3.8M186.8 376.1v3.8M184.9 372.0h3.8M186.8 370.1v3.8M192.9 395.8h3.8M194.8 393.9v3.8M192.9 389.9h3.8M194.8 388.0v3.8M192.9 383.9h3.8M194.8 382.0v3.8M192.9 378.0h3.8M194.8 376.1v3.8M192.9 372.0h3.8M194.8 370.1v3.8M200.8 389.9h3.8M202.7 388.0v3.8M200.8 383.9h3.8M202.7 382.0v3.8M200.8 378.0h3.8M202.7 376.1v3.8M200.8 372.0h3.8M202.7 370.1v3.8M232.6 449.4h3.8M234.5 447.5v3.8M232.6 443.4h3.8M234.5 441.5v3.8M232.6 437.5h3.8M234.5 435.6v3.8M232.6 330.3h3.8M234.5 328.4v3.8M240.6 449.4h3.8M242.5 447.5v3.8M240.6 443.4h3.8M242.5 441.5v3.8M240.6 437.5h3.8M242.5 435.6v3.8M240.6 330.3h3.8M242.5 328.4v3.8M248.5 449.4h3.8M250.4 447.5v3.8M248.5 443.4h3.8M250.4 441.5v3.8M248.5 437.5h3.8M250.4 435.6v3.8M248.5 330.3h3.8M250.4 328.4v3.8M256.5 449.4h3.8M258.4 447.5v3.8M256.5 443.4h3.8M258.4 441.5v3.8M256.5 437.5h3.8M258.4 435.6v3.8M264.4 449.4h3.8M266.3 447.5v3.8M264.4 443.4h3.8M266.3 441.5v3.8M264.4 437.5h3.8M266.3 435.6v3.8M272.4 449.4h3.8M274.3 447.5v3.8M272.4 443.4h3.8M274.3 441.5v3.8M272.4 437.5h3.8M274.3 435.6v3.8M280.3 449.4h3.8M282.2 447.5v3.8M280.3 443.4h3.8M282.2 441.5v3.8M280.3 437.5h3.8M282.2 435.6v3.8M328.0 550.6h3.8M329.9 548.7v3.8M328.0 544.6h3.8M329.9 542.7v3.8M328.0 538.7h3.8M329.9 536.8v3.8M328.0 532.7h3.8M329.9 530.8v3.8M328.0 526.8h3.8M329.9 524.9v3.8M336.0 550.6h3.8M337.9 548.7v3.8M336.0 544.6h3.8M337.9 542.7v3.8M336.0 538.7h3.8M337.9 536.8v3.8M336.0 532.7h3.8M337.9 530.8v3.8M336.0 526.8h3.8M337.9 524.9v3.8M343.9 550.6h3.8M345.8 548.7v3.8M343.9 544.6h3.8M345.8 542.7v3.8M343.9 538.7h3.8M345.8 536.8v3.8M343.9 532.7h3.8M345.8 530.8v3.8M343.9 526.8h3.8M345.8 524.9v3.8M351.9 550.6h3.8M353.8 548.7v3.8M351.9 544.6h3.8M353.8 542.7v3.8M351.9 538.7h3.8M353.8 536.8v3.8M351.9 532.7h3.8M353.8 530.8v3.8M351.9 526.8h3.8M353.8 524.9v3.8M359.8 550.6h3.8M361.7 548.7v3.8M359.8 544.6h3.8M361.7 542.7v3.8M359.8 538.7h3.8M361.7 536.8v3.8M359.8 532.7h3.8M361.7 530.8v3.8M359.8 526.8h3.8M361.7 524.9v3.8M359.8 401.8h3.8M361.7 399.9v3.8M359.8 395.8h3.8M361.7 393.9v3.8M367.8 550.6h3.8M369.7 548.7v3.8M367.8 544.6h3.8M369.7 542.7v3.8M367.8 538.7h3.8M369.7 536.8v3.8M367.8 532.7h3.8M369.7 530.8v3.8M367.8 526.8h3.8M369.7 524.9v3.8M367.8 401.8h3.8M369.7 399.9v3.8M367.8 395.8h3.8M369.7 393.9v3.8M367.8 389.9h3.8M369.7 388.0v3.8M375.7 550.6h3.8M377.6 548.7v3.8M375.7 544.6h3.8M377.6 542.7v3.8M375.7 538.7h3.8M377.6 536.8v3.8M375.7 532.7h3.8M377.6 530.8v3.8M375.7 526.8h3.8M377.6 524.9v3.8M375.7 401.8h3.8M377.6 399.9v3.8M375.7 395.8h3.8M377.6 393.9v3.8M383.7 550.6h3.8M385.6 548.7v3.8M383.7 544.6h3.8M385.6 542.7v3.8M383.7 538.7h3.8M385.6 536.8v3.8M383.7 532.7h3.8M385.6 530.8v3.8M383.7 526.8h3.8M385.6 524.9v3.8M383.7 425.6h3.8M385.6 423.7v3.8M383.7 419.6h3.8M385.6 417.7v3.8M383.7 413.7h3.8M385.6 411.8v3.8M383.7 407.7h3.8M385.6 405.8v3.8M383.7 401.8h3.8M385.6 399.9v3.8M383.7 395.8h3.8M385.6 393.9v3.8M391.6 550.6h3.8M393.5 548.7v3.8M391.6 544.6h3.8M393.5 542.7v3.8M391.6 538.7h3.8M393.5 536.8v3.8M391.6 532.7h3.8M393.5 530.8v3.8M391.6 526.8h3.8M393.5 524.9v3.8M391.6 443.4h3.8M393.5 441.5v3.8M391.6 437.5h3.8M393.5 435.6v3.8M391.6 431.5h3.8M393.5 429.6v3.8M391.6 425.6h3.8M393.5 423.7v3.8M391.6 419.6h3.8M393.5 417.7v3.8M391.6 413.7h3.8M393.5 411.8v3.8M391.6 407.7h3.8M393.5 405.8v3.8M391.6 401.8h3.8M393.5 399.9v3.8M391.6 395.8h3.8M393.5 393.9v3.8M399.6 550.6h3.8M401.5 548.7v3.8M399.6 544.6h3.8M401.5 542.7v3.8M399.6 538.7h3.8M401.5 536.8v3.8M399.6 532.7h3.8M401.5 530.8v3.8M399.6 526.8h3.8M401.5 524.9v3.8M399.6 443.4h3.8M401.5 441.5v3.8M399.6 437.5h3.8M401.5 435.6v3.8M399.6 431.5h3.8M401.5 429.6v3.8M399.6 425.6h3.8M401.5 423.7v3.8M399.6 419.6h3.8M401.5 417.7v3.8M399.6 413.7h3.8M401.5 411.8v3.8M399.6 407.7h3.8M401.5 405.8v3.8M399.6 401.8h3.8M401.5 399.9v3.8M407.5 550.6h3.8M409.4 548.7v3.8M407.5 544.6h3.8M409.4 542.7v3.8M407.5 538.7h3.8M409.4 536.8v3.8M407.5 532.7h3.8M409.4 530.8v3.8M407.5 526.8h3.8M409.4 524.9v3.8M407.5 514.9h3.8M409.4 513.0v3.8M407.5 508.9h3.8M409.4 507.0v3.8M407.5 503.0h3.8M409.4 501.1v3.8M407.5 497.0h3.8M409.4 495.1v3.8M407.5 491.0h3.8M409.4 489.1v3.8M407.5 485.1h3.8M409.4 483.2v3.8M407.5 479.1h3.8M409.4 477.2v3.8M407.5 443.4h3.8M409.4 441.5v3.8M407.5 437.5h3.8M409.4 435.6v3.8M407.5 431.5h3.8M409.4 429.6v3.8M407.5 425.6h3.8M409.4 423.7v3.8M407.5 419.6h3.8M409.4 417.7v3.8M407.5 413.7h3.8M409.4 411.8v3.8M407.5 407.7h3.8M409.4 405.8v3.8M407.5 401.8h3.8M409.4 399.9v3.8M415.5 550.6h3.8M417.4 548.7v3.8M415.5 544.6h3.8M417.4 542.7v3.8M415.5 538.7h3.8M417.4 536.8v3.8M415.5 532.7h3.8M417.4 530.8v3.8M415.5 526.8h3.8M417.4 524.9v3.8M415.5 514.9h3.8M417.4 513.0v3.8M415.5 508.9h3.8M417.4 507.0v3.8M415.5 503.0h3.8M417.4 501.1v3.8M415.5 497.0h3.8M417.4 495.1v3.8M415.5 491.0h3.8M417.4 489.1v3.8M415.5 485.1h3.8M417.4 483.2v3.8M415.5 479.1h3.8M417.4 477.2v3.8M415.5 473.2h3.8M417.4 471.3v3.8M415.5 443.4h3.8M417.4 441.5v3.8M415.5 437.5h3.8M417.4 435.6v3.8M415.5 431.5h3.8M417.4 429.6v3.8M415.5 425.6h3.8M417.4 423.7v3.8M415.5 419.6h3.8M417.4 417.7v3.8M415.5 413.7h3.8M417.4 411.8v3.8M415.5 407.7h3.8M417.4 405.8v3.8M423.4 550.6h3.8M425.3 548.7v3.8M423.4 544.6h3.8M425.3 542.7v3.8M423.4 538.7h3.8M425.3 536.8v3.8M423.4 532.7h3.8M425.3 530.8v3.8M423.4 526.8h3.8M425.3 524.9v3.8M423.4 514.9h3.8M425.3 513.0v3.8M423.4 508.9h3.8M425.3 507.0v3.8M423.4 503.0h3.8M425.3 501.1v3.8M423.4 497.0h3.8M425.3 495.1v3.8M423.4 491.0h3.8M425.3 489.1v3.8M423.4 485.1h3.8M425.3 483.2v3.8M423.4 479.1h3.8M425.3 477.2v3.8M423.4 473.2h3.8M425.3 471.3v3.8M423.4 467.2h3.8M425.3 465.3v3.8M423.4 443.4h3.8M425.3 441.5v3.8M423.4 437.5h3.8M425.3 435.6v3.8M423.4 431.5h3.8M425.3 429.6v3.8M423.4 425.6h3.8M425.3 423.7v3.8M423.4 419.6h3.8M425.3 417.7v3.8M423.4 413.7h3.8M425.3 411.8v3.8M431.4 550.6h3.8M433.3 548.7v3.8M431.4 544.6h3.8M433.3 542.7v3.8M431.4 538.7h3.8M433.3 536.8v3.8M431.4 532.7h3.8M433.3 530.8v3.8M431.4 526.8h3.8M433.3 524.9v3.8M431.4 514.9h3.8M433.3 513.0v3.8M431.4 508.9h3.8M433.3 507.0v3.8M431.4 503.0h3.8M433.3 501.1v3.8M431.4 497.0h3.8M433.3 495.1v3.8M431.4 491.0h3.8M433.3 489.1v3.8M431.4 485.1h3.8M433.3 483.2v3.8M431.4 479.1h3.8M433.3 477.2v3.8M431.4 473.2h3.8M433.3 471.3v3.8M431.4 467.2h3.8M433.3 465.3v3.8M431.4 461.3h3.8M433.3 459.4v3.8M431.4 455.3h3.8M433.3 453.4v3.8M431.4 443.4h3.8M433.3 441.5v3.8M431.4 437.5h3.8M433.3 435.6v3.8M431.4 431.5h3.8M433.3 429.6v3.8M431.4 425.6h3.8M433.3 423.7v3.8M431.4 419.6h3.8M433.3 417.7v3.8M431.4 413.7h3.8M433.3 411.8v3.8M431.4 407.7h3.8M433.3 405.8v3.8M431.4 401.8h3.8M433.3 399.9v3.8M431.4 395.8h3.8M433.3 393.9v3.8M439.3 550.6h3.8M441.2 548.7v3.8M439.3 544.6h3.8M441.2 542.7v3.8M439.3 538.7h3.8M441.2 536.8v3.8M439.3 532.7h3.8M441.2 530.8v3.8M439.3 526.8h3.8M441.2 524.9v3.8M439.3 514.9h3.8M441.2 513.0v3.8M439.3 508.9h3.8M441.2 507.0v3.8M439.3 503.0h3.8M441.2 501.1v3.8M439.3 497.0h3.8M441.2 495.1v3.8M439.3 491.0h3.8M441.2 489.1v3.8M439.3 485.1h3.8M441.2 483.2v3.8M439.3 479.1h3.8M441.2 477.2v3.8M439.3 473.2h3.8M441.2 471.3v3.8M439.3 467.2h3.8M441.2 465.3v3.8M439.3 461.3h3.8M441.2 459.4v3.8M439.3 443.4h3.8M441.2 441.5v3.8M439.3 437.5h3.8M441.2 435.6v3.8M439.3 431.5h3.8M441.2 429.6v3.8M439.3 425.6h3.8M441.2 423.7v3.8M439.3 419.6h3.8M441.2 417.7v3.8M439.3 413.7h3.8M441.2 411.8v3.8M439.3 407.7h3.8M441.2 405.8v3.8M439.3 401.8h3.8M441.2 399.9v3.8M439.3 395.8h3.8M441.2 393.9v3.8M439.3 389.9h3.8M441.2 388.0v3.8M447.3 550.6h3.8M449.2 548.7v3.8M447.3 544.6h3.8M449.2 542.7v3.8M447.3 538.7h3.8M449.2 536.8v3.8M447.3 532.7h3.8M449.2 530.8v3.8M447.3 526.8h3.8M449.2 524.9v3.8M447.3 514.9h3.8M449.2 513.0v3.8M447.3 508.9h3.8M449.2 507.0v3.8M447.3 503.0h3.8M449.2 501.1v3.8M447.3 497.0h3.8M449.2 495.1v3.8M447.3 491.0h3.8M449.2 489.1v3.8M447.3 485.1h3.8M449.2 483.2v3.8M447.3 479.1h3.8M449.2 477.2v3.8M447.3 473.2h3.8M449.2 471.3v3.8M447.3 467.2h3.8M449.2 465.3v3.8M447.3 461.3h3.8M449.2 459.4v3.8M447.3 443.4h3.8M449.2 441.5v3.8M447.3 437.5h3.8M449.2 435.6v3.8M447.3 431.5h3.8M449.2 429.6v3.8M447.3 425.6h3.8M449.2 423.7v3.8M447.3 419.6h3.8M449.2 417.7v3.8M447.3 413.7h3.8M449.2 411.8v3.8M447.3 407.7h3.8M449.2 405.8v3.8M447.3 401.8h3.8M449.2 399.9v3.8M447.3 395.8h3.8M449.2 393.9v3.8M447.3 389.9h3.8M449.2 388.0v3.8M455.2 550.6h3.8M457.1 548.7v3.8M455.2 544.6h3.8M457.1 542.7v3.8M455.2 538.7h3.8M457.1 536.8v3.8M455.2 532.7h3.8M457.1 530.8v3.8M455.2 526.8h3.8M457.1 524.9v3.8M455.2 514.9h3.8M457.1 513.0v3.8M455.2 508.9h3.8M457.1 507.0v3.8M455.2 503.0h3.8M457.1 501.1v3.8M455.2 497.0h3.8M457.1 495.1v3.8M455.2 491.0h3.8M457.1 489.1v3.8M455.2 485.1h3.8M457.1 483.2v3.8M455.2 479.1h3.8M457.1 477.2v3.8M455.2 473.2h3.8M457.1 471.3v3.8M455.2 467.2h3.8M457.1 465.3v3.8M455.2 461.3h3.8M457.1 459.4v3.8M455.2 443.4h3.8M457.1 441.5v3.8M455.2 437.5h3.8M457.1 435.6v3.8M455.2 431.5h3.8M457.1 429.6v3.8M455.2 425.6h3.8M457.1 423.7v3.8M455.2 419.6h3.8M457.1 417.7v3.8M455.2 413.7h3.8M457.1 411.8v3.8M455.2 407.7h3.8M457.1 405.8v3.8M455.2 401.8h3.8M457.1 399.9v3.8M455.2 395.8h3.8M457.1 393.9v3.8M455.2 389.9h3.8M457.1 388.0v3.8M455.2 145.8h3.8M457.1 143.9v3.8M463.2 550.6h3.8M465.1 548.7v3.8M463.2 544.6h3.8M465.1 542.7v3.8M463.2 538.7h3.8M465.1 536.8v3.8M463.2 532.7h3.8M465.1 530.8v3.8M463.2 526.8h3.8M465.1 524.9v3.8M463.2 514.9h3.8M465.1 513.0v3.8M463.2 508.9h3.8M465.1 507.0v3.8M463.2 503.0h3.8M465.1 501.1v3.8M463.2 497.0h3.8M465.1 495.1v3.8M463.2 491.0h3.8M465.1 489.1v3.8M463.2 485.1h3.8M465.1 483.2v3.8M463.2 479.1h3.8M465.1 477.2v3.8M463.2 473.2h3.8M465.1 471.3v3.8M463.2 467.2h3.8M465.1 465.3v3.8M463.2 461.3h3.8M465.1 459.4v3.8M463.2 443.4h3.8M465.1 441.5v3.8M463.2 437.5h3.8M465.1 435.6v3.8M463.2 431.5h3.8M465.1 429.6v3.8M463.2 425.6h3.8M465.1 423.7v3.8M463.2 419.6h3.8M465.1 417.7v3.8M463.2 413.7h3.8M465.1 411.8v3.8M463.2 407.7h3.8M465.1 405.8v3.8M463.2 401.8h3.8M465.1 399.9v3.8M463.2 395.8h3.8M465.1 393.9v3.8M463.2 389.9h3.8M465.1 388.0v3.8M463.2 145.8h3.8M465.1 143.9v3.8M471.1 550.6h3.8M473.0 548.7v3.8M471.1 544.6h3.8M473.0 542.7v3.8M471.1 538.7h3.8M473.0 536.8v3.8M471.1 532.7h3.8M473.0 530.8v3.8M471.1 526.8h3.8M473.0 524.9v3.8M471.1 514.9h3.8M473.0 513.0v3.8M471.1 508.9h3.8M473.0 507.0v3.8M471.1 503.0h3.8M473.0 501.1v3.8M471.1 497.0h3.8M473.0 495.1v3.8M471.1 491.0h3.8M473.0 489.1v3.8M471.1 485.1h3.8M473.0 483.2v3.8M471.1 479.1h3.8M473.0 477.2v3.8M471.1 473.2h3.8M473.0 471.3v3.8M471.1 467.2h3.8M473.0 465.3v3.8M471.1 461.3h3.8M473.0 459.4v3.8M471.1 443.4h3.8M473.0 441.5v3.8M471.1 437.5h3.8M473.0 435.6v3.8M471.1 431.5h3.8M473.0 429.6v3.8M471.1 425.6h3.8M473.0 423.7v3.8M471.1 419.6h3.8M473.0 417.7v3.8M471.1 413.7h3.8M473.0 411.8v3.8M471.1 407.7h3.8M473.0 405.8v3.8M471.1 401.8h3.8M473.0 399.9v3.8M471.1 395.8h3.8M473.0 393.9v3.8M471.1 389.9h3.8M473.0 388.0v3.8M471.1 145.8h3.8M473.0 143.9v3.8M471.1 139.9h3.8M473.0 138.0v3.8M471.1 133.9h3.8M473.0 132.0v3.8M471.1 128.0h3.8M473.0 126.1v3.8M471.1 122.0h3.8M473.0 120.1v3.8M471.1 116.1h3.8M473.0 114.2v3.8M479.1 550.6h3.8M481.0 548.7v3.8M479.1 544.6h3.8M481.0 542.7v3.8M479.1 538.7h3.8M481.0 536.8v3.8M479.1 532.7h3.8M481.0 530.8v3.8M479.1 526.8h3.8M481.0 524.9v3.8M479.1 514.9h3.8M481.0 513.0v3.8M479.1 508.9h3.8M481.0 507.0v3.8M479.1 503.0h3.8M481.0 501.1v3.8M479.1 497.0h3.8M481.0 495.1v3.8M479.1 491.0h3.8M481.0 489.1v3.8M479.1 485.1h3.8M481.0 483.2v3.8M479.1 479.1h3.8M481.0 477.2v3.8M479.1 473.2h3.8M481.0 471.3v3.8M479.1 467.2h3.8M481.0 465.3v3.8M479.1 461.3h3.8M481.0 459.4v3.8M479.1 443.4h3.8M481.0 441.5v3.8M479.1 437.5h3.8M481.0 435.6v3.8M479.1 431.5h3.8M481.0 429.6v3.8M479.1 425.6h3.8M481.0 423.7v3.8M479.1 419.6h3.8M481.0 417.7v3.8M479.1 413.7h3.8M481.0 411.8v3.8M479.1 407.7h3.8M481.0 405.8v3.8M479.1 401.8h3.8M481.0 399.9v3.8M479.1 395.8h3.8M481.0 393.9v3.8M479.1 389.9h3.8M481.0 388.0v3.8M479.1 145.8h3.8M481.0 143.9v3.8M479.1 139.9h3.8M481.0 138.0v3.8M479.1 133.9h3.8M481.0 132.0v3.8M479.1 128.0h3.8M481.0 126.1v3.8M479.1 122.0h3.8M481.0 120.1v3.8M479.1 116.1h3.8M481.0 114.2v3.8M487.0 550.6h3.8M488.9 548.7v3.8M487.0 544.6h3.8M488.9 542.7v3.8M487.0 538.7h3.8M488.9 536.8v3.8M487.0 532.7h3.8M488.9 530.8v3.8M487.0 526.8h3.8M488.9 524.9v3.8M487.0 514.9h3.8M488.9 513.0v3.8M487.0 508.9h3.8M488.9 507.0v3.8M487.0 503.0h3.8M488.9 501.1v3.8M487.0 497.0h3.8M488.9 495.1v3.8M487.0 491.0h3.8M488.9 489.1v3.8M487.0 485.1h3.8M488.9 483.2v3.8M487.0 479.1h3.8M488.9 477.2v3.8M487.0 473.2h3.8M488.9 471.3v3.8M487.0 467.2h3.8M488.9 465.3v3.8M487.0 461.3h3.8M488.9 459.4v3.8M487.0 443.4h3.8M488.9 441.5v3.8M487.0 437.5h3.8M488.9 435.6v3.8M487.0 431.5h3.8M488.9 429.6v3.8M487.0 425.6h3.8M488.9 423.7v3.8M487.0 419.6h3.8M488.9 417.7v3.8M487.0 413.7h3.8M488.9 411.8v3.8M487.0 407.7h3.8M488.9 405.8v3.8M487.0 401.8h3.8M488.9 399.9v3.8M487.0 395.8h3.8M488.9 393.9v3.8M487.0 389.9h3.8M488.9 388.0v3.8M487.0 145.8h3.8M488.9 143.9v3.8M487.0 139.9h3.8M488.9 138.0v3.8M487.0 133.9h3.8M488.9 132.0v3.8M487.0 128.0h3.8M488.9 126.1v3.8M487.0 122.0h3.8M488.9 120.1v3.8M487.0 116.1h3.8M488.9 114.2v3.8M495.0 550.6h3.8M496.9 548.7v3.8M495.0 544.6h3.8M496.9 542.7v3.8M495.0 538.7h3.8M496.9 536.8v3.8M495.0 532.7h3.8M496.9 530.8v3.8M495.0 526.8h3.8M496.9 524.9v3.8M495.0 514.9h3.8M496.9 513.0v3.8M495.0 508.9h3.8M496.9 507.0v3.8M495.0 503.0h3.8M496.9 501.1v3.8M495.0 497.0h3.8M496.9 495.1v3.8M495.0 491.0h3.8M496.9 489.1v3.8M495.0 485.1h3.8M496.9 483.2v3.8M495.0 479.1h3.8M496.9 477.2v3.8M495.0 473.2h3.8M496.9 471.3v3.8M495.0 467.2h3.8M496.9 465.3v3.8M495.0 461.3h3.8M496.9 459.4v3.8M495.0 443.4h3.8M496.9 441.5v3.8M495.0 437.5h3.8M496.9 435.6v3.8M495.0 431.5h3.8M496.9 429.6v3.8M495.0 425.6h3.8M496.9 423.7v3.8M495.0 419.6h3.8M496.9 417.7v3.8M495.0 413.7h3.8M496.9 411.8v3.8M495.0 407.7h3.8M496.9 405.8v3.8M495.0 401.8h3.8M496.9 399.9v3.8M495.0 395.8h3.8M496.9 393.9v3.8M495.0 389.9h3.8M496.9 388.0v3.8M495.0 145.8h3.8M496.9 143.9v3.8M495.0 139.9h3.8M496.9 138.0v3.8M495.0 133.9h3.8M496.9 132.0v3.8M495.0 128.0h3.8M496.9 126.1v3.8M495.0 122.0h3.8M496.9 120.1v3.8M495.0 116.1h3.8M496.9 114.2v3.8M502.9 550.6h3.8M504.8 548.7v3.8M502.9 544.6h3.8M504.8 542.7v3.8M502.9 538.7h3.8M504.8 536.8v3.8M502.9 532.7h3.8M504.8 530.8v3.8M502.9 526.8h3.8M504.8 524.9v3.8M502.9 508.9h3.8M504.8 507.0v3.8M502.9 503.0h3.8M504.8 501.1v3.8M502.9 497.0h3.8M504.8 495.1v3.8M502.9 491.0h3.8M504.8 489.1v3.8M502.9 485.1h3.8M504.8 483.2v3.8M502.9 479.1h3.8M504.8 477.2v3.8M502.9 473.2h3.8M504.8 471.3v3.8M502.9 467.2h3.8M504.8 465.3v3.8M502.9 461.3h3.8M504.8 459.4v3.8M502.9 443.4h3.8M504.8 441.5v3.8M502.9 437.5h3.8M504.8 435.6v3.8M502.9 431.5h3.8M504.8 429.6v3.8M502.9 425.6h3.8M504.8 423.7v3.8M502.9 419.6h3.8M504.8 417.7v3.8M502.9 413.7h3.8M504.8 411.8v3.8M502.9 407.7h3.8M504.8 405.8v3.8M502.9 401.8h3.8M504.8 399.9v3.8M502.9 395.8h3.8M504.8 393.9v3.8M502.9 128.0h3.8M504.8 126.1v3.8M502.9 122.0h3.8M504.8 120.1v3.8M510.9 550.6h3.8M512.8 548.7v3.8M510.9 544.6h3.8M512.8 542.7v3.8M510.9 538.7h3.8M512.8 536.8v3.8M510.9 532.7h3.8M512.8 530.8v3.8M510.9 526.8h3.8M512.8 524.9v3.8M510.9 503.0h3.8M512.8 501.1v3.8M510.9 497.0h3.8M512.8 495.1v3.8M510.9 491.0h3.8M512.8 489.1v3.8M510.9 485.1h3.8M512.8 483.2v3.8M510.9 479.1h3.8M512.8 477.2v3.8M510.9 473.2h3.8M512.8 471.3v3.8M510.9 467.2h3.8M512.8 465.3v3.8M510.9 461.3h3.8M512.8 459.4v3.8M510.9 419.6h3.8M512.8 417.7v3.8M510.9 413.7h3.8M512.8 411.8v3.8M510.9 407.7h3.8M512.8 405.8v3.8M510.9 401.8h3.8M512.8 399.9v3.8M510.9 128.0h3.8M512.8 126.1v3.8M510.9 122.0h3.8M512.8 120.1v3.8M518.8 550.6h3.8M520.7 548.7v3.8M518.8 544.6h3.8M520.7 542.7v3.8M518.8 538.7h3.8M520.7 536.8v3.8M518.8 532.7h3.8M520.7 530.8v3.8M518.8 526.8h3.8M520.7 524.9v3.8M518.8 497.0h3.8M520.7 495.1v3.8M518.8 491.0h3.8M520.7 489.1v3.8M518.8 485.1h3.8M520.7 483.2v3.8M518.8 479.1h3.8M520.7 477.2v3.8M518.8 473.2h3.8M520.7 471.3v3.8M518.8 467.2h3.8M520.7 465.3v3.8M526.8 550.6h3.8M528.7 548.7v3.8M526.8 544.6h3.8M528.7 542.7v3.8M526.8 538.7h3.8M528.7 536.8v3.8M526.8 532.7h3.8M528.7 530.8v3.8M526.8 526.8h3.8M528.7 524.9v3.8M526.8 497.0h3.8M528.7 495.1v3.8M526.8 491.0h3.8M528.7 489.1v3.8M526.8 485.1h3.8M528.7 483.2v3.8M526.8 479.1h3.8M528.7 477.2v3.8M526.8 473.2h3.8M528.7 471.3v3.8M526.8 467.2h3.8M528.7 465.3v3.8M534.7 550.6h3.8M536.6 548.7v3.8M534.7 544.6h3.8M536.6 542.7v3.8M534.7 538.7h3.8M536.6 536.8v3.8M534.7 532.7h3.8M536.6 530.8v3.8M534.7 526.8h3.8M536.6 524.9v3.8M534.7 491.0h3.8M536.6 489.1v3.8M534.7 485.1h3.8M536.6 483.2v3.8M534.7 479.1h3.8M536.6 477.2v3.8M534.7 473.2h3.8M536.6 471.3v3.8M534.7 467.2h3.8M536.6 465.3v3.8M542.7 550.6h3.8M544.6 548.7v3.8M542.7 544.6h3.8M544.6 542.7v3.8M542.7 538.7h3.8M544.6 536.8v3.8M542.7 532.7h3.8M544.6 530.8v3.8M542.7 526.8h3.8M544.6 524.9v3.8M542.7 485.1h3.8M544.6 483.2v3.8M542.7 479.1h3.8M544.6 477.2v3.8M542.7 473.2h3.8M544.6 471.3v3.8M542.7 467.2h3.8M544.6 465.3v3.8M550.6 550.6h3.8M552.5 548.7v3.8M550.6 544.6h3.8M552.5 542.7v3.8M550.6 538.7h3.8M552.5 536.8v3.8M550.6 532.7h3.8M552.5 530.8v3.8M550.6 526.8h3.8M552.5 524.9v3.8M558.6 550.6h3.8M560.5 548.7v3.8M558.6 544.6h3.8M560.5 542.7v3.8M558.6 538.7h3.8M560.5 536.8v3.8M558.6 532.7h3.8M560.5 530.8v3.8M558.6 526.8h3.8M560.5 524.9v3.8M566.5 550.6h3.8M568.4 548.7v3.8M566.5 544.6h3.8M568.4 542.7v3.8M566.5 538.7h3.8M568.4 536.8v3.8M566.5 532.7h3.8M568.4 530.8v3.8M566.5 508.9h3.8M568.4 507.0v3.8M566.5 503.0h3.8M568.4 501.1v3.8M574.5 550.6h3.8M576.4 548.7v3.8M574.5 544.6h3.8M576.4 542.7v3.8M574.5 538.7h3.8M576.4 536.8v3.8M574.5 532.7h3.8M576.4 530.8v3.8M574.5 508.9h3.8M576.4 507.0v3.8M574.5 503.0h3.8M576.4 501.1v3.8M582.4 550.6h3.8M584.3 548.7v3.8M582.4 544.6h3.8M584.3 542.7v3.8M582.4 538.7h3.8M584.3 536.8v3.8M582.4 532.7h3.8M584.3 530.8v3.8M582.4 508.9h3.8M584.3 507.0v3.8M582.4 503.0h3.8M584.3 501.1v3.8M590.4 550.6h3.8M592.3 548.7v3.8M590.4 544.6h3.8M592.3 542.7v3.8M590.4 538.7h3.8M592.3 536.8v3.8M590.4 532.7h3.8M592.3 530.8v3.8M590.4 508.9h3.8M592.3 507.0v3.8M590.4 503.0h3.8M592.3 501.1v3.8M598.3 550.6h3.8M600.2 548.7v3.8M598.3 544.6h3.8M600.2 542.7v3.8M598.3 538.7h3.8M600.2 536.8v3.8M598.3 532.7h3.8M600.2 530.8v3.8M598.3 508.9h3.8M600.2 507.0v3.8M598.3 503.0h3.8M600.2 501.1v3.8M606.3 550.6h3.8M608.2 548.7v3.8M606.3 544.6h3.8M608.2 542.7v3.8M606.3 538.7h3.8M608.2 536.8v3.8M606.3 532.7h3.8M608.2 530.8v3.8M606.3 508.9h3.8M608.2 507.0v3.8M606.3 503.0h3.8M608.2 501.1v3.8M614.2 550.6h3.8M616.1 548.7v3.8M614.2 544.6h3.8M616.1 542.7v3.8M614.2 538.7h3.8M616.1 536.8v3.8M614.2 532.7h3.8M616.1 530.8v3.8M614.2 508.9h3.8M616.1 507.0v3.8M614.2 503.0h3.8M616.1 501.1v3.8M622.2 550.6h3.8M624.1 548.7v3.8M622.2 544.6h3.8M624.1 542.7v3.8M622.2 538.7h3.8M624.1 536.8v3.8M622.2 532.7h3.8M624.1 530.8v3.8M622.2 508.9h3.8M624.1 507.0v3.8M622.2 503.0h3.8M624.1 501.1v3.8M630.1 550.6h3.8M632.0 548.7v3.8M630.1 544.6h3.8M632.0 542.7v3.8M630.1 538.7h3.8M632.0 536.8v3.8M630.1 532.7h3.8M632.0 530.8v3.8M630.1 508.9h3.8M632.0 507.0v3.8M630.1 503.0h3.8M632.0 501.1v3.8M638.1 550.6h3.8M640.0 548.7v3.8M638.1 544.6h3.8M640.0 542.7v3.8M638.1 538.7h3.8M640.0 536.8v3.8M638.1 532.7h3.8M640.0 530.8v3.8M638.1 508.9h3.8M640.0 507.0v3.8M638.1 503.0h3.8M640.0 501.1v3.8M646.0 550.6h3.8M647.9 548.7v3.8M646.0 544.6h3.8M647.9 542.7v3.8M646.0 538.7h3.8M647.9 536.8v3.8M646.0 532.7h3.8M647.9 530.8v3.8M646.0 508.9h3.8M647.9 507.0v3.8M646.0 503.0h3.8M647.9 501.1v3.8M654.0 550.6h3.8M655.9 548.7v3.8M654.0 544.6h3.8M655.9 542.7v3.8M654.0 538.7h3.8M655.9 536.8v3.8M654.0 532.7h3.8M655.9 530.8v3.8M654.0 508.9h3.8M655.9 507.0v3.8M654.0 503.0h3.8M655.9 501.1v3.8M661.9 550.6h3.8M663.8 548.7v3.8M661.9 544.6h3.8M663.8 542.7v3.8M661.9 538.7h3.8M663.8 536.8v3.8M661.9 532.7h3.8M663.8 530.8v3.8M661.9 508.9h3.8M663.8 507.0v3.8M661.9 503.0h3.8M663.8 501.1v3.8M669.9 550.6h3.8M671.8 548.7v3.8M669.9 544.6h3.8M671.8 542.7v3.8M669.9 538.7h3.8M671.8 536.8v3.8M669.9 532.7h3.8M671.8 530.8v3.8M669.9 508.9h3.8M671.8 507.0v3.8M669.9 503.0h3.8M671.8 501.1v3.8M677.8 550.6h3.8M679.7 548.7v3.8M677.8 544.6h3.8M679.7 542.7v3.8M677.8 538.7h3.8M679.7 536.8v3.8M677.8 532.7h3.8M679.7 530.8v3.8M677.8 508.9h3.8M679.7 507.0v3.8M677.8 503.0h3.8M679.7 501.1v3.8M685.8 550.6h3.8M687.7 548.7v3.8M685.8 544.6h3.8M687.7 542.7v3.8M685.8 538.7h3.8M687.7 536.8v3.8M685.8 532.7h3.8M687.7 530.8v3.8M685.8 497.0h3.8M687.7 495.1v3.8M693.7 550.6h3.8M695.6 548.7v3.8M693.7 544.6h3.8M695.6 542.7v3.8M693.7 538.7h3.8M695.6 536.8v3.8M693.7 532.7h3.8M695.6 530.8v3.8M693.7 497.0h3.8M695.6 495.1v3.8M693.7 491.0h3.8M695.6 489.1v3.8M701.7 550.6h3.8M703.6 548.7v3.8M701.7 544.6h3.8M703.6 542.7v3.8M701.7 538.7h3.8M703.6 536.8v3.8M701.7 532.7h3.8M703.6 530.8v3.8M701.7 497.0h3.8M703.6 495.1v3.8M701.7 491.0h3.8M703.6 489.1v3.8M701.7 485.1h3.8M703.6 483.2v3.8M709.6 550.6h3.8M711.5 548.7v3.8M709.6 544.6h3.8M711.5 542.7v3.8M709.6 538.7h3.8M711.5 536.8v3.8M709.6 532.7h3.8M711.5 530.8v3.8M709.6 497.0h3.8M711.5 495.1v3.8M709.6 491.0h3.8M711.5 489.1v3.8M709.6 485.1h3.8M711.5 483.2v3.8M717.6 497.0h3.8M719.5 495.1v3.8M717.6 491.0h3.8M719.5 489.1v3.8M717.6 485.1h3.8M719.5 483.2v3.8M725.5 497.0h3.8M727.4 495.1v3.8M725.5 491.0h3.8M727.4 489.1v3.8M725.5 485.1h3.8M727.4 483.2v3.8M725.5 479.1h3.8M727.4 477.2v3.8M733.5 497.0h3.8M735.4 495.1v3.8M733.5 491.0h3.8M735.4 489.1v3.8M733.5 485.1h3.8M735.4 483.2v3.8M733.5 479.1h3.8M735.4 477.2v3.8M741.4 497.0h3.8M743.3 495.1v3.8M741.4 491.0h3.8M743.3 489.1v3.8M741.4 485.1h3.8M743.3 483.2v3.8M741.4 479.1h3.8M743.3 477.2v3.8M749.4 497.0h3.8M751.3 495.1v3.8M749.4 491.0h3.8M751.3 489.1v3.8M749.4 485.1h3.8M751.3 483.2v3.8M749.4 479.1h3.8M751.3 477.2v3.8M757.3 497.0h3.8M759.2 495.1v3.8M757.3 491.0h3.8M759.2 489.1v3.8M757.3 485.1h3.8M759.2 483.2v3.8M757.3 479.1h3.8M759.2 477.2v3.8M757.3 473.2h3.8M759.2 471.3v3.8M765.3 497.0h3.8M767.2 495.1v3.8M765.3 491.0h3.8M767.2 489.1v3.8M765.3 485.1h3.8M767.2 483.2v3.8M765.3 479.1h3.8M767.2 477.2v3.8M765.3 473.2h3.8M767.2 471.3v3.8M773.2 497.0h3.8M775.1 495.1v3.8M773.2 491.0h3.8M775.1 489.1v3.8M773.2 485.1h3.8M775.1 483.2v3.8M773.2 479.1h3.8M775.1 477.2v3.8M773.2 473.2h3.8M775.1 471.3v3.8M781.2 497.0h3.8M783.1 495.1v3.8M781.2 491.0h3.8M783.1 489.1v3.8M781.2 485.1h3.8M783.1 483.2v3.8M781.2 479.1h3.8M783.1 477.2v3.8M781.2 473.2h3.8M783.1 471.3v3.8M789.1 497.0h3.8M791.0 495.1v3.8M789.1 491.0h3.8M791.0 489.1v3.8M789.1 485.1h3.8M791.0 483.2v3.8M789.1 479.1h3.8M791.0 477.2v3.8M789.1 473.2h3.8M791.0 471.3v3.8M797.1 497.0h3.8M799.0 495.1v3.8M797.1 491.0h3.8M799.0 489.1v3.8M797.1 485.1h3.8M799.0 483.2v3.8M797.1 479.1h3.8M799.0 477.2v3.8M797.1 473.2h3.8M799.0 471.3v3.8M797.1 467.2h3.8M799.0 465.3v3.8M805.0 497.0h3.8M806.9 495.1v3.8M805.0 491.0h3.8M806.9 489.1v3.8M805.0 485.1h3.8M806.9 483.2v3.8M805.0 479.1h3.8M806.9 477.2v3.8M805.0 473.2h3.8M806.9 471.3v3.8M805.0 467.2h3.8M806.9 465.3v3.8M813.0 497.0h3.8M814.9 495.1v3.8M813.0 491.0h3.8M814.9 489.1v3.8M813.0 485.1h3.8M814.9 483.2v3.8M813.0 479.1h3.8M814.9 477.2v3.8M813.0 473.2h3.8M814.9 471.3v3.8M813.0 467.2h3.8M814.9 465.3v3.8M820.9 491.0h3.8M822.8 489.1v3.8M820.9 485.1h3.8M822.8 483.2v3.8M820.9 479.1h3.8M822.8 477.2v3.8M820.9 473.2h3.8M822.8 471.3v3.8M820.9 467.2h3.8M822.8 465.3v3.8M828.9 491.0h3.8M830.8 489.1v3.8M828.9 485.1h3.8M830.8 483.2v3.8M828.9 479.1h3.8M830.8 477.2v3.8M828.9 473.2h3.8M830.8 471.3v3.8M828.9 467.2h3.8M830.8 465.3v3.8M836.8 520.8h3.8M838.7 518.9v3.8M836.8 514.9h3.8M838.7 513.0v3.8M836.8 491.0h3.8M838.7 489.1v3.8M836.8 485.1h3.8M838.7 483.2v3.8M836.8 479.1h3.8M838.7 477.2v3.8M836.8 473.2h3.8M838.7 471.3v3.8M836.8 467.2h3.8M838.7 465.3v3.8M844.8 520.8h3.8M846.7 518.9v3.8M844.8 514.9h3.8M846.7 513.0v3.8M844.8 485.1h3.8M846.7 483.2v3.8M844.8 479.1h3.8M846.7 477.2v3.8M844.8 473.2h3.8M846.7 471.3v3.8M844.8 467.2h3.8M846.7 465.3v3.8M852.7 520.8h3.8M854.6 518.9v3.8M852.7 514.9h3.8M854.6 513.0v3.8M852.7 485.1h3.8M854.6 483.2v3.8M852.7 479.1h3.8M854.6 477.2v3.8M852.7 473.2h3.8M854.6 471.3v3.8M852.7 467.2h3.8M854.6 465.3v3.8M852.7 461.3h3.8M854.6 459.4v3.8M860.7 520.8h3.8M862.6 518.9v3.8M860.7 514.9h3.8M862.6 513.0v3.8M860.7 485.1h3.8M862.6 483.2v3.8M860.7 479.1h3.8M862.6 477.2v3.8M860.7 473.2h3.8M862.6 471.3v3.8M860.7 467.2h3.8M862.6 465.3v3.8M860.7 461.3h3.8M862.6 459.4v3.8M868.6 520.8h3.8M870.5 518.9v3.8M868.6 514.9h3.8M870.5 513.0v3.8M868.6 479.1h3.8M870.5 477.2v3.8M868.6 473.2h3.8M870.5 471.3v3.8M868.6 467.2h3.8M870.5 465.3v3.8M868.6 461.3h3.8M870.5 459.4v3.8M876.6 520.8h3.8M878.5 518.9v3.8M876.6 514.9h3.8M878.5 513.0v3.8M876.6 479.1h3.8M878.5 477.2v3.8M876.6 473.2h3.8M878.5 471.3v3.8M876.6 467.2h3.8M878.5 465.3v3.8M876.6 461.3h3.8M878.5 459.4v3.8M884.5 520.8h3.8M886.4 518.9v3.8M884.5 514.9h3.8M886.4 513.0v3.8M884.5 479.1h3.8M886.4 477.2v3.8M884.5 473.2h3.8M886.4 471.3v3.8M884.5 467.2h3.8M886.4 465.3v3.8M884.5 461.3h3.8M886.4 459.4v3.8M892.5 520.8h3.8M894.4 518.9v3.8M892.5 514.9h3.8M894.4 513.0v3.8M900.4 520.8h3.8M902.3 518.9v3.8M900.4 514.9h3.8M902.3 513.0v3.8M908.4 520.8h3.8M910.3 518.9v3.8M908.4 514.9h3.8M910.3 513.0v3.8M916.3 520.8h3.8M918.2 518.9v3.8M916.3 514.9h3.8M918.2 513.0v3.8M924.3 520.8h3.8M926.2 518.9v3.8M924.3 514.9h3.8M926.2 513.0v3.8M932.2 520.8h3.8M934.1 518.9v3.8M932.2 514.9h3.8M934.1 513.0v3.8M940.2 520.8h3.8M942.1 518.9v3.8M940.2 514.9h3.8M942.1 513.0v3.8M948.1 520.8h3.8M950.0 518.9v3.8M948.1 514.9h3.8M950.0 513.0v3.8M956.1 520.8h3.8M958.0 518.9v3.8M956.1 514.9h3.8M958.0 513.0v3.8M1043.5 336.3h3.8M1045.4 334.4v3.8M1043.5 330.3h3.8M1045.4 328.4v3.8M1043.5 324.4h3.8M1045.4 322.5v3.8M1051.5 497.0h3.8M1053.4 495.1v3.8M1051.5 342.2h3.8M1053.4 340.3v3.8M1051.5 336.3h3.8M1053.4 334.4v3.8M1051.5 330.3h3.8M1053.4 328.4v3.8M1051.5 324.4h3.8M1053.4 322.5v3.8M1059.4 503.0h3.8M1061.3 501.1v3.8M1059.4 497.0h3.8M1061.3 495.1v3.8M1059.4 491.0h3.8M1061.3 489.1v3.8M1059.4 485.1h3.8M1061.3 483.2v3.8M1059.4 348.2h3.8M1061.3 346.3v3.8M1059.4 342.2h3.8M1061.3 340.3v3.8M1059.4 336.3h3.8M1061.3 334.4v3.8M1059.4 330.3h3.8M1061.3 328.4v3.8M1059.4 324.4h3.8M1061.3 322.5v3.8M1067.4 503.0h3.8M1069.3 501.1v3.8M1067.4 497.0h3.8M1069.3 495.1v3.8M1067.4 491.0h3.8M1069.3 489.1v3.8M1067.4 485.1h3.8M1069.3 483.2v3.8M1067.4 479.1h3.8M1069.3 477.2v3.8M1067.4 348.2h3.8M1069.3 346.3v3.8M1067.4 342.2h3.8M1069.3 340.3v3.8M1067.4 336.3h3.8M1069.3 334.4v3.8M1067.4 330.3h3.8M1069.3 328.4v3.8M1067.4 324.4h3.8M1069.3 322.5v3.8M1075.3 503.0h3.8M1077.2 501.1v3.8M1075.3 497.0h3.8M1077.2 495.1v3.8M1075.3 491.0h3.8M1077.2 489.1v3.8M1075.3 485.1h3.8M1077.2 483.2v3.8M1075.3 479.1h3.8M1077.2 477.2v3.8M1075.3 348.2h3.8M1077.2 346.3v3.8M1075.3 342.2h3.8M1077.2 340.3v3.8M1075.3 336.3h3.8M1077.2 334.4v3.8M1075.3 330.3h3.8M1077.2 328.4v3.8M1075.3 324.4h3.8M1077.2 322.5v3.8M1083.3 503.0h3.8M1085.2 501.1v3.8M1083.3 497.0h3.8M1085.2 495.1v3.8M1083.3 491.0h3.8M1085.2 489.1v3.8M1083.3 485.1h3.8M1085.2 483.2v3.8M1083.3 479.1h3.8M1085.2 477.2v3.8M1083.3 473.2h3.8M1085.2 471.3v3.8M1091.2 508.9h3.8M1093.1 507.0v3.8M1091.2 503.0h3.8M1093.1 501.1v3.8M1091.2 497.0h3.8M1093.1 495.1v3.8M1091.2 491.0h3.8M1093.1 489.1v3.8M1091.2 485.1h3.8M1093.1 483.2v3.8M1091.2 479.1h3.8M1093.1 477.2v3.8M1091.2 473.2h3.8M1093.1 471.3v3.8M1091.2 467.2h3.8M1093.1 465.3v3.8M1099.2 508.9h3.8M1101.1 507.0v3.8M1099.2 503.0h3.8M1101.1 501.1v3.8M1099.2 497.0h3.8M1101.1 495.1v3.8M1099.2 491.0h3.8M1101.1 489.1v3.8M1099.2 485.1h3.8M1101.1 483.2v3.8M1099.2 479.1h3.8M1101.1 477.2v3.8M1099.2 473.2h3.8M1101.1 471.3v3.8M1099.2 467.2h3.8M1101.1 465.3v3.8M1107.1 508.9h3.8M1109.0 507.0v3.8M1107.1 503.0h3.8M1109.0 501.1v3.8M1107.1 497.0h3.8M1109.0 495.1v3.8M1107.1 491.0h3.8M1109.0 489.1v3.8M1107.1 485.1h3.8M1109.0 483.2v3.8M1107.1 479.1h3.8M1109.0 477.2v3.8M1107.1 473.2h3.8M1109.0 471.3v3.8M1107.1 467.2h3.8M1109.0 465.3v3.8M1115.1 508.9h3.8M1117.0 507.0v3.8M1115.1 503.0h3.8M1117.0 501.1v3.8M1115.1 497.0h3.8M1117.0 495.1v3.8M1115.1 491.0h3.8M1117.0 489.1v3.8M1115.1 485.1h3.8M1117.0 483.2v3.8M1115.1 479.1h3.8M1117.0 477.2v3.8M1115.1 473.2h3.8M1117.0 471.3v3.8M1115.1 467.2h3.8M1117.0 465.3v3.8M1115.1 360.1h3.8M1117.0 358.2v3.8M1115.1 354.1h3.8M1117.0 352.2v3.8M1115.1 348.2h3.8M1117.0 346.3v3.8M1123.0 514.9h3.8M1124.9 513.0v3.8M1123.0 508.9h3.8M1124.9 507.0v3.8M1123.0 503.0h3.8M1124.9 501.1v3.8M1123.0 497.0h3.8M1124.9 495.1v3.8M1123.0 491.0h3.8M1124.9 489.1v3.8M1123.0 485.1h3.8M1124.9 483.2v3.8M1123.0 479.1h3.8M1124.9 477.2v3.8M1123.0 473.2h3.8M1124.9 471.3v3.8M1123.0 467.2h3.8M1124.9 465.3v3.8M1123.0 360.1h3.8M1124.9 358.2v3.8M1123.0 354.1h3.8M1124.9 352.2v3.8M1123.0 348.2h3.8M1124.9 346.3v3.8M1131.0 514.9h3.8M1132.9 513.0v3.8M1131.0 508.9h3.8M1132.9 507.0v3.8M1131.0 503.0h3.8M1132.9 501.1v3.8M1131.0 497.0h3.8M1132.9 495.1v3.8M1131.0 491.0h3.8M1132.9 489.1v3.8M1131.0 485.1h3.8M1132.9 483.2v3.8M1131.0 479.1h3.8M1132.9 477.2v3.8M1131.0 473.2h3.8M1132.9 471.3v3.8M1131.0 467.2h3.8M1132.9 465.3v3.8M1131.0 360.1h3.8M1132.9 358.2v3.8M1131.0 354.1h3.8M1132.9 352.2v3.8M1131.0 348.2h3.8M1132.9 346.3v3.8" stroke="#111" stroke-width="1.35" fill="none"/>
<use href="#coast"/><use href="#isl"/>
</svg>
<rect x="70.0" y="1418.7" width="1136.0" height="571.4" fill="none" stroke="#000" stroke-width="2.3"/>
<path d="M61.0 1418.7H70.0M61.0 1561.5H70.0M61.0 1704.4H70.0M61.0 1847.2H70.0M61.0 1990.1H70.0M133.6 1990.1v9M260.8 1990.1v9M388.0 1990.1v9M515.2 1990.1v9M642.4 1990.1v9M769.6 1990.1v9M896.8 1990.1v9M1024.0 1990.1v9M1151.2 1990.1v9" stroke="#000" stroke-width="2" fill="none"/>
<text class="k" text-anchor="end" x="54" y="1425.2">90°N</text>
<text class="k" text-anchor="end" x="54" y="1568.0">45°N</text>
<text class="k" text-anchor="end" x="54" y="1710.9">0°</text>
<text class="k" text-anchor="end" x="54" y="1853.8">45°S</text>
<text class="k" text-anchor="end" x="54" y="1996.6">90°S</text>
<text class="k" text-anchor="middle" x="133.6" y="2023.6">160°W</text>
<text class="k" text-anchor="middle" x="260.8" y="2023.6">120°W</text>
<text class="k" text-anchor="middle" x="388.0" y="2023.6">80°W</text>
<text class="k" text-anchor="middle" x="515.2" y="2023.6">40°W</text>
<text class="k" text-anchor="middle" x="642.4" y="2023.6">0°</text>
<text class="k" text-anchor="middle" x="769.6" y="2023.6">40°E</text>
<text class="k" text-anchor="middle" x="896.8" y="2023.6">80°E</text>
<text class="k" text-anchor="middle" x="1024.0" y="2023.6">120°E</text>
<text class="k" text-anchor="middle" x="1151.2" y="2023.6">160°E</text>
<text class="l" x="91.5" y="1462.1" fill="#000" style="fill:#000">c</text>
<rect x="1262.5" y="1418.70" width="57.5" height="71.92" fill="#462B54"/>
<rect x="1262.5" y="1490.12" width="57.5" height="71.92" fill="#663C6E"/>
<rect x="1262.5" y="1561.55" width="57.5" height="71.92" fill="#854E82"/>
<rect x="1262.5" y="1632.97" width="57.5" height="71.92" fill="#A56592"/>
<rect x="1262.5" y="1704.40" width="57.5" height="71.92" fill="#C07D9C"/>
<rect x="1262.5" y="1775.83" width="57.5" height="71.92" fill="#D396A5"/>
<rect x="1262.5" y="1847.25" width="57.5" height="71.92" fill="#EFD0CB"/>
<rect x="1262.5" y="1918.67" width="57.5" height="71.92" fill="#FEF4F1"/>
<rect x="1262.5" y="1418.7" width="57.5" height="571.4" fill="none" stroke="#000" stroke-width="1.4"/>
<text class="c" x="1337" y="1503.6">70</text>
<text class="c" x="1337" y="1575.0">60</text>
<text class="c" x="1337" y="1646.5">50</text>
<text class="c" x="1337" y="1717.9">40</text>
<text class="c" x="1337" y="1789.3">30</text>
<text class="c" x="1337" y="1860.8">20</text>
<text class="c" x="1337" y="1932.2">10</text>
<path d="M1320.0 1490.1h8.5M1320.0 1561.5h8.5M1320.0 1633.0h8.5M1320.0 1704.4h8.5M1320.0 1775.8h8.5M1320.0 1847.2h8.5M1320.0 1918.7h8.5" stroke="#000" stroke-width="2" fill="none"/>
<text class="c" style="font-size:34.5px" text-anchor="middle" transform="translate(1406.5 1704.4) rotate(90)">Year</text>
</g>
<g id="panel-d">
<text class="t" x="637.2" y="2090.5">Changes in GDP associated with sulfate-induced cooling</text>
<svg x="70.0" y="2104.9" width="1136.0" height="571.4" viewBox="0 0 1136.0 571.4" overflow="hidden">

<rect width="1136" height="571.4" fill="#fff"/><clipPath id="landclip"><use href="#coast" clip-rule="evenodd"/></clipPath><path d="M0.0 554.6L84.6 555.5L131.3 556.8L93.8 553.6L86.8 547.6L70.3 533.6L82.7 530.8L93.8 528.9L111.3 525.7L140.9 524.1L165.4 522.2L187.6 523.1L213.1 521.6L234.7 525.4L244.2 517.1L263.9 514.9L281.7 518.1L302.1 517.4L319.3 518.4L330.7 514.3L338.0 507.6L349.8 504.7L356.8 500.6L365.7 495.2L375.6 491.1L388.0 487.3L396.9 485.1L386.4 490.5L375.6 495.2L375.6 502.8L380.3 509.5L380.3 517.1L376.8 522.2L366.3 526.3L349.8 528.5L328.8 531.1L305.3 534.9L330.7 539.7L356.8 542.8L375.2 547.6L387.3 549.8L399.1 545.1L422.6 542.8L438.8 540.6L455.4 539.7L483.7 539.7L488.1 531.1L502.4 526.3L516.4 521.9L531.1 516.8L544.7 513.3L566.0 511.1L591.5 510.1L613.7 507.9L639.8 508.5L661.4 507.9L677.3 505.7L691.7 504.4L702.8 501.6L718.7 500.0L733.3 498.4L744.1 495.2L756.8 498.4L769.6 500.0L783.2 500.9L791.8 506.3L791.8 512.7L801.4 506.3L810.9 506.6L820.8 504.4L830.0 500.6L849.1 498.1L868.1 497.1L883.4 496.8L899.9 494.6L922.2 496.8L941.6 498.4L960.4 497.8L979.4 498.4L1000.1 496.2L1017.6 497.8L1033.5 500.0L1050.0 503.1L1065.3 505.7L1081.2 507.9L1097.1 510.5L1114.0 513.6L1103.5 519.0L1090.7 523.8L1087.6 526.6L1097.1 531.7L1104.1 533.6L1087.6 536.5L1073.6 541.9L1081.2 546.0L1087.6 548.2L1113.0 551.4L1135.9 553.6L1144.8 554.3L1144.8 573.0L0.0 573.0Z" fill="#E0E0E0"/><path d="M343.4 38.1L362.5 33.3L368.9 27.9L388.0 24.8L413.4 23.8L438.8 21.6L470.6 20.3L496.1 22.9L512.0 26.3L534.2 27.0L518.3 31.7L512.0 36.5L513.6 41.9L508.8 47.0L510.4 50.8L502.4 54.0L502.4 58.7L500.9 62.5L496.1 64.8L489.7 67.6L480.2 69.2L470.6 69.8L464.3 74.3L454.7 76.8L446.8 78.4L443.6 81.9L438.8 86.3L435.7 92.7L432.5 95.2L427.7 94.3L419.8 92.1L415.0 87.9L410.2 83.2L407.0 78.7L402.3 74.6L402.3 69.8L410.2 66.7L402.3 65.1L399.1 61.9L407.0 60.3L397.5 57.1L394.3 52.4L389.6 47.6L381.6 44.4L365.7 43.8L353.0 42.9L346.6 40.6L343.4 38.1Z" fill="#2F7BBA"/><path d="M495.1 77.8L500.9 74.9L507.2 77.1L515.2 75.6L521.5 74.6L525.7 76.8L528.8 80.0L523.1 81.9L513.6 84.1L507.2 83.8L500.9 82.9L502.4 80.9L496.1 79.7L500.9 78.7L495.1 77.8Z" fill="#89BFDC"/><path d="M935.6 354.9L942.9 351.4L950.8 349.2L958.8 346.0L961.3 340.6L965.1 340.6L966.7 337.4L971.5 331.7L976.3 330.1L980.4 333.3L984.8 332.7L984.2 328.6L988.3 325.1L993.8 322.2L1001.7 324.4L1007.4 323.8L1004.9 328.6L1003.3 333.3L1008.1 336.5L1015.1 341.3L1020.1 341.3L1022.7 333.3L1022.7 326.3L1025.5 320.0L1028.7 326.3L1029.7 331.4L1034.5 333.3L1036.7 341.3L1037.6 345.7L1044.6 349.8L1047.8 356.2L1051.9 360.3L1058.3 366.0L1059.9 373.0L1060.5 377.8L1058.9 384.1L1055.8 389.8L1053.2 393.6L1051.0 399.3L1049.4 404.1L1043.0 406.0L1038.3 409.5L1033.5 407.3L1028.7 408.9L1020.8 407.0L1017.0 403.2L1014.4 399.0L1011.2 398.7L1012.8 395.2L1010.6 391.1L1009.7 396.2L1004.9 396.8L1003.3 395.5L999.2 390.5L992.2 387.3L982.6 386.0L973.1 388.2L966.7 391.1L960.4 393.3L954.0 393.6L947.6 396.8L941.3 396.2L938.1 394.6L939.7 388.9L940.0 384.1L938.1 379.3L935.6 373.0L932.7 368.2L934.3 362.5L933.6 358.1L935.6 354.9Z" fill="#FBF0EC"/><path d="M1032.5 414.9L1038.3 416.2L1044.0 415.5L1043.7 419.7L1039.9 423.8L1036.0 422.8L1034.1 419.0L1032.5 414.9Z" fill="#FBF0EC"/><path d="M729.2 323.8L732.4 334.9L730.8 339.7L729.5 344.4L726.6 352.4L723.5 361.9L720.3 365.7L715.5 366.6L711.7 363.5L710.1 356.5L713.3 349.2L712.3 342.8L713.9 337.4L719.6 335.9L723.5 332.7L726.6 328.6L729.2 323.8Z" fill="#FCD3BE"/><path d="M554.3 126.7L561.3 126.0L569.2 124.8L576.9 123.2L577.5 118.4L573.4 117.5L572.4 115.2L567.6 111.1L566.0 108.2L562.9 107.9L566.0 102.9L560.3 102.5L562.9 99.7L556.5 99.7L554.0 103.2L554.9 107.0L557.1 109.5L556.5 111.7L561.3 111.7L562.9 115.9L558.1 116.8L559.0 119.7L555.9 121.3L561.3 122.5L562.9 122.9L558.7 123.5L554.3 126.7Z" fill="#EEF3F6"/><path d="M540.6 121.9L547.0 121.6L552.7 119.7L553.3 115.9L554.6 112.7L551.7 110.5L546.3 110.5L545.4 113.0L540.6 113.6L542.2 116.8L540.6 120.0L540.6 121.9Z" fill="#EEF3F6"/><path d="M826.8 254.6L830.9 258.7L832.5 263.5L828.7 267.0L826.2 264.1L826.2 258.7L826.8 254.6Z" fill="#F8B99E"/><path d="M989.0 288.2L993.8 287.0L998.5 288.2L1001.7 296.2L1009.7 290.8L1016.0 293.0L1020.8 294.0L1028.7 296.8L1036.0 302.2L1041.5 304.7L1042.4 309.5L1046.2 314.3L1051.9 318.4L1046.2 318.4L1039.9 315.9L1035.1 310.5L1028.7 312.7L1024.0 314.9L1017.6 311.7L1011.2 312.0L1013.8 307.9L1011.2 303.2L1003.3 299.7L995.3 298.4L994.7 294.6L997.9 293.0L992.8 292.7L989.0 288.2Z" fill="#FDE6DB"/><path d="M919.0 280.9L922.2 280.3L926.3 277.8L931.7 275.5L936.5 270.5L941.3 265.1L944.5 263.5L949.2 268.2L947.6 272.0L946.1 276.2L950.2 282.5L946.7 285.7L942.9 291.4L941.3 296.8L936.5 298.4L931.7 295.9L927.0 295.2L922.2 290.5L919.0 285.7L919.0 280.9Z" fill="#FCD3BE"/><path d="M875.5 268.2L882.5 269.2L890.4 276.2L896.8 280.9L901.5 285.7L904.7 292.0L909.5 295.9L908.8 304.1L904.7 303.8L898.4 299.0L893.6 293.6L888.8 287.3L885.6 280.9L880.9 275.5L875.5 268.2Z" fill="#FDE6DB"/><path d="M906.9 307.3L912.0 304.7L918.4 307.0L925.4 306.7L931.7 307.9L936.5 310.5L935.9 313.0L925.4 311.7L917.4 310.5L911.1 308.9L906.9 307.3Z" fill="#FDE6DB"/><path d="M953.4 283.2L957.2 281.9L965.1 282.8L969.9 280.6L968.3 284.1L960.4 284.4L955.6 285.1L957.2 288.9L963.5 288.6L960.4 292.0L962.0 296.8L963.5 301.6L958.8 300.0L957.2 294.6L955.0 295.2L955.3 303.2L952.4 303.2L952.4 296.8L950.2 294.3L953.4 287.3L953.4 283.2Z" fill="#FDE6DB"/><path d="M955.6 227.0L961.0 227.0L961.3 233.3L958.8 236.5L960.4 241.3L966.7 242.8L966.7 245.7L962.0 242.8L957.2 242.2L954.6 238.7L953.7 234.0L955.6 227.0Z" fill="#FCD3BE"/><path d="M960.4 263.5L965.1 258.7L971.5 254.6L974.7 261.9L971.5 267.3L966.7 265.1L960.4 263.5Z" fill="#FCD3BE"/><path d="M967.7 246.0L972.1 248.2L970.5 254.0L968.3 251.4L967.7 246.0Z" fill="#FCD3BE"/><path d="M960.4 248.2L964.2 250.8L964.2 256.5L961.3 254.6L960.4 248.2Z" fill="#FCD3BE"/><path d="M945.1 259.4L952.4 249.8L951.8 254.0L946.1 259.4L945.1 259.4Z" fill="#FCD3BE"/><path d="M918.1 224.4L923.8 221.9L925.4 223.5L920.6 227.9L918.1 224.4Z" fill="#FBF0EC"/><path d="M736.2 58.7L747.3 53.3L753.7 47.6L766.4 43.8L788.6 41.9L779.1 46.0L763.2 49.2L755.2 55.6L753.7 61.3L742.5 60.9L736.2 58.7Z" fill="#A7D0E5"/><path d="M874.5 32.4L890.4 28.6L906.3 34.0L890.4 37.5L874.5 32.4Z" fill="#A7D0E5"/><path d="M1008.1 46.0L1027.1 44.4L1049.4 47.0L1033.5 48.3L1017.6 50.8L1008.1 46.0Z" fill="#A7D0E5"/><path d="M0.0 67.0L9.5 69.2L19.1 73.0L28.6 74.6L32.8 75.9L25.4 80.9L22.3 81.6L12.7 77.8L4.8 76.2L0.0 78.7Z" fill="#A7D0E5"/><path d="M1024.0 113.3L1027.8 119.0L1028.1 125.4L1031.9 130.2L1027.1 136.5L1026.5 139.7L1024.0 137.1L1024.0 130.2L1023.3 122.2L1024.0 113.3Z" fill="#A7D0E5"/><path d="M302.1 51.4L314.8 52.1L324.4 54.6L333.9 56.5L346.6 60.3L354.6 63.5L359.3 66.7L368.9 71.4L375.2 73.6L376.8 76.2L370.5 79.4L366.3 85.7L354.6 83.8L360.9 88.9L349.8 86.7L343.4 83.8L335.5 80.9L325.9 81.6L324.4 79.4L337.1 77.8L338.7 74.6L341.9 71.4L337.1 68.9L329.1 66.7L322.8 63.5L313.2 63.8L302.1 63.5L292.6 61.9L287.8 58.7L287.8 53.3L302.1 51.4Z" fill="#C5E0ED"/><path d="M200.3 59.4L213.1 54.6L229.0 53.3L238.5 54.6L240.1 60.3L249.6 64.4L244.9 67.3L232.1 67.0L222.6 67.9L211.5 66.0L201.9 65.1L198.8 61.9L206.7 61.6L200.3 59.4Z" fill="#C5E0ED"/><path d="M174.9 57.1L179.7 51.4L187.6 49.2L198.8 50.2L205.1 53.0L195.6 57.1L187.6 59.4L179.7 59.7L174.9 57.1Z" fill="#C5E0ED"/><path d="M292.6 42.9L318.0 43.8L324.4 39.7L333.9 36.5L343.4 32.4L359.3 28.6L375.2 23.8L349.8 21.9L318.0 21.9L292.6 23.8L279.8 27.0L295.7 30.2L286.2 33.3L295.7 36.5L289.4 39.7L292.6 42.9Z" fill="#C5E0ED"/><path d="M279.8 42.5L298.9 43.5L318.0 46.0L316.4 48.9L298.9 49.2L281.4 48.6L279.8 42.5Z" fill="#C5E0ED"/><path d="M268.7 33.3L279.8 27.9L294.2 31.1L292.6 34.9L279.8 36.5L268.7 33.3Z" fill="#C5E0ED"/><path d="M200.3 45.1L216.2 43.5L235.3 44.8L235.3 47.6L222.6 49.2L209.9 48.6L200.3 45.1Z" fill="#C5E0ED"/><path d="M248.0 52.4L260.8 51.1L265.5 55.6L259.2 59.4L248.0 56.5L248.0 52.4Z" fill="#C5E0ED"/><path d="M267.1 50.8L283.0 50.8L286.2 54.0L273.5 57.1L267.1 54.0L267.1 50.8Z" fill="#C5E0ED"/><path d="M295.7 77.8L305.3 76.2L316.4 80.9L311.6 84.1L300.5 85.1L295.7 82.5L295.7 77.8Z" fill="#C5E0ED"/><path d="M383.8 134.3L389.6 125.4L395.6 121.9L395.0 127.0L402.3 129.2L404.8 134.9L402.3 137.8L395.9 136.8L394.3 134.6L383.8 134.3Z" fill="#C5E0ED"/><path d="M164.4 124.4L173.3 126.3L179.7 130.8L179.7 132.4L173.3 130.8L165.4 127.0L164.4 124.4Z" fill="#C5E0ED"/><path d="M612.1 165.1L621.7 164.4L620.4 169.2L612.1 166.3L612.1 165.1Z" fill="#EEF3F6"/><path d="M598.8 155.5L602.9 155.5L602.9 161.3L599.4 161.9L598.8 155.5Z" fill="#EEF3F6"/><path d="M599.7 150.8L602.6 149.2L602.3 154.0L599.7 150.8Z" fill="#EEF3F6"/><path d="M647.4 173.0L656.0 174.0L648.7 174.6L647.4 173.0Z" fill="#EEF3F6"/><path d="M965.1 318.4L969.9 314.3L976.3 312.4L971.5 316.5L965.1 318.4Z" fill="#FDE6DB"/><path d="M941.3 312.7L950.8 312.0L963.5 312.0L954.0 314.0L944.5 314.3L941.3 312.7Z" fill="#FDE6DB"/><path d="M977.9 280.0L981.0 282.5L979.4 288.2L977.9 284.1L977.9 280.0Z" fill="#FDE6DB"/><path d="M979.4 295.2L988.3 296.2L982.6 296.8L979.4 295.2Z" fill="#FDE6DB"/><path d="M1044.6 303.5L1051.0 303.2L1056.4 299.0L1054.2 304.1L1046.2 305.7L1044.6 303.5Z" fill="#FDE6DB"/><g clip-path="url(#landclip)" stroke="#000" stroke-width="2" stroke-linejoin="round"><path d="M124.0 19.0L124.0 94.3L130.4 95.2L136.7 98.7L143.1 96.8L147.9 100.0L154.2 106.3L159.0 108.6L157.4 112.7L146.3 114.3L146.3 132.4L180.6 132.4L181.3 130.2L269.7 130.2L279.8 131.7L289.4 133.3L303.7 138.1L310.1 142.8L310.4 150.8L321.2 149.2L321.2 147.6L329.1 146.0L334.9 142.8L345.0 142.8L349.8 138.1L353.0 135.2L356.8 136.5L357.8 141.3L359.3 143.5L381.6 149.2L413.4 136.5L400.7 114.3L391.1 95.2L391.1 76.2L365.7 54.0L340.3 42.9L337.1 37.1L353.0 31.7L372.1 25.4L381.6 19.0Z" fill="#C5E0ED"/><path d="M0.0 57.1L124.0 57.1L124.0 94.3L130.4 95.2L136.7 98.7L143.1 96.8L147.9 100.0L154.2 106.3L159.0 108.6L157.4 112.7L146.3 114.3L31.8 127.0L0.0 127.0Z" fill="#FBF0EC"/><path d="M171.7 130.2L269.7 130.2L279.8 131.7L289.4 133.3L303.7 138.1L310.1 142.8L310.4 150.8L321.2 149.2L321.2 147.6L329.1 146.0L334.9 142.8L345.0 142.8L349.8 138.1L353.0 135.2L356.8 136.5L357.8 141.3L359.3 143.5L381.6 158.7L333.9 207.9L311.6 209.5L263.3 203.5L256.0 198.4L249.6 191.1L244.9 193.6L240.1 191.7L233.7 184.8L228.3 184.8L228.3 186.3L219.4 186.3L207.3 182.5L200.0 182.5L171.7 184.1Z" fill="#FBF0EC"/><path d="M200.0 182.5L207.3 182.5L219.4 186.3L228.3 186.3L228.3 184.8L233.7 184.8L240.1 191.7L244.9 193.6L249.6 191.1L256.0 198.4L263.3 203.5L270.3 209.5L276.7 222.2L286.2 214.3L298.9 215.9L294.2 227.6L291.6 227.0L288.7 229.2L284.6 229.2L283.0 234.9L279.8 234.9L279.2 239.7L273.5 241.3L235.3 231.7L216.2 215.9L194.0 190.5Z" fill="#FDE6DB"/><path d="M279.2 239.7L279.8 234.9L283.0 234.9L284.6 229.2L288.7 229.2L291.6 227.0L294.2 227.6L292.6 235.2L288.7 238.1L288.4 240.3L285.9 242.2L279.8 242.8Z" fill="#F8B99E"/><path d="M292.6 235.2L308.5 236.5L308.5 238.4L302.7 238.7L299.9 241.6L296.4 242.2L293.8 245.1L292.6 244.4L285.9 242.2L288.4 240.3L288.7 238.1Z" fill="#FCD3BE"/><path d="M308.5 238.4L302.7 238.7L299.9 241.6L296.4 242.2L293.8 245.1L298.9 251.4L299.9 250.5L306.2 251.1L308.5 250.8L310.1 241.3Z" fill="#F8B99E"/><path d="M298.9 251.4L299.9 250.5L306.2 251.1L308.5 250.8L310.1 255.5L308.8 260.3L308.5 261.9L300.5 257.1Z" fill="#FDE6DB"/><path d="M310.1 255.5L308.8 260.3L308.5 261.9L318.0 264.1L326.9 261.9L326.6 258.1L321.2 254.0Z" fill="#FCD3BE"/><path d="M311.6 244.4L464.3 244.4L464.3 349.2L413.4 400.0L381.6 466.6L311.6 466.6Z" fill="#FCD3BE"/><path d="M326.6 258.1L333.9 249.2L345.0 245.1L341.9 250.8L342.5 257.1L342.8 262.5L349.8 263.5L357.8 266.0L358.4 273.0L359.3 281.9L350.4 282.2L351.4 288.9L349.8 299.0L343.4 293.6L337.1 288.9L332.3 285.7L325.9 283.5L321.2 280.9L318.0 273.0L324.4 261.9Z" fill="#FDE6DB"/><path d="M345.0 245.1L381.6 249.2L382.2 259.4L378.4 263.5L380.0 269.2L376.8 271.4L368.9 273.0L367.3 279.4L370.5 280.0L364.1 283.2L360.0 281.9L359.3 281.9L358.4 273.0L357.8 266.0L349.8 263.5L342.8 262.5L342.5 257.1L341.9 250.8Z" fill="#F8B99E"/><path d="M382.2 259.4L391.1 265.7L390.2 274.6L392.7 279.4L386.4 281.6L381.6 279.4L382.2 271.4L380.0 269.2L378.4 263.5Z" fill="#FCD3BE"/><path d="M391.1 265.7L400.7 265.7L399.7 276.2L394.3 279.4L392.7 279.4L390.2 274.6Z" fill="#FDE6DB"/><path d="M400.7 265.7L409.3 271.4L405.5 278.4L399.7 278.4L399.7 276.2Z" fill="#EEF3F6"/><path d="M321.2 280.9L325.9 283.5L332.3 285.7L332.9 288.9L327.5 294.6L322.8 296.8L321.2 301.6L316.4 299.4L311.6 295.2L311.6 282.5Z" fill="#FDE6DB"/><path d="M316.4 299.4L321.2 301.6L322.8 296.8L327.5 294.6L332.9 288.9L332.3 285.7L337.1 288.9L343.4 293.6L349.8 299.0L340.3 301.6L337.1 309.5L340.9 315.9L348.2 315.9L347.9 320.6L353.0 320.6L353.0 327.0L353.0 334.9L351.1 341.3L348.5 344.1L324.4 344.4L308.5 304.7Z" fill="#FBF0EC"/><path d="M353.0 320.6L364.7 316.8L365.7 323.8L375.2 327.9L381.0 329.5L381.0 337.1L387.0 337.4L388.0 347.6L384.8 347.0L375.2 349.2L373.0 356.2L367.3 356.2L362.5 354.9L358.7 358.1L356.2 354.0L354.6 347.6L351.1 341.3L353.0 334.9L353.0 327.0Z" fill="#FDE6DB"/><path d="M373.0 356.2L375.2 349.2L384.8 347.0L388.0 347.6L388.0 355.5L395.0 356.5L395.9 361.9L399.7 362.5L398.8 367.0L397.5 371.4L392.7 372.7L386.1 372.0L389.2 366.3L381.6 361.9Z" fill="#FCD3BE"/><path d="M358.7 358.1L362.5 354.9L367.3 356.2L373.0 356.2L381.6 361.9L389.2 366.3L386.1 372.0L392.7 372.7L397.5 371.4L398.8 367.0L401.3 371.4L395.0 375.5L389.2 381.6L386.7 392.0L386.7 394.6L397.5 403.2L381.6 428.5L375.2 450.8L368.9 463.5L354.3 460.0L354.6 451.7L343.4 450.8L340.3 446.0L341.9 441.2L345.0 433.3L344.1 427.0L344.1 419.0L346.6 409.5L348.2 403.2L350.4 396.8L348.2 390.5L350.4 380.9L354.9 371.4L354.6 365.1L359.3 361.9Z" fill="#FBF0EC"/><path d="M348.5 344.1L351.1 341.3L354.6 347.6L356.2 354.0L358.7 358.1L359.3 361.9L354.6 365.1L354.9 371.4L350.4 380.9L348.2 390.5L350.4 396.8L348.2 403.2L346.6 409.5L344.1 419.0L344.1 427.0L345.0 433.3L341.9 441.2L340.3 446.0L343.4 450.8L354.6 451.7L354.3 460.0L362.5 463.5L324.4 466.6L324.4 344.1Z" fill="#FBF0EC"/><path d="M386.7 392.0L389.2 381.6L394.3 383.5L402.9 389.8L402.6 393.0L398.1 397.4L386.7 395.2Z" fill="#FDE6DB"/><path d="M508.8 165.1L610.6 165.1L680.5 184.1L683.4 192.1L710.7 246.7L737.8 244.4L737.8 400.0L604.2 400.0L508.8 285.7Z" fill="#FCD3BE"/><path d="M530.4 197.8L544.7 197.8L544.7 194.6L556.5 190.5L561.3 187.3L568.6 183.5L566.7 177.8L565.4 173.0L553.3 169.8L537.4 180.9L527.9 200.0Z" fill="#FDE6DB"/><path d="M516.8 219.7L531.1 218.1L531.1 212.7L534.2 211.1L534.2 203.2L544.7 203.2L544.7 197.8L530.4 197.8L515.2 198.4Z" fill="#DEE5EA"/><path d="M544.7 199.0L557.1 206.3L575.6 219.0L582.9 225.4L590.8 223.8L596.2 219.7L610.6 211.1L604.2 207.9L602.6 202.2L604.2 200.0L603.6 193.6L601.0 189.8L596.2 178.4L599.4 168.6L599.7 165.1L565.4 173.0L566.7 177.8L568.6 183.5L561.3 187.3L556.5 190.5L544.7 194.6Z" fill="#FDE6DB"/><path d="M599.4 168.6L596.2 178.4L601.0 189.8L604.8 187.3L609.0 182.5L609.0 180.3L610.6 165.1L599.7 165.1Z" fill="#FDE6DB"/><path d="M609.0 180.3L609.0 182.5L604.8 187.3L601.0 189.8L603.6 193.6L604.2 200.0L602.6 202.2L604.2 207.9L610.6 211.1L617.6 214.0L620.1 212.7L648.7 223.8L648.7 222.2L651.9 222.2L651.9 185.1L651.9 177.8L609.0 177.8Z" fill="#F8B99E"/><path d="M651.9 177.8L651.9 215.9L690.1 215.9L683.7 196.8L683.4 192.1L681.2 186.3L677.3 182.5Z" fill="#F8B99E"/><path d="M516.8 219.7L531.1 218.1L531.1 212.7L534.2 211.1L534.2 203.2L544.7 203.2L544.7 199.0L557.1 206.3L551.7 206.3L554.9 233.3L555.5 236.5L540.6 236.8L535.8 236.2L533.6 238.7L526.3 233.0L519.9 234.9L515.2 234.9Z" fill="#F19F7E"/><path d="M533.6 238.7L535.8 236.2L540.6 236.8L555.5 236.5L554.9 233.3L551.7 206.3L557.1 206.3L575.6 219.0L582.9 225.4L585.8 225.1L585.8 233.3L583.5 236.5L575.6 238.1L572.4 238.1L566.0 240.6L562.9 242.8L558.7 246.0L555.5 248.2L554.9 252.4L547.0 253.3L545.4 250.1L539.6 247.0L536.1 247.0Z" fill="#F8B99E"/><path d="M585.8 225.1L590.8 223.8L596.2 219.7L610.6 211.1L617.6 214.0L620.1 212.7L621.7 219.0L622.6 231.7L615.3 239.7L615.3 242.2L610.6 243.8L602.6 245.1L594.7 244.4L585.1 242.8L583.8 248.6L580.0 247.0L575.6 243.8L572.4 238.1L575.6 238.1L583.5 236.5L585.8 233.3Z" fill="#F19F7E"/><path d="M620.1 212.7L648.7 223.8L648.7 235.9L644.0 241.3L643.3 245.4L644.9 250.8L639.2 255.5L632.2 257.8L621.7 261.9L620.1 254.0L616.9 246.0L618.5 244.4L615.3 242.2L615.3 239.7L622.6 231.7L621.7 219.0Z" fill="#F8B99E"/><path d="M651.9 215.9L690.1 215.9L694.8 228.6L688.5 239.7L686.9 246.0L681.5 251.7L679.9 259.0L677.3 260.9L684.3 268.6L680.5 272.4L671.0 274.3L666.2 271.7L659.5 269.8L652.5 261.9L647.1 258.1L647.4 254.0L644.9 250.8L643.3 245.4L644.0 241.3L648.7 235.9L648.7 222.2L651.9 222.2Z" fill="#E47B64"/><path d="M688.5 239.7L694.8 228.6L699.6 236.5L710.7 245.7L707.2 246.3L699.6 239.7L693.2 239.7Z" fill="#D6594D"/><path d="M688.5 239.7L693.2 239.7L699.6 239.7L707.2 246.3L705.3 250.8L709.1 250.8L708.5 251.4L715.5 257.8L725.0 260.3L715.5 269.8L706.0 272.4L698.0 274.6L686.9 271.7L684.3 268.6L677.3 260.9L679.9 259.0L681.5 251.7L686.9 246.0Z" fill="#FCD3BE"/><path d="M709.1 250.8L710.1 248.2L737.8 246.0L737.8 254.0L704.4 292.0L702.8 288.9L702.8 276.2L706.0 272.4L715.5 269.8L725.0 260.3L715.5 257.8L708.5 251.4Z" fill="#DEE5EA"/><path d="M680.5 272.4L684.3 268.6L686.9 271.7L698.0 274.6L706.0 272.4L702.8 276.2L702.8 288.9L704.4 292.0L697.1 300.6L692.0 295.5L680.5 288.9L680.5 284.1L683.7 280.3Z" fill="#FDE6DB"/><path d="M666.2 271.7L671.0 274.3L680.5 272.4L683.7 280.3L680.5 284.1L680.5 288.9L667.8 289.8L666.8 284.1L671.0 278.7Z" fill="#F8B99E"/><path d="M516.8 234.9L519.9 234.9L526.3 233.0L533.6 238.7L536.1 247.0L528.8 245.7L519.3 246.7L515.2 244.4Z" fill="#F19F7E"/><path d="M519.3 246.7L528.8 245.7L536.1 247.0L539.6 247.0L545.4 250.1L547.0 253.3L546.0 261.6L542.8 262.2L539.6 258.7L537.4 254.0L532.6 254.6L530.1 257.1L524.7 251.4L518.3 250.8Z" fill="#F8B99E"/><path d="M530.1 257.1L532.6 254.6L537.4 254.0L539.6 258.7L535.8 263.8L529.5 260.3Z" fill="#FCD3BE"/><path d="M535.8 263.8L539.6 258.7L542.8 262.2L546.0 261.6L548.6 272.0L543.8 271.4Z" fill="#F8B99E"/><path d="M547.0 253.3L554.9 252.4L563.5 255.5L563.5 269.8L548.6 272.0L546.0 261.6Z" fill="#F8B99E"/><path d="M555.5 248.2L558.7 246.0L562.9 242.8L566.0 240.6L572.4 238.1L575.6 243.8L580.0 247.0L575.3 250.8L563.5 250.8L563.5 255.5L554.9 252.4Z" fill="#F19F7E"/><path d="M563.5 255.5L563.5 250.8L572.4 250.8L574.3 260.3L576.2 267.3L563.5 269.8Z" fill="#FCD3BE"/><path d="M572.4 250.8L575.3 250.8L580.0 247.0L583.8 248.6L581.3 257.1L581.0 265.7L576.2 267.3L574.3 260.3Z" fill="#F8B99E"/><path d="M581.0 265.7L581.3 257.1L583.8 248.6L585.1 242.8L594.7 244.4L602.6 245.1L610.6 243.8L615.3 242.2L618.5 244.4L616.9 246.0L618.8 249.2L615.3 254.0L613.1 258.7L609.9 263.5L605.8 263.5L602.0 265.4L599.7 271.4L588.3 273.0Z" fill="#FCD3BE"/><path d="M537.4 173.0L588.3 166.7L610.6 171.4L636.0 174.6L655.1 176.2L667.8 171.4L683.7 171.4L706.0 155.5L726.6 153.0L725.0 136.5L699.6 120.6L674.2 95.2L674.2 57.1L588.3 57.1L581.9 95.2L537.4 111.1Z" fill="#DDEBF3"/><path d="M663.0 66.7L667.8 79.4L666.2 85.7L672.6 87.3L661.4 93.6L661.4 96.8L659.9 103.2L662.1 107.6L670.7 109.2L671.0 112.7L675.8 116.5L672.3 120.0L673.5 120.3L680.5 119.7L685.3 123.8L685.3 125.7L693.2 127.3L699.6 128.2L699.0 133.3L694.2 135.9L690.1 139.7L690.1 144.4L699.6 147.9L711.7 150.5L720.3 153.0L726.6 153.0L729.8 146.0L728.2 138.1L721.9 133.3L720.9 130.2L726.6 127.0L734.6 122.2L745.7 123.8L758.4 123.8L768.0 123.8L766.4 114.9L779.1 112.7L791.8 110.2L798.2 113.6L806.1 114.3L815.7 113.6L820.1 116.5L826.8 123.8L836.3 123.8L844.3 127.0L850.0 129.5L851.6 129.5L865.0 124.8L874.5 127.0L884.0 120.6L896.8 122.5L897.7 125.4L912.7 127.0L923.8 129.5L936.5 126.3L943.5 127.6L947.0 128.6L953.4 120.0L956.5 116.5L965.1 115.9L973.1 119.0L977.9 127.0L987.4 130.8L989.0 134.3L1000.7 132.1L996.0 142.8L989.6 143.5L989.0 149.2L987.7 151.1L998.5 152.4L1014.4 140.0L1022.4 140.0L1022.4 111.1L1081.2 133.3L1183.0 95.2L1183.0 38.1L890.4 19.0L715.5 25.4L677.3 50.8L672.6 61.9L669.4 64.4Z" fill="#A7D0E5"/><path d="M585.1 101.6L596.2 102.2L607.4 98.4L609.9 95.9L612.1 90.5L611.2 85.1L616.9 80.9L618.5 76.2L624.9 69.8L630.3 68.3L637.0 66.7L640.8 65.7L648.7 67.6L655.1 64.1L661.4 63.8L664.6 66.0L669.4 64.4L672.6 61.9L651.9 57.1L604.2 76.2L581.9 88.9Z" fill="#89BFDC"/><path d="M607.4 98.4L609.9 95.9L612.1 90.5L611.2 85.1L616.9 80.9L618.5 76.2L624.9 69.8L630.3 68.3L637.0 66.7L640.8 65.7L647.8 70.2L647.1 75.6L649.4 76.8L642.4 84.1L636.0 92.1L634.4 101.6L623.3 111.1L612.1 110.2L606.7 100.0Z" fill="#C5E0ED"/><path d="M637.0 66.7L640.8 65.7L648.7 67.6L655.1 64.1L661.4 63.8L664.6 66.0L663.0 66.7L667.8 79.4L666.2 85.7L672.6 87.3L661.4 93.6L645.5 96.8L637.6 93.6L639.2 85.7L649.4 76.8L647.1 75.6L647.8 70.2L640.8 65.7Z" fill="#89BFDC"/><path d="M639.2 107.9L639.2 102.2L647.1 96.5L661.4 96.5L659.9 103.2L662.1 107.6L656.7 110.2L653.5 113.6L647.1 114.6L644.9 113.0L639.2 110.5Z" fill="#C5E0ED"/><path d="M647.1 114.6L653.5 113.6L656.7 110.2L662.1 107.6L670.7 109.2L671.0 112.7L675.8 116.5L672.3 120.0L669.4 122.9L658.3 122.2L647.4 121.9L647.1 119.0Z" fill="#C5E0ED"/><path d="M643.0 132.1L647.4 121.9L658.3 122.2L669.4 122.9L672.3 120.0L673.5 120.3L680.5 119.7L685.3 123.8L685.3 125.7L693.2 127.3L699.6 128.2L699.0 133.3L694.2 135.9L688.5 141.9L686.9 146.0L677.3 146.0L666.5 142.2L662.1 141.3L664.6 138.1L667.8 138.1L661.4 132.4L657.0 132.4L651.3 134.0L645.2 133.3Z" fill="#DDEBF3"/><path d="M617.6 114.3L618.8 123.8L620.1 124.1L626.1 125.7L632.2 128.6L644.0 129.8L648.7 125.4L647.4 121.9L647.1 119.0L647.1 114.6L644.9 113.0L635.4 112.4L629.6 111.1Z" fill="#DDEBF3"/><path d="M591.5 123.8L594.7 114.9L601.0 111.1L617.6 114.3L618.8 123.8L610.9 126.0L616.3 131.1L613.7 134.9L596.6 134.6L598.5 130.2L592.1 128.6Z" fill="#DDEBF3"/><path d="M556.5 131.7L580.4 123.2L592.1 128.6L598.5 130.2L596.6 134.6L591.5 138.4L594.7 140.0L594.0 145.1L596.6 147.0L582.3 151.1L577.8 150.8L566.7 148.2Z" fill="#EEF3F6"/><path d="M566.7 148.2L577.8 150.8L582.9 151.1L585.1 161.9L572.4 171.4L548.9 168.6L548.6 165.1L550.1 159.7L552.4 154.0L546.3 152.4L544.1 152.7L540.6 146.0L566.0 146.0Z" fill="#FBF0EC"/><path d="M548.9 168.6L548.6 165.1L550.1 159.7L552.4 154.0L546.3 152.4L544.1 152.7L540.6 158.7L542.2 169.8Z" fill="#FBF0EC"/><path d="M594.0 145.1L594.7 140.0L599.4 138.4L605.8 136.8L611.5 136.5L616.0 138.1L616.3 140.9L611.5 144.4L632.8 158.7L623.3 166.7L610.6 165.1L597.8 146.0Z" fill="#EEF3F6"/><path d="M591.5 138.4L596.6 134.6L613.7 134.9L616.3 131.1L626.5 130.8L624.9 136.5L623.3 137.1L616.0 138.1L611.5 136.5L605.8 136.8L599.4 138.4L594.7 140.0Z" fill="#DDEBF3"/><path d="M610.9 126.0L618.8 123.8L620.1 124.1L626.1 125.7L632.2 128.6L644.0 129.8L643.0 132.1L645.2 133.3L639.2 138.7L632.2 140.0L624.9 136.5L626.5 130.8L616.3 131.1Z" fill="#DDEBF3"/><path d="M645.2 133.3L651.3 134.0L657.0 132.4L661.4 132.4L662.1 141.3L666.5 142.2L663.3 147.0L658.3 145.7L644.6 146.0L640.5 143.5L639.2 138.7Z" fill="#DDEBF3"/><path d="M616.0 138.1L623.3 137.1L624.9 136.5L632.2 140.0L639.2 138.7L640.5 143.5L644.6 146.0L658.3 145.7L663.3 147.0L661.4 152.4L656.0 153.3L655.1 155.5L648.7 154.0L645.2 154.9L639.2 155.9L636.0 159.7L633.8 157.1L633.8 152.4L615.3 141.3Z" fill="#EEF3F6"/><path d="M636.0 159.7L639.2 155.9L645.2 154.9L648.7 154.0L655.1 155.5L656.7 157.1L655.1 174.6L639.2 171.4L634.4 160.3Z" fill="#EEF3F6"/><path d="M655.1 152.4L661.4 151.7L706.0 153.6L710.7 155.2L711.4 158.1L714.9 159.7L713.0 163.5L714.9 167.6L707.2 167.9L699.6 168.9L693.2 168.6L688.8 168.9L687.5 171.7L686.2 172.1L655.1 172.1L653.5 158.7Z" fill="#FBF0EC"/><path d="M699.6 147.9L711.7 150.5L720.3 153.0L726.6 153.0L733.0 157.1L728.2 164.1L725.0 159.7L714.9 159.7L711.4 158.1L710.7 155.2L706.0 153.6L703.7 154.0Z" fill="#EEF3F6"/><path d="M728.2 138.1L721.9 133.3L720.9 130.2L726.6 127.0L734.6 122.2L745.7 123.8L758.4 123.8L768.0 123.8L766.4 114.9L779.1 112.7L791.8 110.2L798.2 113.6L806.1 114.3L815.7 113.6L820.1 116.5L826.8 123.8L836.3 123.8L844.3 127.0L850.0 129.5L845.2 135.9L836.3 135.9L834.1 141.3L826.8 142.8L827.8 151.7L823.6 149.8L809.9 148.6L806.1 150.8L798.2 150.8L791.8 154.6L788.6 155.5L783.9 154.9L782.3 149.2L766.4 145.1L758.4 141.3L750.5 142.8L750.5 154.6L746.7 152.7L740.9 151.7L731.4 143.5Z" fill="#C5E0ED"/><path d="M851.6 129.5L865.0 124.8L874.5 127.0L884.0 120.6L896.8 122.5L897.7 125.4L912.7 127.0L923.8 129.5L936.5 126.3L943.5 127.6L939.7 133.3L949.2 134.0L953.4 137.5L942.9 138.7L934.9 142.8L927.9 142.8L927.0 147.0L920.6 150.8L906.3 153.3L893.6 150.5L879.3 149.8L875.5 145.4L861.8 142.2L860.8 137.1L852.2 131.7Z" fill="#67A8D1"/><path d="M807.1 160.3L810.3 157.1L816.6 155.9L827.8 151.7L826.8 142.8L834.1 141.3L836.3 135.9L845.2 135.9L850.0 129.5L851.6 129.5L852.2 131.7L860.8 137.1L861.8 142.2L875.5 145.4L879.3 149.8L893.6 150.5L906.3 153.3L920.6 150.8L927.0 147.0L927.9 142.8L934.9 142.8L942.9 138.7L953.4 137.5L949.2 134.0L939.7 133.3L943.5 127.6L947.0 128.6L953.4 120.0L956.5 116.5L965.1 115.9L973.1 119.0L977.9 127.0L987.4 130.8L989.0 134.3L1000.7 132.1L996.0 142.8L989.6 143.5L989.0 149.2L987.7 151.1L985.2 149.5L979.4 152.4L975.6 153.3L967.7 158.7L965.1 171.4L966.7 190.5L952.4 214.3L931.7 223.8L920.6 219.7L915.5 217.4L911.7 215.9L907.3 211.7L902.8 214.3L897.4 214.6L894.2 218.4L891.0 217.4L887.9 215.2L886.9 208.9L882.8 207.0L886.3 198.1L882.1 195.9L878.3 192.7L874.5 193.0L865.0 197.5L864.0 197.5L855.4 196.5L854.8 199.0L852.6 197.1L845.9 196.8L839.2 192.7L830.6 189.8L827.4 187.9L823.6 186.7L823.0 182.2L825.2 180.9L823.0 176.5L820.1 173.0L813.8 169.2L809.3 167.9L810.6 163.5Z" fill="#FBF0EC"/><path d="M789.3 210.5L796.0 208.2L798.2 207.3L795.0 201.6L796.3 196.8L802.3 194.3L807.4 190.5L809.6 187.0L812.2 183.2L808.7 180.9L807.1 176.5L809.3 174.6L813.8 169.2L820.1 173.0L823.0 176.5L825.2 180.9L823.0 182.2L823.6 186.7L827.4 187.9L830.6 189.8L827.1 194.3L837.3 198.7L845.2 201.3L852.6 201.9L852.6 197.1L854.8 199.0L855.1 200.3L865.0 200.3L864.0 197.5L865.0 197.5L874.5 193.0L878.3 192.7L882.1 195.9L880.9 199.4L875.1 202.5L873.2 207.3L869.1 209.5L869.4 215.9L866.9 216.2L865.9 210.5L862.4 210.5L865.6 206.3L858.0 205.7L858.0 203.2L853.5 202.2L852.6 207.9L854.5 208.9L855.4 217.4L849.1 222.2L833.2 241.3L828.4 257.1L818.9 263.5L807.7 247.6L801.4 222.2L788.6 219.0Z" fill="#E47B64"/><path d="M827.1 194.3L830.6 189.8L839.2 192.7L845.9 196.8L852.6 197.1L852.6 201.9L845.2 201.3L837.3 198.7Z" fill="#F8B99E"/><path d="M854.8 199.0L855.4 196.5L864.0 197.5L865.0 200.3L855.1 200.3Z" fill="#FCD3BE"/><path d="M852.6 207.9L853.5 202.2L858.0 203.2L858.0 205.7L865.6 206.3L862.4 210.5L865.9 210.5L866.9 216.2L865.9 220.6L861.8 219.0L855.4 217.4L854.5 208.9Z" fill="#F19F7E"/><path d="M768.3 205.7L769.2 202.2L773.4 199.4L771.2 192.4L766.1 191.1L783.2 190.8L783.2 187.3L792.8 184.4L793.4 180.6L796.0 179.7L798.5 177.8L800.1 170.2L809.3 167.9L813.8 169.2L809.3 174.6L807.1 176.5L808.7 180.9L812.2 183.2L809.6 187.0L807.4 190.5L802.3 194.3L796.3 196.8L795.0 201.6L798.2 207.3L796.0 208.2L789.3 210.5L782.3 211.1L768.3 209.5Z" fill="#F19F7E"/><path d="M766.1 191.1L769.2 186.0L765.7 185.7L765.1 180.3L767.0 172.7L770.5 173.6L777.5 170.5L783.9 167.0L788.6 168.2L792.8 167.9L795.6 166.3L800.1 168.2L799.1 164.1L800.7 169.2L809.3 167.9L800.1 170.2L798.5 177.8L796.0 179.7L793.4 180.6L792.8 184.4L783.2 187.3L783.2 190.8Z" fill="#EEF3F6"/><path d="M714.9 159.7L725.0 159.7L728.2 166.7L734.6 169.8L743.8 167.3L750.5 164.8L754.3 164.1L761.0 166.7L767.0 169.5L767.0 172.7L765.1 180.3L765.7 185.7L769.2 186.0L766.1 191.1L771.2 192.4L773.4 199.4L769.2 202.2L768.3 205.7L768.3 209.5L753.7 205.7L752.1 201.3L744.1 202.5L737.8 200.0L731.4 193.6L727.6 190.8L725.0 188.9L724.1 187.3L724.4 183.2L718.7 180.9L716.8 177.8L718.7 172.4L714.9 167.6L713.0 163.5Z" fill="#FDE6DB"/><path d="M695.8 179.7L702.8 176.5L703.4 169.5L707.2 167.9L714.9 167.6L718.7 172.4L716.8 177.8L718.7 180.9L724.4 183.2L724.1 187.3L725.0 188.9L726.6 190.8L724.7 190.5L724.1 192.4L720.3 193.3L714.5 193.0L706.0 187.0L700.9 184.4L697.1 183.5Z" fill="#F19F7E"/><path d="M683.4 192.4L687.2 193.0L691.7 190.5L693.2 188.9L690.1 185.7L697.1 183.5L700.9 184.4L706.0 187.0L714.5 193.0L720.3 193.3L724.1 192.4L726.3 195.2L731.4 200.6L732.7 204.8L733.9 207.3L736.5 208.9L739.7 213.0L747.6 214.0L749.5 215.9L747.3 222.2L737.8 225.4L728.2 226.7L725.7 227.9L721.2 230.8L716.8 230.8L712.3 230.5L709.8 230.5L708.5 233.6L702.8 231.7L693.2 217.4L685.3 203.2L682.1 196.8Z" fill="#D6594D"/><path d="M708.5 233.6L709.8 230.5L712.3 230.5L716.8 230.8L721.2 230.8L725.7 227.9L728.2 226.7L737.8 225.4L741.3 232.7L740.9 247.6L710.1 246.0L706.0 241.3Z" fill="#F8B99E"/><path d="M737.8 225.4L747.3 222.2L749.5 215.9L747.9 213.6L749.8 208.9L751.4 206.7L751.8 201.6L764.8 212.7L756.8 231.7L740.9 247.6L741.3 232.7Z" fill="#C4393B"/><path d="M736.5 208.9L739.7 213.0L747.6 214.0L747.9 213.6L749.8 208.9L751.4 206.7L751.8 201.6L744.1 203.2L737.8 206.3Z" fill="#D6594D"/><path d="M724.1 192.4L724.7 190.5L726.6 190.8L726.3 195.2Z" fill="#F8B99E"/><path d="M683.4 192.4L687.2 193.0L691.7 190.5L693.2 188.9L690.1 185.7L697.1 183.5L695.8 179.7L689.4 183.2L685.6 181.9L685.0 187.3Z" fill="#FCD3BE"/><path d="M685.6 181.9L689.4 183.2L695.8 179.7L702.8 176.5L703.4 169.5L707.2 167.9L699.6 168.9L693.2 168.6L688.8 168.9L687.5 171.7L686.2 172.1L686.6 175.9L688.2 176.8L686.6 180.0Z" fill="#F8B99E"/><path d="M681.2 186.3L683.4 192.4L685.0 187.3L685.6 181.9L686.6 180.0L688.2 176.8L686.6 175.9L683.7 175.9Z" fill="#FBF0EC"/><path d="M739.4 153.3L746.7 152.7L750.5 154.6L753.7 154.6L758.4 150.2L763.2 151.7L768.0 154.9L771.2 158.7L777.5 162.2L783.9 167.0L777.5 170.5L770.5 173.6L767.0 172.7L767.0 169.5L761.0 166.7L754.3 164.1L750.5 164.8L743.8 167.3L740.9 161.9Z" fill="#FDE6DB"/><path d="M750.5 142.8L758.4 141.3L766.4 145.1L782.3 149.2L783.9 154.9L788.6 155.5L791.8 154.6L798.2 150.8L796.6 154.0L804.5 156.2L799.8 158.7L796.6 158.1L792.8 156.2L787.1 160.3L788.6 168.2L783.9 167.0L777.5 162.2L771.2 158.7L768.0 154.9L763.2 151.7L758.4 150.2L753.7 154.6L750.5 154.6Z" fill="#EEF3F6"/><path d="M792.8 156.2L796.6 158.1L799.8 158.7L804.5 156.2L796.6 154.0L798.2 150.8L806.1 150.8L809.9 148.6L823.6 149.8L827.8 151.7L816.6 155.9L810.3 157.1L807.1 160.3L810.6 163.5L809.3 167.9L800.7 169.2L799.1 164.1L800.1 168.2L795.6 166.3L792.8 167.9L788.6 168.2L787.1 160.3Z" fill="#A7D0E5"/><path d="M865.9 220.6L866.9 216.2L869.4 215.9L869.1 209.5L873.2 207.3L875.1 202.5L880.9 199.4L882.1 195.9L886.3 198.1L882.8 207.0L886.9 208.9L887.9 215.2L891.0 217.4L894.2 218.4L890.7 221.3L887.2 222.2L883.4 227.0L882.1 231.7L885.9 234.3L884.7 238.1L887.5 242.8L889.1 248.6L886.3 254.0L880.9 254.0L868.1 238.1L865.0 225.4Z" fill="#F19F7E"/><path d="M883.4 227.0L887.2 222.2L890.7 221.3L892.0 223.8L894.2 223.8L893.6 229.2L897.1 227.9L902.8 227.6L905.7 230.5L905.7 234.0L908.2 236.5L906.9 240.3L899.9 240.6L898.0 242.5L899.6 248.6L893.6 247.6L892.0 244.7L890.4 250.8L892.0 258.7L897.1 266.0L893.9 267.6L890.7 265.4L887.2 261.9L884.0 260.3L886.3 254.0L889.1 248.6L887.5 242.8L884.7 238.1L885.9 234.3L882.1 231.7Z" fill="#F8B99E"/><path d="M890.7 221.3L894.2 218.4L897.4 214.6L899.6 216.8L905.7 220.6L903.1 224.4L906.9 226.7L914.2 234.3L914.2 239.0L909.5 240.3L906.9 240.3L908.2 236.5L905.7 234.0L905.7 230.5L902.8 227.6L897.1 227.9L893.6 229.2L894.2 223.8L892.0 223.8Z" fill="#F8B99E"/><path d="M897.4 214.6L902.8 214.3L907.3 211.7L911.7 215.9L915.5 217.4L922.2 219.0L922.2 254.0L904.7 260.3L904.4 252.7L908.8 250.8L909.5 248.2L914.2 246.7L914.2 239.0L914.2 234.3L906.9 226.7L903.1 224.4L905.7 220.6L899.6 216.8Z" fill="#F8B99E"/><path d="M898.0 242.5L899.9 240.6L906.9 240.3L909.5 240.3L914.2 239.0L914.2 246.7L909.5 248.2L908.8 250.8L904.4 252.7L899.9 252.4L899.6 248.6Z" fill="#FCD3BE"/><path d="M890.7 265.4L893.9 267.6L897.1 266.0L901.5 269.8L905.7 281.9L899.9 282.5L890.4 273.0Z" fill="#FCD3BE"/><path d="M603.6 275.5L603.6 278.7L608.3 278.7L614.4 278.7L618.5 278.7L623.3 280.0L623.9 274.6L631.5 274.6L631.5 269.8L634.4 269.2L644.0 272.4L652.9 269.2L659.5 269.8M599.7 271.4L602.0 265.4L605.8 263.5L609.9 263.5L613.1 258.7L615.3 254.0L618.8 249.2L616.9 246.0M621.7 261.9L618.5 266.7L618.8 271.4L623.3 280.0M621.7 261.9L632.2 257.8L639.2 255.5L644.9 250.8M631.5 274.6L629.0 282.5L628.7 288.9L623.9 292.0L623.3 296.8L618.5 301.3L613.7 300.3L610.6 301.6M608.3 278.7L608.3 282.5L602.6 282.5M618.5 278.7L617.6 287.3L618.5 292.0L613.1 293.0L609.0 293.0L608.0 298.1M611.5 304.7L624.9 304.4L626.5 309.5L634.4 307.9L636.0 311.1L641.7 311.1L641.7 320.6L648.7 320.6L648.7 327.0L642.4 327.0L642.4 337.1L647.1 341.6L640.8 342.8L636.0 342.2L631.2 340.9L616.9 340.9L609.9 340.6M648.7 320.6L653.5 322.5L658.9 323.8L663.0 325.4L664.6 328.2L667.2 324.4L662.7 323.2L663.3 315.9L664.3 312.7L670.3 311.7L669.4 307.9L666.2 304.7L665.6 299.7L664.6 294.6L666.5 290.1L666.8 284.1M670.3 311.7L677.0 315.5L680.5 315.9L682.1 322.2L683.1 322.5L691.7 322.8L700.9 319.0M680.5 315.9L677.3 322.2L678.3 330.1L668.4 333.3L669.1 335.2L664.3 336.2L658.3 342.5L652.9 342.2L647.1 341.6M682.1 322.2L682.1 331.7L686.2 336.5L684.7 339.7L681.5 336.5L676.7 329.5L678.3 330.1M669.1 335.2L677.3 339.7L676.7 347.6L675.4 353.3L671.9 356.8L665.9 356.2L661.4 354.3L655.1 347.6L652.9 342.2M671.9 356.8L673.8 363.2L674.2 370.8L677.0 370.8M665.9 356.2L658.3 360.6L653.8 367.0L645.5 366.0L638.5 370.8L636.0 364.4L636.0 355.5L639.2 355.5L639.2 343.8L640.8 342.8M636.0 364.4L636.0 375.9L627.7 377.1L624.9 376.5M658.3 379.7L663.0 376.8L665.9 379.7L662.7 382.8L659.2 381.9L658.3 379.7M671.0 367.6L674.2 367.6L674.5 372.4L670.7 370.8L671.0 367.6M666.8 284.1L667.8 289.8L669.4 289.2L670.3 293.0L669.4 293.3L664.6 294.6M669.4 289.2L680.2 288.9L692.0 295.5L697.1 300.6M670.3 293.0L669.4 299.7L665.6 299.7" fill="none"/><path d="M664.9 154.9L661.4 152.7L660.5 149.8L663.0 147.6L663.7 144.4L666.8 141.9L670.0 138.4L674.2 138.1L678.9 139.7L676.1 141.6L678.9 144.4L684.7 142.8L688.5 141.9L683.7 139.0L691.7 136.5L696.4 136.2L692.3 138.7L693.2 142.8L690.1 143.5L694.8 145.4L699.6 148.2L704.4 150.8L704.4 154.0L699.6 155.5L693.2 155.5L688.5 154.6L683.7 152.4L677.3 152.4L671.9 154.9L664.9 154.9Z" fill="#fff" stroke="none"/><path d="M728.2 138.1L734.6 137.1L740.9 137.5L739.4 141.9L734.6 144.4L732.4 144.4L735.2 148.6L739.4 150.8L739.4 154.0L743.5 156.2L740.9 160.3L743.5 163.5L743.5 168.2L737.8 169.2L732.4 167.6L728.2 165.7L728.2 162.5L729.8 157.8L726.0 153.0L723.5 149.2L721.9 144.4L723.5 140.6L728.2 138.1Z" fill="#fff" stroke="none"/></g><use href="#coast"/><use href="#isl"/>
</svg>
<rect x="70.0" y="2104.9" width="1136.0" height="571.4" fill="none" stroke="#000" stroke-width="2.3"/>
<path d="M61.0 2104.9H70.0M61.0 2247.8H70.0M61.0 2390.6H70.0M61.0 2533.4H70.0M61.0 2676.3H70.0M133.6 2676.3v9M260.8 2676.3v9M388.0 2676.3v9M515.2 2676.3v9M642.4 2676.3v9M769.6 2676.3v9M896.8 2676.3v9M1024.0 2676.3v9M1151.2 2676.3v9" stroke="#000" stroke-width="2" fill="none"/>
<text class="k" text-anchor="end" x="54" y="2111.4">90°N</text>
<text class="k" text-anchor="end" x="54" y="2254.2">45°N</text>
<text class="k" text-anchor="end" x="54" y="2397.1">0°</text>
<text class="k" text-anchor="end" x="54" y="2539.9">45°S</text>
<text class="k" text-anchor="end" x="54" y="2682.8">90°S</text>
<text class="k" text-anchor="middle" x="133.6" y="2709.8">160°W</text>
<text class="k" text-anchor="middle" x="260.8" y="2709.8">120°W</text>
<text class="k" text-anchor="middle" x="388.0" y="2709.8">80°W</text>
<text class="k" text-anchor="middle" x="515.2" y="2709.8">40°W</text>
<text class="k" text-anchor="middle" x="642.4" y="2709.8">0°</text>
<text class="k" text-anchor="middle" x="769.6" y="2709.8">40°E</text>
<text class="k" text-anchor="middle" x="896.8" y="2709.8">80°E</text>
<text class="k" text-anchor="middle" x="1024.0" y="2709.8">120°E</text>
<text class="k" text-anchor="middle" x="1151.2" y="2709.8">160°E</text>
<text class="l" x="91.5" y="2155.9" fill="#000" style="fill:#000">d</text>
<rect x="1262.5" y="2104.90" width="57.5" height="36.21" fill="#C4393B"/>
<rect x="1262.5" y="2140.61" width="57.5" height="36.21" fill="#D6594D"/>
<rect x="1262.5" y="2176.33" width="57.5" height="36.21" fill="#E47B64"/>
<rect x="1262.5" y="2212.04" width="57.5" height="36.21" fill="#F19F7E"/>
<rect x="1262.5" y="2247.75" width="57.5" height="36.21" fill="#F8B99E"/>
<rect x="1262.5" y="2283.46" width="57.5" height="36.21" fill="#FCD3BE"/>
<rect x="1262.5" y="2319.18" width="57.5" height="36.21" fill="#FDE6DB"/>
<rect x="1262.5" y="2354.89" width="57.5" height="36.21" fill="#FBF0EC"/>
<rect x="1262.5" y="2390.60" width="57.5" height="36.21" fill="#EEF3F6"/>
<rect x="1262.5" y="2426.31" width="57.5" height="36.21" fill="#DDEBF3"/>
<rect x="1262.5" y="2462.03" width="57.5" height="36.21" fill="#C5E0ED"/>
<rect x="1262.5" y="2497.74" width="57.5" height="36.21" fill="#A7D0E5"/>
<rect x="1262.5" y="2533.45" width="57.5" height="36.21" fill="#89BFDC"/>
<rect x="1262.5" y="2569.16" width="57.5" height="36.21" fill="#67A8D1"/>
<rect x="1262.5" y="2604.88" width="57.5" height="36.21" fill="#4393C3"/>
<rect x="1262.5" y="2640.59" width="57.5" height="36.21" fill="#2F7BBA"/>
<rect x="1262.5" y="2104.9" width="57.5" height="571.4" fill="none" stroke="#000" stroke-width="1.4"/>
<text class="c" x="1337" y="2154.1">1.4</text>
<text class="c" x="1337" y="2225.5">1.0</text>
<text class="c" x="1337" y="2297.0">0.6</text>
<text class="c" x="1337" y="2368.4">0.2</text>
<text class="c" x="1337" y="2439.8">-0.2</text>
<text class="c" x="1337" y="2511.2">-0.6</text>
<text class="c" x="1337" y="2582.7">-1.0</text>
<text class="c" x="1337" y="2654.1">-1.4</text>
<path d="M1320.0 2140.6h8.5M1320.0 2212.0h8.5M1320.0 2283.5h8.5M1320.0 2354.9h8.5M1320.0 2426.3h8.5M1320.0 2497.7h8.5M1320.0 2569.2h8.5M1320.0 2640.6h8.5" stroke="#000" stroke-width="2" fill="none"/>
<text class="c" style="font-size:34.5px" text-anchor="middle" transform="translate(1410 2390.6) rotate(90)">(%)</text>
</g>
</svg></body></html>
